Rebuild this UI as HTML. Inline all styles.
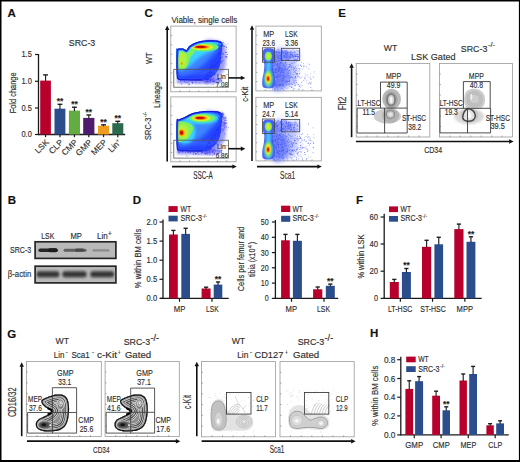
<!DOCTYPE html>
<html><head><meta charset="utf-8"><style>
html,body{margin:0;padding:0;background:#fff;width:520px;height:462px;overflow:hidden;}
svg{display:block;}
text{font-family:"Liberation Sans",sans-serif;fill:#2e2e2e;stroke:#2e2e2e;stroke-width:0.15px;}
</style></head><body>
<svg width="520" height="462" viewBox="0 0 520 462">
<defs>
<filter id="b1" x="-20%" y="-20%" width="140%" height="140%"><feGaussianBlur stdDeviation="1"/></filter>
<filter id="b15" x="-20%" y="-20%" width="140%" height="140%"><feGaussianBlur stdDeviation="1.5"/></filter>
<filter id="b2" x="-30%" y="-30%" width="160%" height="160%"><feGaussianBlur stdDeviation="2"/></filter>
<filter id="b3" x="-30%" y="-30%" width="160%" height="160%"><feGaussianBlur stdDeviation="3"/></filter>
<filter id="b07" x="-20%" y="-20%" width="140%" height="140%"><feGaussianBlur stdDeviation="0.7"/></filter>
</defs>
<rect x="0" y="0" width="520" height="462" fill="#fff"/>

<text x="7.5" y="16.6" font-size="11.5" font-weight="bold" style="fill:#111;stroke:#111" >A</text>
<text x="82" y="46.3" font-size="9.4" text-anchor="middle" textLength="26.5" lengthAdjust="spacingAndGlyphs" >SRC-3</text>
<line x1="38.5" y1="54" x2="38.5" y2="135.1" stroke="#1a1a1a" stroke-width="1.3"/>
<line x1="35" y1="54.5" x2="38.5" y2="54.5" stroke="#1a1a1a" stroke-width="1.2"/>
<text x="31.8" y="57.4" font-size="8.8" text-anchor="end" textLength="10.4" lengthAdjust="spacingAndGlyphs" >1.5</text>
<line x1="35" y1="81.3" x2="38.5" y2="81.3" stroke="#1a1a1a" stroke-width="1.2"/>
<text x="31.8" y="84.2" font-size="8.8" text-anchor="end" textLength="10.4" lengthAdjust="spacingAndGlyphs" >1.0</text>
<line x1="35" y1="108.0" x2="38.5" y2="108.0" stroke="#1a1a1a" stroke-width="1.2"/>
<text x="31.8" y="110.9" font-size="8.8" text-anchor="end" textLength="10.4" lengthAdjust="spacingAndGlyphs" >0.5</text>
<line x1="35" y1="134.5" x2="38.5" y2="134.5" stroke="#1a1a1a" stroke-width="1.2"/>
<text x="31.8" y="137.4" font-size="8.8" text-anchor="end" textLength="10.4" lengthAdjust="spacingAndGlyphs" >0.0</text>
<line x1="38" y1="134.5" x2="125.2" y2="134.5" stroke="#1a1a1a" stroke-width="1.3"/>
<text x="0" y="0" transform="translate(15.6,92.9) rotate(-90)" font-size="9.2" text-anchor="middle" textLength="40.8" lengthAdjust="spacingAndGlyphs" >Fold change</text>
<rect x="40.2" y="80.6" width="10.7" height="53.9" fill="#b8002c"/>
<line x1="45.55" y1="81.1" x2="45.55" y2="74.9" stroke="#1e1e1e" stroke-width="1.15"/>
<line x1="43.15" y1="74.9" x2="47.949999999999996" y2="74.9" stroke="#1e1e1e" stroke-width="1.4"/>
<line x1="45.55" y1="134.5" x2="45.55" y2="137.2" stroke="#1a1a1a" stroke-width="1.2"/>
<rect x="54.5" y="108.7" width="10.9" height="25.8" fill="#2c4d8c"/>
<line x1="59.95" y1="109.2" x2="59.95" y2="104.3" stroke="#1e1e1e" stroke-width="1.15"/>
<line x1="57.550000000000004" y1="104.3" x2="62.35" y2="104.3" stroke="#1e1e1e" stroke-width="1.4"/>
<line x1="59.95" y1="134.5" x2="59.95" y2="137.2" stroke="#1a1a1a" stroke-width="1.2"/>
<text x="59.95" y="104.19999999999999" font-size="8.4" font-weight="bold" text-anchor="middle" style="fill:#222;stroke:#222" >**</text>
<rect x="68.9" y="110.6" width="11.1" height="23.9" fill="#62ac42"/>
<line x1="74.45" y1="111.1" x2="74.45" y2="107.2" stroke="#1e1e1e" stroke-width="1.15"/>
<line x1="72.05000000000001" y1="107.2" x2="76.85" y2="107.2" stroke="#1e1e1e" stroke-width="1.4"/>
<line x1="74.45" y1="134.5" x2="74.45" y2="137.2" stroke="#1a1a1a" stroke-width="1.2"/>
<text x="74.45" y="107.1" font-size="8.4" font-weight="bold" text-anchor="middle" style="fill:#222;stroke:#222" >**</text>
<rect x="83.2" y="117.9" width="11.2" height="16.6" fill="#4e1c6c"/>
<line x1="88.80000000000001" y1="118.4" x2="88.80000000000001" y2="115.0" stroke="#1e1e1e" stroke-width="1.15"/>
<line x1="86.40000000000002" y1="115.0" x2="91.2" y2="115.0" stroke="#1e1e1e" stroke-width="1.4"/>
<line x1="88.80000000000001" y1="134.5" x2="88.80000000000001" y2="137.2" stroke="#1a1a1a" stroke-width="1.2"/>
<text x="88.80000000000001" y="114.89999999999999" font-size="8.4" font-weight="bold" text-anchor="middle" style="fill:#222;stroke:#222" >**</text>
<rect x="98.0" y="125.7" width="11.1" height="8.8" fill="#ee9d1e"/>
<line x1="103.55" y1="126.2" x2="103.55" y2="124.8" stroke="#1e1e1e" stroke-width="1.15"/>
<line x1="101.15" y1="124.8" x2="105.94999999999999" y2="124.8" stroke="#1e1e1e" stroke-width="1.4"/>
<line x1="103.55" y1="134.5" x2="103.55" y2="137.2" stroke="#1a1a1a" stroke-width="1.2"/>
<text x="103.55" y="124.69999999999999" font-size="8.4" font-weight="bold" text-anchor="middle" style="fill:#222;stroke:#222" >**</text>
<rect x="112.3" y="123.2" width="11.0" height="11.3" fill="#2c6a4e"/>
<line x1="117.8" y1="123.7" x2="117.8" y2="121.3" stroke="#1e1e1e" stroke-width="1.15"/>
<line x1="115.4" y1="121.3" x2="120.19999999999999" y2="121.3" stroke="#1e1e1e" stroke-width="1.4"/>
<line x1="117.8" y1="134.5" x2="117.8" y2="137.2" stroke="#1a1a1a" stroke-width="1.2"/>
<text x="117.8" y="121.19999999999999" font-size="8.4" font-weight="bold" text-anchor="middle" style="fill:#222;stroke:#222" >**</text>
<text x="0" y="0" transform="translate(49.349999999999994,142.9) rotate(-45)" font-size="8.39" text-anchor="end" >LSK</text>
<text x="0" y="0" transform="translate(63.75,142.9) rotate(-45)" font-size="8.39" text-anchor="end" >CLP</text>
<text x="0" y="0" transform="translate(78.25,142.9) rotate(-45)" font-size="8.39" text-anchor="end" >CMP</text>
<text x="0" y="0" transform="translate(92.60000000000001,142.9) rotate(-45)" font-size="8.39" text-anchor="end" >GMP</text>
<text x="0" y="0" transform="translate(107.35,142.9) rotate(-45)" font-size="8.39" text-anchor="end" >MEP</text>
<text x="0" y="0" transform="translate(121.6,142.9) rotate(-45)" font-size="8.39" text-anchor="end" >Lin<tspan font-size="5" dy="-3">+</tspan></text>
<text x="7.8" y="203.8" font-size="11.5" font-weight="bold" style="fill:#111;stroke:#111" >B</text>
<text x="47.8" y="239" font-size="8.6" text-anchor="middle" textLength="13.2" lengthAdjust="spacingAndGlyphs" >LSK</text>
<text x="76.1" y="239" font-size="8.6" text-anchor="middle" textLength="11.4" lengthAdjust="spacingAndGlyphs" >MP</text>
<text x="102.3" y="239" font-size="8.6" text-anchor="middle" textLength="10.8" lengthAdjust="spacingAndGlyphs" >Lin</text>
<text x="109.8" y="236" font-size="6.3" text-anchor="middle" >+</text>
<text x="31.2" y="253.2" font-size="9.5" text-anchor="end" textLength="21.2" lengthAdjust="spacingAndGlyphs" >SRC-3</text>
<text x="31.2" y="276.6" font-size="9.5" text-anchor="end" textLength="23.4" lengthAdjust="spacingAndGlyphs" >β-actin</text>
<rect x="35.1" y="241.8" width="80.8" height="16.6" fill="#b9b9b9" stroke="#262626" stroke-width="1.7"/>
<rect x="35.1" y="266.2" width="80.8" height="16.7" fill="#b9b9b9" stroke="#262626" stroke-width="1.7"/>
<g filter="url(#b07)">
<rect x="38.4" y="248.5" width="19.5" height="3.6" rx="1.8" fill="#262626"/>
<rect x="48" y="248.2" width="9.5" height="4.0" rx="2" fill="#1a1a1a"/>
<rect x="63.5" y="248.8" width="23" height="3.0" rx="1.5" fill="#5e5e5e"/>
<rect x="75" y="248.6" width="9" height="3.2" rx="1.5" fill="#4a4a4a"/>
<rect x="92.5" y="249.2" width="17" height="2.4" rx="1.2" fill="#8a8a8a"/>
</g>
<g filter="url(#b1)">
<rect x="36.3" y="270.6" width="23.4" height="7.4" rx="3.5" fill="#6a6a6a"/>
<rect x="62.0" y="270.6" width="25.0" height="7.4" rx="3.5" fill="#6a6a6a"/>
<rect x="89.8" y="270.6" width="24.8" height="7.4" rx="3.5" fill="#6a6a6a"/>
<rect x="37" y="272.3" width="22" height="4.0" rx="2" fill="#2e2e2e"/>
<rect x="63" y="272.3" width="23" height="4.0" rx="2" fill="#2e2e2e"/>
<rect x="91" y="272.3" width="22.5" height="4.0" rx="2" fill="#2e2e2e"/>
</g>
<text x="144.4" y="16.7" font-size="11.5" font-weight="bold" style="fill:#111;stroke:#111" >C</text>
<text x="171.4" y="22.6" font-size="9.1" textLength="66" lengthAdjust="spacingAndGlyphs" >Viable, single cells</text>
<line x1="167.2" y1="161.6" x2="167.2" y2="29.5" stroke="#111" stroke-width="1.6"/>
<path d="M165.0,30.0 L167.2,25.5 L169.39999999999998,30.0 Z" fill="#111"/>
<line x1="252.0" y1="161.0" x2="252.0" y2="29.2" stroke="#111" stroke-width="1.6"/>
<path d="M249.8,29.7 L252.0,25.2 L254.2,29.7 Z" fill="#111"/>
<line x1="172" y1="166.6" x2="232.8" y2="166.6" stroke="#111" stroke-width="1.7"/>
<path d="M232.3,164.4 L236.8,166.6 L232.3,168.79999999999998 Z" fill="#111"/>
<line x1="257" y1="166.6" x2="317.8" y2="166.6" stroke="#111" stroke-width="1.7"/>
<path d="M317.3,164.4 L321.8,166.6 L317.3,168.79999999999998 Z" fill="#111"/>
<text x="202.9" y="178.5" font-size="10.92" text-anchor="middle" textLength="19.5" lengthAdjust="spacingAndGlyphs" >SSC-A</text>
<text x="287.6" y="178.7" font-size="10.92" text-anchor="middle" textLength="15" lengthAdjust="spacingAndGlyphs" >Sca1</text>
<text x="0" y="0" transform="translate(151.6,58.2) rotate(-90)" font-size="9.89" text-anchor="middle" textLength="11.5" lengthAdjust="spacingAndGlyphs" >WT</text>
<g transform="translate(150.7,139.9) rotate(-90)">
<text x="0" y="0" font-size="8.85" textLength="22.3" lengthAdjust="spacingAndGlyphs" >SRC-3</text>
<text x="22.6" y="-4.2" font-size="5.75" textLength="5.6" lengthAdjust="spacingAndGlyphs" >-/-</text>
</g>
<text x="0" y="0" transform="translate(159.8,94.9) rotate(-90)" font-size="8.51" text-anchor="middle" textLength="25.9" lengthAdjust="spacingAndGlyphs" >Lineage</text>
<text x="0" y="0" transform="translate(248.3,94.2) rotate(-90)" font-size="9.89" text-anchor="middle" textLength="15" lengthAdjust="spacingAndGlyphs" >c-Kit</text>
<rect x="170.8" y="26.1" width="65.3" height="65.7" fill="none" stroke="#9a9a9a" stroke-width="0.8"/>
<line x1="170.8" y1="35.48571428571429" x2="172.3" y2="35.48571428571429" stroke="#777" stroke-width="0.6"/>
<line x1="170.8" y1="44.87142857142857" x2="172.3" y2="44.87142857142857" stroke="#777" stroke-width="0.6"/>
<line x1="170.8" y1="54.25714285714285" x2="172.3" y2="54.25714285714285" stroke="#777" stroke-width="0.6"/>
<line x1="170.8" y1="63.64285714285714" x2="172.3" y2="63.64285714285714" stroke="#777" stroke-width="0.6"/>
<line x1="170.8" y1="73.02857142857142" x2="172.3" y2="73.02857142857142" stroke="#777" stroke-width="0.6"/>
<line x1="170.8" y1="82.41428571428571" x2="172.3" y2="82.41428571428571" stroke="#777" stroke-width="0.6"/>
<line x1="180.12857142857143" y1="91.8" x2="180.12857142857143" y2="90.3" stroke="#777" stroke-width="0.6"/>
<line x1="189.45714285714286" y1="91.8" x2="189.45714285714286" y2="90.3" stroke="#777" stroke-width="0.6"/>
<line x1="198.78571428571428" y1="91.8" x2="198.78571428571428" y2="90.3" stroke="#777" stroke-width="0.6"/>
<line x1="208.1142857142857" y1="91.8" x2="208.1142857142857" y2="90.3" stroke="#777" stroke-width="0.6"/>
<line x1="217.44285714285712" y1="91.8" x2="217.44285714285712" y2="90.3" stroke="#777" stroke-width="0.6"/>
<line x1="226.77142857142857" y1="91.8" x2="226.77142857142857" y2="90.3" stroke="#777" stroke-width="0.6"/>
<rect x="170.8" y="96.9" width="65.3" height="64.9" fill="none" stroke="#9a9a9a" stroke-width="0.8"/>
<line x1="170.8" y1="106.17142857142858" x2="172.3" y2="106.17142857142858" stroke="#777" stroke-width="0.6"/>
<line x1="170.8" y1="115.44285714285715" x2="172.3" y2="115.44285714285715" stroke="#777" stroke-width="0.6"/>
<line x1="170.8" y1="124.71428571428572" x2="172.3" y2="124.71428571428572" stroke="#777" stroke-width="0.6"/>
<line x1="170.8" y1="133.9857142857143" x2="172.3" y2="133.9857142857143" stroke="#777" stroke-width="0.6"/>
<line x1="170.8" y1="143.25714285714287" x2="172.3" y2="143.25714285714287" stroke="#777" stroke-width="0.6"/>
<line x1="170.8" y1="152.52857142857144" x2="172.3" y2="152.52857142857144" stroke="#777" stroke-width="0.6"/>
<line x1="180.12857142857143" y1="161.8" x2="180.12857142857143" y2="160.3" stroke="#777" stroke-width="0.6"/>
<line x1="189.45714285714286" y1="161.8" x2="189.45714285714286" y2="160.3" stroke="#777" stroke-width="0.6"/>
<line x1="198.78571428571428" y1="161.8" x2="198.78571428571428" y2="160.3" stroke="#777" stroke-width="0.6"/>
<line x1="208.1142857142857" y1="161.8" x2="208.1142857142857" y2="160.3" stroke="#777" stroke-width="0.6"/>
<line x1="217.44285714285712" y1="161.8" x2="217.44285714285712" y2="160.3" stroke="#777" stroke-width="0.6"/>
<line x1="226.77142857142857" y1="161.8" x2="226.77142857142857" y2="160.3" stroke="#777" stroke-width="0.6"/>
<rect x="255.9" y="26.1" width="65.4" height="64.8" fill="none" stroke="#9a9a9a" stroke-width="0.8"/>
<line x1="255.9" y1="35.35714285714286" x2="257.4" y2="35.35714285714286" stroke="#777" stroke-width="0.6"/>
<line x1="255.9" y1="44.614285714285714" x2="257.4" y2="44.614285714285714" stroke="#777" stroke-width="0.6"/>
<line x1="255.9" y1="53.87142857142858" x2="257.4" y2="53.87142857142858" stroke="#777" stroke-width="0.6"/>
<line x1="255.9" y1="63.12857142857143" x2="257.4" y2="63.12857142857143" stroke="#777" stroke-width="0.6"/>
<line x1="255.9" y1="72.3857142857143" x2="257.4" y2="72.3857142857143" stroke="#777" stroke-width="0.6"/>
<line x1="255.9" y1="81.64285714285715" x2="257.4" y2="81.64285714285715" stroke="#777" stroke-width="0.6"/>
<line x1="265.24285714285713" y1="90.9" x2="265.24285714285713" y2="89.4" stroke="#777" stroke-width="0.6"/>
<line x1="274.5857142857143" y1="90.9" x2="274.5857142857143" y2="89.4" stroke="#777" stroke-width="0.6"/>
<line x1="283.92857142857144" y1="90.9" x2="283.92857142857144" y2="89.4" stroke="#777" stroke-width="0.6"/>
<line x1="293.2714285714286" y1="90.9" x2="293.2714285714286" y2="89.4" stroke="#777" stroke-width="0.6"/>
<line x1="302.6142857142857" y1="90.9" x2="302.6142857142857" y2="89.4" stroke="#777" stroke-width="0.6"/>
<line x1="311.95714285714286" y1="90.9" x2="311.95714285714286" y2="89.4" stroke="#777" stroke-width="0.6"/>
<rect x="255.9" y="97.3" width="65.4" height="63.6" fill="none" stroke="#9a9a9a" stroke-width="0.8"/>
<line x1="255.9" y1="106.38571428571429" x2="257.4" y2="106.38571428571429" stroke="#777" stroke-width="0.6"/>
<line x1="255.9" y1="115.47142857142858" x2="257.4" y2="115.47142857142858" stroke="#777" stroke-width="0.6"/>
<line x1="255.9" y1="124.55714285714285" x2="257.4" y2="124.55714285714285" stroke="#777" stroke-width="0.6"/>
<line x1="255.9" y1="133.64285714285714" x2="257.4" y2="133.64285714285714" stroke="#777" stroke-width="0.6"/>
<line x1="255.9" y1="142.72857142857143" x2="257.4" y2="142.72857142857143" stroke="#777" stroke-width="0.6"/>
<line x1="255.9" y1="151.81428571428572" x2="257.4" y2="151.81428571428572" stroke="#777" stroke-width="0.6"/>
<line x1="265.24285714285713" y1="160.9" x2="265.24285714285713" y2="159.4" stroke="#777" stroke-width="0.6"/>
<line x1="274.5857142857143" y1="160.9" x2="274.5857142857143" y2="159.4" stroke="#777" stroke-width="0.6"/>
<line x1="283.92857142857144" y1="160.9" x2="283.92857142857144" y2="159.4" stroke="#777" stroke-width="0.6"/>
<line x1="293.2714285714286" y1="160.9" x2="293.2714285714286" y2="159.4" stroke="#777" stroke-width="0.6"/>
<line x1="302.6142857142857" y1="160.9" x2="302.6142857142857" y2="159.4" stroke="#777" stroke-width="0.6"/>
<line x1="311.95714285714286" y1="160.9" x2="311.95714285714286" y2="159.4" stroke="#777" stroke-width="0.6"/>
<clipPath id="cclip1"><path d="M176.60,50.50 C176.75,46.15 177.03,49.23 177.60,48.90 C178.17,48.57 179.10,48.55 180.00,48.50 C180.90,48.45 182.13,48.43 183.00,48.60 C183.87,48.77 184.63,49.23 185.20,49.50 C185.77,49.77 185.97,50.42 186.40,50.20 C186.83,49.98 187.20,48.97 187.80,48.20 C188.40,47.43 188.87,46.47 190.00,45.60 C191.13,44.73 192.93,43.72 194.60,43.00 C196.27,42.28 198.27,41.72 200.00,41.30 C201.73,40.88 203.00,40.67 205.00,40.50 C207.00,40.33 209.83,40.25 212.00,40.30 C214.17,40.35 216.42,40.45 218.00,40.80 C219.58,41.15 220.75,41.53 221.50,42.40 C222.25,43.27 222.50,43.90 222.50,46.00 C222.50,48.10 221.83,52.00 221.50,55.00 C221.17,58.00 221.17,61.33 220.50,64.00 C219.83,66.67 218.92,68.83 217.50,71.00 C216.08,73.17 214.08,75.47 212.00,77.00 C209.92,78.53 209.50,79.67 205.00,80.20 C200.50,80.73 189.47,80.32 185.00,80.20 C180.53,80.08 179.58,80.37 178.20,79.50 C176.82,78.63 176.97,79.83 176.70,75.00 C176.43,70.17 176.45,54.85 176.60,50.50 Z"/></clipPath>
<path d="M205.00,41.00 C207.50,37.92 216.67,40.67 220.00,41.50 C223.33,42.33 224.00,42.92 225.00,46.00 C226.00,49.08 226.17,56.00 226.00,60.00 C225.83,64.00 225.67,66.83 224.00,70.00 C222.33,73.17 219.17,77.00 216.00,79.00 C212.83,81.00 206.83,85.17 205.00,82.00 C203.17,78.83 205.00,66.83 205.00,60.00 C205.00,53.17 202.50,44.08 205.00,41.00 Z" fill="#3a3af0" fill-opacity="0.5" filter="url(#b15)"/>
<path d="M180.00,78.00 C186.25,77.50 208.00,77.67 215.00,78.00 C222.00,78.33 222.00,79.08 222.00,80.00 C222.00,80.92 222.00,82.92 215.00,83.50 C208.00,84.08 186.25,83.92 180.00,83.50 C173.75,83.08 177.50,81.92 177.50,81.00 C177.50,80.08 173.75,78.50 180.00,78.00 Z" fill="#3a3af0" fill-opacity="0.5" filter="url(#b1)"/>
<g clip-path="url(#cclip1)">
<path d="M176.60,50.50 C176.75,46.15 177.03,49.23 177.60,48.90 C178.17,48.57 179.10,48.55 180.00,48.50 C180.90,48.45 182.13,48.43 183.00,48.60 C183.87,48.77 184.63,49.23 185.20,49.50 C185.77,49.77 185.97,50.42 186.40,50.20 C186.83,49.98 187.20,48.97 187.80,48.20 C188.40,47.43 188.87,46.47 190.00,45.60 C191.13,44.73 192.93,43.72 194.60,43.00 C196.27,42.28 198.27,41.72 200.00,41.30 C201.73,40.88 203.00,40.67 205.00,40.50 C207.00,40.33 209.83,40.25 212.00,40.30 C214.17,40.35 216.42,40.45 218.00,40.80 C219.58,41.15 220.75,41.53 221.50,42.40 C222.25,43.27 222.50,43.90 222.50,46.00 C222.50,48.10 221.83,52.00 221.50,55.00 C221.17,58.00 221.17,61.33 220.50,64.00 C219.83,66.67 218.92,68.83 217.50,71.00 C216.08,73.17 214.08,75.47 212.00,77.00 C209.92,78.53 209.50,79.67 205.00,80.20 C200.50,80.73 189.47,80.32 185.00,80.20 C180.53,80.08 179.58,80.37 178.20,79.50 C176.82,78.63 176.97,79.83 176.70,75.00 C176.43,70.17 176.45,54.85 176.60,50.50 Z" fill="#2444ff"/>
<path d="M178.00,51.00 C179.17,47.25 183.17,52.50 186.00,51.50 C188.83,50.50 189.67,46.42 195.00,45.00 C200.33,43.58 214.33,42.17 218.00,43.00 C221.67,43.83 218.33,47.50 217.00,50.00 C215.67,52.50 212.50,55.33 210.00,58.00 C207.50,60.67 205.00,63.67 202.00,66.00 C199.00,68.33 195.83,70.67 192.00,72.00 C188.17,73.33 181.33,77.50 179.00,74.00 C176.67,70.50 176.83,54.75 178.00,51.00 Z" fill="#3d86ff" filter="url(#b2)"/>
<path d="M178,70 L200,69.5 L220,70 L220,74 L200,74.5 L178,74.5 Z" fill="#3a6cff" fill-opacity="0.6" filter="url(#b15)"/>
<path d="M176.00,49.00 C177.67,45.67 183.67,50.17 186.00,49.50 C188.33,48.83 188.17,46.22 190.00,45.00 C191.83,43.78 192.50,42.83 197.00,42.20 C201.50,41.57 214.00,40.07 217.00,41.20 C220.00,42.33 217.00,46.87 215.00,49.00 C213.00,51.13 208.17,52.17 205.00,54.00 C201.83,55.83 198.83,57.83 196.00,60.00 C193.17,62.17 191.33,65.42 188.00,67.00 C184.67,68.58 178.00,72.50 176.00,69.50 C174.00,66.50 174.33,52.33 176.00,49.00 Z" fill="#3ad2ff" filter="url(#b15)"/>
<path d="M177.00,50.50 C177.45,47.33 178.92,49.62 180.00,49.50 C181.08,49.38 182.42,49.55 183.50,49.80 C184.58,50.05 185.50,51.30 186.50,51.00 C187.50,50.70 188.42,48.78 189.50,48.00 C190.58,47.22 191.92,46.13 193.00,46.30 C194.08,46.47 195.92,47.80 196.00,49.00 C196.08,50.20 194.50,52.00 193.50,53.50 C192.50,55.00 190.88,56.25 190.00,58.00 C189.12,59.75 188.95,62.28 188.20,64.00 C187.45,65.72 187.32,67.55 185.50,68.30 C183.68,69.05 178.72,71.47 177.30,68.50 C175.88,65.53 176.55,53.67 177.00,50.50 Z" fill="#7ef05a" filter="url(#b07)"/>
<ellipse cx="182.4" cy="59.8" rx="4.6" ry="8.4" fill="#b4f03c" filter="url(#b1)"/>
<ellipse cx="181.8" cy="63.6" rx="1.1" ry="1.4" fill="#f0a000" filter="url(#b07)"/>
<ellipse cx="203.0" cy="47.1" rx="15.5" ry="4.4" fill="#6cf070" filter="url(#b07)"/>
<ellipse cx="202.0" cy="47.1" rx="11.5" ry="3.0" fill="#d8f030" filter="url(#b07)"/>
<ellipse cx="201.5" cy="47.0" rx="8.5" ry="2.1" fill="#ffb000" filter="url(#b07)"/>
<ellipse cx="201.0" cy="46.9" rx="6.4" ry="1.35" fill="#e03000" filter="url(#b07)"/>
<ellipse cx="200.5" cy="46.9" rx="4.4" ry="0.85" fill="#c00000" filter="url(#b07)"/>
<path d="M176.70,78.00 C169.05,78.75 176.45,55.35 176.60,50.50 C176.75,45.65 177.03,49.23 177.60,48.90 C178.17,48.57 179.10,48.55 180.00,48.50 C180.90,48.45 182.13,48.43 183.00,48.60 C183.87,48.77 184.63,49.23 185.20,49.50 C185.77,49.77 185.97,50.42 186.40,50.20 C186.83,49.98 187.20,48.97 187.80,48.20 C188.40,47.43 188.87,46.47 190.00,45.60 C191.13,44.73 192.93,43.72 194.60,43.00 C196.27,42.28 198.27,41.72 200.00,41.30 C201.73,40.88 203.00,40.67 205.00,40.50 C207.00,40.33 209.83,40.25 212.00,40.30 C214.17,40.35 216.42,40.45 218.00,40.80 C219.58,41.15 220.75,41.53 221.50,42.40 C222.25,43.27 229.97,40.07 222.50,46.00" fill="none" stroke="#3ad2ff" stroke-width="5.5" filter="url(#b07)"/>
<path d="M210.00,79.50 C206.25,85.20 204.17,80.08 200.00,80.20 C195.83,80.32 188.63,80.32 185.00,80.20 C181.37,80.08 179.58,80.37 178.20,79.50 C176.82,78.63 176.97,79.83 176.70,75.00 C176.43,70.17 176.45,54.85 176.60,50.50 C176.75,46.15 177.03,49.23 177.60,48.90 C178.17,48.57 179.10,48.55 180.00,48.50 C180.90,48.45 182.13,48.43 183.00,48.60 C183.87,48.77 184.63,49.23 185.20,49.50 C185.77,49.77 185.97,50.42 186.40,50.20 C186.83,49.98 187.20,48.97 187.80,48.20 C188.40,47.43 188.87,46.47 190.00,45.60 C191.13,44.73 192.93,43.72 194.60,43.00 C196.27,42.28 198.27,41.72 200.00,41.30 C201.73,40.88 203.00,40.67 205.00,40.50 C207.00,40.33 209.83,40.25 212.00,40.30 C214.17,40.35 216.42,40.45 218.00,40.80 C219.58,41.15 220.75,41.53 221.50,42.40 C222.25,43.27 224.42,39.82 222.50,46.00" fill="none" stroke="#2a4cff" stroke-width="3.6" filter="url(#b07)"/>
<path d="M210.00,79.50 C206.25,85.20 204.17,80.08 200.00,80.20 C195.83,80.32 188.63,80.32 185.00,80.20 C181.37,80.08 179.58,80.37 178.20,79.50 C176.82,78.63 176.97,79.83 176.70,75.00 C176.43,70.17 176.45,54.85 176.60,50.50 C176.75,46.15 177.03,49.23 177.60,48.90 C178.17,48.57 179.10,48.55 180.00,48.50 C180.90,48.45 182.13,48.43 183.00,48.60 C183.87,48.77 184.63,49.23 185.20,49.50 C185.77,49.77 185.97,50.42 186.40,50.20 C186.83,49.98 187.20,48.97 187.80,48.20 C188.40,47.43 188.87,46.47 190.00,45.60 C191.13,44.73 192.93,43.72 194.60,43.00 C196.27,42.28 198.27,41.72 200.00,41.30 C201.73,40.88 203.00,40.67 205.00,40.50 C207.00,40.33 209.83,40.25 212.00,40.30 C214.17,40.35 216.42,40.45 218.00,40.80 C219.58,41.15 220.75,41.53 221.50,42.40 C222.25,43.27 224.42,39.82 222.50,46.00" fill="none" stroke="#1212c8" stroke-width="1.8" filter="url(#b07)"/>
</g>
<circle cx="221.9" cy="45.1" r="0.50" fill="#2a2af0" fill-opacity="0.34"/><circle cx="226.5" cy="47.3" r="0.62" fill="#2a2af0" fill-opacity="0.57"/><circle cx="227.3" cy="54.5" r="0.57" fill="#2a2af0" fill-opacity="0.73"/><circle cx="221.6" cy="58.0" r="0.64" fill="#2a2af0" fill-opacity="0.26"/><circle cx="210.4" cy="71.3" r="0.49" fill="#2a2af0" fill-opacity="0.34"/><circle cx="213.2" cy="67.2" r="0.53" fill="#2a2af0" fill-opacity="0.77"/><circle cx="211.3" cy="66.7" r="0.60" fill="#2a2af0" fill-opacity="0.27"/><circle cx="222.4" cy="43.0" r="0.45" fill="#2a2af0" fill-opacity="0.74"/><circle cx="206.5" cy="75.0" r="0.57" fill="#2a2af0" fill-opacity="0.49"/><circle cx="217.6" cy="67.3" r="0.52" fill="#2a2af0" fill-opacity="0.34"/><circle cx="205.7" cy="79.6" r="0.61" fill="#2a2af0" fill-opacity="0.49"/><circle cx="217.1" cy="62.8" r="0.62" fill="#2a2af0" fill-opacity="0.62"/><circle cx="211.9" cy="77.6" r="0.42" fill="#2a2af0" fill-opacity="0.45"/><circle cx="205.6" cy="82.9" r="0.45" fill="#2a2af0" fill-opacity="0.79"/><circle cx="209.3" cy="75.2" r="0.55" fill="#2a2af0" fill-opacity="0.28"/><circle cx="225.3" cy="56.2" r="0.44" fill="#2a2af0" fill-opacity="0.47"/><circle cx="210.3" cy="68.8" r="0.52" fill="#2a2af0" fill-opacity="0.60"/><circle cx="214.1" cy="65.6" r="0.50" fill="#2a2af0" fill-opacity="0.46"/><circle cx="211.3" cy="67.2" r="0.40" fill="#2a2af0" fill-opacity="0.60"/><circle cx="218.6" cy="42.8" r="0.48" fill="#2a2af0" fill-opacity="0.26"/><circle cx="209.0" cy="72.8" r="0.51" fill="#2a2af0" fill-opacity="0.84"/><circle cx="218.4" cy="56.6" r="0.41" fill="#2a2af0" fill-opacity="0.34"/><circle cx="213.3" cy="73.1" r="0.57" fill="#2a2af0" fill-opacity="0.41"/><circle cx="219.4" cy="60.9" r="0.47" fill="#2a2af0" fill-opacity="0.55"/><circle cx="213.6" cy="68.8" r="0.47" fill="#2a2af0" fill-opacity="0.59"/><circle cx="206.0" cy="75.5" r="0.53" fill="#2a2af0" fill-opacity="0.82"/><circle cx="223.2" cy="45.8" r="0.65" fill="#2a2af0" fill-opacity="0.27"/><circle cx="222.9" cy="60.3" r="0.54" fill="#2a2af0" fill-opacity="0.71"/><circle cx="207.2" cy="78.8" r="0.62" fill="#2a2af0" fill-opacity="0.71"/><circle cx="212.9" cy="74.7" r="0.56" fill="#2a2af0" fill-opacity="0.63"/><circle cx="206.8" cy="73.9" r="0.49" fill="#2a2af0" fill-opacity="0.42"/><circle cx="217.3" cy="63.6" r="0.60" fill="#2a2af0" fill-opacity="0.77"/><circle cx="211.1" cy="67.2" r="0.63" fill="#2a2af0" fill-opacity="0.66"/><circle cx="205.1" cy="76.3" r="0.48" fill="#2a2af0" fill-opacity="0.71"/><circle cx="206.7" cy="73.7" r="0.58" fill="#2a2af0" fill-opacity="0.56"/><circle cx="222.6" cy="54.5" r="0.56" fill="#2a2af0" fill-opacity="0.46"/><circle cx="217.1" cy="62.1" r="0.54" fill="#2a2af0" fill-opacity="0.49"/><circle cx="217.8" cy="61.4" r="0.42" fill="#2a2af0" fill-opacity="0.45"/><circle cx="213.2" cy="78.1" r="0.48" fill="#2a2af0" fill-opacity="0.84"/><circle cx="207.6" cy="77.9" r="0.52" fill="#2a2af0" fill-opacity="0.47"/><circle cx="222.1" cy="54.9" r="0.46" fill="#2a2af0" fill-opacity="0.39"/><circle cx="211.7" cy="66.5" r="0.49" fill="#2a2af0" fill-opacity="0.33"/><circle cx="218.6" cy="58.2" r="0.40" fill="#2a2af0" fill-opacity="0.77"/><circle cx="219.3" cy="43.7" r="0.51" fill="#2a2af0" fill-opacity="0.52"/><circle cx="211.5" cy="69.4" r="0.54" fill="#2a2af0" fill-opacity="0.43"/><circle cx="210.8" cy="67.8" r="0.44" fill="#2a2af0" fill-opacity="0.29"/><circle cx="206.6" cy="81.6" r="0.48" fill="#2a2af0" fill-opacity="0.44"/><circle cx="211.8" cy="72.8" r="0.58" fill="#2a2af0" fill-opacity="0.58"/><circle cx="214.4" cy="75.6" r="0.63" fill="#2a2af0" fill-opacity="0.45"/><circle cx="210.1" cy="74.4" r="0.63" fill="#2a2af0" fill-opacity="0.60"/><circle cx="214.7" cy="73.7" r="0.42" fill="#2a2af0" fill-opacity="0.36"/><circle cx="221.1" cy="51.4" r="0.55" fill="#2a2af0" fill-opacity="0.84"/><circle cx="211.6" cy="67.8" r="0.49" fill="#2a2af0" fill-opacity="0.71"/><circle cx="213.5" cy="71.2" r="0.51" fill="#2a2af0" fill-opacity="0.77"/><circle cx="219.3" cy="69.5" r="0.42" fill="#2a2af0" fill-opacity="0.54"/><circle cx="209.3" cy="71.9" r="0.62" fill="#2a2af0" fill-opacity="0.42"/><circle cx="210.1" cy="73.3" r="0.46" fill="#2a2af0" fill-opacity="0.26"/><circle cx="205.2" cy="80.8" r="0.44" fill="#2a2af0" fill-opacity="0.41"/><circle cx="221.2" cy="57.9" r="0.58" fill="#2a2af0" fill-opacity="0.38"/><circle cx="206.4" cy="81.8" r="0.50" fill="#2a2af0" fill-opacity="0.37"/><circle cx="209.2" cy="75.8" r="0.55" fill="#2a2af0" fill-opacity="0.77"/><circle cx="215.4" cy="64.3" r="0.56" fill="#2a2af0" fill-opacity="0.37"/><circle cx="215.9" cy="67.1" r="0.58" fill="#2a2af0" fill-opacity="0.83"/><circle cx="216.5" cy="63.9" r="0.55" fill="#2a2af0" fill-opacity="0.30"/><circle cx="221.5" cy="45.5" r="0.60" fill="#2a2af0" fill-opacity="0.78"/><circle cx="212.1" cy="77.1" r="0.49" fill="#2a2af0" fill-opacity="0.33"/><circle cx="209.4" cy="75.7" r="0.45" fill="#2a2af0" fill-opacity="0.57"/><circle cx="209.6" cy="74.0" r="0.62" fill="#2a2af0" fill-opacity="0.63"/><circle cx="222.0" cy="43.0" r="0.63" fill="#2a2af0" fill-opacity="0.38"/><circle cx="221.2" cy="62.4" r="0.48" fill="#2a2af0" fill-opacity="0.70"/><circle cx="206.5" cy="75.5" r="0.56" fill="#2a2af0" fill-opacity="0.49"/><circle cx="210.2" cy="68.1" r="0.57" fill="#2a2af0" fill-opacity="0.45"/><circle cx="223.5" cy="53.4" r="0.41" fill="#2a2af0" fill-opacity="0.50"/><circle cx="210.6" cy="79.8" r="0.41" fill="#2a2af0" fill-opacity="0.63"/><circle cx="219.8" cy="55.2" r="0.48" fill="#2a2af0" fill-opacity="0.55"/><circle cx="207.8" cy="81.9" r="0.55" fill="#2a2af0" fill-opacity="0.40"/><circle cx="207.5" cy="74.6" r="0.52" fill="#2a2af0" fill-opacity="0.26"/><circle cx="212.3" cy="72.8" r="0.63" fill="#2a2af0" fill-opacity="0.59"/><circle cx="215.7" cy="60.8" r="0.65" fill="#2a2af0" fill-opacity="0.28"/><circle cx="210.6" cy="79.1" r="0.55" fill="#2a2af0" fill-opacity="0.68"/><circle cx="226.3" cy="49.3" r="0.48" fill="#2a2af0" fill-opacity="0.31"/><circle cx="217.9" cy="56.9" r="0.44" fill="#2a2af0" fill-opacity="0.34"/><circle cx="210.6" cy="72.1" r="0.59" fill="#2a2af0" fill-opacity="0.30"/><circle cx="207.1" cy="75.9" r="0.60" fill="#2a2af0" fill-opacity="0.50"/><circle cx="213.5" cy="64.5" r="0.53" fill="#2a2af0" fill-opacity="0.60"/><circle cx="221.6" cy="46.6" r="0.54" fill="#2a2af0" fill-opacity="0.64"/><circle cx="221.7" cy="61.5" r="0.55" fill="#2a2af0" fill-opacity="0.45"/><circle cx="221.3" cy="46.2" r="0.59" fill="#2a2af0" fill-opacity="0.40"/><circle cx="219.1" cy="48.9" r="0.58" fill="#2a2af0" fill-opacity="0.71"/><circle cx="210.5" cy="71.4" r="0.59" fill="#2a2af0" fill-opacity="0.44"/><circle cx="210.7" cy="76.5" r="0.59" fill="#2a2af0" fill-opacity="0.84"/><circle cx="217.2" cy="66.2" r="0.51" fill="#2a2af0" fill-opacity="0.42"/><circle cx="212.7" cy="65.6" r="0.53" fill="#2a2af0" fill-opacity="0.81"/><circle cx="223.8" cy="54.1" r="0.43" fill="#2a2af0" fill-opacity="0.26"/><circle cx="221.5" cy="42.6" r="0.52" fill="#2a2af0" fill-opacity="0.64"/><circle cx="211.1" cy="75.4" r="0.59" fill="#2a2af0" fill-opacity="0.47"/><circle cx="205.2" cy="78.2" r="0.65" fill="#2a2af0" fill-opacity="0.39"/><circle cx="221.5" cy="43.2" r="0.59" fill="#2a2af0" fill-opacity="0.30"/><circle cx="214.5" cy="62.4" r="0.41" fill="#2a2af0" fill-opacity="0.33"/><circle cx="225.0" cy="51.1" r="0.42" fill="#2a2af0" fill-opacity="0.55"/><circle cx="225.6" cy="56.2" r="0.54" fill="#2a2af0" fill-opacity="0.36"/><circle cx="212.8" cy="67.2" r="0.63" fill="#2a2af0" fill-opacity="0.47"/><circle cx="210.5" cy="70.7" r="0.44" fill="#2a2af0" fill-opacity="0.36"/><circle cx="224.8" cy="46.4" r="0.58" fill="#2a2af0" fill-opacity="0.80"/><circle cx="206.0" cy="75.3" r="0.44" fill="#2a2af0" fill-opacity="0.27"/><circle cx="219.8" cy="43.7" r="0.59" fill="#2a2af0" fill-opacity="0.40"/><circle cx="207.3" cy="79.4" r="0.65" fill="#2a2af0" fill-opacity="0.55"/><circle cx="211.3" cy="73.5" r="0.56" fill="#2a2af0" fill-opacity="0.46"/><circle cx="206.3" cy="75.3" r="0.60" fill="#2a2af0" fill-opacity="0.53"/><circle cx="223.6" cy="42.5" r="0.48" fill="#2a2af0" fill-opacity="0.79"/><circle cx="213.1" cy="73.4" r="0.43" fill="#2a2af0" fill-opacity="0.69"/><circle cx="214.6" cy="66.7" r="0.42" fill="#2a2af0" fill-opacity="0.64"/><circle cx="219.7" cy="54.6" r="0.50" fill="#2a2af0" fill-opacity="0.77"/><circle cx="226.0" cy="54.2" r="0.41" fill="#2a2af0" fill-opacity="0.59"/><circle cx="211.1" cy="66.9" r="0.50" fill="#2a2af0" fill-opacity="0.80"/><circle cx="220.3" cy="50.1" r="0.64" fill="#2a2af0" fill-opacity="0.63"/><circle cx="209.7" cy="72.1" r="0.46" fill="#2a2af0" fill-opacity="0.40"/><circle cx="219.7" cy="59.3" r="0.47" fill="#2a2af0" fill-opacity="0.51"/><circle cx="220.5" cy="56.8" r="0.46" fill="#2a2af0" fill-opacity="0.37"/><circle cx="219.7" cy="53.2" r="0.59" fill="#2a2af0" fill-opacity="0.64"/><circle cx="215.2" cy="61.3" r="0.47" fill="#2a2af0" fill-opacity="0.85"/><circle cx="212.8" cy="67.4" r="0.45" fill="#2a2af0" fill-opacity="0.59"/><circle cx="219.4" cy="48.2" r="0.44" fill="#2a2af0" fill-opacity="0.77"/><circle cx="226.8" cy="56.4" r="0.62" fill="#2a2af0" fill-opacity="0.41"/><circle cx="226.0" cy="56.7" r="0.59" fill="#2a2af0" fill-opacity="0.74"/><circle cx="205.0" cy="77.8" r="0.47" fill="#2a2af0" fill-opacity="0.45"/><circle cx="220.8" cy="63.3" r="0.52" fill="#2a2af0" fill-opacity="0.78"/><circle cx="210.4" cy="68.3" r="0.44" fill="#2a2af0" fill-opacity="0.66"/><circle cx="206.7" cy="73.5" r="0.55" fill="#2a2af0" fill-opacity="0.52"/><circle cx="226.6" cy="57.8" r="0.54" fill="#2a2af0" fill-opacity="0.78"/><circle cx="214.7" cy="67.6" r="0.45" fill="#2a2af0" fill-opacity="0.78"/><circle cx="218.5" cy="61.2" r="0.49" fill="#2a2af0" fill-opacity="0.72"/><circle cx="208.1" cy="72.7" r="0.62" fill="#2a2af0" fill-opacity="0.36"/><circle cx="214.9" cy="74.3" r="0.62" fill="#2a2af0" fill-opacity="0.85"/><circle cx="205.5" cy="83.6" r="0.47" fill="#2a2af0" fill-opacity="0.26"/><circle cx="211.5" cy="77.1" r="0.43" fill="#2a2af0" fill-opacity="0.83"/><circle cx="207.5" cy="72.1" r="0.40" fill="#2a2af0" fill-opacity="0.80"/><circle cx="217.8" cy="63.5" r="0.44" fill="#2a2af0" fill-opacity="0.69"/><circle cx="216.0" cy="69.2" r="0.42" fill="#2a2af0" fill-opacity="0.35"/><circle cx="218.8" cy="45.0" r="0.57" fill="#2a2af0" fill-opacity="0.30"/><circle cx="221.7" cy="53.4" r="0.48" fill="#2a2af0" fill-opacity="0.80"/><circle cx="212.1" cy="65.3" r="0.58" fill="#2a2af0" fill-opacity="0.78"/><circle cx="221.2" cy="52.8" r="0.64" fill="#2a2af0" fill-opacity="0.27"/><circle cx="212.9" cy="69.8" r="0.46" fill="#2a2af0" fill-opacity="0.73"/><circle cx="218.9" cy="48.4" r="0.57" fill="#2a2af0" fill-opacity="0.27"/><circle cx="220.9" cy="62.2" r="0.53" fill="#2a2af0" fill-opacity="0.39"/><circle cx="218.3" cy="58.5" r="0.51" fill="#2a2af0" fill-opacity="0.31"/><circle cx="215.1" cy="60.9" r="0.40" fill="#2a2af0" fill-opacity="0.84"/><circle cx="208.3" cy="79.4" r="0.48" fill="#2a2af0" fill-opacity="0.78"/><circle cx="214.9" cy="61.4" r="0.43" fill="#2a2af0" fill-opacity="0.54"/><circle cx="223.8" cy="54.6" r="0.43" fill="#2a2af0" fill-opacity="0.51"/><circle cx="219.4" cy="58.5" r="0.44" fill="#2a2af0" fill-opacity="0.66"/><circle cx="220.0" cy="67.0" r="0.44" fill="#2a2af0" fill-opacity="0.69"/><circle cx="214.3" cy="67.6" r="0.53" fill="#2a2af0" fill-opacity="0.32"/><circle cx="215.4" cy="66.1" r="0.49" fill="#2a2af0" fill-opacity="0.55"/><circle cx="213.9" cy="64.8" r="0.63" fill="#2a2af0" fill-opacity="0.46"/><circle cx="209.7" cy="69.1" r="0.45" fill="#2a2af0" fill-opacity="0.83"/><circle cx="219.4" cy="53.4" r="0.62" fill="#2a2af0" fill-opacity="0.69"/><circle cx="209.1" cy="74.7" r="0.47" fill="#2a2af0" fill-opacity="0.36"/><circle cx="226.0" cy="44.7" r="0.47" fill="#2a2af0" fill-opacity="0.29"/><circle cx="216.7" cy="58.6" r="0.41" fill="#2a2af0" fill-opacity="0.56"/><circle cx="216.4" cy="68.7" r="0.50" fill="#2a2af0" fill-opacity="0.58"/><circle cx="215.1" cy="72.9" r="0.49" fill="#2a2af0" fill-opacity="0.26"/><circle cx="225.6" cy="52.5" r="0.57" fill="#2a2af0" fill-opacity="0.64"/><circle cx="222.3" cy="56.7" r="0.54" fill="#2a2af0" fill-opacity="0.58"/><circle cx="223.4" cy="46.0" r="0.57" fill="#2a2af0" fill-opacity="0.84"/><circle cx="214.2" cy="73.1" r="0.62" fill="#2a2af0" fill-opacity="0.68"/><circle cx="220.3" cy="57.8" r="0.50" fill="#2a2af0" fill-opacity="0.44"/><circle cx="219.1" cy="53.6" r="0.50" fill="#2a2af0" fill-opacity="0.83"/><circle cx="214.4" cy="63.5" r="0.50" fill="#2a2af0" fill-opacity="0.48"/><circle cx="223.6" cy="54.1" r="0.50" fill="#2a2af0" fill-opacity="0.34"/><circle cx="222.3" cy="57.1" r="0.65" fill="#2a2af0" fill-opacity="0.25"/><circle cx="205.0" cy="77.9" r="0.55" fill="#2a2af0" fill-opacity="0.81"/><circle cx="221.3" cy="61.5" r="0.46" fill="#2a2af0" fill-opacity="0.62"/><circle cx="208.6" cy="72.4" r="0.49" fill="#2a2af0" fill-opacity="0.39"/><circle cx="226.6" cy="46.9" r="0.45" fill="#2a2af0" fill-opacity="0.32"/><circle cx="210.1" cy="72.2" r="0.61" fill="#2a2af0" fill-opacity="0.72"/><circle cx="217.2" cy="57.6" r="0.63" fill="#2a2af0" fill-opacity="0.28"/><circle cx="219.1" cy="42.4" r="0.57" fill="#2a2af0" fill-opacity="0.44"/><circle cx="222.0" cy="52.8" r="0.56" fill="#2a2af0" fill-opacity="0.58"/><circle cx="209.8" cy="69.4" r="0.48" fill="#2a2af0" fill-opacity="0.83"/><circle cx="209.8" cy="77.5" r="0.40" fill="#2a2af0" fill-opacity="0.70"/><circle cx="214.6" cy="65.7" r="0.61" fill="#2a2af0" fill-opacity="0.56"/><circle cx="226.6" cy="52.3" r="0.55" fill="#2a2af0" fill-opacity="0.85"/><circle cx="217.9" cy="63.5" r="0.46" fill="#2a2af0" fill-opacity="0.63"/><circle cx="212.8" cy="67.0" r="0.59" fill="#2a2af0" fill-opacity="0.48"/><circle cx="222.9" cy="49.0" r="0.58" fill="#2a2af0" fill-opacity="0.49"/><circle cx="212.4" cy="70.4" r="0.53" fill="#2a2af0" fill-opacity="0.62"/><circle cx="216.5" cy="66.2" r="0.57" fill="#2a2af0" fill-opacity="0.44"/><circle cx="220.8" cy="54.8" r="0.56" fill="#2a2af0" fill-opacity="0.58"/><circle cx="228.0" cy="43.2" r="0.46" fill="#2a2af0" fill-opacity="0.62"/><circle cx="222.6" cy="61.2" r="0.47" fill="#2a2af0" fill-opacity="0.80"/><circle cx="215.8" cy="64.8" r="0.52" fill="#2a2af0" fill-opacity="0.68"/><circle cx="207.9" cy="79.1" r="0.53" fill="#2a2af0" fill-opacity="0.54"/><circle cx="219.4" cy="51.7" r="0.46" fill="#2a2af0" fill-opacity="0.34"/><circle cx="220.3" cy="45.4" r="0.63" fill="#2a2af0" fill-opacity="0.57"/><circle cx="208.6" cy="75.4" r="0.53" fill="#2a2af0" fill-opacity="0.57"/><circle cx="222.6" cy="52.9" r="0.60" fill="#2a2af0" fill-opacity="0.39"/><circle cx="207.9" cy="76.4" r="0.44" fill="#2a2af0" fill-opacity="0.74"/><circle cx="219.4" cy="54.5" r="0.52" fill="#2a2af0" fill-opacity="0.63"/>
<circle cx="214.0" cy="79.9" r="0.51" fill="#2a2af0" fill-opacity="0.29"/><circle cx="189.1" cy="79.7" r="0.56" fill="#2a2af0" fill-opacity="0.68"/><circle cx="213.1" cy="84.3" r="0.55" fill="#2a2af0" fill-opacity="0.49"/><circle cx="207.9" cy="81.6" r="0.53" fill="#2a2af0" fill-opacity="0.60"/><circle cx="188.5" cy="81.6" r="0.46" fill="#2a2af0" fill-opacity="0.77"/><circle cx="194.8" cy="79.1" r="0.65" fill="#2a2af0" fill-opacity="0.73"/><circle cx="203.1" cy="79.4" r="0.64" fill="#2a2af0" fill-opacity="0.45"/><circle cx="209.6" cy="80.9" r="0.65" fill="#2a2af0" fill-opacity="0.29"/><circle cx="188.6" cy="84.8" r="0.52" fill="#2a2af0" fill-opacity="0.33"/><circle cx="194.4" cy="79.3" r="0.51" fill="#2a2af0" fill-opacity="0.66"/><circle cx="192.5" cy="79.5" r="0.58" fill="#2a2af0" fill-opacity="0.52"/><circle cx="217.7" cy="84.3" r="0.49" fill="#2a2af0" fill-opacity="0.36"/><circle cx="214.9" cy="81.9" r="0.50" fill="#2a2af0" fill-opacity="0.42"/><circle cx="210.6" cy="81.8" r="0.45" fill="#2a2af0" fill-opacity="0.69"/><circle cx="211.9" cy="79.8" r="0.53" fill="#2a2af0" fill-opacity="0.51"/><circle cx="181.4" cy="84.7" r="0.45" fill="#2a2af0" fill-opacity="0.67"/><circle cx="199.2" cy="79.4" r="0.45" fill="#2a2af0" fill-opacity="0.41"/><circle cx="192.7" cy="82.6" r="0.54" fill="#2a2af0" fill-opacity="0.67"/><circle cx="221.5" cy="80.9" r="0.64" fill="#2a2af0" fill-opacity="0.70"/><circle cx="186.9" cy="79.4" r="0.64" fill="#2a2af0" fill-opacity="0.80"/><circle cx="180.3" cy="81.2" r="0.58" fill="#2a2af0" fill-opacity="0.68"/><circle cx="196.0" cy="83.0" r="0.42" fill="#2a2af0" fill-opacity="0.37"/><circle cx="216.6" cy="79.4" r="0.40" fill="#2a2af0" fill-opacity="0.77"/><circle cx="206.1" cy="79.3" r="0.58" fill="#2a2af0" fill-opacity="0.63"/><circle cx="181.2" cy="83.2" r="0.47" fill="#2a2af0" fill-opacity="0.46"/><circle cx="182.4" cy="79.7" r="0.44" fill="#2a2af0" fill-opacity="0.63"/><circle cx="184.8" cy="79.4" r="0.65" fill="#2a2af0" fill-opacity="0.43"/><circle cx="188.2" cy="83.1" r="0.41" fill="#2a2af0" fill-opacity="0.36"/><circle cx="187.8" cy="82.8" r="0.49" fill="#2a2af0" fill-opacity="0.79"/><circle cx="207.9" cy="79.8" r="0.60" fill="#2a2af0" fill-opacity="0.52"/><circle cx="219.3" cy="82.7" r="0.43" fill="#2a2af0" fill-opacity="0.31"/><circle cx="218.9" cy="79.7" r="0.44" fill="#2a2af0" fill-opacity="0.72"/><circle cx="181.9" cy="80.0" r="0.52" fill="#2a2af0" fill-opacity="0.84"/><circle cx="218.7" cy="79.2" r="0.63" fill="#2a2af0" fill-opacity="0.73"/><circle cx="206.9" cy="79.4" r="0.52" fill="#2a2af0" fill-opacity="0.74"/><circle cx="181.1" cy="82.9" r="0.43" fill="#2a2af0" fill-opacity="0.32"/><circle cx="198.3" cy="79.2" r="0.54" fill="#2a2af0" fill-opacity="0.55"/><circle cx="182.3" cy="83.5" r="0.45" fill="#2a2af0" fill-opacity="0.40"/><circle cx="203.4" cy="81.5" r="0.41" fill="#2a2af0" fill-opacity="0.80"/><circle cx="207.2" cy="80.1" r="0.58" fill="#2a2af0" fill-opacity="0.82"/><circle cx="216.4" cy="82.4" r="0.65" fill="#2a2af0" fill-opacity="0.51"/><circle cx="199.8" cy="82.8" r="0.58" fill="#2a2af0" fill-opacity="0.48"/><circle cx="198.6" cy="80.1" r="0.60" fill="#2a2af0" fill-opacity="0.75"/><circle cx="200.3" cy="81.6" r="0.43" fill="#2a2af0" fill-opacity="0.26"/><circle cx="195.8" cy="80.4" r="0.45" fill="#2a2af0" fill-opacity="0.60"/><circle cx="217.2" cy="79.1" r="0.49" fill="#2a2af0" fill-opacity="0.26"/><circle cx="184.8" cy="80.8" r="0.61" fill="#2a2af0" fill-opacity="0.72"/><circle cx="195.3" cy="82.6" r="0.52" fill="#2a2af0" fill-opacity="0.28"/><circle cx="217.2" cy="79.6" r="0.62" fill="#2a2af0" fill-opacity="0.57"/><circle cx="209.3" cy="79.4" r="0.42" fill="#2a2af0" fill-opacity="0.44"/><circle cx="218.5" cy="79.1" r="0.56" fill="#2a2af0" fill-opacity="0.78"/><circle cx="196.1" cy="81.8" r="0.52" fill="#2a2af0" fill-opacity="0.63"/><circle cx="184.7" cy="81.4" r="0.45" fill="#2a2af0" fill-opacity="0.40"/><circle cx="186.7" cy="80.5" r="0.63" fill="#2a2af0" fill-opacity="0.48"/><circle cx="212.6" cy="79.6" r="0.43" fill="#2a2af0" fill-opacity="0.60"/><circle cx="207.6" cy="84.2" r="0.43" fill="#2a2af0" fill-opacity="0.37"/><circle cx="186.7" cy="82.2" r="0.51" fill="#2a2af0" fill-opacity="0.60"/><circle cx="214.3" cy="81.8" r="0.56" fill="#2a2af0" fill-opacity="0.67"/><circle cx="178.2" cy="82.4" r="0.51" fill="#2a2af0" fill-opacity="0.29"/><circle cx="204.6" cy="82.2" r="0.58" fill="#2a2af0" fill-opacity="0.28"/><circle cx="205.2" cy="81.0" r="0.52" fill="#2a2af0" fill-opacity="0.49"/><circle cx="208.0" cy="79.3" r="0.57" fill="#2a2af0" fill-opacity="0.68"/><circle cx="185.1" cy="82.7" r="0.46" fill="#2a2af0" fill-opacity="0.64"/><circle cx="213.6" cy="80.8" r="0.57" fill="#2a2af0" fill-opacity="0.53"/><circle cx="217.3" cy="83.7" r="0.44" fill="#2a2af0" fill-opacity="0.80"/><circle cx="217.9" cy="82.5" r="0.55" fill="#2a2af0" fill-opacity="0.29"/><circle cx="221.0" cy="79.4" r="0.46" fill="#2a2af0" fill-opacity="0.84"/><circle cx="211.0" cy="79.2" r="0.46" fill="#2a2af0" fill-opacity="0.49"/><circle cx="212.9" cy="81.4" r="0.60" fill="#2a2af0" fill-opacity="0.74"/><circle cx="210.5" cy="80.2" r="0.56" fill="#2a2af0" fill-opacity="0.69"/><circle cx="180.4" cy="81.1" r="0.41" fill="#2a2af0" fill-opacity="0.31"/><circle cx="192.1" cy="82.1" r="0.64" fill="#2a2af0" fill-opacity="0.73"/><circle cx="189.4" cy="81.8" r="0.41" fill="#2a2af0" fill-opacity="0.28"/><circle cx="220.4" cy="80.9" r="0.46" fill="#2a2af0" fill-opacity="0.81"/><circle cx="201.3" cy="81.0" r="0.45" fill="#2a2af0" fill-opacity="0.65"/><circle cx="189.4" cy="84.4" r="0.63" fill="#2a2af0" fill-opacity="0.63"/><circle cx="219.4" cy="80.9" r="0.63" fill="#2a2af0" fill-opacity="0.41"/><circle cx="210.7" cy="81.4" r="0.44" fill="#2a2af0" fill-opacity="0.26"/><circle cx="213.5" cy="81.4" r="0.59" fill="#2a2af0" fill-opacity="0.31"/><circle cx="192.9" cy="79.5" r="0.64" fill="#2a2af0" fill-opacity="0.68"/><circle cx="214.9" cy="80.1" r="0.45" fill="#2a2af0" fill-opacity="0.73"/><circle cx="190.1" cy="79.5" r="0.44" fill="#2a2af0" fill-opacity="0.56"/><circle cx="214.3" cy="80.9" r="0.43" fill="#2a2af0" fill-opacity="0.72"/><circle cx="187.9" cy="79.7" r="0.62" fill="#2a2af0" fill-opacity="0.80"/><circle cx="208.8" cy="79.5" r="0.40" fill="#2a2af0" fill-opacity="0.76"/><circle cx="192.3" cy="79.0" r="0.54" fill="#2a2af0" fill-opacity="0.74"/><circle cx="184.1" cy="80.9" r="0.53" fill="#2a2af0" fill-opacity="0.62"/><circle cx="192.6" cy="83.0" r="0.55" fill="#2a2af0" fill-opacity="0.73"/><circle cx="213.6" cy="82.8" r="0.42" fill="#2a2af0" fill-opacity="0.28"/><circle cx="212.2" cy="79.2" r="0.54" fill="#2a2af0" fill-opacity="0.42"/>
<clipPath id="cclip2"><path d="M176.60,121.00 C176.90,116.60 177.77,120.00 178.50,119.60 C179.23,119.20 180.08,118.98 181.00,118.60 C181.92,118.22 182.92,117.80 184.00,117.30 C185.08,116.80 186.33,116.18 187.50,115.60 C188.67,115.02 189.75,114.30 191.00,113.80 C192.25,113.30 193.50,112.97 195.00,112.60 C196.50,112.23 198.33,111.87 200.00,111.60 C201.67,111.33 203.00,111.10 205.00,111.00 C207.00,110.90 209.83,110.90 212.00,111.00 C214.17,111.10 216.42,111.20 218.00,111.60 C219.58,112.00 220.75,112.50 221.50,113.40 C222.25,114.30 222.50,114.90 222.50,117.00 C222.50,119.10 221.83,123.00 221.50,126.00 C221.17,129.00 221.17,132.33 220.50,135.00 C219.83,137.67 218.92,139.83 217.50,142.00 C216.08,144.17 214.08,146.47 212.00,148.00 C209.92,149.53 209.50,150.67 205.00,151.20 C200.50,151.73 189.47,151.32 185.00,151.20 C180.53,151.08 179.58,151.37 178.20,150.50 C176.82,149.63 176.97,150.92 176.70,146.00 C176.43,141.08 176.30,125.40 176.60,121.00 Z"/></clipPath>
<path d="M205.00,112.00 C207.50,108.92 216.67,111.67 220.00,112.50 C223.33,113.33 224.00,113.92 225.00,117.00 C226.00,120.08 226.17,127.00 226.00,131.00 C225.83,135.00 225.67,137.83 224.00,141.00 C222.33,144.17 219.17,148.00 216.00,150.00 C212.83,152.00 206.83,156.17 205.00,153.00 C203.17,149.83 205.00,137.83 205.00,131.00 C205.00,124.17 202.50,115.08 205.00,112.00 Z" fill="#3a3af0" fill-opacity="0.5" filter="url(#b15)"/>
<path d="M180.00,149.00 C186.25,148.50 208.00,148.67 215.00,149.00 C222.00,149.33 222.00,150.08 222.00,151.00 C222.00,151.92 222.00,153.92 215.00,154.50 C208.00,155.08 186.25,154.92 180.00,154.50 C173.75,154.08 177.50,152.92 177.50,152.00 C177.50,151.08 173.75,149.50 180.00,149.00 Z" fill="#3a3af0" fill-opacity="0.5" filter="url(#b1)"/>
<g clip-path="url(#cclip2)">
<path d="M176.60,121.00 C176.90,116.60 177.77,120.00 178.50,119.60 C179.23,119.20 180.08,118.98 181.00,118.60 C181.92,118.22 182.92,117.80 184.00,117.30 C185.08,116.80 186.33,116.18 187.50,115.60 C188.67,115.02 189.75,114.30 191.00,113.80 C192.25,113.30 193.50,112.97 195.00,112.60 C196.50,112.23 198.33,111.87 200.00,111.60 C201.67,111.33 203.00,111.10 205.00,111.00 C207.00,110.90 209.83,110.90 212.00,111.00 C214.17,111.10 216.42,111.20 218.00,111.60 C219.58,112.00 220.75,112.50 221.50,113.40 C222.25,114.30 222.50,114.90 222.50,117.00 C222.50,119.10 221.83,123.00 221.50,126.00 C221.17,129.00 221.17,132.33 220.50,135.00 C219.83,137.67 218.92,139.83 217.50,142.00 C216.08,144.17 214.08,146.47 212.00,148.00 C209.92,149.53 209.50,150.67 205.00,151.20 C200.50,151.73 189.47,151.32 185.00,151.20 C180.53,151.08 179.58,151.37 178.20,150.50 C176.82,149.63 176.97,150.92 176.70,146.00 C176.43,141.08 176.30,125.40 176.60,121.00 Z" fill="#2444ff"/>
<path d="M178.00,122.00 C179.17,118.25 183.17,123.50 186.00,122.50 C188.83,121.50 189.67,117.42 195.00,116.00 C200.33,114.58 214.33,113.17 218.00,114.00 C221.67,114.83 218.33,118.50 217.00,121.00 C215.67,123.50 212.50,126.33 210.00,129.00 C207.50,131.67 205.00,134.67 202.00,137.00 C199.00,139.33 195.83,141.67 192.00,143.00 C188.17,144.33 181.33,148.50 179.00,145.00 C176.67,141.50 176.83,125.75 178.00,122.00 Z" fill="#3d86ff" filter="url(#b2)"/>
<path d="M178,141.0 L200,140.5 L220,141.0 L220,145.0 L200,145.5 L178,145.5 Z" fill="#3a6cff" fill-opacity="0.6" filter="url(#b15)"/>
<ellipse cx="201.5" cy="118.3" rx="17" ry="6" fill="#3ad2ff" filter="url(#b1)"/>
<ellipse cx="185" cy="131.5" rx="10.5" ry="12" fill="#3ad2ff" filter="url(#b1)"/>
<path d="M177.00,122.00 C177.62,118.83 179.50,121.45 181.00,121.50 C182.50,121.55 184.58,121.97 186.00,122.30 C187.42,122.63 188.42,122.88 189.50,123.50 C190.58,124.12 191.92,125.00 192.50,126.00 C193.08,127.00 193.25,128.17 193.00,129.50 C192.75,130.83 191.83,132.50 191.00,134.00 C190.17,135.50 189.33,137.33 188.00,138.50 C186.67,139.67 184.78,140.67 183.00,141.00 C181.22,141.33 178.30,143.67 177.30,140.50 C176.30,137.33 176.38,125.17 177.00,122.00 Z" fill="#7ef05a" filter="url(#b07)"/>
<ellipse cx="183.2" cy="131.5" rx="5.4" ry="7.6" fill="#b4f03c" filter="url(#b1)"/>
<ellipse cx="181.9" cy="132.8" rx="3.2" ry="3.8" fill="#ffc000" filter="url(#b07)"/>
<ellipse cx="181.6" cy="132.8" rx="2.2" ry="2.7" fill="#f05000" filter="url(#b07)"/>
<ellipse cx="181.5" cy="132.8" rx="1.4" ry="1.8" fill="#c00800" filter="url(#b07)"/>
<ellipse cx="202.3" cy="118.1" rx="13" ry="4.4" fill="#6cf070" filter="url(#b07)"/>
<ellipse cx="201.3" cy="118.1" rx="9.5" ry="3.0" fill="#d8f030" filter="url(#b07)"/>
<ellipse cx="200.8" cy="118.0" rx="7" ry="2.1" fill="#ffb000" filter="url(#b07)"/>
<ellipse cx="200.3" cy="117.9" rx="5" ry="1.35" fill="#e03000" filter="url(#b07)"/>
<ellipse cx="199.8" cy="117.9" rx="3.4" ry="0.85" fill="#c00000" filter="url(#b07)"/>
<path d="M210.00,150.50 C206.25,156.20 204.17,151.08 200.00,151.20 C195.83,151.32 188.63,151.32 185.00,151.20 C181.37,151.08 179.58,151.37 178.20,150.50 C176.82,149.63 176.97,150.92 176.70,146.00 C176.43,141.08 176.30,125.40 176.60,121.00 C176.90,116.60 177.77,120.00 178.50,119.60 C179.23,119.20 180.08,118.98 181.00,118.60 C181.92,118.22 182.92,117.80 184.00,117.30 C185.08,116.80 186.33,116.18 187.50,115.60 C188.67,115.02 189.75,114.30 191.00,113.80 C192.25,113.30 193.50,112.97 195.00,112.60 C196.50,112.23 198.33,111.87 200.00,111.60 C201.67,111.33 203.00,111.10 205.00,111.00 C207.00,110.90 209.83,110.90 212.00,111.00 C214.17,111.10 216.42,111.20 218.00,111.60 C219.58,112.00 220.75,112.50 221.50,113.40 C222.25,114.30 224.42,110.82 222.50,117.00" fill="none" stroke="#2a4cff" stroke-width="3.6" filter="url(#b07)"/>
<path d="M210.00,150.50 C206.25,156.20 204.17,151.08 200.00,151.20 C195.83,151.32 188.63,151.32 185.00,151.20 C181.37,151.08 179.58,151.37 178.20,150.50 C176.82,149.63 176.97,150.92 176.70,146.00 C176.43,141.08 176.30,125.40 176.60,121.00 C176.90,116.60 177.77,120.00 178.50,119.60 C179.23,119.20 180.08,118.98 181.00,118.60 C181.92,118.22 182.92,117.80 184.00,117.30 C185.08,116.80 186.33,116.18 187.50,115.60 C188.67,115.02 189.75,114.30 191.00,113.80 C192.25,113.30 193.50,112.97 195.00,112.60 C196.50,112.23 198.33,111.87 200.00,111.60 C201.67,111.33 203.00,111.10 205.00,111.00 C207.00,110.90 209.83,110.90 212.00,111.00 C214.17,111.10 216.42,111.20 218.00,111.60 C219.58,112.00 220.75,112.50 221.50,113.40 C222.25,114.30 224.42,110.82 222.50,117.00" fill="none" stroke="#1212c8" stroke-width="1.8" filter="url(#b07)"/>
</g>
<circle cx="221.9" cy="121.9" r="0.42" fill="#2a2af0" fill-opacity="0.62"/><circle cx="212.9" cy="145.8" r="0.62" fill="#2a2af0" fill-opacity="0.33"/><circle cx="208.0" cy="142.8" r="0.45" fill="#2a2af0" fill-opacity="0.71"/><circle cx="218.5" cy="132.6" r="0.52" fill="#2a2af0" fill-opacity="0.81"/><circle cx="212.5" cy="152.0" r="0.48" fill="#2a2af0" fill-opacity="0.49"/><circle cx="224.6" cy="123.7" r="0.64" fill="#2a2af0" fill-opacity="0.46"/><circle cx="225.0" cy="120.6" r="0.64" fill="#2a2af0" fill-opacity="0.78"/><circle cx="207.5" cy="153.1" r="0.45" fill="#2a2af0" fill-opacity="0.58"/><circle cx="222.4" cy="124.9" r="0.64" fill="#2a2af0" fill-opacity="0.32"/><circle cx="209.9" cy="151.9" r="0.61" fill="#2a2af0" fill-opacity="0.71"/><circle cx="214.5" cy="144.1" r="0.59" fill="#2a2af0" fill-opacity="0.61"/><circle cx="225.5" cy="123.8" r="0.42" fill="#2a2af0" fill-opacity="0.83"/><circle cx="218.6" cy="117.8" r="0.43" fill="#2a2af0" fill-opacity="0.72"/><circle cx="225.7" cy="125.3" r="0.58" fill="#2a2af0" fill-opacity="0.44"/><circle cx="224.9" cy="122.6" r="0.57" fill="#2a2af0" fill-opacity="0.50"/><circle cx="214.5" cy="140.6" r="0.59" fill="#2a2af0" fill-opacity="0.28"/><circle cx="226.7" cy="123.1" r="0.63" fill="#2a2af0" fill-opacity="0.48"/><circle cx="217.0" cy="143.6" r="0.60" fill="#2a2af0" fill-opacity="0.53"/><circle cx="209.4" cy="150.2" r="0.60" fill="#2a2af0" fill-opacity="0.43"/><circle cx="222.2" cy="128.5" r="0.54" fill="#2a2af0" fill-opacity="0.27"/><circle cx="210.0" cy="145.2" r="0.52" fill="#2a2af0" fill-opacity="0.30"/><circle cx="205.3" cy="153.8" r="0.61" fill="#2a2af0" fill-opacity="0.66"/><circle cx="210.6" cy="148.9" r="0.51" fill="#2a2af0" fill-opacity="0.83"/><circle cx="213.9" cy="141.8" r="0.64" fill="#2a2af0" fill-opacity="0.82"/><circle cx="216.8" cy="130.6" r="0.42" fill="#2a2af0" fill-opacity="0.67"/><circle cx="206.3" cy="152.3" r="0.58" fill="#2a2af0" fill-opacity="0.61"/><circle cx="207.0" cy="151.6" r="0.40" fill="#2a2af0" fill-opacity="0.80"/><circle cx="209.7" cy="142.8" r="0.51" fill="#2a2af0" fill-opacity="0.61"/><circle cx="218.6" cy="142.1" r="0.60" fill="#2a2af0" fill-opacity="0.42"/><circle cx="224.9" cy="118.5" r="0.41" fill="#2a2af0" fill-opacity="0.80"/><circle cx="215.6" cy="131.1" r="0.47" fill="#2a2af0" fill-opacity="0.27"/><circle cx="223.9" cy="124.7" r="0.43" fill="#2a2af0" fill-opacity="0.85"/><circle cx="223.1" cy="113.2" r="0.58" fill="#2a2af0" fill-opacity="0.38"/><circle cx="213.7" cy="135.5" r="0.44" fill="#2a2af0" fill-opacity="0.79"/><circle cx="215.9" cy="133.6" r="0.57" fill="#2a2af0" fill-opacity="0.60"/><circle cx="209.0" cy="142.8" r="0.43" fill="#2a2af0" fill-opacity="0.50"/><circle cx="225.6" cy="122.9" r="0.64" fill="#2a2af0" fill-opacity="0.25"/><circle cx="222.2" cy="124.2" r="0.50" fill="#2a2af0" fill-opacity="0.28"/><circle cx="218.2" cy="135.4" r="0.65" fill="#2a2af0" fill-opacity="0.31"/><circle cx="215.1" cy="133.8" r="0.64" fill="#2a2af0" fill-opacity="0.75"/><circle cx="222.4" cy="122.5" r="0.58" fill="#2a2af0" fill-opacity="0.28"/><circle cx="214.7" cy="132.2" r="0.57" fill="#2a2af0" fill-opacity="0.55"/><circle cx="216.8" cy="140.4" r="0.52" fill="#2a2af0" fill-opacity="0.34"/><circle cx="221.1" cy="125.9" r="0.53" fill="#2a2af0" fill-opacity="0.73"/><circle cx="207.4" cy="154.4" r="0.43" fill="#2a2af0" fill-opacity="0.78"/><circle cx="212.5" cy="146.0" r="0.50" fill="#2a2af0" fill-opacity="0.41"/><circle cx="226.7" cy="120.3" r="0.46" fill="#2a2af0" fill-opacity="0.53"/><circle cx="210.0" cy="154.2" r="0.56" fill="#2a2af0" fill-opacity="0.59"/><circle cx="226.1" cy="127.6" r="0.62" fill="#2a2af0" fill-opacity="0.56"/><circle cx="224.4" cy="127.7" r="0.53" fill="#2a2af0" fill-opacity="0.84"/><circle cx="219.9" cy="113.4" r="0.45" fill="#2a2af0" fill-opacity="0.26"/><circle cx="219.0" cy="127.5" r="0.48" fill="#2a2af0" fill-opacity="0.44"/><circle cx="206.2" cy="150.4" r="0.43" fill="#2a2af0" fill-opacity="0.50"/><circle cx="225.7" cy="122.8" r="0.41" fill="#2a2af0" fill-opacity="0.80"/><circle cx="206.8" cy="144.9" r="0.52" fill="#2a2af0" fill-opacity="0.78"/><circle cx="217.0" cy="130.3" r="0.57" fill="#2a2af0" fill-opacity="0.69"/><circle cx="219.9" cy="117.6" r="0.59" fill="#2a2af0" fill-opacity="0.43"/><circle cx="208.2" cy="152.3" r="0.58" fill="#2a2af0" fill-opacity="0.37"/><circle cx="213.6" cy="144.5" r="0.54" fill="#2a2af0" fill-opacity="0.61"/><circle cx="219.6" cy="119.2" r="0.59" fill="#2a2af0" fill-opacity="0.35"/><circle cx="215.9" cy="135.1" r="0.49" fill="#2a2af0" fill-opacity="0.74"/><circle cx="206.8" cy="147.3" r="0.60" fill="#2a2af0" fill-opacity="0.84"/><circle cx="224.9" cy="123.5" r="0.43" fill="#2a2af0" fill-opacity="0.38"/><circle cx="221.1" cy="126.0" r="0.43" fill="#2a2af0" fill-opacity="0.68"/><circle cx="223.0" cy="129.9" r="0.59" fill="#2a2af0" fill-opacity="0.64"/><circle cx="219.3" cy="130.3" r="0.59" fill="#2a2af0" fill-opacity="0.56"/><circle cx="217.5" cy="134.3" r="0.54" fill="#2a2af0" fill-opacity="0.80"/><circle cx="206.5" cy="147.6" r="0.56" fill="#2a2af0" fill-opacity="0.64"/><circle cx="221.4" cy="117.8" r="0.55" fill="#2a2af0" fill-opacity="0.55"/><circle cx="222.7" cy="114.4" r="0.59" fill="#2a2af0" fill-opacity="0.59"/><circle cx="221.0" cy="126.6" r="0.43" fill="#2a2af0" fill-opacity="0.51"/><circle cx="211.8" cy="139.3" r="0.51" fill="#2a2af0" fill-opacity="0.51"/><circle cx="225.2" cy="117.4" r="0.54" fill="#2a2af0" fill-opacity="0.47"/><circle cx="208.0" cy="150.5" r="0.50" fill="#2a2af0" fill-opacity="0.51"/><circle cx="221.9" cy="117.2" r="0.49" fill="#2a2af0" fill-opacity="0.83"/><circle cx="208.1" cy="145.2" r="0.42" fill="#2a2af0" fill-opacity="0.26"/><circle cx="221.6" cy="129.2" r="0.58" fill="#2a2af0" fill-opacity="0.49"/><circle cx="208.6" cy="148.0" r="0.51" fill="#2a2af0" fill-opacity="0.61"/><circle cx="224.4" cy="123.0" r="0.49" fill="#2a2af0" fill-opacity="0.39"/><circle cx="209.2" cy="142.4" r="0.40" fill="#2a2af0" fill-opacity="0.77"/><circle cx="212.4" cy="140.1" r="0.63" fill="#2a2af0" fill-opacity="0.42"/><circle cx="209.7" cy="148.8" r="0.52" fill="#2a2af0" fill-opacity="0.44"/><circle cx="215.5" cy="143.0" r="0.41" fill="#2a2af0" fill-opacity="0.79"/><circle cx="224.4" cy="124.6" r="0.61" fill="#2a2af0" fill-opacity="0.39"/><circle cx="215.7" cy="136.4" r="0.46" fill="#2a2af0" fill-opacity="0.67"/><circle cx="211.2" cy="145.5" r="0.60" fill="#2a2af0" fill-opacity="0.53"/><circle cx="226.4" cy="123.4" r="0.50" fill="#2a2af0" fill-opacity="0.39"/><circle cx="217.4" cy="129.7" r="0.60" fill="#2a2af0" fill-opacity="0.77"/><circle cx="221.9" cy="131.2" r="0.61" fill="#2a2af0" fill-opacity="0.32"/><circle cx="221.3" cy="115.5" r="0.55" fill="#2a2af0" fill-opacity="0.84"/><circle cx="209.4" cy="141.8" r="0.58" fill="#2a2af0" fill-opacity="0.53"/><circle cx="222.4" cy="122.6" r="0.44" fill="#2a2af0" fill-opacity="0.29"/><circle cx="222.9" cy="131.5" r="0.58" fill="#2a2af0" fill-opacity="0.29"/><circle cx="218.1" cy="134.0" r="0.60" fill="#2a2af0" fill-opacity="0.65"/><circle cx="225.8" cy="117.9" r="0.52" fill="#2a2af0" fill-opacity="0.78"/><circle cx="214.5" cy="143.6" r="0.63" fill="#2a2af0" fill-opacity="0.62"/><circle cx="207.4" cy="144.2" r="0.42" fill="#2a2af0" fill-opacity="0.60"/><circle cx="223.6" cy="118.0" r="0.51" fill="#2a2af0" fill-opacity="0.40"/><circle cx="222.5" cy="113.2" r="0.63" fill="#2a2af0" fill-opacity="0.69"/><circle cx="217.6" cy="127.5" r="0.43" fill="#2a2af0" fill-opacity="0.39"/><circle cx="218.3" cy="138.3" r="0.49" fill="#2a2af0" fill-opacity="0.59"/><circle cx="218.1" cy="131.0" r="0.48" fill="#2a2af0" fill-opacity="0.51"/><circle cx="224.0" cy="122.2" r="0.60" fill="#2a2af0" fill-opacity="0.36"/><circle cx="207.8" cy="147.2" r="0.58" fill="#2a2af0" fill-opacity="0.45"/><circle cx="217.7" cy="128.9" r="0.64" fill="#2a2af0" fill-opacity="0.82"/><circle cx="225.1" cy="129.1" r="0.48" fill="#2a2af0" fill-opacity="0.61"/><circle cx="220.5" cy="124.0" r="0.43" fill="#2a2af0" fill-opacity="0.50"/><circle cx="221.2" cy="121.1" r="0.56" fill="#2a2af0" fill-opacity="0.63"/><circle cx="211.1" cy="138.2" r="0.49" fill="#2a2af0" fill-opacity="0.27"/><circle cx="213.5" cy="140.7" r="0.43" fill="#2a2af0" fill-opacity="0.59"/><circle cx="211.2" cy="149.8" r="0.44" fill="#2a2af0" fill-opacity="0.43"/><circle cx="220.3" cy="129.2" r="0.55" fill="#2a2af0" fill-opacity="0.79"/><circle cx="210.9" cy="139.9" r="0.53" fill="#2a2af0" fill-opacity="0.40"/><circle cx="225.8" cy="117.5" r="0.55" fill="#2a2af0" fill-opacity="0.42"/><circle cx="217.8" cy="129.0" r="0.60" fill="#2a2af0" fill-opacity="0.34"/><circle cx="213.7" cy="139.4" r="0.47" fill="#2a2af0" fill-opacity="0.51"/><circle cx="214.7" cy="144.5" r="0.63" fill="#2a2af0" fill-opacity="0.35"/><circle cx="221.8" cy="118.9" r="0.45" fill="#2a2af0" fill-opacity="0.33"/><circle cx="213.2" cy="136.7" r="0.45" fill="#2a2af0" fill-opacity="0.45"/><circle cx="217.6" cy="139.5" r="0.50" fill="#2a2af0" fill-opacity="0.71"/><circle cx="213.0" cy="142.2" r="0.50" fill="#2a2af0" fill-opacity="0.54"/><circle cx="214.5" cy="132.3" r="0.50" fill="#2a2af0" fill-opacity="0.71"/><circle cx="218.5" cy="113.7" r="0.63" fill="#2a2af0" fill-opacity="0.51"/><circle cx="228.4" cy="127.6" r="0.63" fill="#2a2af0" fill-opacity="0.40"/><circle cx="224.0" cy="122.8" r="0.64" fill="#2a2af0" fill-opacity="0.57"/><circle cx="223.1" cy="130.0" r="0.57" fill="#2a2af0" fill-opacity="0.48"/><circle cx="218.3" cy="134.6" r="0.47" fill="#2a2af0" fill-opacity="0.33"/><circle cx="215.6" cy="135.6" r="0.62" fill="#2a2af0" fill-opacity="0.47"/><circle cx="214.2" cy="147.9" r="0.57" fill="#2a2af0" fill-opacity="0.53"/><circle cx="212.2" cy="140.3" r="0.53" fill="#2a2af0" fill-opacity="0.37"/><circle cx="214.8" cy="137.9" r="0.44" fill="#2a2af0" fill-opacity="0.45"/><circle cx="208.3" cy="146.4" r="0.57" fill="#2a2af0" fill-opacity="0.58"/><circle cx="215.7" cy="134.9" r="0.40" fill="#2a2af0" fill-opacity="0.68"/><circle cx="220.0" cy="121.2" r="0.51" fill="#2a2af0" fill-opacity="0.29"/><circle cx="219.0" cy="131.9" r="0.46" fill="#2a2af0" fill-opacity="0.38"/><circle cx="210.7" cy="146.6" r="0.61" fill="#2a2af0" fill-opacity="0.58"/><circle cx="221.9" cy="129.0" r="0.48" fill="#2a2af0" fill-opacity="0.40"/><circle cx="223.0" cy="119.6" r="0.47" fill="#2a2af0" fill-opacity="0.42"/><circle cx="217.0" cy="129.0" r="0.49" fill="#2a2af0" fill-opacity="0.72"/><circle cx="223.8" cy="117.9" r="0.60" fill="#2a2af0" fill-opacity="0.67"/><circle cx="207.8" cy="143.0" r="0.62" fill="#2a2af0" fill-opacity="0.64"/><circle cx="216.5" cy="131.8" r="0.43" fill="#2a2af0" fill-opacity="0.28"/><circle cx="219.9" cy="123.5" r="0.44" fill="#2a2af0" fill-opacity="0.40"/><circle cx="210.3" cy="140.6" r="0.53" fill="#2a2af0" fill-opacity="0.74"/><circle cx="222.1" cy="113.9" r="0.55" fill="#2a2af0" fill-opacity="0.51"/><circle cx="213.4" cy="138.7" r="0.46" fill="#2a2af0" fill-opacity="0.84"/><circle cx="208.3" cy="141.8" r="0.59" fill="#2a2af0" fill-opacity="0.45"/><circle cx="206.8" cy="153.3" r="0.41" fill="#2a2af0" fill-opacity="0.84"/><circle cx="223.8" cy="128.9" r="0.46" fill="#2a2af0" fill-opacity="0.76"/><circle cx="215.3" cy="134.6" r="0.43" fill="#2a2af0" fill-opacity="0.64"/><circle cx="224.8" cy="124.9" r="0.49" fill="#2a2af0" fill-opacity="0.78"/><circle cx="223.6" cy="113.8" r="0.47" fill="#2a2af0" fill-opacity="0.31"/><circle cx="211.3" cy="149.1" r="0.45" fill="#2a2af0" fill-opacity="0.73"/><circle cx="212.3" cy="138.2" r="0.64" fill="#2a2af0" fill-opacity="0.64"/><circle cx="212.1" cy="140.6" r="0.57" fill="#2a2af0" fill-opacity="0.42"/><circle cx="207.1" cy="150.1" r="0.47" fill="#2a2af0" fill-opacity="0.30"/><circle cx="211.7" cy="139.5" r="0.65" fill="#2a2af0" fill-opacity="0.28"/><circle cx="217.0" cy="143.7" r="0.55" fill="#2a2af0" fill-opacity="0.46"/><circle cx="222.2" cy="117.5" r="0.45" fill="#2a2af0" fill-opacity="0.51"/><circle cx="215.5" cy="137.5" r="0.63" fill="#2a2af0" fill-opacity="0.40"/><circle cx="227.4" cy="129.1" r="0.44" fill="#2a2af0" fill-opacity="0.63"/><circle cx="210.0" cy="143.5" r="0.56" fill="#2a2af0" fill-opacity="0.56"/><circle cx="216.6" cy="132.9" r="0.44" fill="#2a2af0" fill-opacity="0.77"/><circle cx="209.5" cy="154.8" r="0.43" fill="#2a2af0" fill-opacity="0.35"/><circle cx="217.8" cy="130.0" r="0.46" fill="#2a2af0" fill-opacity="0.56"/><circle cx="218.1" cy="126.9" r="0.52" fill="#2a2af0" fill-opacity="0.58"/><circle cx="211.8" cy="139.7" r="0.58" fill="#2a2af0" fill-opacity="0.79"/><circle cx="219.1" cy="129.1" r="0.52" fill="#2a2af0" fill-opacity="0.28"/><circle cx="206.2" cy="150.8" r="0.61" fill="#2a2af0" fill-opacity="0.26"/><circle cx="225.8" cy="123.2" r="0.48" fill="#2a2af0" fill-opacity="0.34"/><circle cx="210.9" cy="143.3" r="0.55" fill="#2a2af0" fill-opacity="0.72"/><circle cx="220.7" cy="127.0" r="0.43" fill="#2a2af0" fill-opacity="0.43"/><circle cx="208.2" cy="147.5" r="0.61" fill="#2a2af0" fill-opacity="0.66"/><circle cx="219.7" cy="124.9" r="0.43" fill="#2a2af0" fill-opacity="0.66"/><circle cx="219.1" cy="118.8" r="0.60" fill="#2a2af0" fill-opacity="0.50"/><circle cx="224.9" cy="126.2" r="0.44" fill="#2a2af0" fill-opacity="0.65"/><circle cx="226.2" cy="119.9" r="0.48" fill="#2a2af0" fill-opacity="0.33"/><circle cx="206.9" cy="145.4" r="0.44" fill="#2a2af0" fill-opacity="0.49"/><circle cx="222.4" cy="116.6" r="0.43" fill="#2a2af0" fill-opacity="0.48"/><circle cx="212.3" cy="144.8" r="0.54" fill="#2a2af0" fill-opacity="0.58"/><circle cx="225.0" cy="119.7" r="0.50" fill="#2a2af0" fill-opacity="0.73"/><circle cx="213.0" cy="135.1" r="0.42" fill="#2a2af0" fill-opacity="0.45"/><circle cx="210.6" cy="145.4" r="0.63" fill="#2a2af0" fill-opacity="0.77"/><circle cx="213.2" cy="134.2" r="0.63" fill="#2a2af0" fill-opacity="0.71"/><circle cx="211.1" cy="146.6" r="0.53" fill="#2a2af0" fill-opacity="0.72"/><circle cx="219.0" cy="135.9" r="0.54" fill="#2a2af0" fill-opacity="0.32"/><circle cx="226.3" cy="126.0" r="0.46" fill="#2a2af0" fill-opacity="0.31"/><circle cx="221.3" cy="125.0" r="0.62" fill="#2a2af0" fill-opacity="0.44"/><circle cx="209.7" cy="148.1" r="0.50" fill="#2a2af0" fill-opacity="0.57"/><circle cx="211.0" cy="149.3" r="0.43" fill="#2a2af0" fill-opacity="0.67"/><circle cx="223.7" cy="126.0" r="0.60" fill="#2a2af0" fill-opacity="0.73"/><circle cx="210.4" cy="146.7" r="0.62" fill="#2a2af0" fill-opacity="0.44"/><circle cx="224.6" cy="134.0" r="0.44" fill="#2a2af0" fill-opacity="0.71"/><circle cx="226.7" cy="126.3" r="0.57" fill="#2a2af0" fill-opacity="0.47"/><circle cx="211.5" cy="137.9" r="0.49" fill="#2a2af0" fill-opacity="0.34"/><circle cx="212.9" cy="135.6" r="0.61" fill="#2a2af0" fill-opacity="0.53"/><circle cx="223.2" cy="123.2" r="0.60" fill="#2a2af0" fill-opacity="0.45"/><circle cx="222.3" cy="121.3" r="0.48" fill="#2a2af0" fill-opacity="0.56"/><circle cx="223.5" cy="114.8" r="0.59" fill="#2a2af0" fill-opacity="0.78"/><circle cx="218.7" cy="120.5" r="0.49" fill="#2a2af0" fill-opacity="0.67"/>
<circle cx="202.4" cy="152.5" r="0.60" fill="#2a2af0" fill-opacity="0.68"/><circle cx="182.5" cy="151.0" r="0.60" fill="#2a2af0" fill-opacity="0.32"/><circle cx="218.9" cy="150.4" r="0.62" fill="#2a2af0" fill-opacity="0.46"/><circle cx="195.5" cy="153.4" r="0.60" fill="#2a2af0" fill-opacity="0.53"/><circle cx="180.0" cy="150.9" r="0.62" fill="#2a2af0" fill-opacity="0.54"/><circle cx="203.1" cy="152.3" r="0.46" fill="#2a2af0" fill-opacity="0.34"/><circle cx="214.3" cy="150.5" r="0.52" fill="#2a2af0" fill-opacity="0.28"/><circle cx="193.2" cy="150.9" r="0.44" fill="#2a2af0" fill-opacity="0.77"/><circle cx="187.8" cy="151.6" r="0.54" fill="#2a2af0" fill-opacity="0.77"/><circle cx="190.0" cy="150.4" r="0.44" fill="#2a2af0" fill-opacity="0.54"/><circle cx="198.4" cy="152.0" r="0.52" fill="#2a2af0" fill-opacity="0.31"/><circle cx="198.5" cy="154.3" r="0.47" fill="#2a2af0" fill-opacity="0.80"/><circle cx="213.9" cy="153.4" r="0.58" fill="#2a2af0" fill-opacity="0.56"/><circle cx="182.9" cy="150.0" r="0.55" fill="#2a2af0" fill-opacity="0.77"/><circle cx="193.4" cy="154.2" r="0.64" fill="#2a2af0" fill-opacity="0.61"/><circle cx="192.5" cy="152.1" r="0.41" fill="#2a2af0" fill-opacity="0.77"/><circle cx="220.1" cy="151.8" r="0.44" fill="#2a2af0" fill-opacity="0.39"/><circle cx="219.6" cy="151.8" r="0.43" fill="#2a2af0" fill-opacity="0.56"/><circle cx="214.1" cy="150.1" r="0.55" fill="#2a2af0" fill-opacity="0.53"/><circle cx="219.5" cy="151.8" r="0.52" fill="#2a2af0" fill-opacity="0.33"/><circle cx="186.8" cy="156.0" r="0.58" fill="#2a2af0" fill-opacity="0.57"/><circle cx="201.6" cy="154.0" r="0.48" fill="#2a2af0" fill-opacity="0.75"/><circle cx="218.6" cy="153.1" r="0.63" fill="#2a2af0" fill-opacity="0.80"/><circle cx="178.1" cy="150.6" r="0.65" fill="#2a2af0" fill-opacity="0.29"/><circle cx="194.0" cy="150.1" r="0.50" fill="#2a2af0" fill-opacity="0.52"/><circle cx="187.2" cy="150.5" r="0.46" fill="#2a2af0" fill-opacity="0.70"/><circle cx="182.7" cy="151.6" r="0.63" fill="#2a2af0" fill-opacity="0.33"/><circle cx="221.4" cy="152.3" r="0.53" fill="#2a2af0" fill-opacity="0.83"/><circle cx="198.9" cy="151.1" r="0.62" fill="#2a2af0" fill-opacity="0.52"/><circle cx="186.1" cy="150.7" r="0.43" fill="#2a2af0" fill-opacity="0.52"/><circle cx="204.8" cy="153.0" r="0.53" fill="#2a2af0" fill-opacity="0.72"/><circle cx="221.8" cy="153.9" r="0.45" fill="#2a2af0" fill-opacity="0.42"/><circle cx="178.1" cy="150.5" r="0.65" fill="#2a2af0" fill-opacity="0.26"/><circle cx="197.0" cy="150.2" r="0.55" fill="#2a2af0" fill-opacity="0.31"/><circle cx="205.3" cy="153.8" r="0.59" fill="#2a2af0" fill-opacity="0.50"/><circle cx="212.3" cy="150.0" r="0.63" fill="#2a2af0" fill-opacity="0.38"/><circle cx="179.6" cy="152.1" r="0.62" fill="#2a2af0" fill-opacity="0.39"/><circle cx="213.6" cy="150.8" r="0.41" fill="#2a2af0" fill-opacity="0.30"/><circle cx="184.2" cy="150.2" r="0.42" fill="#2a2af0" fill-opacity="0.48"/><circle cx="178.9" cy="152.4" r="0.64" fill="#2a2af0" fill-opacity="0.46"/><circle cx="213.8" cy="150.0" r="0.58" fill="#2a2af0" fill-opacity="0.27"/><circle cx="212.7" cy="155.5" r="0.53" fill="#2a2af0" fill-opacity="0.57"/><circle cx="178.6" cy="150.6" r="0.42" fill="#2a2af0" fill-opacity="0.60"/><circle cx="214.5" cy="153.6" r="0.51" fill="#2a2af0" fill-opacity="0.45"/><circle cx="215.7" cy="150.8" r="0.61" fill="#2a2af0" fill-opacity="0.66"/><circle cx="220.4" cy="150.6" r="0.43" fill="#2a2af0" fill-opacity="0.31"/><circle cx="188.0" cy="152.3" r="0.41" fill="#2a2af0" fill-opacity="0.41"/><circle cx="221.5" cy="150.4" r="0.56" fill="#2a2af0" fill-opacity="0.83"/><circle cx="196.0" cy="154.0" r="0.64" fill="#2a2af0" fill-opacity="0.77"/><circle cx="182.3" cy="152.2" r="0.43" fill="#2a2af0" fill-opacity="0.73"/><circle cx="205.1" cy="151.4" r="0.59" fill="#2a2af0" fill-opacity="0.53"/><circle cx="214.3" cy="154.3" r="0.65" fill="#2a2af0" fill-opacity="0.61"/><circle cx="202.8" cy="152.8" r="0.43" fill="#2a2af0" fill-opacity="0.38"/><circle cx="219.0" cy="151.2" r="0.43" fill="#2a2af0" fill-opacity="0.62"/><circle cx="200.4" cy="150.4" r="0.56" fill="#2a2af0" fill-opacity="0.76"/><circle cx="212.6" cy="152.6" r="0.40" fill="#2a2af0" fill-opacity="0.26"/><circle cx="221.1" cy="155.5" r="0.64" fill="#2a2af0" fill-opacity="0.41"/><circle cx="182.9" cy="151.6" r="0.47" fill="#2a2af0" fill-opacity="0.77"/><circle cx="183.8" cy="150.1" r="0.43" fill="#2a2af0" fill-opacity="0.73"/><circle cx="178.3" cy="151.8" r="0.62" fill="#2a2af0" fill-opacity="0.59"/><circle cx="187.0" cy="150.0" r="0.55" fill="#2a2af0" fill-opacity="0.25"/><circle cx="188.7" cy="152.3" r="0.55" fill="#2a2af0" fill-opacity="0.62"/><circle cx="193.8" cy="152.3" r="0.59" fill="#2a2af0" fill-opacity="0.56"/><circle cx="217.2" cy="150.9" r="0.43" fill="#2a2af0" fill-opacity="0.38"/><circle cx="202.7" cy="150.8" r="0.56" fill="#2a2af0" fill-opacity="0.30"/><circle cx="205.3" cy="152.6" r="0.43" fill="#2a2af0" fill-opacity="0.40"/><circle cx="217.8" cy="150.5" r="0.60" fill="#2a2af0" fill-opacity="0.58"/><circle cx="185.6" cy="152.4" r="0.49" fill="#2a2af0" fill-opacity="0.83"/><circle cx="194.8" cy="150.7" r="0.55" fill="#2a2af0" fill-opacity="0.39"/><circle cx="186.1" cy="151.0" r="0.54" fill="#2a2af0" fill-opacity="0.76"/><circle cx="201.5" cy="151.2" r="0.49" fill="#2a2af0" fill-opacity="0.51"/><circle cx="184.5" cy="150.5" r="0.54" fill="#2a2af0" fill-opacity="0.84"/><circle cx="217.0" cy="154.6" r="0.56" fill="#2a2af0" fill-opacity="0.36"/><circle cx="179.2" cy="150.7" r="0.55" fill="#2a2af0" fill-opacity="0.44"/><circle cx="204.5" cy="150.6" r="0.52" fill="#2a2af0" fill-opacity="0.68"/><circle cx="203.0" cy="153.1" r="0.41" fill="#2a2af0" fill-opacity="0.55"/><circle cx="212.4" cy="151.5" r="0.48" fill="#2a2af0" fill-opacity="0.61"/><circle cx="213.2" cy="151.8" r="0.61" fill="#2a2af0" fill-opacity="0.53"/><circle cx="193.7" cy="150.2" r="0.56" fill="#2a2af0" fill-opacity="0.42"/><circle cx="201.4" cy="152.2" r="0.46" fill="#2a2af0" fill-opacity="0.56"/><circle cx="199.3" cy="150.5" r="0.53" fill="#2a2af0" fill-opacity="0.38"/><circle cx="197.5" cy="152.4" r="0.59" fill="#2a2af0" fill-opacity="0.55"/><circle cx="201.3" cy="152.7" r="0.49" fill="#2a2af0" fill-opacity="0.40"/><circle cx="190.4" cy="152.5" r="0.61" fill="#2a2af0" fill-opacity="0.79"/><circle cx="178.2" cy="150.9" r="0.63" fill="#2a2af0" fill-opacity="0.40"/><circle cx="194.2" cy="152.8" r="0.42" fill="#2a2af0" fill-opacity="0.63"/><circle cx="214.4" cy="152.3" r="0.41" fill="#2a2af0" fill-opacity="0.76"/><circle cx="187.8" cy="151.9" r="0.57" fill="#2a2af0" fill-opacity="0.45"/><circle cx="221.2" cy="150.8" r="0.51" fill="#2a2af0" fill-opacity="0.66"/><circle cx="213.0" cy="150.5" r="0.44" fill="#2a2af0" fill-opacity="0.47"/>
<path d="M274.00,50.50 C276.67,44.17 285.83,49.75 290.00,50.00 C294.17,50.25 297.50,50.50 299.00,52.00 C300.50,53.50 299.50,57.00 299.00,59.00 C298.50,61.00 296.17,61.50 296.00,64.00 C295.83,66.50 298.33,70.67 298.00,74.00 C297.67,77.33 296.17,81.58 294.00,84.00 C291.83,86.42 288.33,87.83 285.00,88.50 C281.67,89.17 275.83,94.33 274.00,88.00 C272.17,81.67 271.33,56.83 274.00,50.50 Z" fill="#7d8cff" fill-opacity="0.5" filter="url(#b2)"/>
<path d="M273.00,62.00 C274.50,57.67 279.50,60.67 282.00,62.00 C284.50,63.33 287.00,67.00 288.00,70.00 C289.00,73.00 288.67,77.17 288.00,80.00 C287.33,82.83 286.50,85.67 284.00,87.00 C281.50,88.33 274.83,92.17 273.00,88.00 C271.17,83.83 271.50,66.33 273.00,62.00 Z" fill="#4a5ef5" fill-opacity="0.6" filter="url(#b2)"/>
<path d="M273.00,51.50 C275.00,50.08 281.83,51.25 285.00,51.50 C288.17,51.75 290.83,52.00 292.00,53.00 C293.17,54.00 293.17,56.50 292.00,57.50 C290.83,58.50 288.17,58.58 285.00,59.00 C281.83,59.42 275.00,61.25 273.00,60.00 C271.00,58.75 271.00,52.92 273.00,51.50 Z" fill="#5066f5" fill-opacity="0.5" filter="url(#b1)"/>
<rect x="276.3" y="57.3" width="0.9" height="0.9" fill="#5a6cf8" fill-opacity="0.56"/><rect x="273.3" y="74.4" width="0.9" height="0.9" fill="#4a5cf5" fill-opacity="0.75"/><rect x="272.1" y="62.8" width="0.9" height="0.9" fill="#7f8cfb" fill-opacity="0.66"/><rect x="273.3" y="76.9" width="0.9" height="0.9" fill="#2f3ef0" fill-opacity="0.83"/><rect x="299.4" y="68.8" width="0.9" height="0.9" fill="#2f3ef0" fill-opacity="0.41"/><rect x="308.4" y="77.0" width="0.9" height="0.9" fill="#5a6cf8" fill-opacity="0.39"/><rect x="297.9" y="84.0" width="0.9" height="0.9" fill="#4a5cf5" fill-opacity="0.79"/><rect x="296.2" y="55.9" width="0.9" height="0.9" fill="#5a6cf8" fill-opacity="0.75"/><rect x="278.3" y="67.3" width="0.9" height="0.9" fill="#7f8cfb" fill-opacity="0.66"/><rect x="275.4" y="77.0" width="0.9" height="0.9" fill="#5a6cf8" fill-opacity="0.61"/><rect x="289.7" y="77.4" width="0.9" height="0.9" fill="#3b52f5" fill-opacity="0.71"/><rect x="283.2" y="79.8" width="0.9" height="0.9" fill="#2f3ef0" fill-opacity="0.37"/><rect x="272.9" y="62.7" width="0.9" height="0.9" fill="#4a5cf5" fill-opacity="0.67"/><rect x="278.6" y="83.1" width="0.9" height="0.9" fill="#4a5cf5" fill-opacity="0.60"/><rect x="282.7" y="65.1" width="0.9" height="0.9" fill="#4a5cf5" fill-opacity="0.57"/><rect x="275.2" y="84.0" width="0.9" height="0.9" fill="#2f3ef0" fill-opacity="0.48"/><rect x="274.9" y="63.0" width="0.9" height="0.9" fill="#5a6cf8" fill-opacity="0.69"/><rect x="281.4" y="75.6" width="0.9" height="0.9" fill="#5a6cf8" fill-opacity="0.37"/><rect x="283.6" y="69.3" width="0.9" height="0.9" fill="#5a6cf8" fill-opacity="0.73"/><rect x="287.1" y="51.5" width="0.9" height="0.9" fill="#4a5cf5" fill-opacity="0.54"/><rect x="283.6" y="86.2" width="0.9" height="0.9" fill="#5a6cf8" fill-opacity="0.36"/><rect x="307.5" y="83.2" width="0.9" height="0.9" fill="#3b52f5" fill-opacity="0.63"/><rect x="272.4" y="80.0" width="0.9" height="0.9" fill="#3b52f5" fill-opacity="0.57"/><rect x="274.6" y="71.2" width="0.9" height="0.9" fill="#2f3ef0" fill-opacity="0.38"/><rect x="279.5" y="62.2" width="0.9" height="0.9" fill="#3b52f5" fill-opacity="0.49"/><rect x="294.1" y="67.9" width="0.9" height="0.9" fill="#2f3ef0" fill-opacity="0.47"/><rect x="277.8" y="84.3" width="0.9" height="0.9" fill="#7f8cfb" fill-opacity="0.69"/><rect x="283.8" y="87.1" width="0.9" height="0.9" fill="#7f8cfb" fill-opacity="0.63"/><rect x="277.6" y="70.7" width="0.9" height="0.9" fill="#3b52f5" fill-opacity="0.62"/><rect x="283.8" y="75.6" width="0.9" height="0.9" fill="#2f3ef0" fill-opacity="0.69"/><rect x="290.0" y="52.0" width="0.9" height="0.9" fill="#3b52f5" fill-opacity="0.81"/><rect x="278.2" y="55.9" width="0.9" height="0.9" fill="#3b52f5" fill-opacity="0.84"/><rect x="281.8" y="58.5" width="0.9" height="0.9" fill="#2f3ef0" fill-opacity="0.43"/><rect x="278.1" y="76.1" width="0.9" height="0.9" fill="#2f3ef0" fill-opacity="0.50"/><rect x="290.5" y="52.2" width="0.9" height="0.9" fill="#7f8cfb" fill-opacity="0.80"/><rect x="282.6" y="57.0" width="0.9" height="0.9" fill="#5a6cf8" fill-opacity="0.51"/><rect x="278.1" y="70.7" width="0.9" height="0.9" fill="#5a6cf8" fill-opacity="0.75"/><rect x="277.1" y="83.7" width="0.9" height="0.9" fill="#3b52f5" fill-opacity="0.50"/><rect x="283.6" y="82.1" width="0.9" height="0.9" fill="#7f8cfb" fill-opacity="0.81"/><rect x="275.4" y="68.2" width="0.9" height="0.9" fill="#4a5cf5" fill-opacity="0.49"/><rect x="284.8" y="81.0" width="0.9" height="0.9" fill="#3b52f5" fill-opacity="0.53"/><rect x="301.7" y="68.6" width="0.9" height="0.9" fill="#7f8cfb" fill-opacity="0.68"/><rect x="273.8" y="84.3" width="0.9" height="0.9" fill="#2f3ef0" fill-opacity="0.50"/><rect x="273.4" y="78.3" width="0.9" height="0.9" fill="#2f3ef0" fill-opacity="0.77"/><rect x="278.9" y="75.0" width="0.9" height="0.9" fill="#4a5cf5" fill-opacity="0.66"/><rect x="292.0" y="57.3" width="0.9" height="0.9" fill="#5a6cf8" fill-opacity="0.84"/><rect x="275.2" y="72.0" width="0.9" height="0.9" fill="#3b52f5" fill-opacity="0.46"/><rect x="284.4" y="76.2" width="0.9" height="0.9" fill="#3b52f5" fill-opacity="0.52"/><rect x="275.7" y="84.2" width="0.9" height="0.9" fill="#4a5cf5" fill-opacity="0.61"/><rect x="277.6" y="79.0" width="0.9" height="0.9" fill="#3b52f5" fill-opacity="0.68"/><rect x="276.1" y="52.2" width="0.9" height="0.9" fill="#5a6cf8" fill-opacity="0.66"/><rect x="284.7" y="83.6" width="0.9" height="0.9" fill="#4a5cf5" fill-opacity="0.49"/><rect x="289.6" y="57.6" width="0.9" height="0.9" fill="#4a5cf5" fill-opacity="0.40"/><rect x="280.7" y="51.1" width="0.9" height="0.9" fill="#7f8cfb" fill-opacity="0.47"/><rect x="278.4" y="83.0" width="0.9" height="0.9" fill="#3b52f5" fill-opacity="0.62"/><rect x="273.8" y="59.5" width="0.9" height="0.9" fill="#2f3ef0" fill-opacity="0.63"/><rect x="290.7" y="57.9" width="0.9" height="0.9" fill="#2f3ef0" fill-opacity="0.40"/><rect x="276.7" y="69.6" width="0.9" height="0.9" fill="#3b52f5" fill-opacity="0.75"/><rect x="275.7" y="70.7" width="0.9" height="0.9" fill="#7f8cfb" fill-opacity="0.59"/><rect x="297.5" y="55.9" width="0.9" height="0.9" fill="#3b52f5" fill-opacity="0.66"/><rect x="301.6" y="81.3" width="0.9" height="0.9" fill="#4a5cf5" fill-opacity="0.42"/><rect x="289.5" y="60.0" width="0.9" height="0.9" fill="#7f8cfb" fill-opacity="0.77"/><rect x="273.6" y="87.2" width="0.9" height="0.9" fill="#5a6cf8" fill-opacity="0.57"/><rect x="273.5" y="79.4" width="0.9" height="0.9" fill="#3b52f5" fill-opacity="0.69"/><rect x="287.0" y="51.9" width="0.9" height="0.9" fill="#3b52f5" fill-opacity="0.65"/><rect x="294.1" y="55.4" width="0.9" height="0.9" fill="#5a6cf8" fill-opacity="0.68"/><rect x="281.2" y="56.4" width="0.9" height="0.9" fill="#3b52f5" fill-opacity="0.38"/><rect x="293.3" y="74.1" width="0.9" height="0.9" fill="#7f8cfb" fill-opacity="0.50"/><rect x="296.5" y="54.2" width="0.9" height="0.9" fill="#5a6cf8" fill-opacity="0.44"/><rect x="275.1" y="69.2" width="0.9" height="0.9" fill="#3b52f5" fill-opacity="0.77"/><rect x="296.7" y="59.0" width="0.9" height="0.9" fill="#7f8cfb" fill-opacity="0.39"/><rect x="281.7" y="84.7" width="0.9" height="0.9" fill="#2f3ef0" fill-opacity="0.84"/><rect x="310.2" y="73.7" width="0.9" height="0.9" fill="#3b52f5" fill-opacity="0.41"/><rect x="275.0" y="82.4" width="0.9" height="0.9" fill="#5a6cf8" fill-opacity="0.53"/><rect x="293.3" y="57.2" width="0.9" height="0.9" fill="#3b52f5" fill-opacity="0.63"/><rect x="275.3" y="58.8" width="0.9" height="0.9" fill="#2f3ef0" fill-opacity="0.36"/><rect x="273.4" y="80.9" width="0.9" height="0.9" fill="#4a5cf5" fill-opacity="0.54"/><rect x="294.9" y="76.1" width="0.9" height="0.9" fill="#2f3ef0" fill-opacity="0.43"/><rect x="272.2" y="59.2" width="0.9" height="0.9" fill="#7f8cfb" fill-opacity="0.57"/><rect x="285.4" y="69.8" width="0.9" height="0.9" fill="#5a6cf8" fill-opacity="0.57"/><rect x="301.0" y="62.3" width="0.9" height="0.9" fill="#5a6cf8" fill-opacity="0.50"/><rect x="277.7" y="58.3" width="0.9" height="0.9" fill="#3b52f5" fill-opacity="0.48"/><rect x="272.6" y="50.3" width="0.9" height="0.9" fill="#3b52f5" fill-opacity="0.67"/><rect x="277.6" y="84.5" width="0.9" height="0.9" fill="#7f8cfb" fill-opacity="0.70"/><rect x="304.6" y="75.8" width="0.9" height="0.9" fill="#7f8cfb" fill-opacity="0.75"/><rect x="283.5" y="56.0" width="0.9" height="0.9" fill="#2f3ef0" fill-opacity="0.49"/><rect x="274.8" y="58.6" width="0.9" height="0.9" fill="#5a6cf8" fill-opacity="0.78"/><rect x="272.6" y="58.8" width="0.9" height="0.9" fill="#2f3ef0" fill-opacity="0.38"/><rect x="285.9" y="52.2" width="0.9" height="0.9" fill="#7f8cfb" fill-opacity="0.41"/><rect x="273.8" y="81.1" width="0.9" height="0.9" fill="#3b52f5" fill-opacity="0.52"/><rect x="274.0" y="52.3" width="0.9" height="0.9" fill="#5a6cf8" fill-opacity="0.56"/><rect x="281.7" y="67.8" width="0.9" height="0.9" fill="#5a6cf8" fill-opacity="0.75"/><rect x="283.7" y="69.4" width="0.9" height="0.9" fill="#7f8cfb" fill-opacity="0.79"/><rect x="272.2" y="69.6" width="0.9" height="0.9" fill="#7f8cfb" fill-opacity="0.54"/><rect x="277.0" y="59.0" width="0.9" height="0.9" fill="#7f8cfb" fill-opacity="0.51"/><rect x="286.9" y="68.4" width="0.9" height="0.9" fill="#7f8cfb" fill-opacity="0.65"/><rect x="278.1" y="81.2" width="0.9" height="0.9" fill="#3b52f5" fill-opacity="0.62"/><rect x="279.4" y="63.5" width="0.9" height="0.9" fill="#5a6cf8" fill-opacity="0.35"/><rect x="280.4" y="62.3" width="0.9" height="0.9" fill="#2f3ef0" fill-opacity="0.72"/><rect x="283.1" y="76.7" width="0.9" height="0.9" fill="#3b52f5" fill-opacity="0.76"/><rect x="274.2" y="60.0" width="0.9" height="0.9" fill="#5a6cf8" fill-opacity="0.80"/><rect x="282.1" y="50.1" width="0.9" height="0.9" fill="#5a6cf8" fill-opacity="0.74"/><rect x="275.4" y="56.1" width="0.9" height="0.9" fill="#4a5cf5" fill-opacity="0.44"/><rect x="288.0" y="81.1" width="0.9" height="0.9" fill="#3b52f5" fill-opacity="0.64"/><rect x="286.1" y="50.2" width="0.9" height="0.9" fill="#3b52f5" fill-opacity="0.39"/><rect x="280.3" y="59.8" width="0.9" height="0.9" fill="#4a5cf5" fill-opacity="0.35"/><rect x="298.9" y="76.6" width="0.9" height="0.9" fill="#4a5cf5" fill-opacity="0.51"/><rect x="286.5" y="53.1" width="0.9" height="0.9" fill="#2f3ef0" fill-opacity="0.69"/><rect x="297.1" y="56.2" width="0.9" height="0.9" fill="#3b52f5" fill-opacity="0.79"/><rect x="298.9" y="85.3" width="0.9" height="0.9" fill="#5a6cf8" fill-opacity="0.63"/><rect x="294.4" y="51.5" width="0.9" height="0.9" fill="#4a5cf5" fill-opacity="0.72"/><rect x="300.1" y="83.6" width="0.9" height="0.9" fill="#7f8cfb" fill-opacity="0.43"/><rect x="293.4" y="80.7" width="0.9" height="0.9" fill="#5a6cf8" fill-opacity="0.37"/><rect x="280.8" y="54.4" width="0.9" height="0.9" fill="#5a6cf8" fill-opacity="0.63"/><rect x="273.0" y="53.9" width="0.9" height="0.9" fill="#7f8cfb" fill-opacity="0.76"/><rect x="300.4" y="64.9" width="0.9" height="0.9" fill="#5a6cf8" fill-opacity="0.46"/><rect x="274.0" y="55.8" width="0.9" height="0.9" fill="#5a6cf8" fill-opacity="0.61"/><rect x="276.7" y="70.4" width="0.9" height="0.9" fill="#4a5cf5" fill-opacity="0.46"/><rect x="287.9" y="71.3" width="0.9" height="0.9" fill="#4a5cf5" fill-opacity="0.63"/><rect x="280.4" y="73.5" width="0.9" height="0.9" fill="#4a5cf5" fill-opacity="0.69"/><rect x="280.1" y="55.6" width="0.9" height="0.9" fill="#5a6cf8" fill-opacity="0.53"/><rect x="290.8" y="83.2" width="0.9" height="0.9" fill="#3b52f5" fill-opacity="0.79"/><rect x="278.3" y="51.9" width="0.9" height="0.9" fill="#4a5cf5" fill-opacity="0.46"/><rect x="297.5" y="76.3" width="0.9" height="0.9" fill="#4a5cf5" fill-opacity="0.58"/><rect x="277.2" y="51.5" width="0.9" height="0.9" fill="#4a5cf5" fill-opacity="0.44"/><rect x="279.3" y="84.9" width="0.9" height="0.9" fill="#2f3ef0" fill-opacity="0.64"/><rect x="282.2" y="71.3" width="0.9" height="0.9" fill="#3b52f5" fill-opacity="0.72"/><rect x="277.5" y="67.1" width="0.9" height="0.9" fill="#3b52f5" fill-opacity="0.76"/><rect x="277.7" y="66.1" width="0.9" height="0.9" fill="#2f3ef0" fill-opacity="0.61"/><rect x="297.5" y="57.7" width="0.9" height="0.9" fill="#3b52f5" fill-opacity="0.54"/><rect x="298.8" y="86.0" width="0.9" height="0.9" fill="#2f3ef0" fill-opacity="0.59"/><rect x="272.5" y="68.4" width="0.9" height="0.9" fill="#3b52f5" fill-opacity="0.81"/><rect x="273.8" y="56.3" width="0.9" height="0.9" fill="#4a5cf5" fill-opacity="0.67"/><rect x="272.8" y="58.1" width="0.9" height="0.9" fill="#5a6cf8" fill-opacity="0.38"/><rect x="274.1" y="68.1" width="0.9" height="0.9" fill="#7f8cfb" fill-opacity="0.66"/><rect x="277.1" y="58.3" width="0.9" height="0.9" fill="#4a5cf5" fill-opacity="0.56"/><rect x="296.2" y="53.8" width="0.9" height="0.9" fill="#3b52f5" fill-opacity="0.50"/><rect x="280.7" y="58.8" width="0.9" height="0.9" fill="#7f8cfb" fill-opacity="0.81"/><rect x="300.1" y="86.9" width="0.9" height="0.9" fill="#5a6cf8" fill-opacity="0.40"/><rect x="276.3" y="85.8" width="0.9" height="0.9" fill="#7f8cfb" fill-opacity="0.41"/><rect x="297.0" y="57.5" width="0.9" height="0.9" fill="#4a5cf5" fill-opacity="0.64"/><rect x="303.2" y="66.8" width="0.9" height="0.9" fill="#4a5cf5" fill-opacity="0.50"/><rect x="295.5" y="59.2" width="0.9" height="0.9" fill="#7f8cfb" fill-opacity="0.48"/><rect x="290.2" y="59.6" width="0.9" height="0.9" fill="#7f8cfb" fill-opacity="0.53"/><rect x="274.5" y="74.1" width="0.9" height="0.9" fill="#7f8cfb" fill-opacity="0.58"/><rect x="272.7" y="53.7" width="0.9" height="0.9" fill="#3b52f5" fill-opacity="0.37"/><rect x="300.6" y="85.6" width="0.9" height="0.9" fill="#4a5cf5" fill-opacity="0.43"/><rect x="274.4" y="70.3" width="0.9" height="0.9" fill="#4a5cf5" fill-opacity="0.74"/><rect x="302.7" y="65.2" width="0.9" height="0.9" fill="#4a5cf5" fill-opacity="0.52"/><rect x="288.2" y="71.6" width="0.9" height="0.9" fill="#7f8cfb" fill-opacity="0.76"/><rect x="273.2" y="58.5" width="0.9" height="0.9" fill="#4a5cf5" fill-opacity="0.67"/><rect x="275.5" y="75.1" width="0.9" height="0.9" fill="#7f8cfb" fill-opacity="0.61"/><rect x="272.2" y="81.9" width="0.9" height="0.9" fill="#5a6cf8" fill-opacity="0.77"/><rect x="277.4" y="57.6" width="0.9" height="0.9" fill="#3b52f5" fill-opacity="0.54"/><rect x="276.7" y="61.1" width="0.9" height="0.9" fill="#2f3ef0" fill-opacity="0.75"/><rect x="273.0" y="78.3" width="0.9" height="0.9" fill="#5a6cf8" fill-opacity="0.45"/><rect x="272.3" y="69.8" width="0.9" height="0.9" fill="#7f8cfb" fill-opacity="0.49"/><rect x="272.0" y="88.7" width="0.9" height="0.9" fill="#3b52f5" fill-opacity="0.58"/><rect x="286.1" y="79.9" width="0.9" height="0.9" fill="#3b52f5" fill-opacity="0.55"/><rect x="274.7" y="84.6" width="0.9" height="0.9" fill="#7f8cfb" fill-opacity="0.45"/><rect x="303.6" y="65.6" width="0.9" height="0.9" fill="#3b52f5" fill-opacity="0.71"/><rect x="281.1" y="68.7" width="0.9" height="0.9" fill="#2f3ef0" fill-opacity="0.36"/><rect x="272.2" y="84.8" width="0.9" height="0.9" fill="#2f3ef0" fill-opacity="0.45"/><rect x="289.3" y="82.8" width="0.9" height="0.9" fill="#5a6cf8" fill-opacity="0.63"/><rect x="296.2" y="56.0" width="0.9" height="0.9" fill="#7f8cfb" fill-opacity="0.84"/><rect x="295.0" y="85.2" width="0.9" height="0.9" fill="#2f3ef0" fill-opacity="0.37"/><rect x="272.4" y="73.8" width="0.9" height="0.9" fill="#2f3ef0" fill-opacity="0.82"/><rect x="296.1" y="82.1" width="0.9" height="0.9" fill="#2f3ef0" fill-opacity="0.66"/><rect x="273.6" y="52.8" width="0.9" height="0.9" fill="#7f8cfb" fill-opacity="0.74"/><rect x="286.9" y="75.6" width="0.9" height="0.9" fill="#4a5cf5" fill-opacity="0.83"/><rect x="273.8" y="72.0" width="0.9" height="0.9" fill="#3b52f5" fill-opacity="0.66"/><rect x="277.6" y="50.4" width="0.9" height="0.9" fill="#7f8cfb" fill-opacity="0.67"/><rect x="274.8" y="86.0" width="0.9" height="0.9" fill="#5a6cf8" fill-opacity="0.36"/><rect x="278.7" y="65.1" width="0.9" height="0.9" fill="#7f8cfb" fill-opacity="0.40"/><rect x="288.9" y="57.0" width="0.9" height="0.9" fill="#7f8cfb" fill-opacity="0.77"/><rect x="276.9" y="68.2" width="0.9" height="0.9" fill="#3b52f5" fill-opacity="0.70"/><rect x="288.5" y="67.0" width="0.9" height="0.9" fill="#7f8cfb" fill-opacity="0.50"/><rect x="291.3" y="87.0" width="0.9" height="0.9" fill="#3b52f5" fill-opacity="0.80"/><rect x="284.7" y="68.2" width="0.9" height="0.9" fill="#2f3ef0" fill-opacity="0.49"/><rect x="282.5" y="72.7" width="0.9" height="0.9" fill="#7f8cfb" fill-opacity="0.67"/><rect x="287.2" y="51.6" width="0.9" height="0.9" fill="#4a5cf5" fill-opacity="0.55"/><rect x="294.8" y="72.1" width="0.9" height="0.9" fill="#4a5cf5" fill-opacity="0.63"/><rect x="274.3" y="62.0" width="0.9" height="0.9" fill="#7f8cfb" fill-opacity="0.60"/><rect x="298.7" y="57.4" width="0.9" height="0.9" fill="#7f8cfb" fill-opacity="0.68"/><rect x="277.7" y="55.6" width="0.9" height="0.9" fill="#3b52f5" fill-opacity="0.80"/><rect x="291.1" y="67.3" width="0.9" height="0.9" fill="#4a5cf5" fill-opacity="0.56"/><rect x="294.2" y="58.8" width="0.9" height="0.9" fill="#3b52f5" fill-opacity="0.50"/><rect x="274.4" y="54.6" width="0.9" height="0.9" fill="#3b52f5" fill-opacity="0.41"/><rect x="279.0" y="67.3" width="0.9" height="0.9" fill="#3b52f5" fill-opacity="0.62"/><rect x="275.0" y="87.6" width="0.9" height="0.9" fill="#4a5cf5" fill-opacity="0.67"/><rect x="288.0" y="58.8" width="0.9" height="0.9" fill="#3b52f5" fill-opacity="0.72"/><rect x="301.0" y="66.1" width="0.9" height="0.9" fill="#2f3ef0" fill-opacity="0.64"/><rect x="274.0" y="84.9" width="0.9" height="0.9" fill="#3b52f5" fill-opacity="0.44"/><rect x="274.8" y="70.5" width="0.9" height="0.9" fill="#2f3ef0" fill-opacity="0.73"/><rect x="273.8" y="57.4" width="0.9" height="0.9" fill="#4a5cf5" fill-opacity="0.74"/><rect x="276.9" y="74.5" width="0.9" height="0.9" fill="#3b52f5" fill-opacity="0.82"/><rect x="275.3" y="85.0" width="0.9" height="0.9" fill="#3b52f5" fill-opacity="0.61"/><rect x="276.9" y="75.2" width="0.9" height="0.9" fill="#7f8cfb" fill-opacity="0.62"/><rect x="275.5" y="63.6" width="0.9" height="0.9" fill="#3b52f5" fill-opacity="0.51"/><rect x="287.4" y="55.2" width="0.9" height="0.9" fill="#3b52f5" fill-opacity="0.74"/><rect x="277.9" y="67.7" width="0.9" height="0.9" fill="#7f8cfb" fill-opacity="0.36"/><rect x="276.5" y="74.1" width="0.9" height="0.9" fill="#7f8cfb" fill-opacity="0.80"/><rect x="280.4" y="73.9" width="0.9" height="0.9" fill="#3b52f5" fill-opacity="0.41"/><rect x="297.9" y="56.0" width="0.9" height="0.9" fill="#4a5cf5" fill-opacity="0.68"/><rect x="286.0" y="84.1" width="0.9" height="0.9" fill="#5a6cf8" fill-opacity="0.77"/><rect x="272.1" y="52.8" width="0.9" height="0.9" fill="#2f3ef0" fill-opacity="0.71"/><rect x="274.2" y="51.8" width="0.9" height="0.9" fill="#3b52f5" fill-opacity="0.36"/><rect x="275.2" y="61.4" width="0.9" height="0.9" fill="#5a6cf8" fill-opacity="0.48"/><rect x="313.9" y="71.5" width="0.9" height="0.9" fill="#4a5cf5" fill-opacity="0.53"/><rect x="277.6" y="75.7" width="0.9" height="0.9" fill="#2f3ef0" fill-opacity="0.68"/><rect x="297.0" y="53.3" width="0.9" height="0.9" fill="#7f8cfb" fill-opacity="0.82"/><rect x="297.9" y="88.8" width="0.9" height="0.9" fill="#5a6cf8" fill-opacity="0.79"/><rect x="281.1" y="69.6" width="0.9" height="0.9" fill="#2f3ef0" fill-opacity="0.41"/><rect x="279.2" y="60.3" width="0.9" height="0.9" fill="#2f3ef0" fill-opacity="0.60"/><rect x="275.6" y="61.9" width="0.9" height="0.9" fill="#4a5cf5" fill-opacity="0.83"/><rect x="278.7" y="82.9" width="0.9" height="0.9" fill="#7f8cfb" fill-opacity="0.36"/><rect x="294.0" y="82.7" width="0.9" height="0.9" fill="#3b52f5" fill-opacity="0.82"/><rect x="289.0" y="57.6" width="0.9" height="0.9" fill="#3b52f5" fill-opacity="0.57"/><rect x="290.0" y="72.8" width="0.9" height="0.9" fill="#4a5cf5" fill-opacity="0.68"/><rect x="272.5" y="60.1" width="0.9" height="0.9" fill="#3b52f5" fill-opacity="0.79"/><rect x="289.5" y="77.2" width="0.9" height="0.9" fill="#5a6cf8" fill-opacity="0.63"/><rect x="286.9" y="68.9" width="0.9" height="0.9" fill="#2f3ef0" fill-opacity="0.63"/><rect x="274.3" y="62.6" width="0.9" height="0.9" fill="#7f8cfb" fill-opacity="0.36"/><rect x="274.8" y="85.2" width="0.9" height="0.9" fill="#7f8cfb" fill-opacity="0.72"/><rect x="285.8" y="76.6" width="0.9" height="0.9" fill="#2f3ef0" fill-opacity="0.50"/><rect x="279.8" y="59.4" width="0.9" height="0.9" fill="#5a6cf8" fill-opacity="0.64"/><rect x="274.7" y="81.3" width="0.9" height="0.9" fill="#7f8cfb" fill-opacity="0.39"/><rect x="273.3" y="57.7" width="0.9" height="0.9" fill="#2f3ef0" fill-opacity="0.60"/><rect x="294.4" y="88.3" width="0.9" height="0.9" fill="#7f8cfb" fill-opacity="0.50"/><rect x="288.8" y="70.1" width="0.9" height="0.9" fill="#5a6cf8" fill-opacity="0.77"/><rect x="283.4" y="64.0" width="0.9" height="0.9" fill="#2f3ef0" fill-opacity="0.62"/><rect x="284.2" y="55.4" width="0.9" height="0.9" fill="#3b52f5" fill-opacity="0.46"/><rect x="276.5" y="57.5" width="0.9" height="0.9" fill="#7f8cfb" fill-opacity="0.53"/><rect x="276.2" y="71.8" width="0.9" height="0.9" fill="#2f3ef0" fill-opacity="0.83"/><rect x="282.8" y="62.9" width="0.9" height="0.9" fill="#3b52f5" fill-opacity="0.52"/><rect x="274.9" y="63.0" width="0.9" height="0.9" fill="#5a6cf8" fill-opacity="0.65"/><rect x="273.7" y="74.7" width="0.9" height="0.9" fill="#7f8cfb" fill-opacity="0.64"/><rect x="283.0" y="70.0" width="0.9" height="0.9" fill="#3b52f5" fill-opacity="0.80"/><rect x="286.1" y="67.4" width="0.9" height="0.9" fill="#7f8cfb" fill-opacity="0.69"/><rect x="279.4" y="70.5" width="0.9" height="0.9" fill="#3b52f5" fill-opacity="0.60"/><rect x="295.8" y="73.5" width="0.9" height="0.9" fill="#2f3ef0" fill-opacity="0.81"/><rect x="273.9" y="84.5" width="0.9" height="0.9" fill="#5a6cf8" fill-opacity="0.40"/><rect x="272.9" y="64.7" width="0.9" height="0.9" fill="#2f3ef0" fill-opacity="0.82"/><rect x="272.5" y="82.3" width="0.9" height="0.9" fill="#7f8cfb" fill-opacity="0.48"/><rect x="272.0" y="84.8" width="0.9" height="0.9" fill="#2f3ef0" fill-opacity="0.66"/><rect x="276.3" y="60.2" width="0.9" height="0.9" fill="#3b52f5" fill-opacity="0.76"/><rect x="273.3" y="81.2" width="0.9" height="0.9" fill="#7f8cfb" fill-opacity="0.41"/><rect x="273.0" y="72.3" width="0.9" height="0.9" fill="#3b52f5" fill-opacity="0.80"/><rect x="292.8" y="67.6" width="0.9" height="0.9" fill="#4a5cf5" fill-opacity="0.81"/><rect x="272.4" y="64.9" width="0.9" height="0.9" fill="#7f8cfb" fill-opacity="0.61"/><rect x="277.5" y="69.0" width="0.9" height="0.9" fill="#5a6cf8" fill-opacity="0.61"/><rect x="294.4" y="61.9" width="0.9" height="0.9" fill="#5a6cf8" fill-opacity="0.60"/><rect x="294.0" y="77.8" width="0.9" height="0.9" fill="#2f3ef0" fill-opacity="0.58"/><rect x="279.8" y="77.7" width="0.9" height="0.9" fill="#2f3ef0" fill-opacity="0.40"/><rect x="286.0" y="84.4" width="0.9" height="0.9" fill="#5a6cf8" fill-opacity="0.67"/><rect x="277.2" y="72.4" width="0.9" height="0.9" fill="#7f8cfb" fill-opacity="0.77"/><rect x="274.0" y="72.1" width="0.9" height="0.9" fill="#7f8cfb" fill-opacity="0.75"/><rect x="290.3" y="54.8" width="0.9" height="0.9" fill="#3b52f5" fill-opacity="0.38"/><rect x="282.5" y="87.8" width="0.9" height="0.9" fill="#7f8cfb" fill-opacity="0.48"/><rect x="283.9" y="82.1" width="0.9" height="0.9" fill="#7f8cfb" fill-opacity="0.70"/><rect x="273.1" y="66.3" width="0.9" height="0.9" fill="#3b52f5" fill-opacity="0.42"/><rect x="274.7" y="64.5" width="0.9" height="0.9" fill="#4a5cf5" fill-opacity="0.51"/><rect x="285.3" y="56.0" width="0.9" height="0.9" fill="#4a5cf5" fill-opacity="0.85"/><rect x="278.2" y="63.2" width="0.9" height="0.9" fill="#5a6cf8" fill-opacity="0.52"/><rect x="272.6" y="79.6" width="0.9" height="0.9" fill="#2f3ef0" fill-opacity="0.38"/><rect x="292.2" y="77.0" width="0.9" height="0.9" fill="#4a5cf5" fill-opacity="0.81"/><rect x="277.3" y="77.5" width="0.9" height="0.9" fill="#4a5cf5" fill-opacity="0.42"/><rect x="282.2" y="79.9" width="0.9" height="0.9" fill="#3b52f5" fill-opacity="0.43"/><rect x="294.0" y="58.4" width="0.9" height="0.9" fill="#3b52f5" fill-opacity="0.37"/><rect x="295.3" y="78.5" width="0.9" height="0.9" fill="#5a6cf8" fill-opacity="0.43"/><rect x="274.9" y="57.9" width="0.9" height="0.9" fill="#7f8cfb" fill-opacity="0.51"/><rect x="287.4" y="72.4" width="0.9" height="0.9" fill="#4a5cf5" fill-opacity="0.67"/><rect x="282.3" y="68.3" width="0.9" height="0.9" fill="#2f3ef0" fill-opacity="0.50"/><rect x="282.0" y="78.2" width="0.9" height="0.9" fill="#2f3ef0" fill-opacity="0.69"/><rect x="282.9" y="67.9" width="0.9" height="0.9" fill="#5a6cf8" fill-opacity="0.82"/><rect x="272.7" y="83.5" width="0.9" height="0.9" fill="#7f8cfb" fill-opacity="0.40"/><rect x="294.7" y="54.2" width="0.9" height="0.9" fill="#4a5cf5" fill-opacity="0.70"/><rect x="277.5" y="74.8" width="0.9" height="0.9" fill="#4a5cf5" fill-opacity="0.77"/><rect x="287.5" y="77.3" width="0.9" height="0.9" fill="#7f8cfb" fill-opacity="0.80"/><rect x="297.5" y="65.4" width="0.9" height="0.9" fill="#7f8cfb" fill-opacity="0.56"/><rect x="280.6" y="54.1" width="0.9" height="0.9" fill="#4a5cf5" fill-opacity="0.77"/><rect x="278.5" y="57.8" width="0.9" height="0.9" fill="#5a6cf8" fill-opacity="0.69"/><rect x="295.5" y="80.0" width="0.9" height="0.9" fill="#2f3ef0" fill-opacity="0.54"/><rect x="289.7" y="66.2" width="0.9" height="0.9" fill="#3b52f5" fill-opacity="0.64"/><rect x="283.0" y="83.8" width="0.9" height="0.9" fill="#3b52f5" fill-opacity="0.35"/><rect x="285.1" y="58.4" width="0.9" height="0.9" fill="#4a5cf5" fill-opacity="0.37"/><rect x="294.4" y="70.8" width="0.9" height="0.9" fill="#3b52f5" fill-opacity="0.65"/><rect x="282.9" y="74.1" width="0.9" height="0.9" fill="#7f8cfb" fill-opacity="0.69"/><rect x="277.5" y="71.6" width="0.9" height="0.9" fill="#4a5cf5" fill-opacity="0.59"/><rect x="276.4" y="77.2" width="0.9" height="0.9" fill="#5a6cf8" fill-opacity="0.67"/><rect x="283.4" y="58.5" width="0.9" height="0.9" fill="#5a6cf8" fill-opacity="0.35"/><rect x="273.8" y="53.3" width="0.9" height="0.9" fill="#5a6cf8" fill-opacity="0.47"/><rect x="278.2" y="70.6" width="0.9" height="0.9" fill="#2f3ef0" fill-opacity="0.70"/><rect x="295.1" y="66.1" width="0.9" height="0.9" fill="#7f8cfb" fill-opacity="0.73"/><rect x="273.1" y="77.8" width="0.9" height="0.9" fill="#2f3ef0" fill-opacity="0.46"/><rect x="293.9" y="79.8" width="0.9" height="0.9" fill="#5a6cf8" fill-opacity="0.66"/><rect x="288.6" y="84.2" width="0.9" height="0.9" fill="#2f3ef0" fill-opacity="0.78"/><rect x="287.3" y="53.3" width="0.9" height="0.9" fill="#4a5cf5" fill-opacity="0.63"/><rect x="272.1" y="50.3" width="0.9" height="0.9" fill="#4a5cf5" fill-opacity="0.53"/><rect x="296.0" y="60.7" width="0.9" height="0.9" fill="#7f8cfb" fill-opacity="0.83"/><rect x="276.5" y="55.9" width="0.9" height="0.9" fill="#7f8cfb" fill-opacity="0.72"/><rect x="280.1" y="71.6" width="0.9" height="0.9" fill="#4a5cf5" fill-opacity="0.43"/><rect x="281.1" y="84.0" width="0.9" height="0.9" fill="#7f8cfb" fill-opacity="0.53"/><rect x="272.1" y="48.9" width="0.9" height="0.9" fill="#4a5cf5" fill-opacity="0.81"/><rect x="273.2" y="71.1" width="0.9" height="0.9" fill="#5a6cf8" fill-opacity="0.73"/><rect x="281.8" y="52.5" width="0.9" height="0.9" fill="#2f3ef0" fill-opacity="0.48"/><rect x="279.1" y="59.9" width="0.9" height="0.9" fill="#2f3ef0" fill-opacity="0.62"/><rect x="293.5" y="62.7" width="0.9" height="0.9" fill="#7f8cfb" fill-opacity="0.45"/><rect x="280.9" y="52.1" width="0.9" height="0.9" fill="#7f8cfb" fill-opacity="0.51"/><rect x="273.7" y="65.3" width="0.9" height="0.9" fill="#4a5cf5" fill-opacity="0.69"/><rect x="276.8" y="79.1" width="0.9" height="0.9" fill="#5a6cf8" fill-opacity="0.62"/><rect x="283.1" y="78.7" width="0.9" height="0.9" fill="#4a5cf5" fill-opacity="0.56"/><rect x="274.1" y="65.1" width="0.9" height="0.9" fill="#5a6cf8" fill-opacity="0.41"/><rect x="285.4" y="51.9" width="0.9" height="0.9" fill="#5a6cf8" fill-opacity="0.75"/><rect x="272.2" y="59.4" width="0.9" height="0.9" fill="#4a5cf5" fill-opacity="0.67"/><rect x="275.0" y="50.8" width="0.9" height="0.9" fill="#5a6cf8" fill-opacity="0.60"/><rect x="297.9" y="50.8" width="0.9" height="0.9" fill="#7f8cfb" fill-opacity="0.73"/><rect x="276.3" y="75.2" width="0.9" height="0.9" fill="#2f3ef0" fill-opacity="0.35"/><rect x="280.2" y="58.6" width="0.9" height="0.9" fill="#4a5cf5" fill-opacity="0.42"/><rect x="296.7" y="73.0" width="0.9" height="0.9" fill="#3b52f5" fill-opacity="0.75"/><rect x="288.5" y="52.0" width="0.9" height="0.9" fill="#5a6cf8" fill-opacity="0.81"/><rect x="309.3" y="64.3" width="0.9" height="0.9" fill="#3b52f5" fill-opacity="0.46"/><rect x="275.6" y="60.1" width="0.9" height="0.9" fill="#4a5cf5" fill-opacity="0.60"/><rect x="294.3" y="59.2" width="0.9" height="0.9" fill="#5a6cf8" fill-opacity="0.62"/><rect x="274.4" y="61.1" width="0.9" height="0.9" fill="#3b52f5" fill-opacity="0.48"/><rect x="289.5" y="57.3" width="0.9" height="0.9" fill="#2f3ef0" fill-opacity="0.69"/><rect x="291.7" y="83.8" width="0.9" height="0.9" fill="#4a5cf5" fill-opacity="0.78"/><rect x="293.9" y="53.7" width="0.9" height="0.9" fill="#3b52f5" fill-opacity="0.60"/><rect x="275.6" y="78.6" width="0.9" height="0.9" fill="#7f8cfb" fill-opacity="0.83"/><rect x="304.7" y="78.4" width="0.9" height="0.9" fill="#3b52f5" fill-opacity="0.73"/><rect x="286.2" y="63.7" width="0.9" height="0.9" fill="#2f3ef0" fill-opacity="0.66"/><rect x="290.0" y="64.5" width="0.9" height="0.9" fill="#4a5cf5" fill-opacity="0.58"/><rect x="286.3" y="74.8" width="0.9" height="0.9" fill="#7f8cfb" fill-opacity="0.70"/><rect x="279.9" y="84.3" width="0.9" height="0.9" fill="#3b52f5" fill-opacity="0.56"/><rect x="288.5" y="64.1" width="0.9" height="0.9" fill="#4a5cf5" fill-opacity="0.45"/><rect x="280.8" y="76.5" width="0.9" height="0.9" fill="#7f8cfb" fill-opacity="0.70"/><rect x="276.4" y="64.1" width="0.9" height="0.9" fill="#2f3ef0" fill-opacity="0.83"/><rect x="288.7" y="57.6" width="0.9" height="0.9" fill="#4a5cf5" fill-opacity="0.59"/><rect x="291.8" y="74.4" width="0.9" height="0.9" fill="#5a6cf8" fill-opacity="0.36"/><rect x="292.0" y="55.5" width="0.9" height="0.9" fill="#3b52f5" fill-opacity="0.76"/><rect x="289.0" y="64.0" width="0.9" height="0.9" fill="#3b52f5" fill-opacity="0.78"/><rect x="276.9" y="67.6" width="0.9" height="0.9" fill="#3b52f5" fill-opacity="0.44"/><rect x="272.3" y="71.5" width="0.9" height="0.9" fill="#4a5cf5" fill-opacity="0.66"/><rect x="277.5" y="78.2" width="0.9" height="0.9" fill="#7f8cfb" fill-opacity="0.74"/><rect x="276.5" y="76.3" width="0.9" height="0.9" fill="#4a5cf5" fill-opacity="0.41"/><rect x="285.1" y="57.7" width="0.9" height="0.9" fill="#5a6cf8" fill-opacity="0.52"/><rect x="306.9" y="74.5" width="0.9" height="0.9" fill="#4a5cf5" fill-opacity="0.59"/><rect x="272.1" y="80.8" width="0.9" height="0.9" fill="#7f8cfb" fill-opacity="0.54"/><rect x="293.0" y="66.4" width="0.9" height="0.9" fill="#5a6cf8" fill-opacity="0.60"/><rect x="287.6" y="74.2" width="0.9" height="0.9" fill="#4a5cf5" fill-opacity="0.43"/><rect x="273.8" y="83.1" width="0.9" height="0.9" fill="#4a5cf5" fill-opacity="0.68"/><rect x="274.3" y="52.0" width="0.9" height="0.9" fill="#4a5cf5" fill-opacity="0.76"/><rect x="284.0" y="69.4" width="0.9" height="0.9" fill="#2f3ef0" fill-opacity="0.52"/><rect x="272.0" y="85.9" width="0.9" height="0.9" fill="#3b52f5" fill-opacity="0.52"/><rect x="295.3" y="56.1" width="0.9" height="0.9" fill="#5a6cf8" fill-opacity="0.63"/><rect x="293.3" y="87.9" width="0.9" height="0.9" fill="#3b52f5" fill-opacity="0.57"/><rect x="285.0" y="66.6" width="0.9" height="0.9" fill="#4a5cf5" fill-opacity="0.41"/><rect x="276.1" y="85.3" width="0.9" height="0.9" fill="#5a6cf8" fill-opacity="0.81"/><rect x="288.7" y="75.6" width="0.9" height="0.9" fill="#3b52f5" fill-opacity="0.71"/><rect x="275.7" y="69.0" width="0.9" height="0.9" fill="#7f8cfb" fill-opacity="0.58"/><rect x="277.4" y="65.1" width="0.9" height="0.9" fill="#7f8cfb" fill-opacity="0.67"/><rect x="273.7" y="79.5" width="0.9" height="0.9" fill="#5a6cf8" fill-opacity="0.72"/><rect x="295.7" y="59.3" width="0.9" height="0.9" fill="#2f3ef0" fill-opacity="0.66"/><rect x="274.7" y="63.8" width="0.9" height="0.9" fill="#7f8cfb" fill-opacity="0.50"/><rect x="281.5" y="81.2" width="0.9" height="0.9" fill="#4a5cf5" fill-opacity="0.36"/><rect x="310.4" y="83.4" width="0.9" height="0.9" fill="#4a5cf5" fill-opacity="0.80"/><rect x="282.4" y="76.4" width="0.9" height="0.9" fill="#7f8cfb" fill-opacity="0.50"/><rect x="287.6" y="58.9" width="0.9" height="0.9" fill="#5a6cf8" fill-opacity="0.39"/><rect x="272.4" y="74.5" width="0.9" height="0.9" fill="#5a6cf8" fill-opacity="0.54"/><rect x="280.7" y="54.0" width="0.9" height="0.9" fill="#3b52f5" fill-opacity="0.46"/><rect x="309.7" y="76.4" width="0.9" height="0.9" fill="#7f8cfb" fill-opacity="0.57"/><rect x="277.6" y="84.9" width="0.9" height="0.9" fill="#3b52f5" fill-opacity="0.38"/><rect x="293.6" y="55.9" width="0.9" height="0.9" fill="#2f3ef0" fill-opacity="0.79"/><rect x="294.4" y="85.1" width="0.9" height="0.9" fill="#2f3ef0" fill-opacity="0.45"/><rect x="299.2" y="68.3" width="0.9" height="0.9" fill="#5a6cf8" fill-opacity="0.44"/><rect x="272.0" y="62.4" width="0.9" height="0.9" fill="#3b52f5" fill-opacity="0.49"/><rect x="279.2" y="59.6" width="0.9" height="0.9" fill="#7f8cfb" fill-opacity="0.42"/><rect x="274.8" y="83.6" width="0.9" height="0.9" fill="#2f3ef0" fill-opacity="0.67"/><rect x="279.3" y="52.6" width="0.9" height="0.9" fill="#2f3ef0" fill-opacity="0.77"/><rect x="286.7" y="68.8" width="0.9" height="0.9" fill="#2f3ef0" fill-opacity="0.64"/><rect x="286.9" y="69.0" width="0.9" height="0.9" fill="#5a6cf8" fill-opacity="0.43"/><rect x="277.4" y="74.1" width="0.9" height="0.9" fill="#4a5cf5" fill-opacity="0.84"/><rect x="279.5" y="59.8" width="0.9" height="0.9" fill="#4a5cf5" fill-opacity="0.71"/><rect x="275.3" y="77.0" width="0.9" height="0.9" fill="#4a5cf5" fill-opacity="0.46"/><rect x="292.2" y="55.9" width="0.9" height="0.9" fill="#2f3ef0" fill-opacity="0.58"/><rect x="279.2" y="75.1" width="0.9" height="0.9" fill="#4a5cf5" fill-opacity="0.40"/><rect x="292.8" y="59.7" width="0.9" height="0.9" fill="#2f3ef0" fill-opacity="0.59"/><rect x="274.5" y="84.7" width="0.9" height="0.9" fill="#5a6cf8" fill-opacity="0.74"/><rect x="273.7" y="49.5" width="0.9" height="0.9" fill="#7f8cfb" fill-opacity="0.45"/><rect x="277.5" y="56.7" width="0.9" height="0.9" fill="#3b52f5" fill-opacity="0.67"/><rect x="289.3" y="56.3" width="0.9" height="0.9" fill="#4a5cf5" fill-opacity="0.80"/><rect x="277.9" y="84.1" width="0.9" height="0.9" fill="#5a6cf8" fill-opacity="0.59"/><rect x="289.5" y="63.8" width="0.9" height="0.9" fill="#7f8cfb" fill-opacity="0.76"/><rect x="295.2" y="56.3" width="0.9" height="0.9" fill="#5a6cf8" fill-opacity="0.52"/><rect x="279.6" y="79.5" width="0.9" height="0.9" fill="#5a6cf8" fill-opacity="0.84"/><rect x="286.3" y="87.9" width="0.9" height="0.9" fill="#3b52f5" fill-opacity="0.48"/><rect x="274.8" y="75.9" width="0.9" height="0.9" fill="#4a5cf5" fill-opacity="0.69"/><rect x="310.4" y="78.6" width="0.9" height="0.9" fill="#2f3ef0" fill-opacity="0.84"/><rect x="275.0" y="74.8" width="0.9" height="0.9" fill="#7f8cfb" fill-opacity="0.78"/><rect x="282.0" y="50.5" width="0.9" height="0.9" fill="#5a6cf8" fill-opacity="0.50"/><rect x="299.0" y="73.0" width="0.9" height="0.9" fill="#2f3ef0" fill-opacity="0.79"/><rect x="279.9" y="52.0" width="0.9" height="0.9" fill="#7f8cfb" fill-opacity="0.51"/><rect x="279.7" y="84.6" width="0.9" height="0.9" fill="#3b52f5" fill-opacity="0.85"/><rect x="274.9" y="72.1" width="0.9" height="0.9" fill="#3b52f5" fill-opacity="0.36"/><rect x="287.3" y="80.7" width="0.9" height="0.9" fill="#5a6cf8" fill-opacity="0.57"/><rect x="282.8" y="77.8" width="0.9" height="0.9" fill="#4a5cf5" fill-opacity="0.75"/><rect x="277.9" y="55.5" width="0.9" height="0.9" fill="#2f3ef0" fill-opacity="0.55"/><rect x="272.2" y="62.8" width="0.9" height="0.9" fill="#4a5cf5" fill-opacity="0.59"/><rect x="282.9" y="80.7" width="0.9" height="0.9" fill="#5a6cf8" fill-opacity="0.62"/><rect x="290.6" y="76.2" width="0.9" height="0.9" fill="#4a5cf5" fill-opacity="0.74"/><rect x="299.9" y="64.7" width="0.9" height="0.9" fill="#3b52f5" fill-opacity="0.81"/><rect x="294.3" y="55.0" width="0.9" height="0.9" fill="#7f8cfb" fill-opacity="0.47"/><rect x="275.6" y="53.0" width="0.9" height="0.9" fill="#5a6cf8" fill-opacity="0.35"/><rect x="280.1" y="72.4" width="0.9" height="0.9" fill="#5a6cf8" fill-opacity="0.49"/><rect x="274.7" y="57.4" width="0.9" height="0.9" fill="#7f8cfb" fill-opacity="0.71"/><rect x="272.3" y="49.5" width="0.9" height="0.9" fill="#3b52f5" fill-opacity="0.83"/><rect x="308.3" y="83.5" width="0.9" height="0.9" fill="#7f8cfb" fill-opacity="0.60"/><rect x="273.0" y="83.2" width="0.9" height="0.9" fill="#2f3ef0" fill-opacity="0.73"/><rect x="285.8" y="54.6" width="0.9" height="0.9" fill="#4a5cf5" fill-opacity="0.37"/><rect x="301.9" y="85.2" width="0.9" height="0.9" fill="#5a6cf8" fill-opacity="0.47"/><rect x="281.4" y="69.8" width="0.9" height="0.9" fill="#2f3ef0" fill-opacity="0.63"/><rect x="279.4" y="58.4" width="0.9" height="0.9" fill="#7f8cfb" fill-opacity="0.66"/><rect x="291.1" y="69.6" width="0.9" height="0.9" fill="#5a6cf8" fill-opacity="0.84"/><rect x="289.8" y="56.7" width="0.9" height="0.9" fill="#3b52f5" fill-opacity="0.44"/><rect x="286.7" y="73.8" width="0.9" height="0.9" fill="#4a5cf5" fill-opacity="0.48"/><rect x="296.8" y="74.1" width="0.9" height="0.9" fill="#7f8cfb" fill-opacity="0.84"/><rect x="274.3" y="82.8" width="0.9" height="0.9" fill="#4a5cf5" fill-opacity="0.83"/><rect x="283.4" y="58.6" width="0.9" height="0.9" fill="#5a6cf8" fill-opacity="0.65"/><rect x="296.1" y="68.4" width="0.9" height="0.9" fill="#4a5cf5" fill-opacity="0.75"/><rect x="280.6" y="59.5" width="0.9" height="0.9" fill="#4a5cf5" fill-opacity="0.57"/><rect x="287.5" y="55.2" width="0.9" height="0.9" fill="#4a5cf5" fill-opacity="0.63"/><rect x="289.1" y="81.1" width="0.9" height="0.9" fill="#2f3ef0" fill-opacity="0.81"/><rect x="297.2" y="59.5" width="0.9" height="0.9" fill="#3b52f5" fill-opacity="0.40"/><rect x="289.1" y="83.4" width="0.9" height="0.9" fill="#7f8cfb" fill-opacity="0.45"/><rect x="280.5" y="55.2" width="0.9" height="0.9" fill="#3b52f5" fill-opacity="0.77"/><rect x="284.7" y="65.4" width="0.9" height="0.9" fill="#5a6cf8" fill-opacity="0.43"/><rect x="293.3" y="50.7" width="0.9" height="0.9" fill="#3b52f5" fill-opacity="0.36"/><rect x="308.1" y="68.5" width="0.9" height="0.9" fill="#4a5cf5" fill-opacity="0.41"/><rect x="274.5" y="71.8" width="0.9" height="0.9" fill="#5a6cf8" fill-opacity="0.83"/><rect x="294.6" y="67.5" width="0.9" height="0.9" fill="#2f3ef0" fill-opacity="0.71"/><rect x="285.5" y="65.3" width="0.9" height="0.9" fill="#5a6cf8" fill-opacity="0.61"/><rect x="305.9" y="66.4" width="0.9" height="0.9" fill="#4a5cf5" fill-opacity="0.70"/><rect x="291.9" y="54.5" width="0.9" height="0.9" fill="#2f3ef0" fill-opacity="0.45"/><rect x="274.1" y="63.9" width="0.9" height="0.9" fill="#5a6cf8" fill-opacity="0.39"/><rect x="274.1" y="54.5" width="0.9" height="0.9" fill="#5a6cf8" fill-opacity="0.45"/><rect x="280.5" y="58.1" width="0.9" height="0.9" fill="#4a5cf5" fill-opacity="0.56"/><rect x="280.8" y="57.6" width="0.9" height="0.9" fill="#2f3ef0" fill-opacity="0.74"/><rect x="282.0" y="75.3" width="0.9" height="0.9" fill="#3b52f5" fill-opacity="0.82"/><rect x="283.2" y="65.5" width="0.9" height="0.9" fill="#5a6cf8" fill-opacity="0.65"/><rect x="274.1" y="52.2" width="0.9" height="0.9" fill="#5a6cf8" fill-opacity="0.74"/><rect x="288.9" y="65.8" width="0.9" height="0.9" fill="#2f3ef0" fill-opacity="0.85"/><rect x="274.3" y="54.8" width="0.9" height="0.9" fill="#2f3ef0" fill-opacity="0.48"/><rect x="280.7" y="61.9" width="0.9" height="0.9" fill="#4a5cf5" fill-opacity="0.77"/><rect x="297.9" y="56.6" width="0.9" height="0.9" fill="#2f3ef0" fill-opacity="0.57"/><rect x="273.8" y="76.6" width="0.9" height="0.9" fill="#3b52f5" fill-opacity="0.64"/><rect x="284.2" y="51.9" width="0.9" height="0.9" fill="#5a6cf8" fill-opacity="0.41"/><rect x="272.9" y="85.9" width="0.9" height="0.9" fill="#2f3ef0" fill-opacity="0.52"/><rect x="286.4" y="51.7" width="0.9" height="0.9" fill="#5a6cf8" fill-opacity="0.37"/><rect x="281.6" y="59.8" width="0.9" height="0.9" fill="#3b52f5" fill-opacity="0.67"/><rect x="282.9" y="52.5" width="0.9" height="0.9" fill="#7f8cfb" fill-opacity="0.40"/><rect x="296.8" y="54.4" width="0.9" height="0.9" fill="#2f3ef0" fill-opacity="0.51"/><rect x="278.0" y="59.8" width="0.9" height="0.9" fill="#2f3ef0" fill-opacity="0.74"/><rect x="293.1" y="55.5" width="0.9" height="0.9" fill="#4a5cf5" fill-opacity="0.82"/><rect x="272.6" y="75.0" width="0.9" height="0.9" fill="#2f3ef0" fill-opacity="0.78"/><rect x="298.7" y="50.4" width="0.9" height="0.9" fill="#7f8cfb" fill-opacity="0.75"/><rect x="280.8" y="53.3" width="0.9" height="0.9" fill="#5a6cf8" fill-opacity="0.63"/><rect x="286.8" y="81.8" width="0.9" height="0.9" fill="#2f3ef0" fill-opacity="0.69"/><rect x="272.4" y="51.1" width="0.9" height="0.9" fill="#2f3ef0" fill-opacity="0.67"/><rect x="282.1" y="83.3" width="0.9" height="0.9" fill="#4a5cf5" fill-opacity="0.75"/><rect x="286.3" y="50.4" width="0.9" height="0.9" fill="#2f3ef0" fill-opacity="0.36"/><rect x="278.5" y="51.1" width="0.9" height="0.9" fill="#3b52f5" fill-opacity="0.62"/><rect x="275.5" y="78.5" width="0.9" height="0.9" fill="#7f8cfb" fill-opacity="0.43"/><rect x="279.9" y="75.2" width="0.9" height="0.9" fill="#3b52f5" fill-opacity="0.78"/><rect x="290.3" y="54.6" width="0.9" height="0.9" fill="#7f8cfb" fill-opacity="0.38"/><rect x="272.2" y="62.9" width="0.9" height="0.9" fill="#2f3ef0" fill-opacity="0.75"/><rect x="295.2" y="55.2" width="0.9" height="0.9" fill="#2f3ef0" fill-opacity="0.71"/><rect x="286.4" y="56.6" width="0.9" height="0.9" fill="#3b52f5" fill-opacity="0.58"/><rect x="293.0" y="56.8" width="0.9" height="0.9" fill="#4a5cf5" fill-opacity="0.46"/><rect x="280.5" y="55.2" width="0.9" height="0.9" fill="#7f8cfb" fill-opacity="0.70"/><rect x="297.4" y="84.3" width="0.9" height="0.9" fill="#4a5cf5" fill-opacity="0.41"/><rect x="277.1" y="63.2" width="0.9" height="0.9" fill="#2f3ef0" fill-opacity="0.64"/><rect x="290.5" y="65.1" width="0.9" height="0.9" fill="#3b52f5" fill-opacity="0.42"/><rect x="284.3" y="65.4" width="0.9" height="0.9" fill="#3b52f5" fill-opacity="0.53"/><rect x="277.7" y="68.0" width="0.9" height="0.9" fill="#7f8cfb" fill-opacity="0.67"/><rect x="291.4" y="67.1" width="0.9" height="0.9" fill="#3b52f5" fill-opacity="0.49"/><rect x="278.4" y="68.7" width="0.9" height="0.9" fill="#3b52f5" fill-opacity="0.46"/><rect x="284.7" y="50.7" width="0.9" height="0.9" fill="#5a6cf8" fill-opacity="0.37"/><rect x="286.6" y="52.7" width="0.9" height="0.9" fill="#7f8cfb" fill-opacity="0.54"/><rect x="272.6" y="68.7" width="0.9" height="0.9" fill="#4a5cf5" fill-opacity="0.41"/><rect x="274.0" y="85.3" width="0.9" height="0.9" fill="#4a5cf5" fill-opacity="0.84"/><rect x="294.8" y="80.8" width="0.9" height="0.9" fill="#4a5cf5" fill-opacity="0.48"/><rect x="278.6" y="74.3" width="0.9" height="0.9" fill="#3b52f5" fill-opacity="0.35"/><rect x="276.9" y="89.0" width="0.9" height="0.9" fill="#3b52f5" fill-opacity="0.58"/><rect x="298.7" y="70.5" width="0.9" height="0.9" fill="#3b52f5" fill-opacity="0.70"/><rect x="283.1" y="54.7" width="0.9" height="0.9" fill="#2f3ef0" fill-opacity="0.44"/><rect x="273.5" y="56.7" width="0.9" height="0.9" fill="#3b52f5" fill-opacity="0.39"/><rect x="288.4" y="79.3" width="0.9" height="0.9" fill="#4a5cf5" fill-opacity="0.52"/><rect x="285.2" y="56.9" width="0.9" height="0.9" fill="#4a5cf5" fill-opacity="0.59"/><rect x="284.3" y="51.1" width="0.9" height="0.9" fill="#4a5cf5" fill-opacity="0.48"/><rect x="296.2" y="59.3" width="0.9" height="0.9" fill="#4a5cf5" fill-opacity="0.43"/><rect x="279.2" y="67.4" width="0.9" height="0.9" fill="#4a5cf5" fill-opacity="0.83"/><rect x="287.8" y="56.0" width="0.9" height="0.9" fill="#3b52f5" fill-opacity="0.42"/><rect x="294.8" y="56.4" width="0.9" height="0.9" fill="#4a5cf5" fill-opacity="0.81"/><rect x="286.5" y="53.2" width="0.9" height="0.9" fill="#5a6cf8" fill-opacity="0.74"/><rect x="298.5" y="51.0" width="0.9" height="0.9" fill="#5a6cf8" fill-opacity="0.82"/><rect x="288.7" y="69.9" width="0.9" height="0.9" fill="#4a5cf5" fill-opacity="0.53"/><rect x="298.4" y="67.9" width="0.9" height="0.9" fill="#2f3ef0" fill-opacity="0.60"/><rect x="283.2" y="77.0" width="0.9" height="0.9" fill="#4a5cf5" fill-opacity="0.38"/><rect x="285.6" y="53.2" width="0.9" height="0.9" fill="#7f8cfb" fill-opacity="0.44"/><rect x="280.6" y="74.3" width="0.9" height="0.9" fill="#7f8cfb" fill-opacity="0.62"/><rect x="281.3" y="84.8" width="0.9" height="0.9" fill="#2f3ef0" fill-opacity="0.58"/><rect x="280.1" y="71.9" width="0.9" height="0.9" fill="#3b52f5" fill-opacity="0.43"/><rect x="285.0" y="53.0" width="0.9" height="0.9" fill="#3b52f5" fill-opacity="0.42"/><rect x="282.9" y="82.1" width="0.9" height="0.9" fill="#7f8cfb" fill-opacity="0.70"/><rect x="275.8" y="85.0" width="0.9" height="0.9" fill="#5a6cf8" fill-opacity="0.82"/><rect x="283.8" y="55.0" width="0.9" height="0.9" fill="#2f3ef0" fill-opacity="0.53"/><rect x="294.7" y="69.8" width="0.9" height="0.9" fill="#7f8cfb" fill-opacity="0.44"/><rect x="294.3" y="51.7" width="0.9" height="0.9" fill="#4a5cf5" fill-opacity="0.49"/><rect x="277.6" y="84.2" width="0.9" height="0.9" fill="#5a6cf8" fill-opacity="0.65"/><rect x="283.9" y="76.1" width="0.9" height="0.9" fill="#4a5cf5" fill-opacity="0.73"/><rect x="312.8" y="76.5" width="0.9" height="0.9" fill="#2f3ef0" fill-opacity="0.66"/><rect x="277.8" y="52.8" width="0.9" height="0.9" fill="#5a6cf8" fill-opacity="0.64"/><rect x="298.1" y="53.7" width="0.9" height="0.9" fill="#3b52f5" fill-opacity="0.50"/><rect x="291.3" y="63.0" width="0.9" height="0.9" fill="#3b52f5" fill-opacity="0.58"/><rect x="281.2" y="56.0" width="0.9" height="0.9" fill="#7f8cfb" fill-opacity="0.60"/><rect x="281.4" y="59.0" width="0.9" height="0.9" fill="#2f3ef0" fill-opacity="0.58"/><rect x="273.2" y="61.6" width="0.9" height="0.9" fill="#7f8cfb" fill-opacity="0.80"/><rect x="272.5" y="66.3" width="0.9" height="0.9" fill="#3b52f5" fill-opacity="0.49"/><rect x="276.8" y="72.3" width="0.9" height="0.9" fill="#5a6cf8" fill-opacity="0.49"/><rect x="274.3" y="60.5" width="0.9" height="0.9" fill="#4a5cf5" fill-opacity="0.80"/><rect x="289.9" y="71.6" width="0.9" height="0.9" fill="#5a6cf8" fill-opacity="0.56"/><rect x="274.7" y="72.6" width="0.9" height="0.9" fill="#3b52f5" fill-opacity="0.57"/><rect x="284.3" y="63.3" width="0.9" height="0.9" fill="#2f3ef0" fill-opacity="0.36"/><rect x="302.9" y="63.1" width="0.9" height="0.9" fill="#5a6cf8" fill-opacity="0.59"/><rect x="290.5" y="66.1" width="0.9" height="0.9" fill="#5a6cf8" fill-opacity="0.59"/><rect x="281.4" y="84.3" width="0.9" height="0.9" fill="#4a5cf5" fill-opacity="0.42"/><rect x="281.9" y="52.7" width="0.9" height="0.9" fill="#3b52f5" fill-opacity="0.39"/><rect x="285.3" y="81.8" width="0.9" height="0.9" fill="#2f3ef0" fill-opacity="0.72"/><rect x="293.1" y="69.1" width="0.9" height="0.9" fill="#5a6cf8" fill-opacity="0.81"/><rect x="279.1" y="84.1" width="0.9" height="0.9" fill="#4a5cf5" fill-opacity="0.83"/><rect x="276.0" y="54.6" width="0.9" height="0.9" fill="#4a5cf5" fill-opacity="0.63"/><rect x="285.7" y="55.6" width="0.9" height="0.9" fill="#7f8cfb" fill-opacity="0.66"/><rect x="285.2" y="62.2" width="0.9" height="0.9" fill="#5a6cf8" fill-opacity="0.84"/><rect x="272.6" y="81.6" width="0.9" height="0.9" fill="#4a5cf5" fill-opacity="0.73"/><rect x="275.2" y="72.7" width="0.9" height="0.9" fill="#4a5cf5" fill-opacity="0.76"/><rect x="273.6" y="77.0" width="0.9" height="0.9" fill="#4a5cf5" fill-opacity="0.50"/><rect x="287.9" y="55.2" width="0.9" height="0.9" fill="#7f8cfb" fill-opacity="0.81"/><rect x="284.5" y="50.7" width="0.9" height="0.9" fill="#7f8cfb" fill-opacity="0.35"/><rect x="278.3" y="79.7" width="0.9" height="0.9" fill="#7f8cfb" fill-opacity="0.45"/><rect x="285.5" y="53.6" width="0.9" height="0.9" fill="#4a5cf5" fill-opacity="0.56"/><rect x="292.4" y="62.1" width="0.9" height="0.9" fill="#7f8cfb" fill-opacity="0.76"/><rect x="274.6" y="65.8" width="0.9" height="0.9" fill="#5a6cf8" fill-opacity="0.83"/><rect x="274.0" y="87.9" width="0.9" height="0.9" fill="#7f8cfb" fill-opacity="0.59"/><rect x="291.4" y="65.6" width="0.9" height="0.9" fill="#3b52f5" fill-opacity="0.37"/><rect x="277.2" y="76.9" width="0.9" height="0.9" fill="#4a5cf5" fill-opacity="0.78"/><rect x="291.4" y="86.5" width="0.9" height="0.9" fill="#2f3ef0" fill-opacity="0.38"/><rect x="276.5" y="76.4" width="0.9" height="0.9" fill="#5a6cf8" fill-opacity="0.84"/><rect x="274.3" y="55.3" width="0.9" height="0.9" fill="#4a5cf5" fill-opacity="0.79"/><rect x="278.6" y="85.7" width="0.9" height="0.9" fill="#4a5cf5" fill-opacity="0.50"/><rect x="276.1" y="51.3" width="0.9" height="0.9" fill="#3b52f5" fill-opacity="0.69"/><rect x="278.4" y="57.7" width="0.9" height="0.9" fill="#2f3ef0" fill-opacity="0.68"/><rect x="298.8" y="88.8" width="0.9" height="0.9" fill="#7f8cfb" fill-opacity="0.74"/><rect x="272.7" y="73.4" width="0.9" height="0.9" fill="#3b52f5" fill-opacity="0.78"/><rect x="281.0" y="77.3" width="0.9" height="0.9" fill="#5a6cf8" fill-opacity="0.55"/><rect x="280.5" y="70.3" width="0.9" height="0.9" fill="#3b52f5" fill-opacity="0.51"/><rect x="275.4" y="70.1" width="0.9" height="0.9" fill="#2f3ef0" fill-opacity="0.37"/><rect x="308.6" y="68.3" width="0.9" height="0.9" fill="#7f8cfb" fill-opacity="0.43"/><rect x="287.9" y="59.6" width="0.9" height="0.9" fill="#2f3ef0" fill-opacity="0.77"/><rect x="296.8" y="58.4" width="0.9" height="0.9" fill="#5a6cf8" fill-opacity="0.65"/><rect x="279.0" y="80.9" width="0.9" height="0.9" fill="#5a6cf8" fill-opacity="0.83"/><rect x="304.3" y="77.5" width="0.9" height="0.9" fill="#4a5cf5" fill-opacity="0.70"/><rect x="274.8" y="83.1" width="0.9" height="0.9" fill="#7f8cfb" fill-opacity="0.70"/><rect x="276.1" y="68.9" width="0.9" height="0.9" fill="#2f3ef0" fill-opacity="0.70"/><rect x="282.4" y="51.5" width="0.9" height="0.9" fill="#2f3ef0" fill-opacity="0.79"/><rect x="276.7" y="54.2" width="0.9" height="0.9" fill="#3b52f5" fill-opacity="0.41"/><rect x="278.0" y="50.9" width="0.9" height="0.9" fill="#7f8cfb" fill-opacity="0.61"/><rect x="272.8" y="78.1" width="0.9" height="0.9" fill="#3b52f5" fill-opacity="0.40"/><rect x="272.5" y="54.6" width="0.9" height="0.9" fill="#3b52f5" fill-opacity="0.39"/><rect x="278.0" y="75.0" width="0.9" height="0.9" fill="#7f8cfb" fill-opacity="0.74"/><rect x="280.3" y="88.6" width="0.9" height="0.9" fill="#4a5cf5" fill-opacity="0.66"/><rect x="291.1" y="54.2" width="0.9" height="0.9" fill="#4a5cf5" fill-opacity="0.68"/><rect x="272.6" y="85.4" width="0.9" height="0.9" fill="#4a5cf5" fill-opacity="0.36"/><rect x="278.3" y="52.8" width="0.9" height="0.9" fill="#5a6cf8" fill-opacity="0.58"/><rect x="295.3" y="56.1" width="0.9" height="0.9" fill="#2f3ef0" fill-opacity="0.83"/><rect x="274.5" y="68.4" width="0.9" height="0.9" fill="#4a5cf5" fill-opacity="0.75"/><rect x="280.3" y="56.1" width="0.9" height="0.9" fill="#5a6cf8" fill-opacity="0.78"/><rect x="278.7" y="86.3" width="0.9" height="0.9" fill="#7f8cfb" fill-opacity="0.73"/><rect x="284.8" y="51.4" width="0.9" height="0.9" fill="#3b52f5" fill-opacity="0.85"/><rect x="281.4" y="80.8" width="0.9" height="0.9" fill="#4a5cf5" fill-opacity="0.85"/><rect x="296.8" y="50.1" width="0.9" height="0.9" fill="#3b52f5" fill-opacity="0.56"/><rect x="281.5" y="75.6" width="0.9" height="0.9" fill="#5a6cf8" fill-opacity="0.39"/><rect x="286.8" y="81.0" width="0.9" height="0.9" fill="#2f3ef0" fill-opacity="0.50"/><rect x="277.4" y="64.9" width="0.9" height="0.9" fill="#3b52f5" fill-opacity="0.78"/><rect x="289.9" y="74.6" width="0.9" height="0.9" fill="#5a6cf8" fill-opacity="0.62"/><rect x="276.8" y="75.4" width="0.9" height="0.9" fill="#5a6cf8" fill-opacity="0.62"/><rect x="273.6" y="55.0" width="0.9" height="0.9" fill="#4a5cf5" fill-opacity="0.53"/><rect x="306.7" y="74.9" width="0.9" height="0.9" fill="#7f8cfb" fill-opacity="0.37"/><rect x="293.5" y="81.6" width="0.9" height="0.9" fill="#7f8cfb" fill-opacity="0.74"/><rect x="288.9" y="73.4" width="0.9" height="0.9" fill="#5a6cf8" fill-opacity="0.40"/><rect x="274.2" y="68.2" width="0.9" height="0.9" fill="#4a5cf5" fill-opacity="0.65"/><rect x="280.3" y="55.2" width="0.9" height="0.9" fill="#5a6cf8" fill-opacity="0.54"/><rect x="278.6" y="70.3" width="0.9" height="0.9" fill="#2f3ef0" fill-opacity="0.42"/><rect x="275.0" y="82.4" width="0.9" height="0.9" fill="#2f3ef0" fill-opacity="0.56"/><rect x="282.2" y="85.0" width="0.9" height="0.9" fill="#4a5cf5" fill-opacity="0.51"/><rect x="274.8" y="50.4" width="0.9" height="0.9" fill="#5a6cf8" fill-opacity="0.51"/><rect x="274.0" y="74.2" width="0.9" height="0.9" fill="#4a5cf5" fill-opacity="0.75"/><rect x="287.9" y="77.7" width="0.9" height="0.9" fill="#4a5cf5" fill-opacity="0.48"/><rect x="296.6" y="73.5" width="0.9" height="0.9" fill="#3b52f5" fill-opacity="0.82"/><rect x="281.4" y="58.9" width="0.9" height="0.9" fill="#4a5cf5" fill-opacity="0.76"/><rect x="298.7" y="54.4" width="0.9" height="0.9" fill="#3b52f5" fill-opacity="0.36"/><rect x="279.1" y="65.3" width="0.9" height="0.9" fill="#5a6cf8" fill-opacity="0.55"/><rect x="276.6" y="86.2" width="0.9" height="0.9" fill="#3b52f5" fill-opacity="0.36"/><rect x="285.8" y="56.4" width="0.9" height="0.9" fill="#5a6cf8" fill-opacity="0.82"/><rect x="295.9" y="50.4" width="0.9" height="0.9" fill="#7f8cfb" fill-opacity="0.63"/><rect x="290.1" y="52.1" width="0.9" height="0.9" fill="#5a6cf8" fill-opacity="0.68"/><rect x="281.8" y="57.4" width="0.9" height="0.9" fill="#7f8cfb" fill-opacity="0.84"/><rect x="281.8" y="55.0" width="0.9" height="0.9" fill="#7f8cfb" fill-opacity="0.53"/><rect x="273.7" y="79.5" width="0.9" height="0.9" fill="#2f3ef0" fill-opacity="0.85"/><rect x="277.7" y="58.8" width="0.9" height="0.9" fill="#7f8cfb" fill-opacity="0.78"/><rect x="274.4" y="58.0" width="0.9" height="0.9" fill="#5a6cf8" fill-opacity="0.63"/><rect x="276.9" y="54.0" width="0.9" height="0.9" fill="#3b52f5" fill-opacity="0.53"/><rect x="272.7" y="77.9" width="0.9" height="0.9" fill="#7f8cfb" fill-opacity="0.64"/><rect x="273.3" y="84.6" width="0.9" height="0.9" fill="#5a6cf8" fill-opacity="0.75"/><rect x="298.7" y="57.1" width="0.9" height="0.9" fill="#7f8cfb" fill-opacity="0.69"/><rect x="273.4" y="71.8" width="0.9" height="0.9" fill="#2f3ef0" fill-opacity="0.77"/><rect x="276.8" y="76.5" width="0.9" height="0.9" fill="#4a5cf5" fill-opacity="0.68"/><rect x="282.6" y="72.2" width="0.9" height="0.9" fill="#2f3ef0" fill-opacity="0.50"/><rect x="295.0" y="76.6" width="0.9" height="0.9" fill="#2f3ef0" fill-opacity="0.78"/><rect x="284.5" y="59.6" width="0.9" height="0.9" fill="#3b52f5" fill-opacity="0.74"/><rect x="288.9" y="69.7" width="0.9" height="0.9" fill="#5a6cf8" fill-opacity="0.78"/><rect x="278.7" y="56.5" width="0.9" height="0.9" fill="#5a6cf8" fill-opacity="0.39"/><rect x="291.9" y="84.2" width="0.9" height="0.9" fill="#5a6cf8" fill-opacity="0.45"/><rect x="272.2" y="51.8" width="0.9" height="0.9" fill="#7f8cfb" fill-opacity="0.46"/><rect x="285.0" y="62.3" width="0.9" height="0.9" fill="#2f3ef0" fill-opacity="0.79"/><rect x="280.7" y="68.5" width="0.9" height="0.9" fill="#4a5cf5" fill-opacity="0.57"/><rect x="285.7" y="52.8" width="0.9" height="0.9" fill="#3b52f5" fill-opacity="0.84"/><rect x="284.3" y="50.8" width="0.9" height="0.9" fill="#4a5cf5" fill-opacity="0.75"/><rect x="290.5" y="76.4" width="0.9" height="0.9" fill="#2f3ef0" fill-opacity="0.37"/><rect x="287.7" y="67.9" width="0.9" height="0.9" fill="#5a6cf8" fill-opacity="0.51"/><rect x="282.2" y="58.2" width="0.9" height="0.9" fill="#7f8cfb" fill-opacity="0.77"/><rect x="280.2" y="85.3" width="0.9" height="0.9" fill="#7f8cfb" fill-opacity="0.67"/><rect x="272.8" y="56.1" width="0.9" height="0.9" fill="#7f8cfb" fill-opacity="0.48"/><rect x="273.4" y="75.2" width="0.9" height="0.9" fill="#2f3ef0" fill-opacity="0.49"/><rect x="280.1" y="59.7" width="0.9" height="0.9" fill="#3b52f5" fill-opacity="0.47"/><rect x="275.6" y="83.2" width="0.9" height="0.9" fill="#4a5cf5" fill-opacity="0.38"/><rect x="287.2" y="57.4" width="0.9" height="0.9" fill="#4a5cf5" fill-opacity="0.50"/><rect x="275.7" y="54.8" width="0.9" height="0.9" fill="#5a6cf8" fill-opacity="0.81"/><rect x="297.2" y="53.8" width="0.9" height="0.9" fill="#4a5cf5" fill-opacity="0.43"/><rect x="281.4" y="63.4" width="0.9" height="0.9" fill="#7f8cfb" fill-opacity="0.67"/><rect x="272.6" y="69.5" width="0.9" height="0.9" fill="#4a5cf5" fill-opacity="0.54"/><rect x="277.9" y="66.2" width="0.9" height="0.9" fill="#5a6cf8" fill-opacity="0.40"/><rect x="278.3" y="56.7" width="0.9" height="0.9" fill="#7f8cfb" fill-opacity="0.50"/><rect x="279.3" y="54.7" width="0.9" height="0.9" fill="#3b52f5" fill-opacity="0.82"/><rect x="296.1" y="65.2" width="0.9" height="0.9" fill="#7f8cfb" fill-opacity="0.40"/><rect x="282.6" y="74.8" width="0.9" height="0.9" fill="#4a5cf5" fill-opacity="0.82"/><rect x="273.8" y="63.6" width="0.9" height="0.9" fill="#4a5cf5" fill-opacity="0.81"/><rect x="290.2" y="51.0" width="0.9" height="0.9" fill="#5a6cf8" fill-opacity="0.40"/><rect x="281.5" y="62.7" width="0.9" height="0.9" fill="#5a6cf8" fill-opacity="0.46"/><rect x="300.2" y="77.6" width="0.9" height="0.9" fill="#5a6cf8" fill-opacity="0.68"/><rect x="275.2" y="75.8" width="0.9" height="0.9" fill="#7f8cfb" fill-opacity="0.79"/><rect x="275.6" y="52.2" width="0.9" height="0.9" fill="#4a5cf5" fill-opacity="0.77"/><rect x="278.5" y="51.9" width="0.9" height="0.9" fill="#3b52f5" fill-opacity="0.81"/><rect x="286.9" y="78.0" width="0.9" height="0.9" fill="#5a6cf8" fill-opacity="0.40"/><rect x="288.9" y="78.5" width="0.9" height="0.9" fill="#5a6cf8" fill-opacity="0.53"/><rect x="291.8" y="54.4" width="0.9" height="0.9" fill="#3b52f5" fill-opacity="0.76"/><rect x="288.1" y="75.4" width="0.9" height="0.9" fill="#3b52f5" fill-opacity="0.84"/><rect x="279.3" y="68.5" width="0.9" height="0.9" fill="#2f3ef0" fill-opacity="0.77"/><rect x="273.9" y="81.4" width="0.9" height="0.9" fill="#7f8cfb" fill-opacity="0.42"/><rect x="295.4" y="83.6" width="0.9" height="0.9" fill="#5a6cf8" fill-opacity="0.69"/><rect x="275.0" y="84.5" width="0.9" height="0.9" fill="#3b52f5" fill-opacity="0.50"/><rect x="285.8" y="58.3" width="0.9" height="0.9" fill="#3b52f5" fill-opacity="0.80"/><rect x="283.7" y="70.5" width="0.9" height="0.9" fill="#7f8cfb" fill-opacity="0.73"/><rect x="277.1" y="76.7" width="0.9" height="0.9" fill="#5a6cf8" fill-opacity="0.74"/><rect x="284.6" y="50.0" width="0.9" height="0.9" fill="#5a6cf8" fill-opacity="0.42"/><rect x="273.1" y="84.2" width="0.9" height="0.9" fill="#5a6cf8" fill-opacity="0.79"/><rect x="284.4" y="80.5" width="0.9" height="0.9" fill="#5a6cf8" fill-opacity="0.50"/><rect x="276.9" y="71.8" width="0.9" height="0.9" fill="#5a6cf8" fill-opacity="0.51"/><rect x="284.7" y="53.7" width="0.9" height="0.9" fill="#4a5cf5" fill-opacity="0.43"/><rect x="272.7" y="67.2" width="0.9" height="0.9" fill="#5a6cf8" fill-opacity="0.71"/><rect x="278.8" y="64.0" width="0.9" height="0.9" fill="#7f8cfb" fill-opacity="0.65"/><rect x="274.2" y="77.3" width="0.9" height="0.9" fill="#7f8cfb" fill-opacity="0.70"/><rect x="295.0" y="76.9" width="0.9" height="0.9" fill="#3b52f5" fill-opacity="0.43"/><rect x="273.0" y="70.6" width="0.9" height="0.9" fill="#7f8cfb" fill-opacity="0.44"/><rect x="283.0" y="85.1" width="0.9" height="0.9" fill="#2f3ef0" fill-opacity="0.52"/><rect x="287.6" y="83.4" width="0.9" height="0.9" fill="#5a6cf8" fill-opacity="0.68"/><rect x="277.3" y="66.9" width="0.9" height="0.9" fill="#7f8cfb" fill-opacity="0.59"/><rect x="278.4" y="69.7" width="0.9" height="0.9" fill="#4a5cf5" fill-opacity="0.75"/><rect x="281.0" y="55.8" width="0.9" height="0.9" fill="#7f8cfb" fill-opacity="0.46"/><rect x="277.9" y="49.0" width="0.9" height="0.9" fill="#2f3ef0" fill-opacity="0.65"/><rect x="289.3" y="77.4" width="0.9" height="0.9" fill="#2f3ef0" fill-opacity="0.84"/><rect x="273.7" y="57.6" width="0.9" height="0.9" fill="#5a6cf8" fill-opacity="0.60"/><rect x="278.1" y="73.3" width="0.9" height="0.9" fill="#5a6cf8" fill-opacity="0.64"/><rect x="275.9" y="51.7" width="0.9" height="0.9" fill="#2f3ef0" fill-opacity="0.74"/><rect x="273.7" y="56.8" width="0.9" height="0.9" fill="#2f3ef0" fill-opacity="0.45"/><rect x="297.0" y="73.7" width="0.9" height="0.9" fill="#7f8cfb" fill-opacity="0.79"/><rect x="275.1" y="77.9" width="0.9" height="0.9" fill="#3b52f5" fill-opacity="0.41"/><rect x="276.6" y="64.8" width="0.9" height="0.9" fill="#5a6cf8" fill-opacity="0.60"/><rect x="276.1" y="81.2" width="0.9" height="0.9" fill="#2f3ef0" fill-opacity="0.61"/><rect x="272.1" y="63.6" width="0.9" height="0.9" fill="#4a5cf5" fill-opacity="0.84"/><rect x="288.0" y="73.1" width="0.9" height="0.9" fill="#5a6cf8" fill-opacity="0.55"/><rect x="310.3" y="87.1" width="0.9" height="0.9" fill="#4a5cf5" fill-opacity="0.64"/><rect x="272.3" y="61.2" width="0.9" height="0.9" fill="#3b52f5" fill-opacity="0.47"/><rect x="288.1" y="66.8" width="0.9" height="0.9" fill="#5a6cf8" fill-opacity="0.83"/><rect x="281.5" y="60.0" width="0.9" height="0.9" fill="#7f8cfb" fill-opacity="0.71"/><rect x="275.4" y="56.4" width="0.9" height="0.9" fill="#4a5cf5" fill-opacity="0.69"/><rect x="292.5" y="81.7" width="0.9" height="0.9" fill="#5a6cf8" fill-opacity="0.43"/><rect x="284.8" y="55.8" width="0.9" height="0.9" fill="#5a6cf8" fill-opacity="0.81"/><rect x="274.4" y="88.9" width="0.9" height="0.9" fill="#2f3ef0" fill-opacity="0.64"/><rect x="303.3" y="79.9" width="0.9" height="0.9" fill="#4a5cf5" fill-opacity="0.60"/><rect x="306.0" y="80.6" width="0.9" height="0.9" fill="#5a6cf8" fill-opacity="0.64"/><rect x="294.6" y="84.5" width="0.9" height="0.9" fill="#7f8cfb" fill-opacity="0.51"/><rect x="281.4" y="71.6" width="0.9" height="0.9" fill="#2f3ef0" fill-opacity="0.57"/><rect x="279.9" y="62.4" width="0.9" height="0.9" fill="#3b52f5" fill-opacity="0.38"/><rect x="275.7" y="61.1" width="0.9" height="0.9" fill="#5a6cf8" fill-opacity="0.67"/><rect x="275.7" y="84.4" width="0.9" height="0.9" fill="#7f8cfb" fill-opacity="0.72"/><rect x="279.2" y="52.2" width="0.9" height="0.9" fill="#5a6cf8" fill-opacity="0.40"/><rect x="275.4" y="57.2" width="0.9" height="0.9" fill="#3b52f5" fill-opacity="0.47"/><rect x="281.8" y="51.0" width="0.9" height="0.9" fill="#4a5cf5" fill-opacity="0.69"/><rect x="273.5" y="48.6" width="0.9" height="0.9" fill="#5a6cf8" fill-opacity="0.47"/><rect x="292.4" y="52.0" width="0.9" height="0.9" fill="#2f3ef0" fill-opacity="0.71"/><rect x="281.9" y="62.5" width="0.9" height="0.9" fill="#4a5cf5" fill-opacity="0.37"/><rect x="290.2" y="59.9" width="0.9" height="0.9" fill="#5a6cf8" fill-opacity="0.59"/><rect x="280.7" y="53.1" width="0.9" height="0.9" fill="#7f8cfb" fill-opacity="0.64"/><rect x="277.4" y="85.7" width="0.9" height="0.9" fill="#4a5cf5" fill-opacity="0.68"/><rect x="280.0" y="67.2" width="0.9" height="0.9" fill="#3b52f5" fill-opacity="0.67"/><rect x="274.0" y="68.6" width="0.9" height="0.9" fill="#3b52f5" fill-opacity="0.37"/><rect x="276.5" y="53.7" width="0.9" height="0.9" fill="#5a6cf8" fill-opacity="0.38"/><rect x="275.0" y="79.3" width="0.9" height="0.9" fill="#7f8cfb" fill-opacity="0.68"/><rect x="275.2" y="80.0" width="0.9" height="0.9" fill="#3b52f5" fill-opacity="0.62"/><rect x="284.8" y="61.5" width="0.9" height="0.9" fill="#5a6cf8" fill-opacity="0.66"/><rect x="309.4" y="82.1" width="0.9" height="0.9" fill="#2f3ef0" fill-opacity="0.67"/><rect x="278.2" y="60.2" width="0.9" height="0.9" fill="#5a6cf8" fill-opacity="0.83"/><rect x="285.4" y="59.3" width="0.9" height="0.9" fill="#7f8cfb" fill-opacity="0.48"/><rect x="291.6" y="53.5" width="0.9" height="0.9" fill="#4a5cf5" fill-opacity="0.49"/><rect x="279.5" y="74.5" width="0.9" height="0.9" fill="#4a5cf5" fill-opacity="0.54"/><rect x="290.8" y="50.8" width="0.9" height="0.9" fill="#5a6cf8" fill-opacity="0.76"/><rect x="276.1" y="81.9" width="0.9" height="0.9" fill="#4a5cf5" fill-opacity="0.44"/><rect x="285.8" y="54.4" width="0.9" height="0.9" fill="#2f3ef0" fill-opacity="0.60"/><rect x="282.2" y="81.4" width="0.9" height="0.9" fill="#7f8cfb" fill-opacity="0.58"/><rect x="283.2" y="72.4" width="0.9" height="0.9" fill="#2f3ef0" fill-opacity="0.59"/><rect x="283.1" y="51.8" width="0.9" height="0.9" fill="#5a6cf8" fill-opacity="0.53"/><rect x="281.2" y="54.9" width="0.9" height="0.9" fill="#3b52f5" fill-opacity="0.37"/><rect x="272.5" y="85.3" width="0.9" height="0.9" fill="#3b52f5" fill-opacity="0.61"/><rect x="291.7" y="63.2" width="0.9" height="0.9" fill="#4a5cf5" fill-opacity="0.43"/><rect x="274.3" y="74.8" width="0.9" height="0.9" fill="#2f3ef0" fill-opacity="0.79"/><rect x="282.6" y="52.8" width="0.9" height="0.9" fill="#4a5cf5" fill-opacity="0.77"/><rect x="289.5" y="59.8" width="0.9" height="0.9" fill="#7f8cfb" fill-opacity="0.60"/><rect x="273.0" y="62.7" width="0.9" height="0.9" fill="#3b52f5" fill-opacity="0.56"/><rect x="279.8" y="63.2" width="0.9" height="0.9" fill="#4a5cf5" fill-opacity="0.50"/><rect x="278.7" y="83.0" width="0.9" height="0.9" fill="#7f8cfb" fill-opacity="0.45"/><rect x="277.1" y="84.9" width="0.9" height="0.9" fill="#7f8cfb" fill-opacity="0.82"/><rect x="292.8" y="79.6" width="0.9" height="0.9" fill="#2f3ef0" fill-opacity="0.46"/><rect x="301.5" y="76.6" width="0.9" height="0.9" fill="#3b52f5" fill-opacity="0.44"/><rect x="284.7" y="68.7" width="0.9" height="0.9" fill="#3b52f5" fill-opacity="0.43"/><rect x="290.0" y="54.2" width="0.9" height="0.9" fill="#4a5cf5" fill-opacity="0.71"/><rect x="288.9" y="80.1" width="0.9" height="0.9" fill="#2f3ef0" fill-opacity="0.72"/><rect x="280.2" y="83.5" width="0.9" height="0.9" fill="#4a5cf5" fill-opacity="0.58"/><rect x="291.7" y="77.2" width="0.9" height="0.9" fill="#3b52f5" fill-opacity="0.59"/><rect x="293.2" y="82.4" width="0.9" height="0.9" fill="#3b52f5" fill-opacity="0.52"/><rect x="291.4" y="53.7" width="0.9" height="0.9" fill="#4a5cf5" fill-opacity="0.39"/><rect x="279.1" y="66.5" width="0.9" height="0.9" fill="#2f3ef0" fill-opacity="0.49"/><rect x="297.4" y="75.8" width="0.9" height="0.9" fill="#4a5cf5" fill-opacity="0.71"/><rect x="307.6" y="63.6" width="0.9" height="0.9" fill="#5a6cf8" fill-opacity="0.51"/><rect x="311.2" y="81.6" width="0.9" height="0.9" fill="#5a6cf8" fill-opacity="0.48"/><rect x="279.8" y="72.3" width="0.9" height="0.9" fill="#3b52f5" fill-opacity="0.62"/><rect x="273.4" y="74.4" width="0.9" height="0.9" fill="#7f8cfb" fill-opacity="0.68"/><rect x="281.7" y="62.2" width="0.9" height="0.9" fill="#5a6cf8" fill-opacity="0.35"/><rect x="283.0" y="59.8" width="0.9" height="0.9" fill="#7f8cfb" fill-opacity="0.53"/><rect x="294.4" y="54.1" width="0.9" height="0.9" fill="#5a6cf8" fill-opacity="0.57"/><rect x="275.8" y="67.3" width="0.9" height="0.9" fill="#7f8cfb" fill-opacity="0.62"/><rect x="279.6" y="57.6" width="0.9" height="0.9" fill="#2f3ef0" fill-opacity="0.37"/><rect x="274.1" y="88.5" width="0.9" height="0.9" fill="#7f8cfb" fill-opacity="0.77"/><rect x="277.5" y="60.7" width="0.9" height="0.9" fill="#3b52f5" fill-opacity="0.62"/><rect x="294.7" y="52.2" width="0.9" height="0.9" fill="#4a5cf5" fill-opacity="0.60"/><rect x="281.4" y="79.7" width="0.9" height="0.9" fill="#4a5cf5" fill-opacity="0.83"/><rect x="292.7" y="49.1" width="0.9" height="0.9" fill="#7f8cfb" fill-opacity="0.76"/><rect x="277.6" y="79.9" width="0.9" height="0.9" fill="#2f3ef0" fill-opacity="0.84"/><rect x="273.6" y="59.8" width="0.9" height="0.9" fill="#3b52f5" fill-opacity="0.72"/><rect x="274.2" y="76.3" width="0.9" height="0.9" fill="#5a6cf8" fill-opacity="0.79"/><rect x="279.5" y="65.2" width="0.9" height="0.9" fill="#4a5cf5" fill-opacity="0.67"/><rect x="286.4" y="59.3" width="0.9" height="0.9" fill="#2f3ef0" fill-opacity="0.70"/><rect x="296.9" y="54.8" width="0.9" height="0.9" fill="#7f8cfb" fill-opacity="0.46"/><rect x="282.7" y="56.6" width="0.9" height="0.9" fill="#5a6cf8" fill-opacity="0.60"/><rect x="272.9" y="52.6" width="0.9" height="0.9" fill="#3b52f5" fill-opacity="0.77"/><rect x="284.5" y="66.4" width="0.9" height="0.9" fill="#3b52f5" fill-opacity="0.35"/><rect x="272.5" y="72.8" width="0.9" height="0.9" fill="#2f3ef0" fill-opacity="0.79"/><rect x="290.7" y="56.1" width="0.9" height="0.9" fill="#4a5cf5" fill-opacity="0.57"/><rect x="294.7" y="59.4" width="0.9" height="0.9" fill="#3b52f5" fill-opacity="0.81"/><rect x="290.2" y="55.6" width="0.9" height="0.9" fill="#2f3ef0" fill-opacity="0.52"/><rect x="279.4" y="63.5" width="0.9" height="0.9" fill="#3b52f5" fill-opacity="0.67"/><rect x="274.7" y="60.9" width="0.9" height="0.9" fill="#7f8cfb" fill-opacity="0.80"/><rect x="297.3" y="59.3" width="0.9" height="0.9" fill="#7f8cfb" fill-opacity="0.40"/><rect x="296.0" y="54.8" width="0.9" height="0.9" fill="#7f8cfb" fill-opacity="0.46"/><rect x="279.8" y="57.5" width="0.9" height="0.9" fill="#2f3ef0" fill-opacity="0.56"/><rect x="288.9" y="53.3" width="0.9" height="0.9" fill="#7f8cfb" fill-opacity="0.82"/><rect x="272.8" y="82.6" width="0.9" height="0.9" fill="#2f3ef0" fill-opacity="0.52"/><rect x="293.3" y="71.9" width="0.9" height="0.9" fill="#5a6cf8" fill-opacity="0.39"/><rect x="274.5" y="61.1" width="0.9" height="0.9" fill="#2f3ef0" fill-opacity="0.76"/><rect x="274.7" y="63.0" width="0.9" height="0.9" fill="#5a6cf8" fill-opacity="0.54"/><rect x="280.1" y="76.4" width="0.9" height="0.9" fill="#4a5cf5" fill-opacity="0.48"/><rect x="297.9" y="64.3" width="0.9" height="0.9" fill="#7f8cfb" fill-opacity="0.59"/><rect x="278.2" y="80.5" width="0.9" height="0.9" fill="#7f8cfb" fill-opacity="0.69"/><rect x="304.7" y="73.5" width="0.9" height="0.9" fill="#4a5cf5" fill-opacity="0.51"/><rect x="286.4" y="72.8" width="0.9" height="0.9" fill="#7f8cfb" fill-opacity="0.47"/><rect x="277.6" y="89.0" width="0.9" height="0.9" fill="#7f8cfb" fill-opacity="0.64"/><rect x="301.1" y="82.3" width="0.9" height="0.9" fill="#7f8cfb" fill-opacity="0.69"/><rect x="279.4" y="67.7" width="0.9" height="0.9" fill="#4a5cf5" fill-opacity="0.76"/><rect x="277.4" y="54.2" width="0.9" height="0.9" fill="#5a6cf8" fill-opacity="0.38"/><rect x="290.0" y="53.9" width="0.9" height="0.9" fill="#5a6cf8" fill-opacity="0.53"/><rect x="276.0" y="77.0" width="0.9" height="0.9" fill="#3b52f5" fill-opacity="0.63"/><rect x="286.5" y="81.1" width="0.9" height="0.9" fill="#4a5cf5" fill-opacity="0.78"/><rect x="289.6" y="86.3" width="0.9" height="0.9" fill="#2f3ef0" fill-opacity="0.44"/><rect x="278.3" y="67.9" width="0.9" height="0.9" fill="#3b52f5" fill-opacity="0.52"/><rect x="274.9" y="82.5" width="0.9" height="0.9" fill="#4a5cf5" fill-opacity="0.78"/><rect x="279.7" y="84.4" width="0.9" height="0.9" fill="#3b52f5" fill-opacity="0.52"/><rect x="279.2" y="55.9" width="0.9" height="0.9" fill="#7f8cfb" fill-opacity="0.39"/><rect x="272.7" y="66.1" width="0.9" height="0.9" fill="#4a5cf5" fill-opacity="0.70"/><rect x="272.7" y="69.3" width="0.9" height="0.9" fill="#2f3ef0" fill-opacity="0.64"/><rect x="296.5" y="69.9" width="0.9" height="0.9" fill="#5a6cf8" fill-opacity="0.37"/><rect x="287.2" y="59.1" width="0.9" height="0.9" fill="#2f3ef0" fill-opacity="0.36"/><rect x="279.7" y="51.9" width="0.9" height="0.9" fill="#7f8cfb" fill-opacity="0.51"/><rect x="272.2" y="61.6" width="0.9" height="0.9" fill="#4a5cf5" fill-opacity="0.69"/><rect x="286.6" y="53.6" width="0.9" height="0.9" fill="#4a5cf5" fill-opacity="0.69"/><rect x="297.9" y="57.9" width="0.9" height="0.9" fill="#7f8cfb" fill-opacity="0.55"/><rect x="285.9" y="51.2" width="0.9" height="0.9" fill="#7f8cfb" fill-opacity="0.64"/><rect x="283.9" y="56.6" width="0.9" height="0.9" fill="#2f3ef0" fill-opacity="0.82"/><rect x="279.7" y="80.7" width="0.9" height="0.9" fill="#7f8cfb" fill-opacity="0.36"/><rect x="279.3" y="76.9" width="0.9" height="0.9" fill="#2f3ef0" fill-opacity="0.41"/><rect x="289.4" y="67.2" width="0.9" height="0.9" fill="#7f8cfb" fill-opacity="0.51"/><rect x="280.7" y="61.2" width="0.9" height="0.9" fill="#2f3ef0" fill-opacity="0.43"/><rect x="281.9" y="88.3" width="0.9" height="0.9" fill="#3b52f5" fill-opacity="0.79"/><rect x="295.4" y="70.0" width="0.9" height="0.9" fill="#4a5cf5" fill-opacity="0.63"/><rect x="273.1" y="74.8" width="0.9" height="0.9" fill="#7f8cfb" fill-opacity="0.45"/><rect x="285.6" y="50.5" width="0.9" height="0.9" fill="#7f8cfb" fill-opacity="0.58"/><rect x="273.9" y="75.5" width="0.9" height="0.9" fill="#2f3ef0" fill-opacity="0.39"/><rect x="297.5" y="55.6" width="0.9" height="0.9" fill="#4a5cf5" fill-opacity="0.64"/><rect x="286.6" y="57.2" width="0.9" height="0.9" fill="#2f3ef0" fill-opacity="0.80"/><rect x="309.7" y="83.2" width="0.9" height="0.9" fill="#2f3ef0" fill-opacity="0.42"/><rect x="279.3" y="58.1" width="0.9" height="0.9" fill="#3b52f5" fill-opacity="0.46"/><rect x="277.9" y="64.4" width="0.9" height="0.9" fill="#3b52f5" fill-opacity="0.45"/><rect x="284.9" y="53.4" width="0.9" height="0.9" fill="#3b52f5" fill-opacity="0.55"/><rect x="277.3" y="81.9" width="0.9" height="0.9" fill="#4a5cf5" fill-opacity="0.51"/><rect x="282.9" y="52.1" width="0.9" height="0.9" fill="#3b52f5" fill-opacity="0.60"/><rect x="276.0" y="75.8" width="0.9" height="0.9" fill="#3b52f5" fill-opacity="0.45"/><rect x="272.4" y="87.2" width="0.9" height="0.9" fill="#3b52f5" fill-opacity="0.83"/><rect x="275.7" y="85.6" width="0.9" height="0.9" fill="#3b52f5" fill-opacity="0.63"/><rect x="280.9" y="49.9" width="0.9" height="0.9" fill="#7f8cfb" fill-opacity="0.44"/><rect x="278.4" y="69.4" width="0.9" height="0.9" fill="#3b52f5" fill-opacity="0.49"/><rect x="276.4" y="85.6" width="0.9" height="0.9" fill="#2f3ef0" fill-opacity="0.43"/><rect x="293.8" y="59.6" width="0.9" height="0.9" fill="#4a5cf5" fill-opacity="0.62"/>
<path d="M263.30,50.00 C264.28,48.38 266.72,48.30 268.50,48.30 C270.28,48.30 272.98,48.38 274.00,50.00 C275.02,51.62 274.80,55.67 274.60,58.00 C274.40,60.33 272.98,61.67 272.80,64.00 C272.62,66.33 273.13,69.33 273.50,72.00 C273.87,74.67 275.00,77.50 275.00,80.00 C275.00,82.50 274.58,85.62 273.50,87.00 C272.42,88.38 270.25,88.30 268.50,88.30 C266.75,88.30 264.03,88.38 263.00,87.00 C261.97,85.62 262.17,82.50 262.30,80.00 C262.43,77.50 263.47,74.67 263.80,72.00 C264.13,69.33 264.50,66.33 264.30,64.00 C264.10,61.67 262.77,60.33 262.60,58.00 C262.43,55.67 262.32,51.62 263.30,50.00 Z" fill="#3c56f2" fill-opacity="0.92" filter="url(#b07)"/>
<ellipse cx="268.5" cy="66" rx="2.6" ry="6" fill="#46c0ff" filter="url(#b1)"/>
<ellipse cx="268.4" cy="79" rx="4.4" ry="8.5" fill="#4ab0ff" filter="url(#b1)"/>
<ellipse cx="268.4" cy="56.2" rx="3.6" ry="4.8" fill="#55c8ff" filter="url(#b07)"/>
<ellipse cx="268.4" cy="56.2" rx="3.0" ry="4.0" fill="#90f048" filter="url(#b07)"/>
<ellipse cx="268.4" cy="56.2" rx="1.8" ry="2.4" fill="#c0f030" filter="url(#b07)"/>
<ellipse cx="268.3" cy="78.3" rx="3.5" ry="8" fill="#7cf060" filter="url(#b1)"/>
<ellipse cx="268.2" cy="78.3" rx="2.6" ry="5.4" fill="#e8e828" filter="url(#b07)"/>
<ellipse cx="268.1" cy="78.6" rx="1.9" ry="3.1" fill="#ff8a00" filter="url(#b07)"/>
<ellipse cx="268.1" cy="78.8" rx="1.1" ry="1.9" fill="#d82000" filter="url(#b07)"/>
<path d="M274.00,121.70 C276.67,115.37 285.83,120.95 290.00,121.20 C294.17,121.45 297.50,121.70 299.00,123.20 C300.50,124.70 299.50,128.20 299.00,130.20 C298.50,132.20 296.17,132.70 296.00,135.20 C295.83,137.70 298.33,141.87 298.00,145.20 C297.67,148.53 296.17,152.78 294.00,155.20 C291.83,157.62 288.33,159.03 285.00,159.70 C281.67,160.37 275.83,165.53 274.00,159.20 C272.17,152.87 271.33,128.03 274.00,121.70 Z" fill="#7d8cff" fill-opacity="0.5" filter="url(#b2)"/>
<path d="M273.00,133.20 C274.50,128.87 279.50,131.87 282.00,133.20 C284.50,134.53 287.00,138.20 288.00,141.20 C289.00,144.20 288.67,148.37 288.00,151.20 C287.33,154.03 286.50,156.87 284.00,158.20 C281.50,159.53 274.83,163.37 273.00,159.20 C271.17,155.03 271.50,137.53 273.00,133.20 Z" fill="#4a5ef5" fill-opacity="0.6" filter="url(#b2)"/>
<path d="M273.00,122.70 C275.00,121.28 281.83,122.45 285.00,122.70 C288.17,122.95 290.83,123.20 292.00,124.20 C293.17,125.20 293.17,127.70 292.00,128.70 C290.83,129.70 288.17,129.78 285.00,130.20 C281.83,130.62 275.00,132.45 273.00,131.20 C271.00,129.95 271.00,124.12 273.00,122.70 Z" fill="#5066f5" fill-opacity="0.5" filter="url(#b1)"/>
<rect x="280.9" y="136.2" width="0.9" height="0.9" fill="#3b52f5" fill-opacity="0.40"/><rect x="287.7" y="133.9" width="0.9" height="0.9" fill="#2f3ef0" fill-opacity="0.49"/><rect x="285.2" y="142.3" width="0.9" height="0.9" fill="#5a6cf8" fill-opacity="0.76"/><rect x="295.4" y="142.8" width="0.9" height="0.9" fill="#7f8cfb" fill-opacity="0.71"/><rect x="306.9" y="136.6" width="0.9" height="0.9" fill="#4a5cf5" fill-opacity="0.57"/><rect x="281.2" y="144.4" width="0.9" height="0.9" fill="#2f3ef0" fill-opacity="0.44"/><rect x="291.4" y="124.7" width="0.9" height="0.9" fill="#3b52f5" fill-opacity="0.83"/><rect x="287.0" y="150.3" width="0.9" height="0.9" fill="#4a5cf5" fill-opacity="0.66"/><rect x="277.2" y="140.4" width="0.9" height="0.9" fill="#4a5cf5" fill-opacity="0.44"/><rect x="280.0" y="154.3" width="0.9" height="0.9" fill="#5a6cf8" fill-opacity="0.36"/><rect x="282.4" y="128.2" width="0.9" height="0.9" fill="#3b52f5" fill-opacity="0.44"/><rect x="280.1" y="144.3" width="0.9" height="0.9" fill="#3b52f5" fill-opacity="0.83"/><rect x="291.6" y="123.6" width="0.9" height="0.9" fill="#2f3ef0" fill-opacity="0.51"/><rect x="272.9" y="145.4" width="0.9" height="0.9" fill="#7f8cfb" fill-opacity="0.65"/><rect x="289.8" y="141.8" width="0.9" height="0.9" fill="#4a5cf5" fill-opacity="0.55"/><rect x="297.4" y="146.9" width="0.9" height="0.9" fill="#4a5cf5" fill-opacity="0.51"/><rect x="282.4" y="154.2" width="0.9" height="0.9" fill="#4a5cf5" fill-opacity="0.67"/><rect x="272.9" y="150.6" width="0.9" height="0.9" fill="#2f3ef0" fill-opacity="0.50"/><rect x="291.3" y="142.4" width="0.9" height="0.9" fill="#2f3ef0" fill-opacity="0.77"/><rect x="281.1" y="127.6" width="0.9" height="0.9" fill="#7f8cfb" fill-opacity="0.54"/><rect x="276.5" y="135.0" width="0.9" height="0.9" fill="#5a6cf8" fill-opacity="0.35"/><rect x="281.5" y="147.8" width="0.9" height="0.9" fill="#2f3ef0" fill-opacity="0.39"/><rect x="276.6" y="122.8" width="0.9" height="0.9" fill="#5a6cf8" fill-opacity="0.45"/><rect x="272.7" y="137.7" width="0.9" height="0.9" fill="#2f3ef0" fill-opacity="0.59"/><rect x="273.9" y="139.0" width="0.9" height="0.9" fill="#5a6cf8" fill-opacity="0.82"/><rect x="275.1" y="127.0" width="0.9" height="0.9" fill="#4a5cf5" fill-opacity="0.57"/><rect x="281.4" y="151.6" width="0.9" height="0.9" fill="#7f8cfb" fill-opacity="0.48"/><rect x="290.6" y="121.8" width="0.9" height="0.9" fill="#2f3ef0" fill-opacity="0.48"/><rect x="274.0" y="144.2" width="0.9" height="0.9" fill="#3b52f5" fill-opacity="0.69"/><rect x="277.4" y="144.7" width="0.9" height="0.9" fill="#4a5cf5" fill-opacity="0.56"/><rect x="278.1" y="156.2" width="0.9" height="0.9" fill="#7f8cfb" fill-opacity="0.67"/><rect x="277.0" y="153.7" width="0.9" height="0.9" fill="#5a6cf8" fill-opacity="0.65"/><rect x="280.2" y="138.9" width="0.9" height="0.9" fill="#5a6cf8" fill-opacity="0.77"/><rect x="287.9" y="137.4" width="0.9" height="0.9" fill="#5a6cf8" fill-opacity="0.61"/><rect x="277.8" y="156.6" width="0.9" height="0.9" fill="#5a6cf8" fill-opacity="0.41"/><rect x="279.1" y="142.0" width="0.9" height="0.9" fill="#4a5cf5" fill-opacity="0.76"/><rect x="281.8" y="159.1" width="0.9" height="0.9" fill="#7f8cfb" fill-opacity="0.72"/><rect x="272.9" y="135.6" width="0.9" height="0.9" fill="#2f3ef0" fill-opacity="0.78"/><rect x="280.8" y="127.0" width="0.9" height="0.9" fill="#3b52f5" fill-opacity="0.42"/><rect x="285.1" y="145.3" width="0.9" height="0.9" fill="#5a6cf8" fill-opacity="0.81"/><rect x="274.4" y="144.9" width="0.9" height="0.9" fill="#3b52f5" fill-opacity="0.41"/><rect x="297.1" y="128.4" width="0.9" height="0.9" fill="#7f8cfb" fill-opacity="0.59"/><rect x="280.9" y="136.9" width="0.9" height="0.9" fill="#4a5cf5" fill-opacity="0.60"/><rect x="288.3" y="144.6" width="0.9" height="0.9" fill="#3b52f5" fill-opacity="0.53"/><rect x="277.7" y="152.1" width="0.9" height="0.9" fill="#3b52f5" fill-opacity="0.50"/><rect x="273.6" y="141.0" width="0.9" height="0.9" fill="#3b52f5" fill-opacity="0.51"/><rect x="282.6" y="147.3" width="0.9" height="0.9" fill="#7f8cfb" fill-opacity="0.69"/><rect x="282.3" y="139.2" width="0.9" height="0.9" fill="#3b52f5" fill-opacity="0.73"/><rect x="282.0" y="158.0" width="0.9" height="0.9" fill="#2f3ef0" fill-opacity="0.38"/><rect x="282.4" y="138.2" width="0.9" height="0.9" fill="#5a6cf8" fill-opacity="0.82"/><rect x="300.5" y="140.9" width="0.9" height="0.9" fill="#7f8cfb" fill-opacity="0.45"/><rect x="282.6" y="128.2" width="0.9" height="0.9" fill="#3b52f5" fill-opacity="0.44"/><rect x="313.1" y="146.8" width="0.9" height="0.9" fill="#4a5cf5" fill-opacity="0.75"/><rect x="272.5" y="125.9" width="0.9" height="0.9" fill="#2f3ef0" fill-opacity="0.68"/><rect x="281.8" y="134.6" width="0.9" height="0.9" fill="#4a5cf5" fill-opacity="0.67"/><rect x="294.6" y="131.1" width="0.9" height="0.9" fill="#5a6cf8" fill-opacity="0.50"/><rect x="272.9" y="146.0" width="0.9" height="0.9" fill="#4a5cf5" fill-opacity="0.51"/><rect x="288.5" y="124.6" width="0.9" height="0.9" fill="#3b52f5" fill-opacity="0.67"/><rect x="283.6" y="129.2" width="0.9" height="0.9" fill="#3b52f5" fill-opacity="0.55"/><rect x="272.4" y="128.9" width="0.9" height="0.9" fill="#7f8cfb" fill-opacity="0.76"/><rect x="282.9" y="126.8" width="0.9" height="0.9" fill="#3b52f5" fill-opacity="0.60"/><rect x="295.4" y="121.6" width="0.9" height="0.9" fill="#3b52f5" fill-opacity="0.84"/><rect x="281.6" y="140.9" width="0.9" height="0.9" fill="#2f3ef0" fill-opacity="0.39"/><rect x="282.1" y="146.3" width="0.9" height="0.9" fill="#2f3ef0" fill-opacity="0.73"/><rect x="290.9" y="157.0" width="0.9" height="0.9" fill="#4a5cf5" fill-opacity="0.35"/><rect x="272.2" y="147.7" width="0.9" height="0.9" fill="#5a6cf8" fill-opacity="0.76"/><rect x="279.5" y="138.6" width="0.9" height="0.9" fill="#5a6cf8" fill-opacity="0.62"/><rect x="272.4" y="121.4" width="0.9" height="0.9" fill="#3b52f5" fill-opacity="0.84"/><rect x="288.8" y="152.9" width="0.9" height="0.9" fill="#5a6cf8" fill-opacity="0.42"/><rect x="274.3" y="154.4" width="0.9" height="0.9" fill="#5a6cf8" fill-opacity="0.40"/><rect x="283.8" y="141.4" width="0.9" height="0.9" fill="#4a5cf5" fill-opacity="0.47"/><rect x="299.3" y="149.0" width="0.9" height="0.9" fill="#2f3ef0" fill-opacity="0.61"/><rect x="272.2" y="133.0" width="0.9" height="0.9" fill="#7f8cfb" fill-opacity="0.66"/><rect x="277.0" y="150.5" width="0.9" height="0.9" fill="#4a5cf5" fill-opacity="0.56"/><rect x="294.6" y="128.8" width="0.9" height="0.9" fill="#3b52f5" fill-opacity="0.61"/><rect x="275.5" y="140.4" width="0.9" height="0.9" fill="#3b52f5" fill-opacity="0.74"/><rect x="294.7" y="135.0" width="0.9" height="0.9" fill="#2f3ef0" fill-opacity="0.42"/><rect x="276.6" y="134.5" width="0.9" height="0.9" fill="#2f3ef0" fill-opacity="0.84"/><rect x="280.7" y="133.2" width="0.9" height="0.9" fill="#2f3ef0" fill-opacity="0.65"/><rect x="297.4" y="153.6" width="0.9" height="0.9" fill="#7f8cfb" fill-opacity="0.78"/><rect x="282.0" y="135.1" width="0.9" height="0.9" fill="#7f8cfb" fill-opacity="0.72"/><rect x="304.7" y="146.9" width="0.9" height="0.9" fill="#7f8cfb" fill-opacity="0.37"/><rect x="297.8" y="155.6" width="0.9" height="0.9" fill="#5a6cf8" fill-opacity="0.71"/><rect x="280.4" y="129.5" width="0.9" height="0.9" fill="#3b52f5" fill-opacity="0.83"/><rect x="303.9" y="137.1" width="0.9" height="0.9" fill="#5a6cf8" fill-opacity="0.36"/><rect x="278.2" y="136.4" width="0.9" height="0.9" fill="#3b52f5" fill-opacity="0.84"/><rect x="289.2" y="128.1" width="0.9" height="0.9" fill="#3b52f5" fill-opacity="0.58"/><rect x="275.0" y="137.2" width="0.9" height="0.9" fill="#7f8cfb" fill-opacity="0.38"/><rect x="275.1" y="133.6" width="0.9" height="0.9" fill="#4a5cf5" fill-opacity="0.75"/><rect x="278.2" y="145.5" width="0.9" height="0.9" fill="#5a6cf8" fill-opacity="0.64"/><rect x="273.0" y="154.1" width="0.9" height="0.9" fill="#5a6cf8" fill-opacity="0.62"/><rect x="275.6" y="130.2" width="0.9" height="0.9" fill="#4a5cf5" fill-opacity="0.50"/><rect x="282.5" y="135.6" width="0.9" height="0.9" fill="#4a5cf5" fill-opacity="0.71"/><rect x="298.8" y="133.6" width="0.9" height="0.9" fill="#2f3ef0" fill-opacity="0.55"/><rect x="288.2" y="121.9" width="0.9" height="0.9" fill="#5a6cf8" fill-opacity="0.79"/><rect x="289.6" y="126.1" width="0.9" height="0.9" fill="#5a6cf8" fill-opacity="0.60"/><rect x="286.2" y="124.6" width="0.9" height="0.9" fill="#7f8cfb" fill-opacity="0.39"/><rect x="273.9" y="126.4" width="0.9" height="0.9" fill="#7f8cfb" fill-opacity="0.44"/><rect x="277.2" y="150.9" width="0.9" height="0.9" fill="#3b52f5" fill-opacity="0.68"/><rect x="273.3" y="144.5" width="0.9" height="0.9" fill="#2f3ef0" fill-opacity="0.57"/><rect x="277.5" y="134.7" width="0.9" height="0.9" fill="#7f8cfb" fill-opacity="0.53"/><rect x="291.3" y="153.7" width="0.9" height="0.9" fill="#4a5cf5" fill-opacity="0.35"/><rect x="276.8" y="151.6" width="0.9" height="0.9" fill="#4a5cf5" fill-opacity="0.85"/><rect x="273.4" y="137.2" width="0.9" height="0.9" fill="#4a5cf5" fill-opacity="0.36"/><rect x="281.1" y="144.1" width="0.9" height="0.9" fill="#5a6cf8" fill-opacity="0.59"/><rect x="278.8" y="155.4" width="0.9" height="0.9" fill="#3b52f5" fill-opacity="0.46"/><rect x="279.0" y="141.9" width="0.9" height="0.9" fill="#7f8cfb" fill-opacity="0.43"/><rect x="280.9" y="150.2" width="0.9" height="0.9" fill="#2f3ef0" fill-opacity="0.42"/><rect x="272.6" y="156.6" width="0.9" height="0.9" fill="#4a5cf5" fill-opacity="0.73"/><rect x="287.9" y="141.9" width="0.9" height="0.9" fill="#2f3ef0" fill-opacity="0.54"/><rect x="273.1" y="144.8" width="0.9" height="0.9" fill="#7f8cfb" fill-opacity="0.51"/><rect x="284.6" y="153.4" width="0.9" height="0.9" fill="#3b52f5" fill-opacity="0.42"/><rect x="281.3" y="122.6" width="0.9" height="0.9" fill="#2f3ef0" fill-opacity="0.57"/><rect x="278.9" y="131.1" width="0.9" height="0.9" fill="#4a5cf5" fill-opacity="0.45"/><rect x="286.5" y="129.8" width="0.9" height="0.9" fill="#2f3ef0" fill-opacity="0.38"/><rect x="287.6" y="135.3" width="0.9" height="0.9" fill="#7f8cfb" fill-opacity="0.84"/><rect x="282.6" y="157.0" width="0.9" height="0.9" fill="#2f3ef0" fill-opacity="0.81"/><rect x="285.2" y="139.1" width="0.9" height="0.9" fill="#7f8cfb" fill-opacity="0.59"/><rect x="277.9" y="135.9" width="0.9" height="0.9" fill="#7f8cfb" fill-opacity="0.46"/><rect x="312.6" y="127.4" width="0.9" height="0.9" fill="#4a5cf5" fill-opacity="0.56"/><rect x="275.8" y="126.7" width="0.9" height="0.9" fill="#5a6cf8" fill-opacity="0.47"/><rect x="287.4" y="130.6" width="0.9" height="0.9" fill="#3b52f5" fill-opacity="0.35"/><rect x="289.9" y="157.1" width="0.9" height="0.9" fill="#7f8cfb" fill-opacity="0.42"/><rect x="280.9" y="151.1" width="0.9" height="0.9" fill="#3b52f5" fill-opacity="0.72"/><rect x="313.4" y="137.2" width="0.9" height="0.9" fill="#5a6cf8" fill-opacity="0.75"/><rect x="278.2" y="159.1" width="0.9" height="0.9" fill="#7f8cfb" fill-opacity="0.50"/><rect x="277.7" y="151.0" width="0.9" height="0.9" fill="#7f8cfb" fill-opacity="0.38"/><rect x="285.1" y="128.9" width="0.9" height="0.9" fill="#7f8cfb" fill-opacity="0.53"/><rect x="273.9" y="127.1" width="0.9" height="0.9" fill="#3b52f5" fill-opacity="0.74"/><rect x="273.2" y="139.1" width="0.9" height="0.9" fill="#4a5cf5" fill-opacity="0.78"/><rect x="274.0" y="145.0" width="0.9" height="0.9" fill="#3b52f5" fill-opacity="0.60"/><rect x="301.5" y="140.6" width="0.9" height="0.9" fill="#4a5cf5" fill-opacity="0.74"/><rect x="293.5" y="127.3" width="0.9" height="0.9" fill="#4a5cf5" fill-opacity="0.64"/><rect x="280.6" y="155.6" width="0.9" height="0.9" fill="#3b52f5" fill-opacity="0.47"/><rect x="281.9" y="150.5" width="0.9" height="0.9" fill="#2f3ef0" fill-opacity="0.72"/><rect x="283.3" y="155.3" width="0.9" height="0.9" fill="#5a6cf8" fill-opacity="0.48"/><rect x="282.3" y="131.5" width="0.9" height="0.9" fill="#2f3ef0" fill-opacity="0.52"/><rect x="274.6" y="147.7" width="0.9" height="0.9" fill="#3b52f5" fill-opacity="0.72"/><rect x="292.3" y="151.3" width="0.9" height="0.9" fill="#7f8cfb" fill-opacity="0.81"/><rect x="313.4" y="134.2" width="0.9" height="0.9" fill="#7f8cfb" fill-opacity="0.59"/><rect x="299.9" y="137.2" width="0.9" height="0.9" fill="#3b52f5" fill-opacity="0.61"/><rect x="278.1" y="159.2" width="0.9" height="0.9" fill="#5a6cf8" fill-opacity="0.47"/><rect x="281.7" y="146.5" width="0.9" height="0.9" fill="#3b52f5" fill-opacity="0.79"/><rect x="289.7" y="129.6" width="0.9" height="0.9" fill="#2f3ef0" fill-opacity="0.75"/><rect x="272.8" y="149.0" width="0.9" height="0.9" fill="#4a5cf5" fill-opacity="0.46"/><rect x="280.0" y="128.7" width="0.9" height="0.9" fill="#4a5cf5" fill-opacity="0.62"/><rect x="299.8" y="142.0" width="0.9" height="0.9" fill="#5a6cf8" fill-opacity="0.78"/><rect x="272.1" y="148.3" width="0.9" height="0.9" fill="#3b52f5" fill-opacity="0.70"/><rect x="279.1" y="155.3" width="0.9" height="0.9" fill="#7f8cfb" fill-opacity="0.84"/><rect x="294.5" y="141.5" width="0.9" height="0.9" fill="#2f3ef0" fill-opacity="0.39"/><rect x="286.2" y="121.4" width="0.9" height="0.9" fill="#4a5cf5" fill-opacity="0.84"/><rect x="277.0" y="151.3" width="0.9" height="0.9" fill="#2f3ef0" fill-opacity="0.56"/><rect x="281.5" y="152.4" width="0.9" height="0.9" fill="#7f8cfb" fill-opacity="0.85"/><rect x="276.8" y="150.1" width="0.9" height="0.9" fill="#4a5cf5" fill-opacity="0.51"/><rect x="274.3" y="155.0" width="0.9" height="0.9" fill="#7f8cfb" fill-opacity="0.75"/><rect x="275.1" y="120.1" width="0.9" height="0.9" fill="#5a6cf8" fill-opacity="0.42"/><rect x="273.8" y="152.3" width="0.9" height="0.9" fill="#5a6cf8" fill-opacity="0.37"/><rect x="276.6" y="154.5" width="0.9" height="0.9" fill="#5a6cf8" fill-opacity="0.70"/><rect x="291.8" y="157.2" width="0.9" height="0.9" fill="#7f8cfb" fill-opacity="0.57"/><rect x="272.6" y="145.8" width="0.9" height="0.9" fill="#7f8cfb" fill-opacity="0.68"/><rect x="293.7" y="149.7" width="0.9" height="0.9" fill="#5a6cf8" fill-opacity="0.65"/><rect x="281.9" y="154.5" width="0.9" height="0.9" fill="#5a6cf8" fill-opacity="0.66"/><rect x="284.0" y="145.1" width="0.9" height="0.9" fill="#2f3ef0" fill-opacity="0.39"/><rect x="305.4" y="145.9" width="0.9" height="0.9" fill="#7f8cfb" fill-opacity="0.66"/><rect x="281.0" y="140.9" width="0.9" height="0.9" fill="#5a6cf8" fill-opacity="0.63"/><rect x="287.7" y="151.4" width="0.9" height="0.9" fill="#7f8cfb" fill-opacity="0.45"/><rect x="272.7" y="122.5" width="0.9" height="0.9" fill="#3b52f5" fill-opacity="0.67"/><rect x="294.0" y="122.2" width="0.9" height="0.9" fill="#5a6cf8" fill-opacity="0.47"/><rect x="274.7" y="151.8" width="0.9" height="0.9" fill="#7f8cfb" fill-opacity="0.38"/><rect x="275.4" y="152.9" width="0.9" height="0.9" fill="#7f8cfb" fill-opacity="0.52"/><rect x="308.0" y="136.6" width="0.9" height="0.9" fill="#5a6cf8" fill-opacity="0.55"/><rect x="272.7" y="140.0" width="0.9" height="0.9" fill="#4a5cf5" fill-opacity="0.62"/><rect x="289.3" y="141.2" width="0.9" height="0.9" fill="#5a6cf8" fill-opacity="0.82"/><rect x="285.8" y="151.6" width="0.9" height="0.9" fill="#3b52f5" fill-opacity="0.82"/><rect x="298.4" y="139.3" width="0.9" height="0.9" fill="#4a5cf5" fill-opacity="0.54"/><rect x="275.5" y="151.8" width="0.9" height="0.9" fill="#4a5cf5" fill-opacity="0.48"/><rect x="297.4" y="120.3" width="0.9" height="0.9" fill="#3b52f5" fill-opacity="0.48"/><rect x="310.5" y="156.5" width="0.9" height="0.9" fill="#3b52f5" fill-opacity="0.41"/><rect x="284.4" y="126.1" width="0.9" height="0.9" fill="#3b52f5" fill-opacity="0.42"/><rect x="276.9" y="120.5" width="0.9" height="0.9" fill="#4a5cf5" fill-opacity="0.77"/><rect x="275.6" y="151.5" width="0.9" height="0.9" fill="#3b52f5" fill-opacity="0.37"/><rect x="279.4" y="134.1" width="0.9" height="0.9" fill="#5a6cf8" fill-opacity="0.40"/><rect x="272.1" y="145.3" width="0.9" height="0.9" fill="#5a6cf8" fill-opacity="0.61"/><rect x="275.9" y="133.6" width="0.9" height="0.9" fill="#5a6cf8" fill-opacity="0.73"/><rect x="297.3" y="135.6" width="0.9" height="0.9" fill="#5a6cf8" fill-opacity="0.47"/><rect x="274.2" y="143.9" width="0.9" height="0.9" fill="#4a5cf5" fill-opacity="0.42"/><rect x="292.3" y="154.5" width="0.9" height="0.9" fill="#2f3ef0" fill-opacity="0.55"/><rect x="277.4" y="125.0" width="0.9" height="0.9" fill="#3b52f5" fill-opacity="0.63"/><rect x="305.6" y="140.8" width="0.9" height="0.9" fill="#2f3ef0" fill-opacity="0.80"/><rect x="282.0" y="124.8" width="0.9" height="0.9" fill="#5a6cf8" fill-opacity="0.39"/><rect x="300.4" y="154.3" width="0.9" height="0.9" fill="#4a5cf5" fill-opacity="0.43"/><rect x="273.0" y="124.6" width="0.9" height="0.9" fill="#3b52f5" fill-opacity="0.40"/><rect x="275.9" y="143.8" width="0.9" height="0.9" fill="#3b52f5" fill-opacity="0.61"/><rect x="280.5" y="151.5" width="0.9" height="0.9" fill="#4a5cf5" fill-opacity="0.83"/><rect x="272.7" y="153.8" width="0.9" height="0.9" fill="#4a5cf5" fill-opacity="0.67"/><rect x="283.9" y="132.4" width="0.9" height="0.9" fill="#5a6cf8" fill-opacity="0.68"/><rect x="279.5" y="150.9" width="0.9" height="0.9" fill="#2f3ef0" fill-opacity="0.36"/><rect x="287.4" y="157.5" width="0.9" height="0.9" fill="#4a5cf5" fill-opacity="0.58"/><rect x="279.8" y="135.7" width="0.9" height="0.9" fill="#2f3ef0" fill-opacity="0.61"/><rect x="277.5" y="130.4" width="0.9" height="0.9" fill="#5a6cf8" fill-opacity="0.75"/><rect x="285.0" y="128.7" width="0.9" height="0.9" fill="#7f8cfb" fill-opacity="0.39"/><rect x="288.6" y="122.2" width="0.9" height="0.9" fill="#3b52f5" fill-opacity="0.58"/><rect x="275.9" y="141.6" width="0.9" height="0.9" fill="#5a6cf8" fill-opacity="0.61"/><rect x="313.2" y="142.9" width="0.9" height="0.9" fill="#4a5cf5" fill-opacity="0.82"/><rect x="295.5" y="150.5" width="0.9" height="0.9" fill="#4a5cf5" fill-opacity="0.57"/><rect x="299.4" y="137.9" width="0.9" height="0.9" fill="#4a5cf5" fill-opacity="0.46"/><rect x="306.2" y="158.0" width="0.9" height="0.9" fill="#5a6cf8" fill-opacity="0.65"/><rect x="275.3" y="142.6" width="0.9" height="0.9" fill="#3b52f5" fill-opacity="0.79"/><rect x="293.9" y="130.7" width="0.9" height="0.9" fill="#7f8cfb" fill-opacity="0.77"/><rect x="278.0" y="143.5" width="0.9" height="0.9" fill="#2f3ef0" fill-opacity="0.40"/><rect x="273.2" y="150.8" width="0.9" height="0.9" fill="#4a5cf5" fill-opacity="0.49"/><rect x="296.0" y="138.3" width="0.9" height="0.9" fill="#3b52f5" fill-opacity="0.43"/><rect x="276.4" y="148.8" width="0.9" height="0.9" fill="#7f8cfb" fill-opacity="0.45"/><rect x="289.5" y="153.6" width="0.9" height="0.9" fill="#2f3ef0" fill-opacity="0.79"/><rect x="289.8" y="137.5" width="0.9" height="0.9" fill="#4a5cf5" fill-opacity="0.58"/><rect x="287.8" y="128.0" width="0.9" height="0.9" fill="#5a6cf8" fill-opacity="0.85"/><rect x="293.6" y="150.0" width="0.9" height="0.9" fill="#4a5cf5" fill-opacity="0.61"/><rect x="276.4" y="139.5" width="0.9" height="0.9" fill="#2f3ef0" fill-opacity="0.70"/><rect x="282.4" y="120.1" width="0.9" height="0.9" fill="#2f3ef0" fill-opacity="0.50"/><rect x="277.7" y="139.1" width="0.9" height="0.9" fill="#2f3ef0" fill-opacity="0.38"/><rect x="288.0" y="133.7" width="0.9" height="0.9" fill="#3b52f5" fill-opacity="0.69"/><rect x="295.5" y="122.4" width="0.9" height="0.9" fill="#5a6cf8" fill-opacity="0.81"/><rect x="282.4" y="130.8" width="0.9" height="0.9" fill="#2f3ef0" fill-opacity="0.72"/><rect x="278.7" y="153.9" width="0.9" height="0.9" fill="#2f3ef0" fill-opacity="0.72"/><rect x="296.5" y="148.0" width="0.9" height="0.9" fill="#4a5cf5" fill-opacity="0.68"/><rect x="286.6" y="140.8" width="0.9" height="0.9" fill="#3b52f5" fill-opacity="0.66"/><rect x="272.7" y="134.8" width="0.9" height="0.9" fill="#2f3ef0" fill-opacity="0.42"/><rect x="283.3" y="150.8" width="0.9" height="0.9" fill="#4a5cf5" fill-opacity="0.52"/><rect x="277.3" y="135.5" width="0.9" height="0.9" fill="#5a6cf8" fill-opacity="0.82"/><rect x="274.7" y="129.5" width="0.9" height="0.9" fill="#5a6cf8" fill-opacity="0.38"/><rect x="281.6" y="140.2" width="0.9" height="0.9" fill="#2f3ef0" fill-opacity="0.63"/><rect x="275.5" y="147.6" width="0.9" height="0.9" fill="#3b52f5" fill-opacity="0.38"/><rect x="273.4" y="143.5" width="0.9" height="0.9" fill="#4a5cf5" fill-opacity="0.70"/><rect x="278.9" y="138.7" width="0.9" height="0.9" fill="#5a6cf8" fill-opacity="0.52"/><rect x="292.5" y="142.8" width="0.9" height="0.9" fill="#4a5cf5" fill-opacity="0.64"/><rect x="312.7" y="141.6" width="0.9" height="0.9" fill="#4a5cf5" fill-opacity="0.82"/><rect x="282.6" y="149.4" width="0.9" height="0.9" fill="#4a5cf5" fill-opacity="0.44"/><rect x="301.9" y="139.3" width="0.9" height="0.9" fill="#3b52f5" fill-opacity="0.47"/><rect x="296.9" y="153.7" width="0.9" height="0.9" fill="#2f3ef0" fill-opacity="0.66"/><rect x="297.1" y="141.4" width="0.9" height="0.9" fill="#4a5cf5" fill-opacity="0.42"/><rect x="274.6" y="149.8" width="0.9" height="0.9" fill="#5a6cf8" fill-opacity="0.53"/><rect x="281.0" y="136.5" width="0.9" height="0.9" fill="#7f8cfb" fill-opacity="0.48"/><rect x="275.1" y="148.4" width="0.9" height="0.9" fill="#7f8cfb" fill-opacity="0.53"/><rect x="284.7" y="121.4" width="0.9" height="0.9" fill="#5a6cf8" fill-opacity="0.62"/><rect x="278.8" y="153.2" width="0.9" height="0.9" fill="#5a6cf8" fill-opacity="0.72"/><rect x="273.0" y="139.9" width="0.9" height="0.9" fill="#7f8cfb" fill-opacity="0.58"/><rect x="284.0" y="157.0" width="0.9" height="0.9" fill="#5a6cf8" fill-opacity="0.40"/><rect x="278.3" y="147.0" width="0.9" height="0.9" fill="#5a6cf8" fill-opacity="0.58"/><rect x="276.9" y="131.2" width="0.9" height="0.9" fill="#5a6cf8" fill-opacity="0.74"/><rect x="280.0" y="138.3" width="0.9" height="0.9" fill="#7f8cfb" fill-opacity="0.78"/><rect x="279.3" y="134.0" width="0.9" height="0.9" fill="#4a5cf5" fill-opacity="0.66"/><rect x="308.1" y="123.4" width="0.9" height="0.9" fill="#3b52f5" fill-opacity="0.77"/><rect x="291.7" y="137.8" width="0.9" height="0.9" fill="#7f8cfb" fill-opacity="0.46"/><rect x="272.4" y="127.9" width="0.9" height="0.9" fill="#4a5cf5" fill-opacity="0.45"/><rect x="276.4" y="136.0" width="0.9" height="0.9" fill="#7f8cfb" fill-opacity="0.78"/><rect x="277.8" y="148.7" width="0.9" height="0.9" fill="#5a6cf8" fill-opacity="0.37"/><rect x="284.7" y="130.5" width="0.9" height="0.9" fill="#2f3ef0" fill-opacity="0.71"/><rect x="280.7" y="127.5" width="0.9" height="0.9" fill="#7f8cfb" fill-opacity="0.40"/><rect x="275.9" y="147.3" width="0.9" height="0.9" fill="#2f3ef0" fill-opacity="0.80"/><rect x="291.4" y="144.4" width="0.9" height="0.9" fill="#3b52f5" fill-opacity="0.43"/><rect x="290.8" y="127.5" width="0.9" height="0.9" fill="#3b52f5" fill-opacity="0.83"/><rect x="290.6" y="154.3" width="0.9" height="0.9" fill="#2f3ef0" fill-opacity="0.85"/><rect x="282.1" y="149.8" width="0.9" height="0.9" fill="#2f3ef0" fill-opacity="0.57"/><rect x="298.3" y="131.0" width="0.9" height="0.9" fill="#2f3ef0" fill-opacity="0.39"/><rect x="310.1" y="143.0" width="0.9" height="0.9" fill="#4a5cf5" fill-opacity="0.72"/><rect x="289.8" y="125.6" width="0.9" height="0.9" fill="#5a6cf8" fill-opacity="0.73"/><rect x="295.7" y="133.6" width="0.9" height="0.9" fill="#7f8cfb" fill-opacity="0.58"/><rect x="280.9" y="142.2" width="0.9" height="0.9" fill="#5a6cf8" fill-opacity="0.80"/><rect x="272.2" y="122.1" width="0.9" height="0.9" fill="#3b52f5" fill-opacity="0.68"/><rect x="278.3" y="138.1" width="0.9" height="0.9" fill="#7f8cfb" fill-opacity="0.39"/><rect x="282.0" y="131.4" width="0.9" height="0.9" fill="#4a5cf5" fill-opacity="0.60"/><rect x="273.2" y="133.3" width="0.9" height="0.9" fill="#5a6cf8" fill-opacity="0.59"/><rect x="274.5" y="143.6" width="0.9" height="0.9" fill="#7f8cfb" fill-opacity="0.78"/><rect x="273.6" y="139.1" width="0.9" height="0.9" fill="#3b52f5" fill-opacity="0.51"/><rect x="309.6" y="138.3" width="0.9" height="0.9" fill="#5a6cf8" fill-opacity="0.55"/><rect x="282.2" y="123.7" width="0.9" height="0.9" fill="#2f3ef0" fill-opacity="0.52"/><rect x="274.8" y="135.9" width="0.9" height="0.9" fill="#4a5cf5" fill-opacity="0.61"/><rect x="287.5" y="150.7" width="0.9" height="0.9" fill="#5a6cf8" fill-opacity="0.53"/><rect x="277.8" y="142.4" width="0.9" height="0.9" fill="#2f3ef0" fill-opacity="0.54"/><rect x="276.8" y="152.4" width="0.9" height="0.9" fill="#5a6cf8" fill-opacity="0.48"/><rect x="287.7" y="124.1" width="0.9" height="0.9" fill="#7f8cfb" fill-opacity="0.68"/><rect x="277.1" y="142.1" width="0.9" height="0.9" fill="#2f3ef0" fill-opacity="0.74"/><rect x="278.0" y="147.5" width="0.9" height="0.9" fill="#4a5cf5" fill-opacity="0.60"/><rect x="272.6" y="134.9" width="0.9" height="0.9" fill="#4a5cf5" fill-opacity="0.74"/><rect x="282.0" y="153.8" width="0.9" height="0.9" fill="#2f3ef0" fill-opacity="0.45"/><rect x="278.1" y="151.8" width="0.9" height="0.9" fill="#2f3ef0" fill-opacity="0.48"/><rect x="273.8" y="138.4" width="0.9" height="0.9" fill="#7f8cfb" fill-opacity="0.45"/><rect x="297.4" y="127.9" width="0.9" height="0.9" fill="#7f8cfb" fill-opacity="0.81"/><rect x="284.6" y="128.1" width="0.9" height="0.9" fill="#3b52f5" fill-opacity="0.47"/><rect x="288.8" y="147.3" width="0.9" height="0.9" fill="#3b52f5" fill-opacity="0.59"/><rect x="274.7" y="138.4" width="0.9" height="0.9" fill="#4a5cf5" fill-opacity="0.36"/><rect x="286.2" y="123.1" width="0.9" height="0.9" fill="#2f3ef0" fill-opacity="0.54"/><rect x="312.6" y="152.0" width="0.9" height="0.9" fill="#3b52f5" fill-opacity="0.62"/><rect x="279.9" y="120.9" width="0.9" height="0.9" fill="#3b52f5" fill-opacity="0.83"/><rect x="292.1" y="144.4" width="0.9" height="0.9" fill="#2f3ef0" fill-opacity="0.79"/><rect x="281.0" y="123.7" width="0.9" height="0.9" fill="#7f8cfb" fill-opacity="0.48"/><rect x="299.6" y="151.1" width="0.9" height="0.9" fill="#2f3ef0" fill-opacity="0.76"/><rect x="293.7" y="126.8" width="0.9" height="0.9" fill="#5a6cf8" fill-opacity="0.85"/><rect x="276.7" y="132.7" width="0.9" height="0.9" fill="#4a5cf5" fill-opacity="0.38"/><rect x="288.5" y="128.6" width="0.9" height="0.9" fill="#4a5cf5" fill-opacity="0.82"/><rect x="272.7" y="147.6" width="0.9" height="0.9" fill="#3b52f5" fill-opacity="0.82"/><rect x="277.1" y="126.0" width="0.9" height="0.9" fill="#7f8cfb" fill-opacity="0.59"/><rect x="275.3" y="156.2" width="0.9" height="0.9" fill="#4a5cf5" fill-opacity="0.68"/><rect x="308.9" y="136.5" width="0.9" height="0.9" fill="#4a5cf5" fill-opacity="0.51"/><rect x="282.2" y="121.4" width="0.9" height="0.9" fill="#2f3ef0" fill-opacity="0.41"/><rect x="285.3" y="125.8" width="0.9" height="0.9" fill="#3b52f5" fill-opacity="0.65"/><rect x="300.5" y="152.2" width="0.9" height="0.9" fill="#3b52f5" fill-opacity="0.54"/><rect x="290.1" y="123.9" width="0.9" height="0.9" fill="#2f3ef0" fill-opacity="0.73"/><rect x="292.6" y="149.0" width="0.9" height="0.9" fill="#3b52f5" fill-opacity="0.35"/><rect x="280.6" y="147.8" width="0.9" height="0.9" fill="#4a5cf5" fill-opacity="0.54"/><rect x="279.4" y="156.8" width="0.9" height="0.9" fill="#7f8cfb" fill-opacity="0.39"/><rect x="292.5" y="138.1" width="0.9" height="0.9" fill="#3b52f5" fill-opacity="0.39"/><rect x="286.8" y="136.4" width="0.9" height="0.9" fill="#2f3ef0" fill-opacity="0.36"/><rect x="273.5" y="136.7" width="0.9" height="0.9" fill="#4a5cf5" fill-opacity="0.35"/><rect x="295.7" y="159.5" width="0.9" height="0.9" fill="#5a6cf8" fill-opacity="0.48"/><rect x="273.1" y="132.8" width="0.9" height="0.9" fill="#2f3ef0" fill-opacity="0.71"/><rect x="290.2" y="122.1" width="0.9" height="0.9" fill="#5a6cf8" fill-opacity="0.55"/><rect x="284.4" y="142.9" width="0.9" height="0.9" fill="#3b52f5" fill-opacity="0.73"/><rect x="293.8" y="124.4" width="0.9" height="0.9" fill="#3b52f5" fill-opacity="0.38"/><rect x="284.8" y="119.9" width="0.9" height="0.9" fill="#2f3ef0" fill-opacity="0.70"/><rect x="286.9" y="149.9" width="0.9" height="0.9" fill="#4a5cf5" fill-opacity="0.48"/><rect x="280.7" y="147.3" width="0.9" height="0.9" fill="#5a6cf8" fill-opacity="0.40"/><rect x="303.7" y="140.1" width="0.9" height="0.9" fill="#5a6cf8" fill-opacity="0.65"/><rect x="272.1" y="153.3" width="0.9" height="0.9" fill="#4a5cf5" fill-opacity="0.70"/><rect x="306.5" y="149.4" width="0.9" height="0.9" fill="#5a6cf8" fill-opacity="0.62"/><rect x="294.7" y="137.8" width="0.9" height="0.9" fill="#2f3ef0" fill-opacity="0.62"/><rect x="284.5" y="143.4" width="0.9" height="0.9" fill="#4a5cf5" fill-opacity="0.82"/><rect x="275.9" y="146.5" width="0.9" height="0.9" fill="#3b52f5" fill-opacity="0.70"/><rect x="275.7" y="122.0" width="0.9" height="0.9" fill="#5a6cf8" fill-opacity="0.36"/><rect x="280.9" y="151.6" width="0.9" height="0.9" fill="#7f8cfb" fill-opacity="0.37"/><rect x="272.9" y="147.7" width="0.9" height="0.9" fill="#2f3ef0" fill-opacity="0.54"/><rect x="289.5" y="134.9" width="0.9" height="0.9" fill="#7f8cfb" fill-opacity="0.76"/><rect x="283.5" y="128.3" width="0.9" height="0.9" fill="#4a5cf5" fill-opacity="0.75"/><rect x="285.0" y="130.2" width="0.9" height="0.9" fill="#7f8cfb" fill-opacity="0.63"/><rect x="281.4" y="150.1" width="0.9" height="0.9" fill="#3b52f5" fill-opacity="0.46"/><rect x="284.4" y="152.6" width="0.9" height="0.9" fill="#3b52f5" fill-opacity="0.54"/><rect x="288.1" y="139.1" width="0.9" height="0.9" fill="#4a5cf5" fill-opacity="0.80"/><rect x="275.3" y="124.5" width="0.9" height="0.9" fill="#2f3ef0" fill-opacity="0.55"/><rect x="273.2" y="154.9" width="0.9" height="0.9" fill="#5a6cf8" fill-opacity="0.76"/><rect x="273.1" y="130.7" width="0.9" height="0.9" fill="#5a6cf8" fill-opacity="0.69"/><rect x="275.7" y="154.8" width="0.9" height="0.9" fill="#5a6cf8" fill-opacity="0.80"/><rect x="273.1" y="157.1" width="0.9" height="0.9" fill="#3b52f5" fill-opacity="0.49"/><rect x="280.5" y="128.7" width="0.9" height="0.9" fill="#7f8cfb" fill-opacity="0.61"/><rect x="282.8" y="139.7" width="0.9" height="0.9" fill="#2f3ef0" fill-opacity="0.77"/><rect x="283.7" y="135.3" width="0.9" height="0.9" fill="#4a5cf5" fill-opacity="0.56"/><rect x="292.6" y="129.7" width="0.9" height="0.9" fill="#5a6cf8" fill-opacity="0.83"/><rect x="295.9" y="157.0" width="0.9" height="0.9" fill="#2f3ef0" fill-opacity="0.59"/><rect x="298.8" y="126.3" width="0.9" height="0.9" fill="#5a6cf8" fill-opacity="0.58"/><rect x="296.3" y="129.1" width="0.9" height="0.9" fill="#4a5cf5" fill-opacity="0.59"/><rect x="272.3" y="128.7" width="0.9" height="0.9" fill="#4a5cf5" fill-opacity="0.64"/><rect x="295.8" y="143.1" width="0.9" height="0.9" fill="#5a6cf8" fill-opacity="0.65"/><rect x="277.8" y="149.2" width="0.9" height="0.9" fill="#7f8cfb" fill-opacity="0.69"/><rect x="285.3" y="144.8" width="0.9" height="0.9" fill="#5a6cf8" fill-opacity="0.77"/><rect x="282.1" y="136.7" width="0.9" height="0.9" fill="#3b52f5" fill-opacity="0.81"/><rect x="279.7" y="138.0" width="0.9" height="0.9" fill="#4a5cf5" fill-opacity="0.46"/><rect x="299.9" y="137.7" width="0.9" height="0.9" fill="#2f3ef0" fill-opacity="0.85"/><rect x="275.5" y="122.3" width="0.9" height="0.9" fill="#3b52f5" fill-opacity="0.42"/><rect x="272.7" y="132.9" width="0.9" height="0.9" fill="#3b52f5" fill-opacity="0.60"/><rect x="292.7" y="154.2" width="0.9" height="0.9" fill="#7f8cfb" fill-opacity="0.70"/><rect x="275.3" y="131.9" width="0.9" height="0.9" fill="#2f3ef0" fill-opacity="0.51"/><rect x="304.0" y="152.1" width="0.9" height="0.9" fill="#2f3ef0" fill-opacity="0.71"/><rect x="275.0" y="139.8" width="0.9" height="0.9" fill="#3b52f5" fill-opacity="0.76"/><rect x="273.2" y="137.7" width="0.9" height="0.9" fill="#4a5cf5" fill-opacity="0.52"/><rect x="272.2" y="140.1" width="0.9" height="0.9" fill="#2f3ef0" fill-opacity="0.70"/><rect x="289.9" y="125.0" width="0.9" height="0.9" fill="#3b52f5" fill-opacity="0.81"/><rect x="279.7" y="121.5" width="0.9" height="0.9" fill="#3b52f5" fill-opacity="0.40"/><rect x="288.9" y="126.9" width="0.9" height="0.9" fill="#3b52f5" fill-opacity="0.82"/><rect x="282.3" y="136.7" width="0.9" height="0.9" fill="#5a6cf8" fill-opacity="0.67"/><rect x="294.4" y="155.9" width="0.9" height="0.9" fill="#7f8cfb" fill-opacity="0.69"/><rect x="280.7" y="124.2" width="0.9" height="0.9" fill="#7f8cfb" fill-opacity="0.36"/><rect x="277.1" y="144.0" width="0.9" height="0.9" fill="#3b52f5" fill-opacity="0.61"/><rect x="273.0" y="155.0" width="0.9" height="0.9" fill="#2f3ef0" fill-opacity="0.43"/><rect x="282.0" y="142.3" width="0.9" height="0.9" fill="#2f3ef0" fill-opacity="0.71"/><rect x="272.9" y="130.9" width="0.9" height="0.9" fill="#7f8cfb" fill-opacity="0.41"/><rect x="285.1" y="130.0" width="0.9" height="0.9" fill="#5a6cf8" fill-opacity="0.61"/><rect x="272.2" y="126.1" width="0.9" height="0.9" fill="#3b52f5" fill-opacity="0.49"/><rect x="280.9" y="146.3" width="0.9" height="0.9" fill="#2f3ef0" fill-opacity="0.61"/><rect x="292.8" y="123.7" width="0.9" height="0.9" fill="#5a6cf8" fill-opacity="0.44"/><rect x="295.8" y="123.5" width="0.9" height="0.9" fill="#7f8cfb" fill-opacity="0.64"/><rect x="284.7" y="135.5" width="0.9" height="0.9" fill="#2f3ef0" fill-opacity="0.37"/><rect x="280.3" y="142.5" width="0.9" height="0.9" fill="#2f3ef0" fill-opacity="0.42"/><rect x="279.0" y="134.5" width="0.9" height="0.9" fill="#3b52f5" fill-opacity="0.65"/><rect x="272.5" y="137.0" width="0.9" height="0.9" fill="#4a5cf5" fill-opacity="0.78"/><rect x="272.2" y="147.8" width="0.9" height="0.9" fill="#2f3ef0" fill-opacity="0.47"/><rect x="274.6" y="141.0" width="0.9" height="0.9" fill="#4a5cf5" fill-opacity="0.73"/><rect x="288.1" y="124.4" width="0.9" height="0.9" fill="#2f3ef0" fill-opacity="0.66"/><rect x="276.8" y="136.3" width="0.9" height="0.9" fill="#5a6cf8" fill-opacity="0.39"/><rect x="296.9" y="139.7" width="0.9" height="0.9" fill="#4a5cf5" fill-opacity="0.41"/><rect x="277.6" y="119.8" width="0.9" height="0.9" fill="#5a6cf8" fill-opacity="0.51"/><rect x="281.0" y="146.0" width="0.9" height="0.9" fill="#7f8cfb" fill-opacity="0.42"/><rect x="273.3" y="153.2" width="0.9" height="0.9" fill="#4a5cf5" fill-opacity="0.47"/><rect x="299.2" y="135.8" width="0.9" height="0.9" fill="#3b52f5" fill-opacity="0.61"/><rect x="277.4" y="149.8" width="0.9" height="0.9" fill="#4a5cf5" fill-opacity="0.62"/><rect x="272.7" y="129.3" width="0.9" height="0.9" fill="#2f3ef0" fill-opacity="0.45"/><rect x="276.6" y="131.3" width="0.9" height="0.9" fill="#5a6cf8" fill-opacity="0.51"/><rect x="272.7" y="128.8" width="0.9" height="0.9" fill="#2f3ef0" fill-opacity="0.68"/><rect x="273.0" y="124.4" width="0.9" height="0.9" fill="#7f8cfb" fill-opacity="0.75"/><rect x="282.9" y="147.0" width="0.9" height="0.9" fill="#2f3ef0" fill-opacity="0.76"/><rect x="287.3" y="149.3" width="0.9" height="0.9" fill="#4a5cf5" fill-opacity="0.43"/><rect x="294.1" y="139.8" width="0.9" height="0.9" fill="#2f3ef0" fill-opacity="0.84"/><rect x="298.9" y="126.1" width="0.9" height="0.9" fill="#7f8cfb" fill-opacity="0.45"/><rect x="305.9" y="159.3" width="0.9" height="0.9" fill="#4a5cf5" fill-opacity="0.69"/><rect x="284.1" y="131.9" width="0.9" height="0.9" fill="#4a5cf5" fill-opacity="0.73"/><rect x="276.5" y="153.4" width="0.9" height="0.9" fill="#5a6cf8" fill-opacity="0.73"/><rect x="282.3" y="156.6" width="0.9" height="0.9" fill="#7f8cfb" fill-opacity="0.70"/><rect x="283.4" y="140.3" width="0.9" height="0.9" fill="#3b52f5" fill-opacity="0.48"/><rect x="284.3" y="149.5" width="0.9" height="0.9" fill="#4a5cf5" fill-opacity="0.58"/><rect x="273.5" y="141.4" width="0.9" height="0.9" fill="#4a5cf5" fill-opacity="0.39"/><rect x="294.0" y="123.6" width="0.9" height="0.9" fill="#5a6cf8" fill-opacity="0.61"/><rect x="291.8" y="146.1" width="0.9" height="0.9" fill="#5a6cf8" fill-opacity="0.70"/><rect x="279.4" y="139.8" width="0.9" height="0.9" fill="#5a6cf8" fill-opacity="0.43"/><rect x="272.8" y="142.6" width="0.9" height="0.9" fill="#4a5cf5" fill-opacity="0.78"/><rect x="275.8" y="132.9" width="0.9" height="0.9" fill="#2f3ef0" fill-opacity="0.44"/><rect x="291.5" y="143.8" width="0.9" height="0.9" fill="#5a6cf8" fill-opacity="0.66"/><rect x="273.8" y="134.0" width="0.9" height="0.9" fill="#5a6cf8" fill-opacity="0.38"/><rect x="278.1" y="138.2" width="0.9" height="0.9" fill="#5a6cf8" fill-opacity="0.84"/><rect x="290.9" y="158.4" width="0.9" height="0.9" fill="#4a5cf5" fill-opacity="0.60"/><rect x="275.8" y="123.7" width="0.9" height="0.9" fill="#2f3ef0" fill-opacity="0.62"/><rect x="273.9" y="153.9" width="0.9" height="0.9" fill="#7f8cfb" fill-opacity="0.37"/><rect x="281.0" y="127.9" width="0.9" height="0.9" fill="#7f8cfb" fill-opacity="0.71"/><rect x="289.2" y="135.2" width="0.9" height="0.9" fill="#7f8cfb" fill-opacity="0.64"/><rect x="299.8" y="147.0" width="0.9" height="0.9" fill="#2f3ef0" fill-opacity="0.65"/><rect x="276.2" y="136.6" width="0.9" height="0.9" fill="#2f3ef0" fill-opacity="0.84"/><rect x="274.0" y="127.6" width="0.9" height="0.9" fill="#5a6cf8" fill-opacity="0.46"/><rect x="279.8" y="144.6" width="0.9" height="0.9" fill="#2f3ef0" fill-opacity="0.62"/><rect x="285.0" y="136.6" width="0.9" height="0.9" fill="#3b52f5" fill-opacity="0.45"/><rect x="274.7" y="138.0" width="0.9" height="0.9" fill="#3b52f5" fill-opacity="0.59"/><rect x="272.7" y="153.8" width="0.9" height="0.9" fill="#4a5cf5" fill-opacity="0.51"/><rect x="273.8" y="136.4" width="0.9" height="0.9" fill="#4a5cf5" fill-opacity="0.37"/><rect x="302.5" y="147.0" width="0.9" height="0.9" fill="#4a5cf5" fill-opacity="0.56"/><rect x="296.8" y="138.9" width="0.9" height="0.9" fill="#3b52f5" fill-opacity="0.56"/><rect x="283.0" y="143.5" width="0.9" height="0.9" fill="#4a5cf5" fill-opacity="0.45"/><rect x="273.8" y="145.6" width="0.9" height="0.9" fill="#5a6cf8" fill-opacity="0.74"/><rect x="302.0" y="158.2" width="0.9" height="0.9" fill="#5a6cf8" fill-opacity="0.56"/><rect x="283.1" y="126.8" width="0.9" height="0.9" fill="#4a5cf5" fill-opacity="0.81"/><rect x="278.5" y="146.1" width="0.9" height="0.9" fill="#2f3ef0" fill-opacity="0.35"/><rect x="275.7" y="142.8" width="0.9" height="0.9" fill="#3b52f5" fill-opacity="0.67"/><rect x="303.6" y="147.4" width="0.9" height="0.9" fill="#3b52f5" fill-opacity="0.71"/><rect x="274.2" y="134.8" width="0.9" height="0.9" fill="#7f8cfb" fill-opacity="0.70"/><rect x="274.7" y="153.4" width="0.9" height="0.9" fill="#7f8cfb" fill-opacity="0.45"/><rect x="276.7" y="152.4" width="0.9" height="0.9" fill="#5a6cf8" fill-opacity="0.70"/><rect x="278.1" y="120.7" width="0.9" height="0.9" fill="#5a6cf8" fill-opacity="0.80"/><rect x="290.6" y="128.9" width="0.9" height="0.9" fill="#4a5cf5" fill-opacity="0.47"/><rect x="281.9" y="155.3" width="0.9" height="0.9" fill="#5a6cf8" fill-opacity="0.70"/><rect x="277.8" y="137.9" width="0.9" height="0.9" fill="#3b52f5" fill-opacity="0.83"/><rect x="275.4" y="125.8" width="0.9" height="0.9" fill="#4a5cf5" fill-opacity="0.71"/><rect x="301.3" y="151.2" width="0.9" height="0.9" fill="#7f8cfb" fill-opacity="0.53"/><rect x="272.9" y="129.6" width="0.9" height="0.9" fill="#3b52f5" fill-opacity="0.59"/><rect x="279.5" y="130.5" width="0.9" height="0.9" fill="#2f3ef0" fill-opacity="0.46"/><rect x="285.6" y="141.4" width="0.9" height="0.9" fill="#3b52f5" fill-opacity="0.69"/><rect x="282.5" y="128.4" width="0.9" height="0.9" fill="#7f8cfb" fill-opacity="0.42"/><rect x="272.0" y="131.9" width="0.9" height="0.9" fill="#5a6cf8" fill-opacity="0.49"/><rect x="273.9" y="132.5" width="0.9" height="0.9" fill="#7f8cfb" fill-opacity="0.58"/><rect x="277.8" y="128.0" width="0.9" height="0.9" fill="#5a6cf8" fill-opacity="0.55"/><rect x="280.9" y="149.6" width="0.9" height="0.9" fill="#7f8cfb" fill-opacity="0.69"/><rect x="277.0" y="142.4" width="0.9" height="0.9" fill="#3b52f5" fill-opacity="0.77"/><rect x="282.6" y="156.9" width="0.9" height="0.9" fill="#5a6cf8" fill-opacity="0.44"/><rect x="294.7" y="140.2" width="0.9" height="0.9" fill="#2f3ef0" fill-opacity="0.79"/><rect x="276.5" y="125.9" width="0.9" height="0.9" fill="#4a5cf5" fill-opacity="0.53"/><rect x="281.0" y="123.4" width="0.9" height="0.9" fill="#3b52f5" fill-opacity="0.48"/><rect x="275.9" y="142.2" width="0.9" height="0.9" fill="#5a6cf8" fill-opacity="0.64"/><rect x="289.4" y="149.0" width="0.9" height="0.9" fill="#2f3ef0" fill-opacity="0.51"/><rect x="283.5" y="158.3" width="0.9" height="0.9" fill="#7f8cfb" fill-opacity="0.47"/><rect x="278.6" y="129.6" width="0.9" height="0.9" fill="#5a6cf8" fill-opacity="0.58"/><rect x="290.4" y="153.5" width="0.9" height="0.9" fill="#5a6cf8" fill-opacity="0.74"/><rect x="294.3" y="130.9" width="0.9" height="0.9" fill="#2f3ef0" fill-opacity="0.77"/><rect x="292.7" y="127.6" width="0.9" height="0.9" fill="#2f3ef0" fill-opacity="0.62"/><rect x="285.4" y="129.3" width="0.9" height="0.9" fill="#4a5cf5" fill-opacity="0.48"/><rect x="293.2" y="151.0" width="0.9" height="0.9" fill="#7f8cfb" fill-opacity="0.54"/><rect x="283.3" y="126.2" width="0.9" height="0.9" fill="#7f8cfb" fill-opacity="0.61"/><rect x="296.7" y="125.6" width="0.9" height="0.9" fill="#4a5cf5" fill-opacity="0.73"/><rect x="287.2" y="123.3" width="0.9" height="0.9" fill="#7f8cfb" fill-opacity="0.63"/><rect x="293.3" y="143.0" width="0.9" height="0.9" fill="#2f3ef0" fill-opacity="0.46"/><rect x="276.5" y="152.7" width="0.9" height="0.9" fill="#2f3ef0" fill-opacity="0.74"/><rect x="273.6" y="140.2" width="0.9" height="0.9" fill="#5a6cf8" fill-opacity="0.52"/><rect x="273.9" y="146.8" width="0.9" height="0.9" fill="#5a6cf8" fill-opacity="0.66"/><rect x="272.1" y="132.9" width="0.9" height="0.9" fill="#2f3ef0" fill-opacity="0.56"/><rect x="274.6" y="155.3" width="0.9" height="0.9" fill="#5a6cf8" fill-opacity="0.70"/><rect x="277.1" y="126.2" width="0.9" height="0.9" fill="#4a5cf5" fill-opacity="0.52"/><rect x="298.1" y="129.3" width="0.9" height="0.9" fill="#5a6cf8" fill-opacity="0.38"/><rect x="276.2" y="148.8" width="0.9" height="0.9" fill="#2f3ef0" fill-opacity="0.68"/><rect x="283.2" y="135.4" width="0.9" height="0.9" fill="#7f8cfb" fill-opacity="0.45"/><rect x="276.5" y="128.7" width="0.9" height="0.9" fill="#4a5cf5" fill-opacity="0.60"/><rect x="287.1" y="126.3" width="0.9" height="0.9" fill="#5a6cf8" fill-opacity="0.37"/><rect x="300.7" y="138.3" width="0.9" height="0.9" fill="#5a6cf8" fill-opacity="0.64"/><rect x="287.9" y="150.6" width="0.9" height="0.9" fill="#7f8cfb" fill-opacity="0.54"/><rect x="274.1" y="136.2" width="0.9" height="0.9" fill="#3b52f5" fill-opacity="0.50"/><rect x="275.2" y="140.7" width="0.9" height="0.9" fill="#4a5cf5" fill-opacity="0.40"/><rect x="274.8" y="144.0" width="0.9" height="0.9" fill="#5a6cf8" fill-opacity="0.55"/><rect x="302.0" y="148.3" width="0.9" height="0.9" fill="#7f8cfb" fill-opacity="0.83"/><rect x="302.4" y="143.6" width="0.9" height="0.9" fill="#3b52f5" fill-opacity="0.46"/><rect x="274.4" y="129.5" width="0.9" height="0.9" fill="#5a6cf8" fill-opacity="0.77"/><rect x="294.4" y="127.3" width="0.9" height="0.9" fill="#3b52f5" fill-opacity="0.74"/><rect x="280.1" y="122.6" width="0.9" height="0.9" fill="#2f3ef0" fill-opacity="0.55"/><rect x="280.6" y="138.8" width="0.9" height="0.9" fill="#2f3ef0" fill-opacity="0.41"/><rect x="295.1" y="124.4" width="0.9" height="0.9" fill="#5a6cf8" fill-opacity="0.58"/><rect x="273.6" y="134.7" width="0.9" height="0.9" fill="#7f8cfb" fill-opacity="0.62"/><rect x="272.6" y="140.5" width="0.9" height="0.9" fill="#5a6cf8" fill-opacity="0.83"/><rect x="273.0" y="140.5" width="0.9" height="0.9" fill="#4a5cf5" fill-opacity="0.61"/><rect x="283.8" y="120.6" width="0.9" height="0.9" fill="#2f3ef0" fill-opacity="0.70"/><rect x="309.0" y="144.5" width="0.9" height="0.9" fill="#3b52f5" fill-opacity="0.62"/><rect x="274.2" y="145.4" width="0.9" height="0.9" fill="#2f3ef0" fill-opacity="0.69"/><rect x="282.8" y="152.0" width="0.9" height="0.9" fill="#4a5cf5" fill-opacity="0.58"/><rect x="291.0" y="147.0" width="0.9" height="0.9" fill="#5a6cf8" fill-opacity="0.61"/><rect x="283.5" y="129.5" width="0.9" height="0.9" fill="#3b52f5" fill-opacity="0.76"/><rect x="281.4" y="157.4" width="0.9" height="0.9" fill="#5a6cf8" fill-opacity="0.48"/><rect x="278.7" y="138.8" width="0.9" height="0.9" fill="#3b52f5" fill-opacity="0.52"/><rect x="275.6" y="149.3" width="0.9" height="0.9" fill="#4a5cf5" fill-opacity="0.42"/><rect x="282.5" y="141.2" width="0.9" height="0.9" fill="#7f8cfb" fill-opacity="0.39"/><rect x="282.7" y="128.4" width="0.9" height="0.9" fill="#2f3ef0" fill-opacity="0.68"/><rect x="281.6" y="130.4" width="0.9" height="0.9" fill="#5a6cf8" fill-opacity="0.67"/><rect x="287.4" y="148.3" width="0.9" height="0.9" fill="#5a6cf8" fill-opacity="0.58"/><rect x="281.9" y="138.4" width="0.9" height="0.9" fill="#7f8cfb" fill-opacity="0.63"/><rect x="282.8" y="133.9" width="0.9" height="0.9" fill="#3b52f5" fill-opacity="0.69"/><rect x="281.0" y="148.7" width="0.9" height="0.9" fill="#2f3ef0" fill-opacity="0.67"/><rect x="278.7" y="155.9" width="0.9" height="0.9" fill="#3b52f5" fill-opacity="0.54"/><rect x="275.9" y="130.4" width="0.9" height="0.9" fill="#7f8cfb" fill-opacity="0.74"/><rect x="282.0" y="148.7" width="0.9" height="0.9" fill="#7f8cfb" fill-opacity="0.36"/><rect x="274.5" y="123.7" width="0.9" height="0.9" fill="#4a5cf5" fill-opacity="0.53"/><rect x="285.6" y="122.6" width="0.9" height="0.9" fill="#2f3ef0" fill-opacity="0.46"/><rect x="274.2" y="141.9" width="0.9" height="0.9" fill="#5a6cf8" fill-opacity="0.45"/><rect x="289.3" y="153.0" width="0.9" height="0.9" fill="#5a6cf8" fill-opacity="0.53"/><rect x="282.0" y="131.0" width="0.9" height="0.9" fill="#5a6cf8" fill-opacity="0.65"/><rect x="286.7" y="158.5" width="0.9" height="0.9" fill="#5a6cf8" fill-opacity="0.71"/><rect x="290.2" y="135.5" width="0.9" height="0.9" fill="#3b52f5" fill-opacity="0.40"/><rect x="272.4" y="140.4" width="0.9" height="0.9" fill="#4a5cf5" fill-opacity="0.70"/><rect x="278.0" y="144.0" width="0.9" height="0.9" fill="#3b52f5" fill-opacity="0.70"/><rect x="276.5" y="136.4" width="0.9" height="0.9" fill="#5a6cf8" fill-opacity="0.51"/><rect x="277.7" y="121.1" width="0.9" height="0.9" fill="#7f8cfb" fill-opacity="0.81"/><rect x="308.0" y="139.4" width="0.9" height="0.9" fill="#7f8cfb" fill-opacity="0.47"/><rect x="276.9" y="133.4" width="0.9" height="0.9" fill="#7f8cfb" fill-opacity="0.36"/><rect x="274.8" y="138.0" width="0.9" height="0.9" fill="#5a6cf8" fill-opacity="0.84"/><rect x="274.1" y="135.4" width="0.9" height="0.9" fill="#3b52f5" fill-opacity="0.62"/><rect x="283.2" y="150.2" width="0.9" height="0.9" fill="#3b52f5" fill-opacity="0.61"/><rect x="285.2" y="153.2" width="0.9" height="0.9" fill="#4a5cf5" fill-opacity="0.66"/><rect x="279.2" y="135.0" width="0.9" height="0.9" fill="#2f3ef0" fill-opacity="0.59"/><rect x="272.5" y="147.1" width="0.9" height="0.9" fill="#5a6cf8" fill-opacity="0.46"/><rect x="272.7" y="152.2" width="0.9" height="0.9" fill="#5a6cf8" fill-opacity="0.81"/><rect x="274.5" y="130.8" width="0.9" height="0.9" fill="#7f8cfb" fill-opacity="0.42"/><rect x="300.0" y="145.3" width="0.9" height="0.9" fill="#2f3ef0" fill-opacity="0.84"/><rect x="289.5" y="152.5" width="0.9" height="0.9" fill="#4a5cf5" fill-opacity="0.49"/><rect x="279.4" y="130.2" width="0.9" height="0.9" fill="#3b52f5" fill-opacity="0.52"/><rect x="293.3" y="129.4" width="0.9" height="0.9" fill="#2f3ef0" fill-opacity="0.70"/><rect x="282.7" y="151.1" width="0.9" height="0.9" fill="#4a5cf5" fill-opacity="0.66"/><rect x="289.8" y="125.9" width="0.9" height="0.9" fill="#4a5cf5" fill-opacity="0.65"/><rect x="282.4" y="144.4" width="0.9" height="0.9" fill="#7f8cfb" fill-opacity="0.52"/><rect x="275.8" y="126.4" width="0.9" height="0.9" fill="#7f8cfb" fill-opacity="0.70"/><rect x="275.9" y="156.6" width="0.9" height="0.9" fill="#3b52f5" fill-opacity="0.76"/><rect x="283.6" y="128.5" width="0.9" height="0.9" fill="#7f8cfb" fill-opacity="0.49"/><rect x="275.9" y="128.9" width="0.9" height="0.9" fill="#7f8cfb" fill-opacity="0.72"/><rect x="307.7" y="142.9" width="0.9" height="0.9" fill="#2f3ef0" fill-opacity="0.65"/><rect x="285.9" y="135.9" width="0.9" height="0.9" fill="#2f3ef0" fill-opacity="0.77"/><rect x="275.5" y="147.7" width="0.9" height="0.9" fill="#3b52f5" fill-opacity="0.85"/><rect x="281.3" y="156.8" width="0.9" height="0.9" fill="#5a6cf8" fill-opacity="0.52"/><rect x="296.2" y="149.0" width="0.9" height="0.9" fill="#7f8cfb" fill-opacity="0.83"/><rect x="283.5" y="148.4" width="0.9" height="0.9" fill="#5a6cf8" fill-opacity="0.68"/><rect x="273.7" y="120.5" width="0.9" height="0.9" fill="#7f8cfb" fill-opacity="0.81"/><rect x="279.7" y="148.2" width="0.9" height="0.9" fill="#5a6cf8" fill-opacity="0.45"/><rect x="296.9" y="152.8" width="0.9" height="0.9" fill="#4a5cf5" fill-opacity="0.69"/><rect x="278.6" y="145.6" width="0.9" height="0.9" fill="#7f8cfb" fill-opacity="0.80"/><rect x="272.5" y="135.8" width="0.9" height="0.9" fill="#3b52f5" fill-opacity="0.38"/><rect x="298.5" y="158.3" width="0.9" height="0.9" fill="#5a6cf8" fill-opacity="0.38"/><rect x="272.7" y="126.2" width="0.9" height="0.9" fill="#3b52f5" fill-opacity="0.36"/><rect x="273.1" y="156.1" width="0.9" height="0.9" fill="#7f8cfb" fill-opacity="0.53"/><rect x="282.8" y="120.7" width="0.9" height="0.9" fill="#7f8cfb" fill-opacity="0.59"/><rect x="290.4" y="149.5" width="0.9" height="0.9" fill="#7f8cfb" fill-opacity="0.84"/><rect x="272.2" y="141.0" width="0.9" height="0.9" fill="#7f8cfb" fill-opacity="0.50"/><rect x="286.4" y="147.8" width="0.9" height="0.9" fill="#3b52f5" fill-opacity="0.45"/><rect x="284.9" y="134.7" width="0.9" height="0.9" fill="#4a5cf5" fill-opacity="0.80"/><rect x="282.3" y="146.9" width="0.9" height="0.9" fill="#7f8cfb" fill-opacity="0.45"/><rect x="276.5" y="138.7" width="0.9" height="0.9" fill="#7f8cfb" fill-opacity="0.53"/><rect x="273.5" y="147.3" width="0.9" height="0.9" fill="#2f3ef0" fill-opacity="0.52"/><rect x="274.7" y="136.6" width="0.9" height="0.9" fill="#7f8cfb" fill-opacity="0.53"/><rect x="283.9" y="138.1" width="0.9" height="0.9" fill="#4a5cf5" fill-opacity="0.79"/><rect x="292.5" y="150.1" width="0.9" height="0.9" fill="#4a5cf5" fill-opacity="0.80"/><rect x="274.7" y="159.7" width="0.9" height="0.9" fill="#2f3ef0" fill-opacity="0.67"/><rect x="291.6" y="121.6" width="0.9" height="0.9" fill="#7f8cfb" fill-opacity="0.36"/><rect x="281.1" y="155.9" width="0.9" height="0.9" fill="#5a6cf8" fill-opacity="0.47"/><rect x="272.4" y="133.0" width="0.9" height="0.9" fill="#5a6cf8" fill-opacity="0.38"/><rect x="276.0" y="121.6" width="0.9" height="0.9" fill="#3b52f5" fill-opacity="0.36"/><rect x="272.1" y="129.8" width="0.9" height="0.9" fill="#5a6cf8" fill-opacity="0.44"/><rect x="309.5" y="139.8" width="0.9" height="0.9" fill="#4a5cf5" fill-opacity="0.75"/><rect x="290.6" y="141.0" width="0.9" height="0.9" fill="#2f3ef0" fill-opacity="0.54"/><rect x="273.4" y="151.5" width="0.9" height="0.9" fill="#4a5cf5" fill-opacity="0.39"/><rect x="285.6" y="151.0" width="0.9" height="0.9" fill="#3b52f5" fill-opacity="0.52"/><rect x="279.6" y="123.0" width="0.9" height="0.9" fill="#3b52f5" fill-opacity="0.43"/><rect x="275.8" y="134.2" width="0.9" height="0.9" fill="#4a5cf5" fill-opacity="0.36"/><rect x="297.1" y="125.2" width="0.9" height="0.9" fill="#4a5cf5" fill-opacity="0.72"/><rect x="304.0" y="139.2" width="0.9" height="0.9" fill="#2f3ef0" fill-opacity="0.44"/><rect x="279.6" y="122.0" width="0.9" height="0.9" fill="#4a5cf5" fill-opacity="0.36"/><rect x="307.7" y="142.6" width="0.9" height="0.9" fill="#3b52f5" fill-opacity="0.82"/><rect x="302.0" y="133.4" width="0.9" height="0.9" fill="#5a6cf8" fill-opacity="0.81"/><rect x="274.0" y="155.0" width="0.9" height="0.9" fill="#5a6cf8" fill-opacity="0.36"/><rect x="273.6" y="146.1" width="0.9" height="0.9" fill="#7f8cfb" fill-opacity="0.57"/><rect x="276.7" y="139.1" width="0.9" height="0.9" fill="#4a5cf5" fill-opacity="0.38"/><rect x="272.9" y="146.8" width="0.9" height="0.9" fill="#2f3ef0" fill-opacity="0.61"/><rect x="279.8" y="130.8" width="0.9" height="0.9" fill="#3b52f5" fill-opacity="0.66"/><rect x="275.2" y="139.3" width="0.9" height="0.9" fill="#4a5cf5" fill-opacity="0.43"/><rect x="298.0" y="158.6" width="0.9" height="0.9" fill="#4a5cf5" fill-opacity="0.39"/><rect x="300.6" y="156.3" width="0.9" height="0.9" fill="#3b52f5" fill-opacity="0.64"/><rect x="277.5" y="128.3" width="0.9" height="0.9" fill="#5a6cf8" fill-opacity="0.62"/><rect x="273.5" y="151.4" width="0.9" height="0.9" fill="#7f8cfb" fill-opacity="0.57"/><rect x="295.6" y="143.1" width="0.9" height="0.9" fill="#5a6cf8" fill-opacity="0.74"/><rect x="272.6" y="128.7" width="0.9" height="0.9" fill="#7f8cfb" fill-opacity="0.57"/><rect x="274.5" y="128.7" width="0.9" height="0.9" fill="#5a6cf8" fill-opacity="0.53"/><rect x="280.0" y="154.1" width="0.9" height="0.9" fill="#5a6cf8" fill-opacity="0.83"/><rect x="292.8" y="142.7" width="0.9" height="0.9" fill="#7f8cfb" fill-opacity="0.58"/><rect x="276.8" y="125.8" width="0.9" height="0.9" fill="#2f3ef0" fill-opacity="0.67"/><rect x="277.7" y="143.3" width="0.9" height="0.9" fill="#5a6cf8" fill-opacity="0.80"/><rect x="298.8" y="154.9" width="0.9" height="0.9" fill="#7f8cfb" fill-opacity="0.45"/><rect x="272.2" y="131.2" width="0.9" height="0.9" fill="#5a6cf8" fill-opacity="0.45"/><rect x="298.0" y="140.0" width="0.9" height="0.9" fill="#7f8cfb" fill-opacity="0.53"/><rect x="280.5" y="147.0" width="0.9" height="0.9" fill="#7f8cfb" fill-opacity="0.49"/><rect x="281.7" y="123.9" width="0.9" height="0.9" fill="#2f3ef0" fill-opacity="0.39"/><rect x="278.0" y="156.1" width="0.9" height="0.9" fill="#5a6cf8" fill-opacity="0.58"/><rect x="281.9" y="140.9" width="0.9" height="0.9" fill="#7f8cfb" fill-opacity="0.36"/><rect x="274.9" y="146.0" width="0.9" height="0.9" fill="#3b52f5" fill-opacity="0.61"/><rect x="290.4" y="145.9" width="0.9" height="0.9" fill="#5a6cf8" fill-opacity="0.50"/><rect x="276.4" y="146.3" width="0.9" height="0.9" fill="#2f3ef0" fill-opacity="0.57"/><rect x="275.6" y="139.8" width="0.9" height="0.9" fill="#7f8cfb" fill-opacity="0.56"/><rect x="275.1" y="134.3" width="0.9" height="0.9" fill="#5a6cf8" fill-opacity="0.35"/><rect x="298.9" y="122.5" width="0.9" height="0.9" fill="#2f3ef0" fill-opacity="0.42"/><rect x="289.1" y="150.0" width="0.9" height="0.9" fill="#2f3ef0" fill-opacity="0.59"/><rect x="291.1" y="149.8" width="0.9" height="0.9" fill="#7f8cfb" fill-opacity="0.84"/><rect x="296.8" y="126.0" width="0.9" height="0.9" fill="#5a6cf8" fill-opacity="0.58"/><rect x="278.1" y="144.7" width="0.9" height="0.9" fill="#2f3ef0" fill-opacity="0.80"/><rect x="289.5" y="123.2" width="0.9" height="0.9" fill="#3b52f5" fill-opacity="0.81"/><rect x="279.2" y="150.3" width="0.9" height="0.9" fill="#5a6cf8" fill-opacity="0.38"/><rect x="277.9" y="146.6" width="0.9" height="0.9" fill="#3b52f5" fill-opacity="0.77"/><rect x="277.9" y="158.7" width="0.9" height="0.9" fill="#7f8cfb" fill-opacity="0.44"/><rect x="276.7" y="125.1" width="0.9" height="0.9" fill="#4a5cf5" fill-opacity="0.59"/><rect x="278.6" y="156.8" width="0.9" height="0.9" fill="#5a6cf8" fill-opacity="0.36"/><rect x="275.4" y="140.1" width="0.9" height="0.9" fill="#4a5cf5" fill-opacity="0.85"/><rect x="296.5" y="152.5" width="0.9" height="0.9" fill="#3b52f5" fill-opacity="0.39"/><rect x="281.4" y="142.6" width="0.9" height="0.9" fill="#7f8cfb" fill-opacity="0.60"/><rect x="284.2" y="121.6" width="0.9" height="0.9" fill="#4a5cf5" fill-opacity="0.49"/><rect x="276.4" y="156.8" width="0.9" height="0.9" fill="#7f8cfb" fill-opacity="0.57"/><rect x="274.6" y="135.1" width="0.9" height="0.9" fill="#5a6cf8" fill-opacity="0.60"/><rect x="272.9" y="144.8" width="0.9" height="0.9" fill="#5a6cf8" fill-opacity="0.37"/><rect x="307.0" y="134.1" width="0.9" height="0.9" fill="#2f3ef0" fill-opacity="0.47"/><rect x="276.8" y="126.1" width="0.9" height="0.9" fill="#3b52f5" fill-opacity="0.61"/><rect x="292.9" y="122.2" width="0.9" height="0.9" fill="#4a5cf5" fill-opacity="0.47"/><rect x="290.1" y="146.0" width="0.9" height="0.9" fill="#4a5cf5" fill-opacity="0.73"/><rect x="274.8" y="146.6" width="0.9" height="0.9" fill="#4a5cf5" fill-opacity="0.44"/><rect x="287.6" y="128.8" width="0.9" height="0.9" fill="#5a6cf8" fill-opacity="0.73"/><rect x="275.1" y="130.9" width="0.9" height="0.9" fill="#3b52f5" fill-opacity="0.38"/><rect x="279.4" y="133.8" width="0.9" height="0.9" fill="#5a6cf8" fill-opacity="0.44"/><rect x="307.0" y="150.9" width="0.9" height="0.9" fill="#3b52f5" fill-opacity="0.76"/><rect x="285.6" y="145.5" width="0.9" height="0.9" fill="#4a5cf5" fill-opacity="0.76"/><rect x="285.8" y="122.2" width="0.9" height="0.9" fill="#4a5cf5" fill-opacity="0.85"/><rect x="282.8" y="158.1" width="0.9" height="0.9" fill="#7f8cfb" fill-opacity="0.75"/><rect x="277.9" y="146.6" width="0.9" height="0.9" fill="#4a5cf5" fill-opacity="0.38"/><rect x="285.1" y="126.8" width="0.9" height="0.9" fill="#2f3ef0" fill-opacity="0.71"/><rect x="276.2" y="135.6" width="0.9" height="0.9" fill="#4a5cf5" fill-opacity="0.85"/><rect x="283.3" y="143.5" width="0.9" height="0.9" fill="#5a6cf8" fill-opacity="0.46"/><rect x="272.9" y="141.8" width="0.9" height="0.9" fill="#2f3ef0" fill-opacity="0.62"/><rect x="282.8" y="142.1" width="0.9" height="0.9" fill="#7f8cfb" fill-opacity="0.63"/><rect x="290.7" y="130.1" width="0.9" height="0.9" fill="#2f3ef0" fill-opacity="0.44"/><rect x="274.9" y="157.4" width="0.9" height="0.9" fill="#7f8cfb" fill-opacity="0.74"/><rect x="283.5" y="158.0" width="0.9" height="0.9" fill="#7f8cfb" fill-opacity="0.72"/><rect x="281.8" y="146.4" width="0.9" height="0.9" fill="#5a6cf8" fill-opacity="0.43"/><rect x="276.4" y="152.4" width="0.9" height="0.9" fill="#4a5cf5" fill-opacity="0.64"/><rect x="275.7" y="126.3" width="0.9" height="0.9" fill="#5a6cf8" fill-opacity="0.84"/><rect x="297.9" y="147.4" width="0.9" height="0.9" fill="#7f8cfb" fill-opacity="0.48"/><rect x="300.9" y="147.7" width="0.9" height="0.9" fill="#3b52f5" fill-opacity="0.38"/><rect x="291.1" y="153.5" width="0.9" height="0.9" fill="#5a6cf8" fill-opacity="0.53"/><rect x="279.4" y="124.0" width="0.9" height="0.9" fill="#5a6cf8" fill-opacity="0.62"/><rect x="287.4" y="123.2" width="0.9" height="0.9" fill="#4a5cf5" fill-opacity="0.69"/><rect x="296.6" y="137.9" width="0.9" height="0.9" fill="#3b52f5" fill-opacity="0.74"/><rect x="283.3" y="139.8" width="0.9" height="0.9" fill="#3b52f5" fill-opacity="0.67"/><rect x="286.2" y="125.1" width="0.9" height="0.9" fill="#4a5cf5" fill-opacity="0.39"/><rect x="281.9" y="128.8" width="0.9" height="0.9" fill="#2f3ef0" fill-opacity="0.82"/><rect x="288.1" y="145.6" width="0.9" height="0.9" fill="#4a5cf5" fill-opacity="0.38"/><rect x="280.3" y="139.6" width="0.9" height="0.9" fill="#5a6cf8" fill-opacity="0.82"/><rect x="293.3" y="124.3" width="0.9" height="0.9" fill="#7f8cfb" fill-opacity="0.46"/><rect x="294.2" y="124.9" width="0.9" height="0.9" fill="#3b52f5" fill-opacity="0.42"/><rect x="272.5" y="159.6" width="0.9" height="0.9" fill="#4a5cf5" fill-opacity="0.42"/><rect x="287.0" y="142.8" width="0.9" height="0.9" fill="#7f8cfb" fill-opacity="0.82"/><rect x="274.1" y="139.8" width="0.9" height="0.9" fill="#4a5cf5" fill-opacity="0.71"/><rect x="296.6" y="123.7" width="0.9" height="0.9" fill="#7f8cfb" fill-opacity="0.50"/><rect x="278.9" y="153.2" width="0.9" height="0.9" fill="#3b52f5" fill-opacity="0.37"/><rect x="287.2" y="139.8" width="0.9" height="0.9" fill="#5a6cf8" fill-opacity="0.68"/><rect x="275.2" y="133.9" width="0.9" height="0.9" fill="#4a5cf5" fill-opacity="0.48"/><rect x="275.7" y="136.5" width="0.9" height="0.9" fill="#5a6cf8" fill-opacity="0.79"/><rect x="273.6" y="149.2" width="0.9" height="0.9" fill="#3b52f5" fill-opacity="0.75"/><rect x="292.1" y="149.7" width="0.9" height="0.9" fill="#5a6cf8" fill-opacity="0.61"/><rect x="292.2" y="131.0" width="0.9" height="0.9" fill="#4a5cf5" fill-opacity="0.81"/><rect x="292.1" y="149.9" width="0.9" height="0.9" fill="#2f3ef0" fill-opacity="0.47"/><rect x="284.4" y="147.8" width="0.9" height="0.9" fill="#7f8cfb" fill-opacity="0.82"/><rect x="291.6" y="150.4" width="0.9" height="0.9" fill="#2f3ef0" fill-opacity="0.38"/><rect x="278.0" y="153.1" width="0.9" height="0.9" fill="#4a5cf5" fill-opacity="0.55"/><rect x="287.7" y="140.1" width="0.9" height="0.9" fill="#7f8cfb" fill-opacity="0.72"/><rect x="278.8" y="155.7" width="0.9" height="0.9" fill="#4a5cf5" fill-opacity="0.81"/><rect x="275.6" y="121.8" width="0.9" height="0.9" fill="#4a5cf5" fill-opacity="0.42"/><rect x="279.4" y="133.8" width="0.9" height="0.9" fill="#4a5cf5" fill-opacity="0.71"/><rect x="290.4" y="151.5" width="0.9" height="0.9" fill="#2f3ef0" fill-opacity="0.36"/><rect x="279.1" y="131.7" width="0.9" height="0.9" fill="#7f8cfb" fill-opacity="0.36"/><rect x="307.1" y="148.7" width="0.9" height="0.9" fill="#5a6cf8" fill-opacity="0.54"/><rect x="283.0" y="149.1" width="0.9" height="0.9" fill="#2f3ef0" fill-opacity="0.46"/><rect x="305.6" y="148.3" width="0.9" height="0.9" fill="#3b52f5" fill-opacity="0.65"/><rect x="283.2" y="154.2" width="0.9" height="0.9" fill="#7f8cfb" fill-opacity="0.52"/><rect x="295.0" y="124.0" width="0.9" height="0.9" fill="#7f8cfb" fill-opacity="0.58"/><rect x="281.1" y="140.8" width="0.9" height="0.9" fill="#3b52f5" fill-opacity="0.45"/><rect x="293.9" y="125.6" width="0.9" height="0.9" fill="#4a5cf5" fill-opacity="0.57"/><rect x="280.3" y="130.3" width="0.9" height="0.9" fill="#3b52f5" fill-opacity="0.71"/><rect x="276.5" y="128.7" width="0.9" height="0.9" fill="#3b52f5" fill-opacity="0.40"/><rect x="300.7" y="144.7" width="0.9" height="0.9" fill="#2f3ef0" fill-opacity="0.42"/><rect x="296.5" y="129.8" width="0.9" height="0.9" fill="#4a5cf5" fill-opacity="0.59"/><rect x="286.9" y="151.3" width="0.9" height="0.9" fill="#4a5cf5" fill-opacity="0.51"/><rect x="274.3" y="133.0" width="0.9" height="0.9" fill="#7f8cfb" fill-opacity="0.62"/><rect x="272.9" y="122.5" width="0.9" height="0.9" fill="#4a5cf5" fill-opacity="0.48"/><rect x="277.2" y="138.4" width="0.9" height="0.9" fill="#4a5cf5" fill-opacity="0.84"/><rect x="296.2" y="158.7" width="0.9" height="0.9" fill="#4a5cf5" fill-opacity="0.79"/><rect x="280.2" y="129.6" width="0.9" height="0.9" fill="#3b52f5" fill-opacity="0.64"/><rect x="299.2" y="135.8" width="0.9" height="0.9" fill="#2f3ef0" fill-opacity="0.45"/><rect x="294.6" y="119.7" width="0.9" height="0.9" fill="#2f3ef0" fill-opacity="0.45"/><rect x="300.5" y="148.5" width="0.9" height="0.9" fill="#3b52f5" fill-opacity="0.53"/><rect x="272.1" y="152.4" width="0.9" height="0.9" fill="#4a5cf5" fill-opacity="0.54"/><rect x="296.2" y="149.5" width="0.9" height="0.9" fill="#2f3ef0" fill-opacity="0.49"/><rect x="287.0" y="149.0" width="0.9" height="0.9" fill="#4a5cf5" fill-opacity="0.67"/><rect x="272.3" y="142.9" width="0.9" height="0.9" fill="#3b52f5" fill-opacity="0.77"/><rect x="281.4" y="152.7" width="0.9" height="0.9" fill="#4a5cf5" fill-opacity="0.38"/><rect x="287.2" y="126.0" width="0.9" height="0.9" fill="#2f3ef0" fill-opacity="0.66"/><rect x="277.3" y="151.7" width="0.9" height="0.9" fill="#5a6cf8" fill-opacity="0.59"/><rect x="297.1" y="136.2" width="0.9" height="0.9" fill="#7f8cfb" fill-opacity="0.81"/><rect x="272.3" y="142.4" width="0.9" height="0.9" fill="#2f3ef0" fill-opacity="0.74"/><rect x="277.8" y="155.5" width="0.9" height="0.9" fill="#7f8cfb" fill-opacity="0.43"/><rect x="283.8" y="140.5" width="0.9" height="0.9" fill="#3b52f5" fill-opacity="0.51"/><rect x="282.6" y="129.5" width="0.9" height="0.9" fill="#5a6cf8" fill-opacity="0.79"/><rect x="283.2" y="154.4" width="0.9" height="0.9" fill="#7f8cfb" fill-opacity="0.49"/><rect x="272.5" y="152.2" width="0.9" height="0.9" fill="#3b52f5" fill-opacity="0.72"/><rect x="287.2" y="159.8" width="0.9" height="0.9" fill="#5a6cf8" fill-opacity="0.45"/><rect x="289.5" y="144.3" width="0.9" height="0.9" fill="#7f8cfb" fill-opacity="0.77"/><rect x="308.1" y="149.7" width="0.9" height="0.9" fill="#7f8cfb" fill-opacity="0.49"/><rect x="310.8" y="140.8" width="0.9" height="0.9" fill="#5a6cf8" fill-opacity="0.41"/><rect x="281.1" y="144.9" width="0.9" height="0.9" fill="#7f8cfb" fill-opacity="0.59"/><rect x="273.8" y="157.3" width="0.9" height="0.9" fill="#2f3ef0" fill-opacity="0.65"/><rect x="281.8" y="143.9" width="0.9" height="0.9" fill="#3b52f5" fill-opacity="0.73"/><rect x="272.2" y="143.1" width="0.9" height="0.9" fill="#4a5cf5" fill-opacity="0.63"/><rect x="282.0" y="154.7" width="0.9" height="0.9" fill="#5a6cf8" fill-opacity="0.46"/><rect x="281.3" y="150.0" width="0.9" height="0.9" fill="#4a5cf5" fill-opacity="0.73"/><rect x="282.2" y="143.4" width="0.9" height="0.9" fill="#3b52f5" fill-opacity="0.69"/><rect x="275.1" y="139.6" width="0.9" height="0.9" fill="#2f3ef0" fill-opacity="0.49"/><rect x="276.9" y="149.5" width="0.9" height="0.9" fill="#7f8cfb" fill-opacity="0.59"/><rect x="273.3" y="141.1" width="0.9" height="0.9" fill="#3b52f5" fill-opacity="0.76"/><rect x="279.4" y="158.0" width="0.9" height="0.9" fill="#5a6cf8" fill-opacity="0.47"/><rect x="287.0" y="154.5" width="0.9" height="0.9" fill="#5a6cf8" fill-opacity="0.58"/><rect x="296.5" y="123.8" width="0.9" height="0.9" fill="#4a5cf5" fill-opacity="0.61"/><rect x="274.3" y="126.5" width="0.9" height="0.9" fill="#7f8cfb" fill-opacity="0.37"/><rect x="282.2" y="122.9" width="0.9" height="0.9" fill="#7f8cfb" fill-opacity="0.53"/><rect x="276.8" y="158.7" width="0.9" height="0.9" fill="#5a6cf8" fill-opacity="0.62"/><rect x="295.1" y="151.0" width="0.9" height="0.9" fill="#5a6cf8" fill-opacity="0.38"/><rect x="286.0" y="120.7" width="0.9" height="0.9" fill="#3b52f5" fill-opacity="0.83"/><rect x="288.0" y="125.7" width="0.9" height="0.9" fill="#2f3ef0" fill-opacity="0.61"/><rect x="280.3" y="135.5" width="0.9" height="0.9" fill="#3b52f5" fill-opacity="0.54"/><rect x="310.1" y="139.9" width="0.9" height="0.9" fill="#5a6cf8" fill-opacity="0.55"/><rect x="278.2" y="137.9" width="0.9" height="0.9" fill="#4a5cf5" fill-opacity="0.40"/><rect x="291.5" y="150.5" width="0.9" height="0.9" fill="#5a6cf8" fill-opacity="0.64"/><rect x="272.9" y="148.8" width="0.9" height="0.9" fill="#7f8cfb" fill-opacity="0.40"/><rect x="273.3" y="131.1" width="0.9" height="0.9" fill="#5a6cf8" fill-opacity="0.74"/><rect x="276.6" y="122.3" width="0.9" height="0.9" fill="#5a6cf8" fill-opacity="0.66"/><rect x="285.1" y="132.7" width="0.9" height="0.9" fill="#2f3ef0" fill-opacity="0.52"/><rect x="277.4" y="124.9" width="0.9" height="0.9" fill="#3b52f5" fill-opacity="0.64"/><rect x="277.9" y="134.0" width="0.9" height="0.9" fill="#2f3ef0" fill-opacity="0.36"/><rect x="278.8" y="150.8" width="0.9" height="0.9" fill="#2f3ef0" fill-opacity="0.53"/><rect x="301.4" y="146.2" width="0.9" height="0.9" fill="#7f8cfb" fill-opacity="0.64"/><rect x="272.6" y="132.0" width="0.9" height="0.9" fill="#3b52f5" fill-opacity="0.50"/><rect x="273.7" y="153.4" width="0.9" height="0.9" fill="#2f3ef0" fill-opacity="0.66"/><rect x="298.5" y="138.1" width="0.9" height="0.9" fill="#3b52f5" fill-opacity="0.78"/><rect x="276.6" y="144.5" width="0.9" height="0.9" fill="#3b52f5" fill-opacity="0.66"/><rect x="287.5" y="145.2" width="0.9" height="0.9" fill="#2f3ef0" fill-opacity="0.42"/><rect x="273.2" y="122.3" width="0.9" height="0.9" fill="#2f3ef0" fill-opacity="0.48"/><rect x="294.1" y="122.7" width="0.9" height="0.9" fill="#5a6cf8" fill-opacity="0.44"/><rect x="296.6" y="149.0" width="0.9" height="0.9" fill="#7f8cfb" fill-opacity="0.52"/><rect x="283.5" y="124.5" width="0.9" height="0.9" fill="#4a5cf5" fill-opacity="0.62"/><rect x="285.4" y="138.0" width="0.9" height="0.9" fill="#4a5cf5" fill-opacity="0.74"/><rect x="290.7" y="151.4" width="0.9" height="0.9" fill="#7f8cfb" fill-opacity="0.54"/><rect x="279.3" y="147.5" width="0.9" height="0.9" fill="#5a6cf8" fill-opacity="0.78"/><rect x="279.0" y="150.5" width="0.9" height="0.9" fill="#3b52f5" fill-opacity="0.82"/><rect x="291.4" y="129.3" width="0.9" height="0.9" fill="#2f3ef0" fill-opacity="0.57"/><rect x="289.5" y="121.6" width="0.9" height="0.9" fill="#7f8cfb" fill-opacity="0.57"/><rect x="276.8" y="140.3" width="0.9" height="0.9" fill="#3b52f5" fill-opacity="0.49"/><rect x="275.5" y="125.2" width="0.9" height="0.9" fill="#3b52f5" fill-opacity="0.54"/><rect x="304.7" y="154.1" width="0.9" height="0.9" fill="#3b52f5" fill-opacity="0.72"/><rect x="300.9" y="134.0" width="0.9" height="0.9" fill="#5a6cf8" fill-opacity="0.68"/><rect x="284.9" y="149.7" width="0.9" height="0.9" fill="#5a6cf8" fill-opacity="0.66"/><rect x="290.2" y="129.7" width="0.9" height="0.9" fill="#2f3ef0" fill-opacity="0.81"/><rect x="278.1" y="144.1" width="0.9" height="0.9" fill="#4a5cf5" fill-opacity="0.61"/><rect x="293.3" y="127.6" width="0.9" height="0.9" fill="#2f3ef0" fill-opacity="0.63"/><rect x="288.5" y="121.6" width="0.9" height="0.9" fill="#2f3ef0" fill-opacity="0.40"/><rect x="298.2" y="123.6" width="0.9" height="0.9" fill="#7f8cfb" fill-opacity="0.35"/><rect x="272.2" y="119.7" width="0.9" height="0.9" fill="#7f8cfb" fill-opacity="0.70"/><rect x="278.0" y="151.6" width="0.9" height="0.9" fill="#5a6cf8" fill-opacity="0.62"/><rect x="290.6" y="143.6" width="0.9" height="0.9" fill="#7f8cfb" fill-opacity="0.62"/><rect x="273.7" y="158.9" width="0.9" height="0.9" fill="#3b52f5" fill-opacity="0.79"/><rect x="275.0" y="150.1" width="0.9" height="0.9" fill="#7f8cfb" fill-opacity="0.75"/><rect x="274.7" y="144.8" width="0.9" height="0.9" fill="#4a5cf5" fill-opacity="0.47"/><rect x="312.6" y="147.2" width="0.9" height="0.9" fill="#5a6cf8" fill-opacity="0.71"/><rect x="297.8" y="151.9" width="0.9" height="0.9" fill="#3b52f5" fill-opacity="0.69"/><rect x="293.0" y="142.4" width="0.9" height="0.9" fill="#5a6cf8" fill-opacity="0.67"/><rect x="307.8" y="156.8" width="0.9" height="0.9" fill="#4a5cf5" fill-opacity="0.49"/><rect x="273.8" y="125.9" width="0.9" height="0.9" fill="#2f3ef0" fill-opacity="0.45"/><rect x="291.3" y="136.0" width="0.9" height="0.9" fill="#3b52f5" fill-opacity="0.74"/><rect x="272.7" y="137.4" width="0.9" height="0.9" fill="#7f8cfb" fill-opacity="0.83"/><rect x="302.4" y="146.9" width="0.9" height="0.9" fill="#2f3ef0" fill-opacity="0.70"/><rect x="275.5" y="130.0" width="0.9" height="0.9" fill="#4a5cf5" fill-opacity="0.53"/><rect x="286.1" y="156.4" width="0.9" height="0.9" fill="#2f3ef0" fill-opacity="0.59"/><rect x="290.6" y="129.1" width="0.9" height="0.9" fill="#3b52f5" fill-opacity="0.65"/><rect x="281.1" y="126.5" width="0.9" height="0.9" fill="#2f3ef0" fill-opacity="0.64"/><rect x="283.2" y="127.1" width="0.9" height="0.9" fill="#7f8cfb" fill-opacity="0.73"/><rect x="283.4" y="140.2" width="0.9" height="0.9" fill="#5a6cf8" fill-opacity="0.83"/><rect x="289.9" y="153.4" width="0.9" height="0.9" fill="#2f3ef0" fill-opacity="0.37"/><rect x="273.3" y="128.4" width="0.9" height="0.9" fill="#4a5cf5" fill-opacity="0.45"/><rect x="279.4" y="157.1" width="0.9" height="0.9" fill="#3b52f5" fill-opacity="0.76"/><rect x="275.7" y="155.8" width="0.9" height="0.9" fill="#3b52f5" fill-opacity="0.37"/><rect x="275.1" y="123.6" width="0.9" height="0.9" fill="#3b52f5" fill-opacity="0.81"/><rect x="286.6" y="128.5" width="0.9" height="0.9" fill="#3b52f5" fill-opacity="0.84"/><rect x="285.8" y="122.4" width="0.9" height="0.9" fill="#2f3ef0" fill-opacity="0.77"/><rect x="280.4" y="126.7" width="0.9" height="0.9" fill="#4a5cf5" fill-opacity="0.69"/><rect x="285.1" y="150.0" width="0.9" height="0.9" fill="#7f8cfb" fill-opacity="0.72"/><rect x="277.2" y="136.0" width="0.9" height="0.9" fill="#7f8cfb" fill-opacity="0.70"/><rect x="279.9" y="149.2" width="0.9" height="0.9" fill="#7f8cfb" fill-opacity="0.78"/><rect x="272.4" y="136.1" width="0.9" height="0.9" fill="#2f3ef0" fill-opacity="0.65"/><rect x="287.2" y="130.0" width="0.9" height="0.9" fill="#7f8cfb" fill-opacity="0.52"/><rect x="273.2" y="124.8" width="0.9" height="0.9" fill="#3b52f5" fill-opacity="0.55"/><rect x="280.2" y="157.2" width="0.9" height="0.9" fill="#7f8cfb" fill-opacity="0.82"/><rect x="296.8" y="149.4" width="0.9" height="0.9" fill="#5a6cf8" fill-opacity="0.74"/><rect x="282.9" y="122.8" width="0.9" height="0.9" fill="#2f3ef0" fill-opacity="0.66"/><rect x="273.1" y="143.7" width="0.9" height="0.9" fill="#3b52f5" fill-opacity="0.66"/><rect x="288.1" y="122.5" width="0.9" height="0.9" fill="#2f3ef0" fill-opacity="0.72"/><rect x="273.2" y="128.8" width="0.9" height="0.9" fill="#4a5cf5" fill-opacity="0.57"/><rect x="277.8" y="149.6" width="0.9" height="0.9" fill="#3b52f5" fill-opacity="0.78"/><rect x="274.6" y="146.3" width="0.9" height="0.9" fill="#4a5cf5" fill-opacity="0.43"/><rect x="280.6" y="121.6" width="0.9" height="0.9" fill="#4a5cf5" fill-opacity="0.57"/><rect x="274.7" y="147.6" width="0.9" height="0.9" fill="#3b52f5" fill-opacity="0.43"/><rect x="290.7" y="150.4" width="0.9" height="0.9" fill="#7f8cfb" fill-opacity="0.39"/><rect x="293.9" y="129.7" width="0.9" height="0.9" fill="#3b52f5" fill-opacity="0.74"/><rect x="274.0" y="154.4" width="0.9" height="0.9" fill="#7f8cfb" fill-opacity="0.84"/><rect x="291.1" y="142.8" width="0.9" height="0.9" fill="#4a5cf5" fill-opacity="0.35"/><rect x="272.9" y="136.9" width="0.9" height="0.9" fill="#7f8cfb" fill-opacity="0.55"/><rect x="305.5" y="136.1" width="0.9" height="0.9" fill="#7f8cfb" fill-opacity="0.67"/><rect x="274.8" y="127.0" width="0.9" height="0.9" fill="#5a6cf8" fill-opacity="0.47"/><rect x="295.6" y="128.9" width="0.9" height="0.9" fill="#4a5cf5" fill-opacity="0.38"/><rect x="272.2" y="125.9" width="0.9" height="0.9" fill="#7f8cfb" fill-opacity="0.41"/><rect x="285.7" y="137.5" width="0.9" height="0.9" fill="#7f8cfb" fill-opacity="0.46"/><rect x="286.8" y="151.5" width="0.9" height="0.9" fill="#2f3ef0" fill-opacity="0.85"/><rect x="276.9" y="151.4" width="0.9" height="0.9" fill="#5a6cf8" fill-opacity="0.62"/><rect x="277.0" y="126.4" width="0.9" height="0.9" fill="#3b52f5" fill-opacity="0.41"/><rect x="292.0" y="145.6" width="0.9" height="0.9" fill="#3b52f5" fill-opacity="0.57"/><rect x="272.8" y="159.1" width="0.9" height="0.9" fill="#3b52f5" fill-opacity="0.52"/>
<path d="M263.30,121.20 C264.28,119.58 266.72,119.50 268.50,119.50 C270.28,119.50 272.98,119.58 274.00,121.20 C275.02,122.82 274.80,126.87 274.60,129.20 C274.40,131.53 272.98,132.87 272.80,135.20 C272.62,137.53 273.13,140.53 273.50,143.20 C273.87,145.87 275.00,148.70 275.00,151.20 C275.00,153.70 274.58,156.82 273.50,158.20 C272.42,159.58 270.25,159.50 268.50,159.50 C266.75,159.50 264.03,159.58 263.00,158.20 C261.97,156.82 262.17,153.70 262.30,151.20 C262.43,148.70 263.47,145.87 263.80,143.20 C264.13,140.53 264.50,137.53 264.30,135.20 C264.10,132.87 262.77,131.53 262.60,129.20 C262.43,126.87 262.32,122.82 263.30,121.20 Z" fill="#3c56f2" fill-opacity="0.92" filter="url(#b07)"/>
<ellipse cx="268.5" cy="137.2" rx="2.6" ry="6" fill="#46c0ff" filter="url(#b1)"/>
<ellipse cx="268.4" cy="150.2" rx="4.4" ry="8.5" fill="#4ab0ff" filter="url(#b1)"/>
<ellipse cx="268.4" cy="126.7" rx="3.6" ry="4.8" fill="#55c8ff" filter="url(#b07)"/>
<ellipse cx="268.4" cy="126.7" rx="3.0" ry="4.0" fill="#90f048" filter="url(#b07)"/>
<ellipse cx="268.4" cy="126.7" rx="1.8" ry="2.4" fill="#e8e020" filter="url(#b07)"/>
<ellipse cx="268.3" cy="149.2" rx="3.5" ry="8" fill="#7cf060" filter="url(#b1)"/>
<ellipse cx="268.2" cy="149.2" rx="2.6" ry="5.4" fill="#e8e828" filter="url(#b07)"/>
<ellipse cx="268.1" cy="149.5" rx="1.9" ry="3.1" fill="#ff8a00" filter="url(#b07)"/>
<ellipse cx="268.1" cy="149.7" rx="1.1" ry="1.9" fill="#d82000" filter="url(#b07)"/>
<rect x="173.8" y="69.3" width="54.7" height="17.9" fill="none" stroke="#555" stroke-width="0.8"/>
<rect x="173.8" y="140.2" width="54.7" height="17.9" fill="none" stroke="#555" stroke-width="0.8"/>
<text x="216.9" y="78.5" font-size="7.2" textLength="8.9" lengthAdjust="spacingAndGlyphs" >Lin</text>
<text x="226.0" y="75.9" font-size="5.2" textLength="1.6" lengthAdjust="spacingAndGlyphs" >-</text>
<text x="228.1" y="86.9" font-size="7.7" text-anchor="end" textLength="12.3" lengthAdjust="spacingAndGlyphs" >7.08</text>
<text x="216.9" y="149.4" font-size="7.2" textLength="8.9" lengthAdjust="spacingAndGlyphs" >Lin</text>
<text x="226.0" y="146.8" font-size="5.2" textLength="1.6" lengthAdjust="spacingAndGlyphs" >-</text>
<text x="228.1" y="157.8" font-size="7.7" text-anchor="end" textLength="12.3" lengthAdjust="spacingAndGlyphs" >6.86</text>
<line x1="228.5" y1="77.9" x2="241.3" y2="77.9" stroke="#111" stroke-width="1.6"/>
<path d="M240.8,75.7 L245.3,77.9 L240.8,80.10000000000001 Z" fill="#111"/>
<line x1="228.5" y1="148.7" x2="241.3" y2="148.7" stroke="#111" stroke-width="1.6"/>
<path d="M240.8,146.5 L245.3,148.7 L240.8,150.89999999999998 Z" fill="#111"/>
<rect x="262.5" y="47.8" width="12.1" height="14.4" fill="none" stroke="#444" stroke-width="0.8"/>
<rect x="281.5" y="48.3" width="18.2" height="12.3" fill="none" stroke="#444" stroke-width="0.8"/>
<rect x="262.5" y="119.0" width="12.1" height="14.4" fill="none" stroke="#444" stroke-width="0.8"/>
<rect x="281.5" y="119.5" width="18.2" height="12.3" fill="none" stroke="#444" stroke-width="0.8"/>
<text x="268.65" y="36.6" font-size="9.08" text-anchor="middle" textLength="10.9" lengthAdjust="spacingAndGlyphs" >MP</text>
<text x="268.7" y="45.6" font-size="9.08" text-anchor="middle" textLength="12.6" lengthAdjust="spacingAndGlyphs" >23.6</text>
<text x="291.3" y="36.6" font-size="9.08" text-anchor="middle" textLength="12.6" lengthAdjust="spacingAndGlyphs" >LSK</text>
<text x="291.5" y="45.6" font-size="9.08" text-anchor="middle" textLength="13.2" lengthAdjust="spacingAndGlyphs" >3.36</text>
<text x="268.65" y="107.7" font-size="9.08" text-anchor="middle" textLength="10.9" lengthAdjust="spacingAndGlyphs" >MP</text>
<text x="268.7" y="116.7" font-size="9.08" text-anchor="middle" textLength="12.8" lengthAdjust="spacingAndGlyphs" >24.7</text>
<text x="291.3" y="107.7" font-size="9.08" text-anchor="middle" textLength="12.6" lengthAdjust="spacingAndGlyphs" >LSK</text>
<text x="291.5" y="116.7" font-size="9.08" text-anchor="middle" textLength="13.2" lengthAdjust="spacingAndGlyphs" >5.14</text>
<text x="338.2" y="16.8" font-size="11.5" font-weight="bold" style="fill:#111;stroke:#111" >E</text>
<text x="390.6" y="51.2" font-size="9.7" text-anchor="middle" textLength="13.5" lengthAdjust="spacingAndGlyphs" >WT</text>
<text x="460.8" y="51.6" font-size="9.7" textLength="26.5" lengthAdjust="spacingAndGlyphs" >SRC-3</text>
<text x="488" y="47.4" font-size="6.32" textLength="7" lengthAdjust="spacingAndGlyphs" >-/-</text>
<text x="433.3" y="60.2" font-size="9.7" text-anchor="middle" textLength="44.5" lengthAdjust="spacingAndGlyphs" >LSK Gated</text>
<line x1="351.6" y1="137.2" x2="351.6" y2="67.2" stroke="#111" stroke-width="1.6"/>
<path d="M349.40000000000003,67.7 L351.6,63.2 L353.8,67.7 Z" fill="#111"/>
<line x1="355.9" y1="141.5" x2="509.6" y2="141.5" stroke="#111" stroke-width="1.7"/>
<path d="M509.1,139.3 L513.6,141.5 L509.1,143.7 Z" fill="#111"/>
<text x="0" y="0" transform="translate(346.0,103.4) rotate(-90)" font-size="10.35" text-anchor="middle" textLength="13.6" lengthAdjust="spacingAndGlyphs" >Flt2</text>
<text x="433.2" y="152.5" font-size="9.5" text-anchor="middle" textLength="18" lengthAdjust="spacingAndGlyphs" >CD34</text>
<rect x="356.2" y="63.5" width="73.6" height="73.5" fill="none" stroke="#9a9a9a" stroke-width="0.8"/>
<line x1="356.2" y1="74.0" x2="357.7" y2="74.0" stroke="#777" stroke-width="0.6"/>
<line x1="356.2" y1="84.5" x2="357.7" y2="84.5" stroke="#777" stroke-width="0.6"/>
<line x1="356.2" y1="95.0" x2="357.7" y2="95.0" stroke="#777" stroke-width="0.6"/>
<line x1="356.2" y1="105.5" x2="357.7" y2="105.5" stroke="#777" stroke-width="0.6"/>
<line x1="356.2" y1="116.0" x2="357.7" y2="116.0" stroke="#777" stroke-width="0.6"/>
<line x1="356.2" y1="126.5" x2="357.7" y2="126.5" stroke="#777" stroke-width="0.6"/>
<line x1="366.7142857142857" y1="137.0" x2="366.7142857142857" y2="135.5" stroke="#777" stroke-width="0.6"/>
<line x1="377.2285714285714" y1="137.0" x2="377.2285714285714" y2="135.5" stroke="#777" stroke-width="0.6"/>
<line x1="387.74285714285713" y1="137.0" x2="387.74285714285713" y2="135.5" stroke="#777" stroke-width="0.6"/>
<line x1="398.25714285714287" y1="137.0" x2="398.25714285714287" y2="135.5" stroke="#777" stroke-width="0.6"/>
<line x1="408.7714285714286" y1="137.0" x2="408.7714285714286" y2="135.5" stroke="#777" stroke-width="0.6"/>
<line x1="419.2857142857143" y1="137.0" x2="419.2857142857143" y2="135.5" stroke="#777" stroke-width="0.6"/>
<rect x="439.5" y="63.5" width="73.0" height="73.5" fill="none" stroke="#9a9a9a" stroke-width="0.8"/>
<line x1="439.5" y1="74.0" x2="441.0" y2="74.0" stroke="#777" stroke-width="0.6"/>
<line x1="439.5" y1="84.5" x2="441.0" y2="84.5" stroke="#777" stroke-width="0.6"/>
<line x1="439.5" y1="95.0" x2="441.0" y2="95.0" stroke="#777" stroke-width="0.6"/>
<line x1="439.5" y1="105.5" x2="441.0" y2="105.5" stroke="#777" stroke-width="0.6"/>
<line x1="439.5" y1="116.0" x2="441.0" y2="116.0" stroke="#777" stroke-width="0.6"/>
<line x1="439.5" y1="126.5" x2="441.0" y2="126.5" stroke="#777" stroke-width="0.6"/>
<line x1="449.92857142857144" y1="137.0" x2="449.92857142857144" y2="135.5" stroke="#777" stroke-width="0.6"/>
<line x1="460.35714285714283" y1="137.0" x2="460.35714285714283" y2="135.5" stroke="#777" stroke-width="0.6"/>
<line x1="470.7857142857143" y1="137.0" x2="470.7857142857143" y2="135.5" stroke="#777" stroke-width="0.6"/>
<line x1="481.2142857142857" y1="137.0" x2="481.2142857142857" y2="135.5" stroke="#777" stroke-width="0.6"/>
<line x1="491.64285714285717" y1="137.0" x2="491.64285714285717" y2="135.5" stroke="#777" stroke-width="0.6"/>
<line x1="502.07142857142856" y1="137.0" x2="502.07142857142856" y2="135.5" stroke="#777" stroke-width="0.6"/>
<g>
<ellipse cx="387.5" cy="116.2" rx="13.5" ry="7.6" fill="#cdcdcd" filter="url(#b07)"/>
<ellipse cx="391.6" cy="99" rx="9.4" ry="10.2" fill="#b9b9b9" filter="url(#b07)"/>
<ellipse cx="391.2" cy="99.6" rx="6.5" ry="8.2" fill="#a6a6a6" filter="url(#b07)"/>
<ellipse cx="391.1" cy="99.8" rx="4.0" ry="5.6" fill="#cfcfcf" stroke="#7c7c7c" stroke-width="1.8" filter="url(#b07)"/>
<ellipse cx="391.2" cy="99.8" rx="1.3" ry="3.4" fill="#f4f4f4" filter="url(#b07)"/>
<ellipse cx="390.6" cy="115.6" rx="8.6" ry="7.6" fill="#b3b3b3" filter="url(#b07)"/>
<ellipse cx="390.4" cy="114.4" rx="4.2" ry="4.0" fill="#cacaca" stroke="#909090" stroke-width="1.5" filter="url(#b07)"/>
<ellipse cx="390.4" cy="114.4" rx="1.8" ry="1.8" fill="#e4e4e4" filter="url(#b07)"/>
</g>
<g>
<ellipse cx="469" cy="116.3" rx="15" ry="8" fill="#d8d8d8" filter="url(#b1)"/>
<path d="M466.00,92.00 C467.20,90.50 469.50,89.45 471.50,89.00 C473.50,88.55 476.00,88.55 478.00,89.30 C480.00,90.05 482.33,91.72 483.50,93.50 C484.67,95.28 485.08,97.83 485.00,100.00 C484.92,102.17 484.33,105.03 483.00,106.50 C481.67,107.97 479.33,108.45 477.00,108.80 C474.67,109.15 471.00,109.23 469.00,108.60 C467.00,107.97 465.78,106.77 465.00,105.00 C464.22,103.23 464.13,100.17 464.30,98.00 C464.47,95.83 464.80,93.50 466.00,92.00 Z" fill="#cbcbcb" filter="url(#b07)"/>
<path d="M468.38,93.96 C469.24,92.88 470.90,92.12 472.34,91.80 C473.78,91.48 475.58,91.48 477.02,92.02 C478.46,92.56 480.14,93.76 480.98,95.04 C481.82,96.32 482.12,98.16 482.06,99.72 C482.00,101.28 481.58,103.34 480.62,104.40 C479.66,105.46 477.98,105.80 476.30,106.06 C474.62,106.31 471.98,106.37 470.54,105.91 C469.10,105.46 468.22,104.59 467.66,103.32 C467.10,102.05 467.04,99.84 467.16,98.28 C467.28,96.72 467.52,95.04 468.38,93.96 Z" fill="#c0c0c0" stroke="#b0b0b0" stroke-width="0.6" filter="url(#b07)"/>
<path d="M470.68,95.85 C471.22,95.17 472.25,94.70 473.15,94.50 C474.05,94.30 475.17,94.30 476.07,94.64 C476.98,94.97 478.02,95.72 478.55,96.53 C479.08,97.33 479.26,98.48 479.23,99.45 C479.19,100.42 478.93,101.72 478.32,102.38 C477.72,103.03 476.68,103.25 475.62,103.41 C474.57,103.57 472.92,103.60 472.02,103.32 C471.12,103.03 470.58,102.50 470.23,101.70 C469.87,100.91 469.84,99.53 469.91,98.55 C469.99,97.57 470.13,96.52 470.68,95.85 Z" fill="#cdcdcd" stroke="#b2b2b2" stroke-width="0.5"/>
<ellipse cx="471.3" cy="97" rx="1.0" ry="3.2" fill="#f2f2f2" filter="url(#b07)"/>
<ellipse cx="469.5" cy="115.5" rx="8.8" ry="7.4" fill="#c4c4c4" filter="url(#b07)"/>
<path d="M467,108.8 C471,108.6 475,111 475.3,115.5 C475.5,119.5 472,121.3 468.5,121.2 C465,121.1 462.3,119.5 462.8,116.5 C463.3,113.5 464.5,110.5 467,108.8 Z" fill="#e2e2e2" stroke="#404040" stroke-width="1.4"/>
<path d="M468.5,111.5 C470.5,112 472,114 471.5,116.5 C471,118.5 468.5,118.8 467.5,117 C466.8,115 467.2,112.5 468.5,111.5 Z" fill="#fafafa"/>
</g>
<path d="M380.5,108.1 L380.5,82.1 L407.2,82.1 L407.2,108.1" fill="none" stroke="#3a3a3a" stroke-width="0.9"/>
<path d="M357.1,133.0 L357.1,108.1 L407.2,108.1 L407.2,133.0 Z M384.6,108.1 L384.6,133.0" fill="none" stroke="#3a3a3a" stroke-width="0.9"/>
<path d="M463.4,108.3 L463.4,81.6 L490.2,81.6 L490.2,108.3" fill="none" stroke="#3a3a3a" stroke-width="0.9"/>
<path d="M440.0,132.9 L440.0,108.3 L490.6,108.3 L490.6,132.9 Z M467.5,108.3 L467.5,132.9" fill="none" stroke="#3a3a3a" stroke-width="0.9"/>
<text x="393.6" y="79.2" font-size="9.2" text-anchor="middle" textLength="15.2" lengthAdjust="spacingAndGlyphs" >MPP</text>
<text x="393.6" y="88.2" font-size="9.89" text-anchor="middle" textLength="13.5" lengthAdjust="spacingAndGlyphs" >49.9</text>
<text x="369.0" y="106.0" font-size="9.43" text-anchor="middle" textLength="22.8" lengthAdjust="spacingAndGlyphs" >LT-HSC</text>
<text x="368.7" y="115.4" font-size="9.89" text-anchor="middle" textLength="12.5" lengthAdjust="spacingAndGlyphs" >11.5</text>
<text x="414" y="120.6" font-size="9.89" text-anchor="middle" textLength="24" lengthAdjust="spacingAndGlyphs" >ST-HSC</text>
<text x="414.8" y="129.6" font-size="9.89" text-anchor="middle" textLength="13" lengthAdjust="spacingAndGlyphs" >38.2</text>
<text x="476.4" y="79.2" font-size="9.2" text-anchor="middle" textLength="15.2" lengthAdjust="spacingAndGlyphs" >MPP</text>
<text x="476.4" y="88.4" font-size="9.89" text-anchor="middle" textLength="13.5" lengthAdjust="spacingAndGlyphs" >40.8</text>
<text x="451.2" y="105.7" font-size="9.43" text-anchor="middle" textLength="23" lengthAdjust="spacingAndGlyphs" >LT-HSC</text>
<text x="451.2" y="115" font-size="9.89" text-anchor="middle" textLength="13" lengthAdjust="spacingAndGlyphs" >19.3</text>
<text x="497.9" y="121" font-size="9.89" text-anchor="middle" textLength="24.5" lengthAdjust="spacingAndGlyphs" >ST-HSC</text>
<text x="497.7" y="129.4" font-size="9.89" text-anchor="middle" textLength="14.5" lengthAdjust="spacingAndGlyphs" >39.5</text>
<text x="132.8" y="203.8" font-size="11.5" font-weight="bold" style="fill:#111;stroke:#111" >D</text>
<rect x="168.5" y="206.1" width="9.2" height="5.9" fill="#b8002c"/>
<rect x="168.5" y="215.7" width="9.2" height="5.7" fill="#2c4d8c"/>
<text x="180.6" y="211.5" font-size="8.6" textLength="10.5" lengthAdjust="spacingAndGlyphs" >WT</text>
<text x="180.6" y="221.0" font-size="8.8" textLength="21.4" lengthAdjust="spacingAndGlyphs" >SRC-3</text>
<text x="202.5" y="217.8" font-size="5.29" textLength="4.6" lengthAdjust="spacingAndGlyphs" >-/-</text>
<line x1="163" y1="219.5" x2="163" y2="299" stroke="#1a1a1a" stroke-width="1.3"/>
<line x1="159.5" y1="222" x2="163" y2="222" stroke="#1a1a1a" stroke-width="1.2"/>
<text x="157.2" y="225" font-size="8.8" text-anchor="end" textLength="10.6" lengthAdjust="spacingAndGlyphs" >2.0</text>
<line x1="159.5" y1="241.1" x2="163" y2="241.1" stroke="#1a1a1a" stroke-width="1.2"/>
<text x="157.2" y="244.1" font-size="8.8" text-anchor="end" textLength="10.6" lengthAdjust="spacingAndGlyphs" >1.5</text>
<line x1="159.5" y1="260.2" x2="163" y2="260.2" stroke="#1a1a1a" stroke-width="1.2"/>
<text x="157.2" y="263.2" font-size="8.8" text-anchor="end" textLength="10.6" lengthAdjust="spacingAndGlyphs" >1.0</text>
<line x1="159.5" y1="279.3" x2="163" y2="279.3" stroke="#1a1a1a" stroke-width="1.2"/>
<text x="157.2" y="282.3" font-size="8.8" text-anchor="end" textLength="10.6" lengthAdjust="spacingAndGlyphs" >0.5</text>
<line x1="159.5" y1="298.4" x2="163" y2="298.4" stroke="#1a1a1a" stroke-width="1.2"/>
<text x="157.2" y="301.4" font-size="8.8" text-anchor="end" textLength="10.6" lengthAdjust="spacingAndGlyphs" >0.0</text>
<line x1="160.2" y1="298.4" x2="228.7" y2="298.4" stroke="#1a1a1a" stroke-width="1.3"/>
<line x1="179.5" y1="298.4" x2="179.5" y2="301.8" stroke="#1a1a1a" stroke-width="1.2"/>
<line x1="212.0" y1="298.4" x2="212.0" y2="301.8" stroke="#1a1a1a" stroke-width="1.2"/>
<rect x="169.0" y="234.5" width="8.8" height="63.9" fill="#b8002c"/>
<line x1="173.4" y1="235.0" x2="173.4" y2="230.4" stroke="#1e1e1e" stroke-width="1.15"/>
<line x1="171.29999999999998" y1="230.4" x2="175.50000000000003" y2="230.4" stroke="#1e1e1e" stroke-width="1.4"/>
<rect x="181.3" y="233.9" width="8.7" height="64.5" fill="#2c4d8c"/>
<line x1="185.65" y1="234.4" x2="185.65" y2="228.3" stroke="#1e1e1e" stroke-width="1.15"/>
<line x1="183.54999999999998" y1="228.3" x2="187.75000000000003" y2="228.3" stroke="#1e1e1e" stroke-width="1.4"/>
<rect x="201.6" y="288.5" width="9.0" height="9.9" fill="#b8002c"/>
<line x1="206.1" y1="289.0" x2="206.1" y2="287.2" stroke="#1e1e1e" stroke-width="1.15"/>
<line x1="203.99999999999997" y1="287.2" x2="208.20000000000002" y2="287.2" stroke="#1e1e1e" stroke-width="1.4"/>
<rect x="213.7" y="284.6" width="8.6" height="13.8" fill="#2c4d8c"/>
<line x1="218.0" y1="285.1" x2="218.0" y2="282.0" stroke="#1e1e1e" stroke-width="1.15"/>
<line x1="215.89999999999998" y1="282.0" x2="220.10000000000002" y2="282.0" stroke="#1e1e1e" stroke-width="1.4"/>
<text x="218.0" y="281.90000000000003" font-size="8.4" font-weight="bold" text-anchor="middle" style="fill:#222;stroke:#222" >**</text>
<text x="179.5" y="312.1" font-size="9.1" text-anchor="middle" textLength="11.5" lengthAdjust="spacingAndGlyphs" >MP</text>
<text x="212.3" y="312.1" font-size="9.1" text-anchor="middle" textLength="12.5" lengthAdjust="spacingAndGlyphs" >LSK</text>
<text x="0" y="0" transform="translate(140.6,258.4) rotate(-90)" font-size="9.43" text-anchor="middle" textLength="59.5" lengthAdjust="spacingAndGlyphs" >% within BM cells</text>
<rect x="281.1" y="205.7" width="9.2" height="6.3" fill="#b8002c"/>
<rect x="281.1" y="215.8" width="9.2" height="6.0" fill="#2c4d8c"/>
<text x="292.4" y="211.5" font-size="8.6" textLength="10.5" lengthAdjust="spacingAndGlyphs" >WT</text>
<text x="292.4" y="221.4" font-size="8.8" textLength="21.4" lengthAdjust="spacingAndGlyphs" >SRC-3</text>
<text x="314.29999999999995" y="218.20000000000002" font-size="5.29" textLength="4.6" lengthAdjust="spacingAndGlyphs" >-/-</text>
<line x1="275.4" y1="220" x2="275.4" y2="299" stroke="#1a1a1a" stroke-width="1.3"/>
<line x1="271.9" y1="222" x2="275.4" y2="222" stroke="#1a1a1a" stroke-width="1.2"/>
<text x="268.7" y="225" font-size="8.8" text-anchor="end" textLength="7.9" lengthAdjust="spacingAndGlyphs" >50</text>
<line x1="271.9" y1="237.3" x2="275.4" y2="237.3" stroke="#1a1a1a" stroke-width="1.2"/>
<text x="268.7" y="240.3" font-size="8.8" text-anchor="end" textLength="7.9" lengthAdjust="spacingAndGlyphs" >40</text>
<line x1="271.9" y1="252.6" x2="275.4" y2="252.6" stroke="#1a1a1a" stroke-width="1.2"/>
<text x="268.7" y="255.6" font-size="8.8" text-anchor="end" textLength="7.9" lengthAdjust="spacingAndGlyphs" >30</text>
<line x1="271.9" y1="267.8" x2="275.4" y2="267.8" stroke="#1a1a1a" stroke-width="1.2"/>
<text x="268.7" y="270.8" font-size="8.8" text-anchor="end" textLength="7.9" lengthAdjust="spacingAndGlyphs" >20</text>
<line x1="271.9" y1="283.1" x2="275.4" y2="283.1" stroke="#1a1a1a" stroke-width="1.2"/>
<text x="268.7" y="286.1" font-size="8.8" text-anchor="end" textLength="7.9" lengthAdjust="spacingAndGlyphs" >10</text>
<line x1="271.9" y1="298.4" x2="275.4" y2="298.4" stroke="#1a1a1a" stroke-width="1.2"/>
<text x="268.7" y="301.4" font-size="8.8" text-anchor="end" textLength="3.9" lengthAdjust="spacingAndGlyphs" >0</text>
<line x1="274.6" y1="298.4" x2="338.2" y2="298.4" stroke="#1a1a1a" stroke-width="1.3"/>
<line x1="291.5" y1="298.4" x2="291.5" y2="301.8" stroke="#1a1a1a" stroke-width="1.2"/>
<line x1="324.0" y1="298.4" x2="324.0" y2="301.8" stroke="#1a1a1a" stroke-width="1.2"/>
<rect x="281.1" y="240.3" width="8.7" height="58.1" fill="#b8002c"/>
<line x1="285.45000000000005" y1="240.8" x2="285.45000000000005" y2="234.4" stroke="#1e1e1e" stroke-width="1.15"/>
<line x1="283.35" y1="234.4" x2="287.55000000000007" y2="234.4" stroke="#1e1e1e" stroke-width="1.4"/>
<rect x="292.9" y="240.8" width="9.0" height="57.6" fill="#2c4d8c"/>
<line x1="297.4" y1="241.3" x2="297.4" y2="234.4" stroke="#1e1e1e" stroke-width="1.15"/>
<line x1="295.29999999999995" y1="234.4" x2="299.5" y2="234.4" stroke="#1e1e1e" stroke-width="1.4"/>
<rect x="313.1" y="289.3" width="9.2" height="9.1" fill="#b8002c"/>
<line x1="317.70000000000005" y1="289.8" x2="317.70000000000005" y2="287.0" stroke="#1e1e1e" stroke-width="1.15"/>
<line x1="315.6" y1="287.0" x2="319.80000000000007" y2="287.0" stroke="#1e1e1e" stroke-width="1.4"/>
<rect x="325.8" y="285.8" width="9.0" height="12.6" fill="#2c4d8c"/>
<line x1="330.3" y1="286.3" x2="330.3" y2="284.1" stroke="#1e1e1e" stroke-width="1.15"/>
<line x1="328.2" y1="284.1" x2="332.40000000000003" y2="284.1" stroke="#1e1e1e" stroke-width="1.4"/>
<text x="330.3" y="284.0" font-size="8.4" font-weight="bold" text-anchor="middle" style="fill:#222;stroke:#222" >**</text>
<text x="291.3" y="312.1" font-size="9.1" text-anchor="middle" textLength="11.5" lengthAdjust="spacingAndGlyphs" >MP</text>
<text x="323.5" y="312.1" font-size="9.1" text-anchor="middle" textLength="13" lengthAdjust="spacingAndGlyphs" >LSK</text>
<text x="0" y="0" transform="translate(243.7,259.0) rotate(-90)" font-size="9.43" text-anchor="middle" textLength="64.5" lengthAdjust="spacingAndGlyphs" >Cells per femur and</text>
<g transform="translate(254.9,258.9) rotate(-90)">
<text x="-18" y="0" font-size="9.43" textLength="28.2" lengthAdjust="spacingAndGlyphs" >tibia (x10</text>
<text x="10.6" y="-3.4" font-size="5.75" >4</text>
<text x="14.6" y="0" font-size="9.43" textLength="2.6" lengthAdjust="spacingAndGlyphs" >)</text>
</g>
<text x="355.9" y="204.2" font-size="11.5" font-weight="bold" style="fill:#111;stroke:#111" >F</text>
<rect x="389.0" y="206.4" width="9.0" height="5.7" fill="#b8002c"/>
<rect x="389.0" y="216.0" width="9.0" height="5.7" fill="#2c4d8c"/>
<text x="400.6" y="211.6" font-size="8.6" textLength="10.5" lengthAdjust="spacingAndGlyphs" >WT</text>
<text x="400.6" y="221.29999999999998" font-size="8.8" textLength="21.4" lengthAdjust="spacingAndGlyphs" >SRC-3</text>
<text x="422.5" y="218.1" font-size="5.29" textLength="4.6" lengthAdjust="spacingAndGlyphs" >-/-</text>
<line x1="384.2" y1="213.8" x2="384.2" y2="299" stroke="#1a1a1a" stroke-width="1.3"/>
<line x1="380.6" y1="217" x2="384.2" y2="217" stroke="#1a1a1a" stroke-width="1.2"/>
<text x="378.0" y="220.0" font-size="8.8" text-anchor="end" textLength="8.6" lengthAdjust="spacingAndGlyphs" >60</text>
<line x1="380.6" y1="244" x2="384.2" y2="244" stroke="#1a1a1a" stroke-width="1.2"/>
<text x="378.0" y="247.0" font-size="8.8" text-anchor="end" textLength="8.6" lengthAdjust="spacingAndGlyphs" >40</text>
<line x1="380.6" y1="271.2" x2="384.2" y2="271.2" stroke="#1a1a1a" stroke-width="1.2"/>
<text x="378.0" y="274.2" font-size="8.8" text-anchor="end" textLength="8.6" lengthAdjust="spacingAndGlyphs" >20</text>
<line x1="380.6" y1="298.4" x2="384.2" y2="298.4" stroke="#1a1a1a" stroke-width="1.2"/>
<text x="378.0" y="301.4" font-size="8.8" text-anchor="end" textLength="4.1" lengthAdjust="spacingAndGlyphs" >0</text>
<line x1="383.4" y1="298.4" x2="481.7" y2="298.4" stroke="#1a1a1a" stroke-width="1.3"/>
<line x1="400.35" y1="298.4" x2="400.35" y2="301.8" stroke="#1a1a1a" stroke-width="1.2"/>
<line x1="432.55" y1="298.4" x2="432.55" y2="301.8" stroke="#1a1a1a" stroke-width="1.2"/>
<line x1="464.85" y1="298.4" x2="464.85" y2="301.8" stroke="#1a1a1a" stroke-width="1.2"/>
<rect x="389.8" y="282.0" width="9.0" height="16.4" fill="#b8002c"/>
<line x1="394.3" y1="282.5" x2="394.3" y2="279.4" stroke="#1e1e1e" stroke-width="1.15"/>
<line x1="392.2" y1="279.4" x2="396.40000000000003" y2="279.4" stroke="#1e1e1e" stroke-width="1.4"/>
<rect x="401.9" y="272.0" width="9.0" height="26.4" fill="#2c4d8c"/>
<line x1="406.4" y1="272.5" x2="406.4" y2="268.5" stroke="#1e1e1e" stroke-width="1.15"/>
<line x1="404.29999999999995" y1="268.5" x2="408.5" y2="268.5" stroke="#1e1e1e" stroke-width="1.4"/>
<rect x="422.0" y="246.8" width="9.2" height="51.6" fill="#b8002c"/>
<line x1="426.6" y1="247.3" x2="426.6" y2="240.3" stroke="#1e1e1e" stroke-width="1.15"/>
<line x1="424.5" y1="240.3" x2="428.70000000000005" y2="240.3" stroke="#1e1e1e" stroke-width="1.4"/>
<rect x="434.4" y="244.3" width="8.7" height="54.1" fill="#2c4d8c"/>
<line x1="438.75" y1="244.8" x2="438.75" y2="237.3" stroke="#1e1e1e" stroke-width="1.15"/>
<line x1="436.65" y1="237.3" x2="440.85" y2="237.3" stroke="#1e1e1e" stroke-width="1.4"/>
<rect x="454.3" y="229.1" width="9.2" height="69.3" fill="#b8002c"/>
<line x1="458.9" y1="229.6" x2="458.9" y2="224.1" stroke="#1e1e1e" stroke-width="1.15"/>
<line x1="456.79999999999995" y1="224.1" x2="461.0" y2="224.1" stroke="#1e1e1e" stroke-width="1.4"/>
<rect x="466.5" y="241.8" width="8.9" height="56.6" fill="#2c4d8c"/>
<line x1="470.95" y1="242.3" x2="470.95" y2="236.8" stroke="#1e1e1e" stroke-width="1.15"/>
<line x1="468.84999999999997" y1="236.8" x2="473.05" y2="236.8" stroke="#1e1e1e" stroke-width="1.4"/>
<text x="406.4" y="268.40000000000003" font-size="8.4" font-weight="bold" text-anchor="middle" style="fill:#222;stroke:#222" >**</text>
<text x="471.0" y="236.7" font-size="8.4" font-weight="bold" text-anchor="middle" style="fill:#222;stroke:#222" >**</text>
<text x="400.2" y="312.2" font-size="9.1" text-anchor="middle" textLength="24.5" lengthAdjust="spacingAndGlyphs" >LT-HSC</text>
<text x="433.0" y="312.2" font-size="9.1" text-anchor="middle" textLength="25.5" lengthAdjust="spacingAndGlyphs" >ST-HSC</text>
<text x="464.8" y="312.2" font-size="9.1" text-anchor="middle" textLength="16.5" lengthAdjust="spacingAndGlyphs" >MPP</text>
<text x="0" y="0" transform="translate(363.6,256.6) rotate(-90)" font-size="9.43" text-anchor="middle" textLength="44" lengthAdjust="spacingAndGlyphs" >% within LSK</text>
<text x="7.3" y="337.7" font-size="11.5" font-weight="bold" style="fill:#111;stroke:#111" >G</text>
<text x="62.3" y="344" font-size="9.7" text-anchor="middle" textLength="13.5" lengthAdjust="spacingAndGlyphs" >WT</text>
<text x="123.7" y="344.5" font-size="9.7" textLength="26.5" lengthAdjust="spacingAndGlyphs" >SRC-3</text>
<text x="150.5" y="341.0" font-size="8.28" textLength="8.6" lengthAdjust="spacingAndGlyphs" >-/-</text>
<text x="53.8" y="358.2" font-size="9.3" textLength="10.6" lengthAdjust="spacingAndGlyphs" >Lin</text>
<text x="71.5" y="358.2" font-size="9.3" textLength="18.2" lengthAdjust="spacingAndGlyphs" >Sca1</text>
<text x="97.0" y="358.2" font-size="9.3" textLength="20.0" lengthAdjust="spacingAndGlyphs" >c-Kit</text>
<text x="124.9" y="358.2" font-size="9.3" textLength="26.2" lengthAdjust="spacingAndGlyphs" >Gated</text>
<text x="65.6" y="353.9" font-size="6.67" textLength="2.4" lengthAdjust="spacingAndGlyphs" >-</text>
<text x="91.8" y="353.9" font-size="6.67" textLength="2.4" lengthAdjust="spacingAndGlyphs" >-</text>
<text x="117.9" y="354.8" font-size="6.67" textLength="2.4" lengthAdjust="spacingAndGlyphs" >+</text>
<line x1="21.7" y1="436.2" x2="21.7" y2="366.2" stroke="#111" stroke-width="1.6"/>
<path d="M19.5,366.7 L21.7,362.2 L23.9,366.7 Z" fill="#111"/>
<line x1="27" y1="441.2" x2="176.4" y2="441.2" stroke="#111" stroke-width="1.7"/>
<path d="M175.9,439.0 L180.4,441.2 L175.9,443.4 Z" fill="#111"/>
<text x="0" y="0" transform="translate(16.2,402.2) rotate(-90)" font-size="10.12" text-anchor="middle" textLength="29.8" lengthAdjust="spacingAndGlyphs" >CD16/32</text>
<text x="101.3" y="453.2" font-size="9.5" text-anchor="middle" textLength="16.5" lengthAdjust="spacingAndGlyphs" >CD34</text>
<rect x="26.4" y="361.4" width="74.9" height="75.2" fill="none" stroke="#9a9a9a" stroke-width="0.8"/>
<line x1="26.4" y1="372.1428571428571" x2="27.9" y2="372.1428571428571" stroke="#777" stroke-width="0.6"/>
<line x1="26.4" y1="382.8857142857143" x2="27.9" y2="382.8857142857143" stroke="#777" stroke-width="0.6"/>
<line x1="26.4" y1="393.62857142857143" x2="27.9" y2="393.62857142857143" stroke="#777" stroke-width="0.6"/>
<line x1="26.4" y1="404.37142857142857" x2="27.9" y2="404.37142857142857" stroke="#777" stroke-width="0.6"/>
<line x1="26.4" y1="415.1142857142857" x2="27.9" y2="415.1142857142857" stroke="#777" stroke-width="0.6"/>
<line x1="26.4" y1="425.8571428571429" x2="27.9" y2="425.8571428571429" stroke="#777" stroke-width="0.6"/>
<line x1="37.1" y1="436.6" x2="37.1" y2="435.1" stroke="#777" stroke-width="0.6"/>
<line x1="47.8" y1="436.6" x2="47.8" y2="435.1" stroke="#777" stroke-width="0.6"/>
<line x1="58.5" y1="436.6" x2="58.5" y2="435.1" stroke="#777" stroke-width="0.6"/>
<line x1="69.2" y1="436.6" x2="69.2" y2="435.1" stroke="#777" stroke-width="0.6"/>
<line x1="79.9" y1="436.6" x2="79.9" y2="435.1" stroke="#777" stroke-width="0.6"/>
<line x1="90.6" y1="436.6" x2="90.6" y2="435.1" stroke="#777" stroke-width="0.6"/>
<rect x="105.1" y="361.4" width="74.2" height="75.2" fill="none" stroke="#9a9a9a" stroke-width="0.8"/>
<line x1="105.1" y1="372.1428571428571" x2="106.6" y2="372.1428571428571" stroke="#777" stroke-width="0.6"/>
<line x1="105.1" y1="382.8857142857143" x2="106.6" y2="382.8857142857143" stroke="#777" stroke-width="0.6"/>
<line x1="105.1" y1="393.62857142857143" x2="106.6" y2="393.62857142857143" stroke="#777" stroke-width="0.6"/>
<line x1="105.1" y1="404.37142857142857" x2="106.6" y2="404.37142857142857" stroke="#777" stroke-width="0.6"/>
<line x1="105.1" y1="415.1142857142857" x2="106.6" y2="415.1142857142857" stroke="#777" stroke-width="0.6"/>
<line x1="105.1" y1="425.8571428571429" x2="106.6" y2="425.8571428571429" stroke="#777" stroke-width="0.6"/>
<line x1="115.7" y1="436.6" x2="115.7" y2="435.1" stroke="#777" stroke-width="0.6"/>
<line x1="126.3" y1="436.6" x2="126.3" y2="435.1" stroke="#777" stroke-width="0.6"/>
<line x1="136.9" y1="436.6" x2="136.9" y2="435.1" stroke="#777" stroke-width="0.6"/>
<line x1="147.5" y1="436.6" x2="147.5" y2="435.1" stroke="#777" stroke-width="0.6"/>
<line x1="158.10000000000002" y1="436.6" x2="158.10000000000002" y2="435.1" stroke="#777" stroke-width="0.6"/>
<line x1="168.70000000000002" y1="436.6" x2="168.70000000000002" y2="435.1" stroke="#777" stroke-width="0.6"/>
<clipPath id="gclip1"><path d="M41.40,401.80 C41.35,400.97 41.43,400.33 42.30,399.60 C43.17,398.87 44.97,398.08 46.60,397.40 C48.23,396.72 50.43,395.97 52.10,395.50 C53.77,395.03 55.08,394.75 56.60,394.60 C58.12,394.45 59.83,394.37 61.20,394.60 C62.57,394.83 63.75,395.22 64.80,396.00 C65.85,396.78 66.82,397.70 67.50,399.30 C68.18,400.90 68.67,403.33 68.90,405.60 C69.13,407.87 69.13,410.32 68.90,412.90 C68.67,415.48 68.18,418.83 67.50,421.10 C66.82,423.37 66.00,425.07 64.80,426.50 C63.60,427.93 61.97,428.93 60.30,429.70 C58.63,430.47 57.08,430.80 54.80,431.10 C52.52,431.40 49.02,431.65 46.60,431.50 C44.18,431.35 41.97,430.87 40.30,430.20 C38.63,429.53 37.32,428.70 36.60,427.50 C35.88,426.30 35.72,424.35 36.00,423.00 C36.28,421.65 37.27,420.33 38.30,419.40 C39.33,418.47 40.75,418.08 42.20,417.40 C43.65,416.72 45.53,416.05 47.00,415.30 C48.47,414.55 50.10,413.63 51.00,412.90 C51.90,412.17 52.60,411.48 52.40,410.90 C52.20,410.32 50.88,409.98 49.80,409.40 C48.72,408.82 47.10,408.20 45.90,407.40 C44.70,406.60 43.35,405.53 42.60,404.60 C41.85,403.67 41.45,402.63 41.40,401.80 Z"/></clipPath>
<g clip-path="url(#gclip1)">
<path d="M41.40,401.80 C41.35,400.97 41.43,400.33 42.30,399.60 C43.17,398.87 44.97,398.08 46.60,397.40 C48.23,396.72 50.43,395.97 52.10,395.50 C53.77,395.03 55.08,394.75 56.60,394.60 C58.12,394.45 59.83,394.37 61.20,394.60 C62.57,394.83 63.75,395.22 64.80,396.00 C65.85,396.78 66.82,397.70 67.50,399.30 C68.18,400.90 68.67,403.33 68.90,405.60 C69.13,407.87 69.13,410.32 68.90,412.90 C68.67,415.48 68.18,418.83 67.50,421.10 C66.82,423.37 66.00,425.07 64.80,426.50 C63.60,427.93 61.97,428.93 60.30,429.70 C58.63,430.47 57.08,430.80 54.80,431.10 C52.52,431.40 49.02,431.65 46.60,431.50 C44.18,431.35 41.97,430.87 40.30,430.20 C38.63,429.53 37.32,428.70 36.60,427.50 C35.88,426.30 35.72,424.35 36.00,423.00 C36.28,421.65 37.27,420.33 38.30,419.40 C39.33,418.47 40.75,418.08 42.20,417.40 C43.65,416.72 45.53,416.05 47.00,415.30 C48.47,414.55 50.10,413.63 51.00,412.90 C51.90,412.17 52.60,411.48 52.40,410.90 C52.20,410.32 50.88,409.98 49.80,409.40 C48.72,408.82 47.10,408.20 45.90,407.40 C44.70,406.60 43.35,405.53 42.60,404.60 C41.85,403.67 41.45,402.63 41.40,401.80 Z" fill="#8e8e8e"/>
<path d="M41.40,401.80 C41.35,400.97 41.43,400.33 42.30,399.60 C43.17,398.87 44.97,398.08 46.60,397.40 C48.23,396.72 50.43,395.97 52.10,395.50 C53.77,395.03 55.08,394.75 56.60,394.60 C58.12,394.45 59.83,394.37 61.20,394.60 C62.57,394.83 63.75,395.22 64.80,396.00 C65.85,396.78 66.82,397.70 67.50,399.30 C68.18,400.90 68.67,403.33 68.90,405.60 C69.13,407.87 69.13,410.32 68.90,412.90 C68.67,415.48 68.18,418.83 67.50,421.10 C66.82,423.37 66.00,425.07 64.80,426.50 C63.60,427.93 61.97,428.93 60.30,429.70 C58.63,430.47 57.08,430.80 54.80,431.10 C52.52,431.40 49.02,431.65 46.60,431.50 C44.18,431.35 41.97,430.87 40.30,430.20 C38.63,429.53 37.32,428.70 36.60,427.50 C35.88,426.30 35.72,424.35 36.00,423.00 C36.28,421.65 37.27,420.33 38.30,419.40 C39.33,418.47 40.75,418.08 42.20,417.40 C43.65,416.72 45.53,416.05 47.00,415.30 C48.47,414.55 50.10,413.63 51.00,412.90 C51.90,412.17 52.60,411.48 52.40,410.90 C52.20,410.32 50.88,409.98 49.80,409.40 C48.72,408.82 47.10,408.20 45.90,407.40 C44.70,406.60 43.35,405.53 42.60,404.60 C41.85,403.67 41.45,402.63 41.40,401.80 Z" fill="none" stroke="#f0f0f0" stroke-width="15.4"/>
<path d="M41.40,401.80 C41.35,400.97 41.43,400.33 42.30,399.60 C43.17,398.87 44.97,398.08 46.60,397.40 C48.23,396.72 50.43,395.97 52.10,395.50 C53.77,395.03 55.08,394.75 56.60,394.60 C58.12,394.45 59.83,394.37 61.20,394.60 C62.57,394.83 63.75,395.22 64.80,396.00 C65.85,396.78 66.82,397.70 67.50,399.30 C68.18,400.90 68.67,403.33 68.90,405.60 C69.13,407.87 69.13,410.32 68.90,412.90 C68.67,415.48 68.18,418.83 67.50,421.10 C66.82,423.37 66.00,425.07 64.80,426.50 C63.60,427.93 61.97,428.93 60.30,429.70 C58.63,430.47 57.08,430.80 54.80,431.10 C52.52,431.40 49.02,431.65 46.60,431.50 C44.18,431.35 41.97,430.87 40.30,430.20 C38.63,429.53 37.32,428.70 36.60,427.50 C35.88,426.30 35.72,424.35 36.00,423.00 C36.28,421.65 37.27,420.33 38.30,419.40 C39.33,418.47 40.75,418.08 42.20,417.40 C43.65,416.72 45.53,416.05 47.00,415.30 C48.47,414.55 50.10,413.63 51.00,412.90 C51.90,412.17 52.60,411.48 52.40,410.90 C52.20,410.32 50.88,409.98 49.80,409.40 C48.72,408.82 47.10,408.20 45.90,407.40 C44.70,406.60 43.35,405.53 42.60,404.60 C41.85,403.67 41.45,402.63 41.40,401.80 Z" fill="none" stroke="#6c6c6c" stroke-width="14.4"/>
<path d="M41.40,401.80 C41.35,400.97 41.43,400.33 42.30,399.60 C43.17,398.87 44.97,398.08 46.60,397.40 C48.23,396.72 50.43,395.97 52.10,395.50 C53.77,395.03 55.08,394.75 56.60,394.60 C58.12,394.45 59.83,394.37 61.20,394.60 C62.57,394.83 63.75,395.22 64.80,396.00 C65.85,396.78 66.82,397.70 67.50,399.30 C68.18,400.90 68.67,403.33 68.90,405.60 C69.13,407.87 69.13,410.32 68.90,412.90 C68.67,415.48 68.18,418.83 67.50,421.10 C66.82,423.37 66.00,425.07 64.80,426.50 C63.60,427.93 61.97,428.93 60.30,429.70 C58.63,430.47 57.08,430.80 54.80,431.10 C52.52,431.40 49.02,431.65 46.60,431.50 C44.18,431.35 41.97,430.87 40.30,430.20 C38.63,429.53 37.32,428.70 36.60,427.50 C35.88,426.30 35.72,424.35 36.00,423.00 C36.28,421.65 37.27,420.33 38.30,419.40 C39.33,418.47 40.75,418.08 42.20,417.40 C43.65,416.72 45.53,416.05 47.00,415.30 C48.47,414.55 50.10,413.63 51.00,412.90 C51.90,412.17 52.60,411.48 52.40,410.90 C52.20,410.32 50.88,409.98 49.80,409.40 C48.72,408.82 47.10,408.20 45.90,407.40 C44.70,406.60 43.35,405.53 42.60,404.60 C41.85,403.67 41.45,402.63 41.40,401.80 Z" fill="none" stroke="#f4f4f4" stroke-width="12.4"/>
<path d="M41.40,401.80 C41.35,400.97 41.43,400.33 42.30,399.60 C43.17,398.87 44.97,398.08 46.60,397.40 C48.23,396.72 50.43,395.97 52.10,395.50 C53.77,395.03 55.08,394.75 56.60,394.60 C58.12,394.45 59.83,394.37 61.20,394.60 C62.57,394.83 63.75,395.22 64.80,396.00 C65.85,396.78 66.82,397.70 67.50,399.30 C68.18,400.90 68.67,403.33 68.90,405.60 C69.13,407.87 69.13,410.32 68.90,412.90 C68.67,415.48 68.18,418.83 67.50,421.10 C66.82,423.37 66.00,425.07 64.80,426.50 C63.60,427.93 61.97,428.93 60.30,429.70 C58.63,430.47 57.08,430.80 54.80,431.10 C52.52,431.40 49.02,431.65 46.60,431.50 C44.18,431.35 41.97,430.87 40.30,430.20 C38.63,429.53 37.32,428.70 36.60,427.50 C35.88,426.30 35.72,424.35 36.00,423.00 C36.28,421.65 37.27,420.33 38.30,419.40 C39.33,418.47 40.75,418.08 42.20,417.40 C43.65,416.72 45.53,416.05 47.00,415.30 C48.47,414.55 50.10,413.63 51.00,412.90 C51.90,412.17 52.60,411.48 52.40,410.90 C52.20,410.32 50.88,409.98 49.80,409.40 C48.72,408.82 47.10,408.20 45.90,407.40 C44.70,406.60 43.35,405.53 42.60,404.60 C41.85,403.67 41.45,402.63 41.40,401.80 Z" fill="none" stroke="#4e4e4e" stroke-width="11.4"/>
<path d="M41.40,401.80 C41.35,400.97 41.43,400.33 42.30,399.60 C43.17,398.87 44.97,398.08 46.60,397.40 C48.23,396.72 50.43,395.97 52.10,395.50 C53.77,395.03 55.08,394.75 56.60,394.60 C58.12,394.45 59.83,394.37 61.20,394.60 C62.57,394.83 63.75,395.22 64.80,396.00 C65.85,396.78 66.82,397.70 67.50,399.30 C68.18,400.90 68.67,403.33 68.90,405.60 C69.13,407.87 69.13,410.32 68.90,412.90 C68.67,415.48 68.18,418.83 67.50,421.10 C66.82,423.37 66.00,425.07 64.80,426.50 C63.60,427.93 61.97,428.93 60.30,429.70 C58.63,430.47 57.08,430.80 54.80,431.10 C52.52,431.40 49.02,431.65 46.60,431.50 C44.18,431.35 41.97,430.87 40.30,430.20 C38.63,429.53 37.32,428.70 36.60,427.50 C35.88,426.30 35.72,424.35 36.00,423.00 C36.28,421.65 37.27,420.33 38.30,419.40 C39.33,418.47 40.75,418.08 42.20,417.40 C43.65,416.72 45.53,416.05 47.00,415.30 C48.47,414.55 50.10,413.63 51.00,412.90 C51.90,412.17 52.60,411.48 52.40,410.90 C52.20,410.32 50.88,409.98 49.80,409.40 C48.72,408.82 47.10,408.20 45.90,407.40 C44.70,406.60 43.35,405.53 42.60,404.60 C41.85,403.67 41.45,402.63 41.40,401.80 Z" fill="none" stroke="#f4f4f4" stroke-width="8.8"/>
<path d="M41.40,401.80 C41.35,400.97 41.43,400.33 42.30,399.60 C43.17,398.87 44.97,398.08 46.60,397.40 C48.23,396.72 50.43,395.97 52.10,395.50 C53.77,395.03 55.08,394.75 56.60,394.60 C58.12,394.45 59.83,394.37 61.20,394.60 C62.57,394.83 63.75,395.22 64.80,396.00 C65.85,396.78 66.82,397.70 67.50,399.30 C68.18,400.90 68.67,403.33 68.90,405.60 C69.13,407.87 69.13,410.32 68.90,412.90 C68.67,415.48 68.18,418.83 67.50,421.10 C66.82,423.37 66.00,425.07 64.80,426.50 C63.60,427.93 61.97,428.93 60.30,429.70 C58.63,430.47 57.08,430.80 54.80,431.10 C52.52,431.40 49.02,431.65 46.60,431.50 C44.18,431.35 41.97,430.87 40.30,430.20 C38.63,429.53 37.32,428.70 36.60,427.50 C35.88,426.30 35.72,424.35 36.00,423.00 C36.28,421.65 37.27,420.33 38.30,419.40 C39.33,418.47 40.75,418.08 42.20,417.40 C43.65,416.72 45.53,416.05 47.00,415.30 C48.47,414.55 50.10,413.63 51.00,412.90 C51.90,412.17 52.60,411.48 52.40,410.90 C52.20,410.32 50.88,409.98 49.80,409.40 C48.72,408.82 47.10,408.20 45.90,407.40 C44.70,406.60 43.35,405.53 42.60,404.60 C41.85,403.67 41.45,402.63 41.40,401.80 Z" fill="none" stroke="#5a5a5a" stroke-width="7.8"/>
<path d="M41.40,401.80 C41.35,400.97 41.43,400.33 42.30,399.60 C43.17,398.87 44.97,398.08 46.60,397.40 C48.23,396.72 50.43,395.97 52.10,395.50 C53.77,395.03 55.08,394.75 56.60,394.60 C58.12,394.45 59.83,394.37 61.20,394.60 C62.57,394.83 63.75,395.22 64.80,396.00 C65.85,396.78 66.82,397.70 67.50,399.30 C68.18,400.90 68.67,403.33 68.90,405.60 C69.13,407.87 69.13,410.32 68.90,412.90 C68.67,415.48 68.18,418.83 67.50,421.10 C66.82,423.37 66.00,425.07 64.80,426.50 C63.60,427.93 61.97,428.93 60.30,429.70 C58.63,430.47 57.08,430.80 54.80,431.10 C52.52,431.40 49.02,431.65 46.60,431.50 C44.18,431.35 41.97,430.87 40.30,430.20 C38.63,429.53 37.32,428.70 36.60,427.50 C35.88,426.30 35.72,424.35 36.00,423.00 C36.28,421.65 37.27,420.33 38.30,419.40 C39.33,418.47 40.75,418.08 42.20,417.40 C43.65,416.72 45.53,416.05 47.00,415.30 C48.47,414.55 50.10,413.63 51.00,412.90 C51.90,412.17 52.60,411.48 52.40,410.90 C52.20,410.32 50.88,409.98 49.80,409.40 C48.72,408.82 47.10,408.20 45.90,407.40 C44.70,406.60 43.35,405.53 42.60,404.60 C41.85,403.67 41.45,402.63 41.40,401.80 Z" fill="none" stroke="#f0f0f0" stroke-width="5.6"/>
<path d="M41.40,401.80 C41.35,400.97 41.43,400.33 42.30,399.60 C43.17,398.87 44.97,398.08 46.60,397.40 C48.23,396.72 50.43,395.97 52.10,395.50 C53.77,395.03 55.08,394.75 56.60,394.60 C58.12,394.45 59.83,394.37 61.20,394.60 C62.57,394.83 63.75,395.22 64.80,396.00 C65.85,396.78 66.82,397.70 67.50,399.30 C68.18,400.90 68.67,403.33 68.90,405.60 C69.13,407.87 69.13,410.32 68.90,412.90 C68.67,415.48 68.18,418.83 67.50,421.10 C66.82,423.37 66.00,425.07 64.80,426.50 C63.60,427.93 61.97,428.93 60.30,429.70 C58.63,430.47 57.08,430.80 54.80,431.10 C52.52,431.40 49.02,431.65 46.60,431.50 C44.18,431.35 41.97,430.87 40.30,430.20 C38.63,429.53 37.32,428.70 36.60,427.50 C35.88,426.30 35.72,424.35 36.00,423.00 C36.28,421.65 37.27,420.33 38.30,419.40 C39.33,418.47 40.75,418.08 42.20,417.40 C43.65,416.72 45.53,416.05 47.00,415.30 C48.47,414.55 50.10,413.63 51.00,412.90 C51.90,412.17 52.60,411.48 52.40,410.90 C52.20,410.32 50.88,409.98 49.80,409.40 C48.72,408.82 47.10,408.20 45.90,407.40 C44.70,406.60 43.35,405.53 42.60,404.60 C41.85,403.67 41.45,402.63 41.40,401.80 Z" fill="none" stroke="#8a8a8a" stroke-width="4.6"/>
<path d="M41.40,401.80 C41.35,400.97 41.43,400.33 42.30,399.60 C43.17,398.87 44.97,398.08 46.60,397.40 C48.23,396.72 50.43,395.97 52.10,395.50 C53.77,395.03 55.08,394.75 56.60,394.60 C58.12,394.45 59.83,394.37 61.20,394.60 C62.57,394.83 63.75,395.22 64.80,396.00 C65.85,396.78 66.82,397.70 67.50,399.30 C68.18,400.90 68.67,403.33 68.90,405.60 C69.13,407.87 69.13,410.32 68.90,412.90 C68.67,415.48 68.18,418.83 67.50,421.10 C66.82,423.37 66.00,425.07 64.80,426.50 C63.60,427.93 61.97,428.93 60.30,429.70 C58.63,430.47 57.08,430.80 54.80,431.10 C52.52,431.40 49.02,431.65 46.60,431.50 C44.18,431.35 41.97,430.87 40.30,430.20 C38.63,429.53 37.32,428.70 36.60,427.50 C35.88,426.30 35.72,424.35 36.00,423.00 C36.28,421.65 37.27,420.33 38.30,419.40 C39.33,418.47 40.75,418.08 42.20,417.40 C43.65,416.72 45.53,416.05 47.00,415.30 C48.47,414.55 50.10,413.63 51.00,412.90 C51.90,412.17 52.60,411.48 52.40,410.90 C52.20,410.32 50.88,409.98 49.80,409.40 C48.72,408.82 47.10,408.20 45.90,407.40 C44.70,406.60 43.35,405.53 42.60,404.60 C41.85,403.67 41.45,402.63 41.40,401.80 Z" fill="none" stroke="#bcbcbc" stroke-width="3.4"/>
<path d="M41.40,401.80 C41.35,400.97 41.43,400.33 42.30,399.60 C43.17,398.87 44.97,398.08 46.60,397.40 C48.23,396.72 50.43,395.97 52.10,395.50 C53.77,395.03 55.08,394.75 56.60,394.60 C58.12,394.45 59.83,394.37 61.20,394.60 C62.57,394.83 63.75,395.22 64.80,396.00 C65.85,396.78 66.82,397.70 67.50,399.30 C68.18,400.90 68.67,403.33 68.90,405.60 C69.13,407.87 69.13,410.32 68.90,412.90 C68.67,415.48 68.18,418.83 67.50,421.10 C66.82,423.37 66.00,425.07 64.80,426.50 C63.60,427.93 61.97,428.93 60.30,429.70 C58.63,430.47 57.08,430.80 54.80,431.10 C52.52,431.40 49.02,431.65 46.60,431.50 C44.18,431.35 41.97,430.87 40.30,430.20 C38.63,429.53 37.32,428.70 36.60,427.50 C35.88,426.30 35.72,424.35 36.00,423.00 C36.28,421.65 37.27,420.33 38.30,419.40 C39.33,418.47 40.75,418.08 42.20,417.40 C43.65,416.72 45.53,416.05 47.00,415.30 C48.47,414.55 50.10,413.63 51.00,412.90 C51.90,412.17 52.60,411.48 52.40,410.90 C52.20,410.32 50.88,409.98 49.80,409.40 C48.72,408.82 47.10,408.20 45.90,407.40 C44.70,406.60 43.35,405.53 42.60,404.60 C41.85,403.67 41.45,402.63 41.40,401.80 Z" fill="none" stroke="#111" stroke-width="2.4"/>
<ellipse cx="60.6" cy="404.2" rx="3.6" ry="5.2" fill="#7a7a7a" stroke="#f4f4f4" stroke-width="0.7"/>
<ellipse cx="60.6" cy="403.6" rx="1.9" ry="2.8" fill="#9a9a9a" stroke="#fafafa" stroke-width="0.6"/>
<ellipse cx="60.8" cy="403.2" rx="0.8" ry="1.1" fill="#eee"/>
<ellipse cx="45" cy="425" rx="7.2" ry="4.2" fill="#6a6a6a" stroke="#e6e6e6" stroke-width="0.6"/>
<ellipse cx="44.3" cy="424.9" rx="4.6" ry="2.7" fill="#4a4a4a"/>
<ellipse cx="43.9" cy="424.8" rx="2.4" ry="1.5" fill="#151515"/>
<circle cx="50.3" cy="425.2" r="0.9" fill="#fff"/>
</g>
<path d="M47.5,414.6 C50,413.6 51.8,412.4 52.2,410.9 C51.6,410 49.5,409.2 47.5,408.2" fill="none" stroke="#000" stroke-width="2.0"/>
<clipPath id="gclip2"><path d="M120.10,401.80 C120.05,400.97 120.13,400.33 121.00,399.60 C121.87,398.87 123.67,398.08 125.30,397.40 C126.93,396.72 129.13,395.97 130.80,395.50 C132.47,395.03 133.78,394.75 135.30,394.60 C136.82,394.45 138.53,394.37 139.90,394.60 C141.27,394.83 142.45,395.22 143.50,396.00 C144.55,396.78 145.52,397.70 146.20,399.30 C146.88,400.90 147.37,403.33 147.60,405.60 C147.83,407.87 147.83,410.32 147.60,412.90 C147.37,415.48 146.88,418.83 146.20,421.10 C145.52,423.37 144.70,425.07 143.50,426.50 C142.30,427.93 140.67,428.93 139.00,429.70 C137.33,430.47 135.78,430.80 133.50,431.10 C131.22,431.40 127.72,431.65 125.30,431.50 C122.88,431.35 120.67,430.87 119.00,430.20 C117.33,429.53 116.02,428.70 115.30,427.50 C114.58,426.30 114.42,424.35 114.70,423.00 C114.98,421.65 115.97,420.33 117.00,419.40 C118.03,418.47 119.45,418.08 120.90,417.40 C122.35,416.72 124.23,416.05 125.70,415.30 C127.17,414.55 128.80,413.63 129.70,412.90 C130.60,412.17 131.30,411.48 131.10,410.90 C130.90,410.32 129.58,409.98 128.50,409.40 C127.42,408.82 125.80,408.20 124.60,407.40 C123.40,406.60 122.05,405.53 121.30,404.60 C120.55,403.67 120.15,402.63 120.10,401.80 Z"/></clipPath>
<g clip-path="url(#gclip2)">
<path d="M120.10,401.80 C120.05,400.97 120.13,400.33 121.00,399.60 C121.87,398.87 123.67,398.08 125.30,397.40 C126.93,396.72 129.13,395.97 130.80,395.50 C132.47,395.03 133.78,394.75 135.30,394.60 C136.82,394.45 138.53,394.37 139.90,394.60 C141.27,394.83 142.45,395.22 143.50,396.00 C144.55,396.78 145.52,397.70 146.20,399.30 C146.88,400.90 147.37,403.33 147.60,405.60 C147.83,407.87 147.83,410.32 147.60,412.90 C147.37,415.48 146.88,418.83 146.20,421.10 C145.52,423.37 144.70,425.07 143.50,426.50 C142.30,427.93 140.67,428.93 139.00,429.70 C137.33,430.47 135.78,430.80 133.50,431.10 C131.22,431.40 127.72,431.65 125.30,431.50 C122.88,431.35 120.67,430.87 119.00,430.20 C117.33,429.53 116.02,428.70 115.30,427.50 C114.58,426.30 114.42,424.35 114.70,423.00 C114.98,421.65 115.97,420.33 117.00,419.40 C118.03,418.47 119.45,418.08 120.90,417.40 C122.35,416.72 124.23,416.05 125.70,415.30 C127.17,414.55 128.80,413.63 129.70,412.90 C130.60,412.17 131.30,411.48 131.10,410.90 C130.90,410.32 129.58,409.98 128.50,409.40 C127.42,408.82 125.80,408.20 124.60,407.40 C123.40,406.60 122.05,405.53 121.30,404.60 C120.55,403.67 120.15,402.63 120.10,401.80 Z" fill="#8e8e8e"/>
<path d="M120.10,401.80 C120.05,400.97 120.13,400.33 121.00,399.60 C121.87,398.87 123.67,398.08 125.30,397.40 C126.93,396.72 129.13,395.97 130.80,395.50 C132.47,395.03 133.78,394.75 135.30,394.60 C136.82,394.45 138.53,394.37 139.90,394.60 C141.27,394.83 142.45,395.22 143.50,396.00 C144.55,396.78 145.52,397.70 146.20,399.30 C146.88,400.90 147.37,403.33 147.60,405.60 C147.83,407.87 147.83,410.32 147.60,412.90 C147.37,415.48 146.88,418.83 146.20,421.10 C145.52,423.37 144.70,425.07 143.50,426.50 C142.30,427.93 140.67,428.93 139.00,429.70 C137.33,430.47 135.78,430.80 133.50,431.10 C131.22,431.40 127.72,431.65 125.30,431.50 C122.88,431.35 120.67,430.87 119.00,430.20 C117.33,429.53 116.02,428.70 115.30,427.50 C114.58,426.30 114.42,424.35 114.70,423.00 C114.98,421.65 115.97,420.33 117.00,419.40 C118.03,418.47 119.45,418.08 120.90,417.40 C122.35,416.72 124.23,416.05 125.70,415.30 C127.17,414.55 128.80,413.63 129.70,412.90 C130.60,412.17 131.30,411.48 131.10,410.90 C130.90,410.32 129.58,409.98 128.50,409.40 C127.42,408.82 125.80,408.20 124.60,407.40 C123.40,406.60 122.05,405.53 121.30,404.60 C120.55,403.67 120.15,402.63 120.10,401.80 Z" fill="none" stroke="#f0f0f0" stroke-width="15.4"/>
<path d="M120.10,401.80 C120.05,400.97 120.13,400.33 121.00,399.60 C121.87,398.87 123.67,398.08 125.30,397.40 C126.93,396.72 129.13,395.97 130.80,395.50 C132.47,395.03 133.78,394.75 135.30,394.60 C136.82,394.45 138.53,394.37 139.90,394.60 C141.27,394.83 142.45,395.22 143.50,396.00 C144.55,396.78 145.52,397.70 146.20,399.30 C146.88,400.90 147.37,403.33 147.60,405.60 C147.83,407.87 147.83,410.32 147.60,412.90 C147.37,415.48 146.88,418.83 146.20,421.10 C145.52,423.37 144.70,425.07 143.50,426.50 C142.30,427.93 140.67,428.93 139.00,429.70 C137.33,430.47 135.78,430.80 133.50,431.10 C131.22,431.40 127.72,431.65 125.30,431.50 C122.88,431.35 120.67,430.87 119.00,430.20 C117.33,429.53 116.02,428.70 115.30,427.50 C114.58,426.30 114.42,424.35 114.70,423.00 C114.98,421.65 115.97,420.33 117.00,419.40 C118.03,418.47 119.45,418.08 120.90,417.40 C122.35,416.72 124.23,416.05 125.70,415.30 C127.17,414.55 128.80,413.63 129.70,412.90 C130.60,412.17 131.30,411.48 131.10,410.90 C130.90,410.32 129.58,409.98 128.50,409.40 C127.42,408.82 125.80,408.20 124.60,407.40 C123.40,406.60 122.05,405.53 121.30,404.60 C120.55,403.67 120.15,402.63 120.10,401.80 Z" fill="none" stroke="#6c6c6c" stroke-width="14.4"/>
<path d="M120.10,401.80 C120.05,400.97 120.13,400.33 121.00,399.60 C121.87,398.87 123.67,398.08 125.30,397.40 C126.93,396.72 129.13,395.97 130.80,395.50 C132.47,395.03 133.78,394.75 135.30,394.60 C136.82,394.45 138.53,394.37 139.90,394.60 C141.27,394.83 142.45,395.22 143.50,396.00 C144.55,396.78 145.52,397.70 146.20,399.30 C146.88,400.90 147.37,403.33 147.60,405.60 C147.83,407.87 147.83,410.32 147.60,412.90 C147.37,415.48 146.88,418.83 146.20,421.10 C145.52,423.37 144.70,425.07 143.50,426.50 C142.30,427.93 140.67,428.93 139.00,429.70 C137.33,430.47 135.78,430.80 133.50,431.10 C131.22,431.40 127.72,431.65 125.30,431.50 C122.88,431.35 120.67,430.87 119.00,430.20 C117.33,429.53 116.02,428.70 115.30,427.50 C114.58,426.30 114.42,424.35 114.70,423.00 C114.98,421.65 115.97,420.33 117.00,419.40 C118.03,418.47 119.45,418.08 120.90,417.40 C122.35,416.72 124.23,416.05 125.70,415.30 C127.17,414.55 128.80,413.63 129.70,412.90 C130.60,412.17 131.30,411.48 131.10,410.90 C130.90,410.32 129.58,409.98 128.50,409.40 C127.42,408.82 125.80,408.20 124.60,407.40 C123.40,406.60 122.05,405.53 121.30,404.60 C120.55,403.67 120.15,402.63 120.10,401.80 Z" fill="none" stroke="#f4f4f4" stroke-width="12.4"/>
<path d="M120.10,401.80 C120.05,400.97 120.13,400.33 121.00,399.60 C121.87,398.87 123.67,398.08 125.30,397.40 C126.93,396.72 129.13,395.97 130.80,395.50 C132.47,395.03 133.78,394.75 135.30,394.60 C136.82,394.45 138.53,394.37 139.90,394.60 C141.27,394.83 142.45,395.22 143.50,396.00 C144.55,396.78 145.52,397.70 146.20,399.30 C146.88,400.90 147.37,403.33 147.60,405.60 C147.83,407.87 147.83,410.32 147.60,412.90 C147.37,415.48 146.88,418.83 146.20,421.10 C145.52,423.37 144.70,425.07 143.50,426.50 C142.30,427.93 140.67,428.93 139.00,429.70 C137.33,430.47 135.78,430.80 133.50,431.10 C131.22,431.40 127.72,431.65 125.30,431.50 C122.88,431.35 120.67,430.87 119.00,430.20 C117.33,429.53 116.02,428.70 115.30,427.50 C114.58,426.30 114.42,424.35 114.70,423.00 C114.98,421.65 115.97,420.33 117.00,419.40 C118.03,418.47 119.45,418.08 120.90,417.40 C122.35,416.72 124.23,416.05 125.70,415.30 C127.17,414.55 128.80,413.63 129.70,412.90 C130.60,412.17 131.30,411.48 131.10,410.90 C130.90,410.32 129.58,409.98 128.50,409.40 C127.42,408.82 125.80,408.20 124.60,407.40 C123.40,406.60 122.05,405.53 121.30,404.60 C120.55,403.67 120.15,402.63 120.10,401.80 Z" fill="none" stroke="#4e4e4e" stroke-width="11.4"/>
<path d="M120.10,401.80 C120.05,400.97 120.13,400.33 121.00,399.60 C121.87,398.87 123.67,398.08 125.30,397.40 C126.93,396.72 129.13,395.97 130.80,395.50 C132.47,395.03 133.78,394.75 135.30,394.60 C136.82,394.45 138.53,394.37 139.90,394.60 C141.27,394.83 142.45,395.22 143.50,396.00 C144.55,396.78 145.52,397.70 146.20,399.30 C146.88,400.90 147.37,403.33 147.60,405.60 C147.83,407.87 147.83,410.32 147.60,412.90 C147.37,415.48 146.88,418.83 146.20,421.10 C145.52,423.37 144.70,425.07 143.50,426.50 C142.30,427.93 140.67,428.93 139.00,429.70 C137.33,430.47 135.78,430.80 133.50,431.10 C131.22,431.40 127.72,431.65 125.30,431.50 C122.88,431.35 120.67,430.87 119.00,430.20 C117.33,429.53 116.02,428.70 115.30,427.50 C114.58,426.30 114.42,424.35 114.70,423.00 C114.98,421.65 115.97,420.33 117.00,419.40 C118.03,418.47 119.45,418.08 120.90,417.40 C122.35,416.72 124.23,416.05 125.70,415.30 C127.17,414.55 128.80,413.63 129.70,412.90 C130.60,412.17 131.30,411.48 131.10,410.90 C130.90,410.32 129.58,409.98 128.50,409.40 C127.42,408.82 125.80,408.20 124.60,407.40 C123.40,406.60 122.05,405.53 121.30,404.60 C120.55,403.67 120.15,402.63 120.10,401.80 Z" fill="none" stroke="#f4f4f4" stroke-width="8.8"/>
<path d="M120.10,401.80 C120.05,400.97 120.13,400.33 121.00,399.60 C121.87,398.87 123.67,398.08 125.30,397.40 C126.93,396.72 129.13,395.97 130.80,395.50 C132.47,395.03 133.78,394.75 135.30,394.60 C136.82,394.45 138.53,394.37 139.90,394.60 C141.27,394.83 142.45,395.22 143.50,396.00 C144.55,396.78 145.52,397.70 146.20,399.30 C146.88,400.90 147.37,403.33 147.60,405.60 C147.83,407.87 147.83,410.32 147.60,412.90 C147.37,415.48 146.88,418.83 146.20,421.10 C145.52,423.37 144.70,425.07 143.50,426.50 C142.30,427.93 140.67,428.93 139.00,429.70 C137.33,430.47 135.78,430.80 133.50,431.10 C131.22,431.40 127.72,431.65 125.30,431.50 C122.88,431.35 120.67,430.87 119.00,430.20 C117.33,429.53 116.02,428.70 115.30,427.50 C114.58,426.30 114.42,424.35 114.70,423.00 C114.98,421.65 115.97,420.33 117.00,419.40 C118.03,418.47 119.45,418.08 120.90,417.40 C122.35,416.72 124.23,416.05 125.70,415.30 C127.17,414.55 128.80,413.63 129.70,412.90 C130.60,412.17 131.30,411.48 131.10,410.90 C130.90,410.32 129.58,409.98 128.50,409.40 C127.42,408.82 125.80,408.20 124.60,407.40 C123.40,406.60 122.05,405.53 121.30,404.60 C120.55,403.67 120.15,402.63 120.10,401.80 Z" fill="none" stroke="#5a5a5a" stroke-width="7.8"/>
<path d="M120.10,401.80 C120.05,400.97 120.13,400.33 121.00,399.60 C121.87,398.87 123.67,398.08 125.30,397.40 C126.93,396.72 129.13,395.97 130.80,395.50 C132.47,395.03 133.78,394.75 135.30,394.60 C136.82,394.45 138.53,394.37 139.90,394.60 C141.27,394.83 142.45,395.22 143.50,396.00 C144.55,396.78 145.52,397.70 146.20,399.30 C146.88,400.90 147.37,403.33 147.60,405.60 C147.83,407.87 147.83,410.32 147.60,412.90 C147.37,415.48 146.88,418.83 146.20,421.10 C145.52,423.37 144.70,425.07 143.50,426.50 C142.30,427.93 140.67,428.93 139.00,429.70 C137.33,430.47 135.78,430.80 133.50,431.10 C131.22,431.40 127.72,431.65 125.30,431.50 C122.88,431.35 120.67,430.87 119.00,430.20 C117.33,429.53 116.02,428.70 115.30,427.50 C114.58,426.30 114.42,424.35 114.70,423.00 C114.98,421.65 115.97,420.33 117.00,419.40 C118.03,418.47 119.45,418.08 120.90,417.40 C122.35,416.72 124.23,416.05 125.70,415.30 C127.17,414.55 128.80,413.63 129.70,412.90 C130.60,412.17 131.30,411.48 131.10,410.90 C130.90,410.32 129.58,409.98 128.50,409.40 C127.42,408.82 125.80,408.20 124.60,407.40 C123.40,406.60 122.05,405.53 121.30,404.60 C120.55,403.67 120.15,402.63 120.10,401.80 Z" fill="none" stroke="#f0f0f0" stroke-width="5.6"/>
<path d="M120.10,401.80 C120.05,400.97 120.13,400.33 121.00,399.60 C121.87,398.87 123.67,398.08 125.30,397.40 C126.93,396.72 129.13,395.97 130.80,395.50 C132.47,395.03 133.78,394.75 135.30,394.60 C136.82,394.45 138.53,394.37 139.90,394.60 C141.27,394.83 142.45,395.22 143.50,396.00 C144.55,396.78 145.52,397.70 146.20,399.30 C146.88,400.90 147.37,403.33 147.60,405.60 C147.83,407.87 147.83,410.32 147.60,412.90 C147.37,415.48 146.88,418.83 146.20,421.10 C145.52,423.37 144.70,425.07 143.50,426.50 C142.30,427.93 140.67,428.93 139.00,429.70 C137.33,430.47 135.78,430.80 133.50,431.10 C131.22,431.40 127.72,431.65 125.30,431.50 C122.88,431.35 120.67,430.87 119.00,430.20 C117.33,429.53 116.02,428.70 115.30,427.50 C114.58,426.30 114.42,424.35 114.70,423.00 C114.98,421.65 115.97,420.33 117.00,419.40 C118.03,418.47 119.45,418.08 120.90,417.40 C122.35,416.72 124.23,416.05 125.70,415.30 C127.17,414.55 128.80,413.63 129.70,412.90 C130.60,412.17 131.30,411.48 131.10,410.90 C130.90,410.32 129.58,409.98 128.50,409.40 C127.42,408.82 125.80,408.20 124.60,407.40 C123.40,406.60 122.05,405.53 121.30,404.60 C120.55,403.67 120.15,402.63 120.10,401.80 Z" fill="none" stroke="#8a8a8a" stroke-width="4.6"/>
<path d="M120.10,401.80 C120.05,400.97 120.13,400.33 121.00,399.60 C121.87,398.87 123.67,398.08 125.30,397.40 C126.93,396.72 129.13,395.97 130.80,395.50 C132.47,395.03 133.78,394.75 135.30,394.60 C136.82,394.45 138.53,394.37 139.90,394.60 C141.27,394.83 142.45,395.22 143.50,396.00 C144.55,396.78 145.52,397.70 146.20,399.30 C146.88,400.90 147.37,403.33 147.60,405.60 C147.83,407.87 147.83,410.32 147.60,412.90 C147.37,415.48 146.88,418.83 146.20,421.10 C145.52,423.37 144.70,425.07 143.50,426.50 C142.30,427.93 140.67,428.93 139.00,429.70 C137.33,430.47 135.78,430.80 133.50,431.10 C131.22,431.40 127.72,431.65 125.30,431.50 C122.88,431.35 120.67,430.87 119.00,430.20 C117.33,429.53 116.02,428.70 115.30,427.50 C114.58,426.30 114.42,424.35 114.70,423.00 C114.98,421.65 115.97,420.33 117.00,419.40 C118.03,418.47 119.45,418.08 120.90,417.40 C122.35,416.72 124.23,416.05 125.70,415.30 C127.17,414.55 128.80,413.63 129.70,412.90 C130.60,412.17 131.30,411.48 131.10,410.90 C130.90,410.32 129.58,409.98 128.50,409.40 C127.42,408.82 125.80,408.20 124.60,407.40 C123.40,406.60 122.05,405.53 121.30,404.60 C120.55,403.67 120.15,402.63 120.10,401.80 Z" fill="none" stroke="#bcbcbc" stroke-width="3.4"/>
<path d="M120.10,401.80 C120.05,400.97 120.13,400.33 121.00,399.60 C121.87,398.87 123.67,398.08 125.30,397.40 C126.93,396.72 129.13,395.97 130.80,395.50 C132.47,395.03 133.78,394.75 135.30,394.60 C136.82,394.45 138.53,394.37 139.90,394.60 C141.27,394.83 142.45,395.22 143.50,396.00 C144.55,396.78 145.52,397.70 146.20,399.30 C146.88,400.90 147.37,403.33 147.60,405.60 C147.83,407.87 147.83,410.32 147.60,412.90 C147.37,415.48 146.88,418.83 146.20,421.10 C145.52,423.37 144.70,425.07 143.50,426.50 C142.30,427.93 140.67,428.93 139.00,429.70 C137.33,430.47 135.78,430.80 133.50,431.10 C131.22,431.40 127.72,431.65 125.30,431.50 C122.88,431.35 120.67,430.87 119.00,430.20 C117.33,429.53 116.02,428.70 115.30,427.50 C114.58,426.30 114.42,424.35 114.70,423.00 C114.98,421.65 115.97,420.33 117.00,419.40 C118.03,418.47 119.45,418.08 120.90,417.40 C122.35,416.72 124.23,416.05 125.70,415.30 C127.17,414.55 128.80,413.63 129.70,412.90 C130.60,412.17 131.30,411.48 131.10,410.90 C130.90,410.32 129.58,409.98 128.50,409.40 C127.42,408.82 125.80,408.20 124.60,407.40 C123.40,406.60 122.05,405.53 121.30,404.60 C120.55,403.67 120.15,402.63 120.10,401.80 Z" fill="none" stroke="#111" stroke-width="2.4"/>
<ellipse cx="139.3" cy="404.2" rx="3.6" ry="5.2" fill="#7a7a7a" stroke="#f4f4f4" stroke-width="0.7"/>
<ellipse cx="139.3" cy="403.6" rx="1.9" ry="2.8" fill="#9a9a9a" stroke="#fafafa" stroke-width="0.6"/>
<ellipse cx="139.5" cy="403.2" rx="0.8" ry="1.1" fill="#eee"/>
<ellipse cx="123.7" cy="425" rx="7.2" ry="4.2" fill="#6a6a6a" stroke="#e6e6e6" stroke-width="0.6"/>
<ellipse cx="123.0" cy="424.9" rx="4.6" ry="2.7" fill="#4a4a4a"/>
<ellipse cx="122.6" cy="424.8" rx="2.4" ry="1.5" fill="#151515"/>
<circle cx="129.0" cy="425.2" r="0.9" fill="#fff"/>
</g>
<path d="M126.2,414.6 C128.7,413.6 130.5,412.4 130.9,410.9 C130.3,410 128.2,409.2 126.2,408.2" fill="none" stroke="#000" stroke-width="2.0"/>
<path d="M52.4,412.5 L52.4,387.7 L76.6,387.7 L76.6,433.1 L27.6,433.1 L27.6,412.5 L76.6,412.5 M52.4,412.5 L52.4,433.1" fill="none" stroke="#3a3a3a" stroke-width="0.85"/>
<path d="M130.7,412.3 L130.7,388.1 L154.6,388.1 L154.6,433.1 L106.1,433.1 L106.1,412.3 L154.6,412.3 M130.7,412.3 L130.7,433.1" fill="none" stroke="#3a3a3a" stroke-width="0.85"/>
<text x="65.3" y="375.9" font-size="9.89" text-anchor="middle" textLength="16.5" lengthAdjust="spacingAndGlyphs" >GMP</text>
<text x="64.8" y="384.8" font-size="9.89" text-anchor="middle" textLength="13" lengthAdjust="spacingAndGlyphs" >33.1</text>
<text x="35" y="402.1" font-size="9.89" text-anchor="middle" textLength="14" lengthAdjust="spacingAndGlyphs" >MEP</text>
<text x="35.4" y="410.8" font-size="9.89" text-anchor="middle" textLength="13" lengthAdjust="spacingAndGlyphs" >37.6</text>
<text x="86.1" y="422.7" font-size="9.89" text-anchor="middle" textLength="15.5" lengthAdjust="spacingAndGlyphs" >CMP</text>
<text x="86.5" y="432.3" font-size="9.89" text-anchor="middle" textLength="13.5" lengthAdjust="spacingAndGlyphs" >25.6</text>
<text x="144.6" y="375.9" font-size="9.89" text-anchor="middle" textLength="16.5" lengthAdjust="spacingAndGlyphs" >GMP</text>
<text x="144" y="384.8" font-size="9.89" text-anchor="middle" textLength="13.5" lengthAdjust="spacingAndGlyphs" >37.1</text>
<text x="113.8" y="402.1" font-size="9.89" text-anchor="middle" textLength="14" lengthAdjust="spacingAndGlyphs" >MEP</text>
<text x="113.8" y="410.8" font-size="9.89" text-anchor="middle" textLength="13.5" lengthAdjust="spacingAndGlyphs" >41.6</text>
<text x="163.2" y="422.7" font-size="9.89" text-anchor="middle" textLength="15.5" lengthAdjust="spacingAndGlyphs" >CMP</text>
<text x="163.2" y="432.3" font-size="9.89" text-anchor="middle" textLength="13.8" lengthAdjust="spacingAndGlyphs" >17.6</text>
<text x="238.4" y="344" font-size="9.7" text-anchor="middle" textLength="13.5" lengthAdjust="spacingAndGlyphs" >WT</text>
<text x="297.7" y="344.5" font-size="9.7" textLength="26.5" lengthAdjust="spacingAndGlyphs" >SRC-3</text>
<text x="324.6" y="341.0" font-size="8.28" textLength="8.6" lengthAdjust="spacingAndGlyphs" >-/-</text>
<text x="237.2" y="358.2" font-size="9.3" textLength="11.2" lengthAdjust="spacingAndGlyphs" >Lin</text>
<text x="254.5" y="358.2" font-size="9.3" textLength="28.8" lengthAdjust="spacingAndGlyphs" >CD127</text>
<text x="292.9" y="358.2" font-size="9.3" textLength="26.3" lengthAdjust="spacingAndGlyphs" >Gated</text>
<text x="249.8" y="353.9" font-size="6.67" textLength="2.4" lengthAdjust="spacingAndGlyphs" >-</text>
<text x="285.3" y="354.8" font-size="6.67" textLength="2.4" lengthAdjust="spacingAndGlyphs" >+</text>
<line x1="196.8" y1="436.2" x2="196.8" y2="365.8" stroke="#111" stroke-width="1.6"/>
<path d="M194.60000000000002,366.3 L196.8,361.8 L199.0,366.3 Z" fill="#111"/>
<line x1="201.6" y1="441.2" x2="351.6" y2="441.2" stroke="#111" stroke-width="1.7"/>
<path d="M351.1,439.0 L355.6,441.2 L351.1,443.4 Z" fill="#111"/>
<text x="0" y="0" transform="translate(191.4,402.0) rotate(-90)" font-size="10.35" text-anchor="middle" textLength="13.8" lengthAdjust="spacingAndGlyphs" >c-Kit</text>
<text x="277.1" y="453.1" font-size="10.92" text-anchor="middle" textLength="14.5" lengthAdjust="spacingAndGlyphs" >Sca1</text>
<rect x="201.5" y="361.6" width="73.9" height="75.2" fill="none" stroke="#9a9a9a" stroke-width="0.8"/>
<line x1="201.5" y1="372.34285714285716" x2="203.0" y2="372.34285714285716" stroke="#777" stroke-width="0.6"/>
<line x1="201.5" y1="383.0857142857143" x2="203.0" y2="383.0857142857143" stroke="#777" stroke-width="0.6"/>
<line x1="201.5" y1="393.8285714285714" x2="203.0" y2="393.8285714285714" stroke="#777" stroke-width="0.6"/>
<line x1="201.5" y1="404.5714285714286" x2="203.0" y2="404.5714285714286" stroke="#777" stroke-width="0.6"/>
<line x1="201.5" y1="415.31428571428575" x2="203.0" y2="415.31428571428575" stroke="#777" stroke-width="0.6"/>
<line x1="201.5" y1="426.0571428571429" x2="203.0" y2="426.0571428571429" stroke="#777" stroke-width="0.6"/>
<line x1="212.05714285714285" y1="436.8" x2="212.05714285714285" y2="435.3" stroke="#777" stroke-width="0.6"/>
<line x1="222.6142857142857" y1="436.8" x2="222.6142857142857" y2="435.3" stroke="#777" stroke-width="0.6"/>
<line x1="233.17142857142855" y1="436.8" x2="233.17142857142855" y2="435.3" stroke="#777" stroke-width="0.6"/>
<line x1="243.7285714285714" y1="436.8" x2="243.7285714285714" y2="435.3" stroke="#777" stroke-width="0.6"/>
<line x1="254.28571428571428" y1="436.8" x2="254.28571428571428" y2="435.3" stroke="#777" stroke-width="0.6"/>
<line x1="264.8428571428571" y1="436.8" x2="264.8428571428571" y2="435.3" stroke="#777" stroke-width="0.6"/>
<rect x="280.0" y="361.6" width="74.2" height="75.2" fill="none" stroke="#9a9a9a" stroke-width="0.8"/>
<line x1="280.0" y1="372.34285714285716" x2="281.5" y2="372.34285714285716" stroke="#777" stroke-width="0.6"/>
<line x1="280.0" y1="383.0857142857143" x2="281.5" y2="383.0857142857143" stroke="#777" stroke-width="0.6"/>
<line x1="280.0" y1="393.8285714285714" x2="281.5" y2="393.8285714285714" stroke="#777" stroke-width="0.6"/>
<line x1="280.0" y1="404.5714285714286" x2="281.5" y2="404.5714285714286" stroke="#777" stroke-width="0.6"/>
<line x1="280.0" y1="415.31428571428575" x2="281.5" y2="415.31428571428575" stroke="#777" stroke-width="0.6"/>
<line x1="280.0" y1="426.0571428571429" x2="281.5" y2="426.0571428571429" stroke="#777" stroke-width="0.6"/>
<line x1="290.6" y1="436.8" x2="290.6" y2="435.3" stroke="#777" stroke-width="0.6"/>
<line x1="301.2" y1="436.8" x2="301.2" y2="435.3" stroke="#777" stroke-width="0.6"/>
<line x1="311.8" y1="436.8" x2="311.8" y2="435.3" stroke="#777" stroke-width="0.6"/>
<line x1="322.4" y1="436.8" x2="322.4" y2="435.3" stroke="#777" stroke-width="0.6"/>
<line x1="333.0" y1="436.8" x2="333.0" y2="435.3" stroke="#777" stroke-width="0.6"/>
<line x1="343.59999999999997" y1="436.8" x2="343.59999999999997" y2="435.3" stroke="#777" stroke-width="0.6"/>
<circle cx="226.1" cy="423.0" r="0.44" fill="#a0a0a0" fill-opacity="0.48"/><circle cx="222.5" cy="397.4" r="0.48" fill="#a0a0a0" fill-opacity="0.39"/><circle cx="211.5" cy="398.2" r="0.41" fill="#a0a0a0" fill-opacity="0.54"/><circle cx="223.9" cy="400.3" r="0.43" fill="#a0a0a0" fill-opacity="0.56"/><circle cx="244.4" cy="415.2" r="0.46" fill="#a0a0a0" fill-opacity="0.56"/><circle cx="253.9" cy="430.3" r="0.44" fill="#a0a0a0" fill-opacity="0.64"/><circle cx="237.9" cy="420.7" r="0.51" fill="#a0a0a0" fill-opacity="0.48"/><circle cx="223.5" cy="412.7" r="0.46" fill="#a0a0a0" fill-opacity="0.49"/><circle cx="216.8" cy="415.9" r="0.38" fill="#a0a0a0" fill-opacity="0.36"/><circle cx="239.7" cy="407.6" r="0.48" fill="#a0a0a0" fill-opacity="0.26"/><circle cx="249.9" cy="420.4" r="0.36" fill="#a0a0a0" fill-opacity="0.51"/><circle cx="215.7" cy="393.6" r="0.48" fill="#a0a0a0" fill-opacity="0.64"/><circle cx="247.2" cy="413.0" r="0.52" fill="#a0a0a0" fill-opacity="0.29"/><circle cx="252.6" cy="419.3" r="0.48" fill="#a0a0a0" fill-opacity="0.53"/><circle cx="221.2" cy="420.0" r="0.46" fill="#a0a0a0" fill-opacity="0.43"/><circle cx="211.8" cy="426.8" r="0.41" fill="#a0a0a0" fill-opacity="0.62"/><circle cx="217.0" cy="399.2" r="0.38" fill="#a0a0a0" fill-opacity="0.27"/><circle cx="212.3" cy="408.9" r="0.51" fill="#a0a0a0" fill-opacity="0.43"/><circle cx="239.9" cy="405.3" r="0.36" fill="#a0a0a0" fill-opacity="0.60"/><circle cx="250.1" cy="416.3" r="0.53" fill="#a0a0a0" fill-opacity="0.31"/><circle cx="237.8" cy="417.1" r="0.40" fill="#a0a0a0" fill-opacity="0.56"/><circle cx="241.1" cy="400.9" r="0.48" fill="#a0a0a0" fill-opacity="0.33"/><circle cx="229.9" cy="393.9" r="0.52" fill="#a0a0a0" fill-opacity="0.53"/><circle cx="221.7" cy="416.6" r="0.36" fill="#a0a0a0" fill-opacity="0.32"/><circle cx="213.6" cy="411.5" r="0.50" fill="#a0a0a0" fill-opacity="0.40"/><circle cx="222.9" cy="406.3" r="0.54" fill="#a0a0a0" fill-opacity="0.30"/><circle cx="215.2" cy="395.7" r="0.51" fill="#a0a0a0" fill-opacity="0.41"/><circle cx="231.6" cy="431.2" r="0.51" fill="#a0a0a0" fill-opacity="0.31"/><circle cx="221.2" cy="419.3" r="0.47" fill="#a0a0a0" fill-opacity="0.50"/><circle cx="250.2" cy="427.5" r="0.40" fill="#a0a0a0" fill-opacity="0.52"/><circle cx="217.7" cy="401.3" r="0.50" fill="#a0a0a0" fill-opacity="0.43"/><circle cx="236.2" cy="423.3" r="0.38" fill="#a0a0a0" fill-opacity="0.44"/><circle cx="222.9" cy="414.9" r="0.38" fill="#a0a0a0" fill-opacity="0.27"/><circle cx="217.8" cy="420.4" r="0.52" fill="#a0a0a0" fill-opacity="0.51"/><circle cx="249.2" cy="403.7" r="0.47" fill="#a0a0a0" fill-opacity="0.30"/><circle cx="237.4" cy="403.6" r="0.44" fill="#a0a0a0" fill-opacity="0.60"/><circle cx="228.4" cy="412.0" r="0.44" fill="#a0a0a0" fill-opacity="0.28"/><circle cx="224.7" cy="411.7" r="0.50" fill="#a0a0a0" fill-opacity="0.48"/><circle cx="244.0" cy="400.4" r="0.38" fill="#a0a0a0" fill-opacity="0.63"/><circle cx="223.4" cy="402.3" r="0.38" fill="#a0a0a0" fill-opacity="0.51"/><circle cx="233.7" cy="423.0" r="0.44" fill="#a0a0a0" fill-opacity="0.68"/><circle cx="222.0" cy="409.3" r="0.44" fill="#a0a0a0" fill-opacity="0.54"/><circle cx="245.7" cy="432.7" r="0.35" fill="#a0a0a0" fill-opacity="0.68"/><circle cx="222.7" cy="407.4" r="0.50" fill="#a0a0a0" fill-opacity="0.68"/><circle cx="212.1" cy="403.3" r="0.39" fill="#a0a0a0" fill-opacity="0.36"/><circle cx="252.6" cy="406.5" r="0.40" fill="#a0a0a0" fill-opacity="0.52"/><circle cx="221.7" cy="399.9" r="0.44" fill="#a0a0a0" fill-opacity="0.50"/><circle cx="246.1" cy="417.6" r="0.54" fill="#a0a0a0" fill-opacity="0.28"/><circle cx="213.6" cy="403.4" r="0.40" fill="#a0a0a0" fill-opacity="0.61"/><circle cx="217.2" cy="397.5" r="0.43" fill="#a0a0a0" fill-opacity="0.57"/><circle cx="234.4" cy="422.8" r="0.36" fill="#a0a0a0" fill-opacity="0.68"/><circle cx="224.8" cy="430.1" r="0.45" fill="#a0a0a0" fill-opacity="0.65"/><circle cx="210.1" cy="409.5" r="0.55" fill="#a0a0a0" fill-opacity="0.51"/><circle cx="237.2" cy="409.9" r="0.52" fill="#a0a0a0" fill-opacity="0.31"/><circle cx="229.6" cy="416.9" r="0.39" fill="#a0a0a0" fill-opacity="0.48"/><circle cx="217.4" cy="424.6" r="0.37" fill="#a0a0a0" fill-opacity="0.40"/><circle cx="210.0" cy="414.4" r="0.40" fill="#a0a0a0" fill-opacity="0.42"/><circle cx="228.3" cy="415.2" r="0.52" fill="#a0a0a0" fill-opacity="0.42"/><circle cx="225.2" cy="425.4" r="0.44" fill="#a0a0a0" fill-opacity="0.25"/><circle cx="219.8" cy="400.4" r="0.42" fill="#a0a0a0" fill-opacity="0.68"/><circle cx="238.6" cy="395.0" r="0.50" fill="#a0a0a0" fill-opacity="0.45"/><circle cx="225.2" cy="404.9" r="0.54" fill="#a0a0a0" fill-opacity="0.38"/><circle cx="235.3" cy="429.7" r="0.42" fill="#a0a0a0" fill-opacity="0.27"/><circle cx="219.4" cy="410.3" r="0.47" fill="#a0a0a0" fill-opacity="0.52"/><circle cx="213.5" cy="431.7" r="0.49" fill="#a0a0a0" fill-opacity="0.31"/><circle cx="217.1" cy="405.3" r="0.48" fill="#a0a0a0" fill-opacity="0.65"/><circle cx="253.2" cy="406.1" r="0.37" fill="#a0a0a0" fill-opacity="0.68"/><circle cx="217.4" cy="402.3" r="0.44" fill="#a0a0a0" fill-opacity="0.36"/><circle cx="241.5" cy="423.4" r="0.47" fill="#a0a0a0" fill-opacity="0.42"/><circle cx="231.5" cy="399.4" r="0.36" fill="#a0a0a0" fill-opacity="0.43"/><circle cx="220.3" cy="431.4" r="0.48" fill="#a0a0a0" fill-opacity="0.64"/><circle cx="247.0" cy="416.4" r="0.38" fill="#a0a0a0" fill-opacity="0.35"/><circle cx="248.4" cy="404.9" r="0.44" fill="#a0a0a0" fill-opacity="0.37"/><circle cx="211.2" cy="418.7" r="0.47" fill="#a0a0a0" fill-opacity="0.46"/><circle cx="244.5" cy="429.3" r="0.40" fill="#a0a0a0" fill-opacity="0.57"/><circle cx="215.9" cy="412.0" r="0.45" fill="#a0a0a0" fill-opacity="0.33"/><circle cx="224.7" cy="394.6" r="0.42" fill="#a0a0a0" fill-opacity="0.57"/><circle cx="253.6" cy="396.9" r="0.37" fill="#a0a0a0" fill-opacity="0.33"/><circle cx="249.5" cy="418.6" r="0.43" fill="#a0a0a0" fill-opacity="0.47"/><circle cx="225.1" cy="414.1" r="0.55" fill="#a0a0a0" fill-opacity="0.38"/><circle cx="209.2" cy="397.6" r="0.51" fill="#a0a0a0" fill-opacity="0.66"/><circle cx="220.3" cy="420.9" r="0.50" fill="#a0a0a0" fill-opacity="0.43"/><circle cx="251.2" cy="421.7" r="0.46" fill="#a0a0a0" fill-opacity="0.28"/><circle cx="248.5" cy="397.2" r="0.55" fill="#a0a0a0" fill-opacity="0.59"/><circle cx="220.8" cy="411.0" r="0.53" fill="#a0a0a0" fill-opacity="0.42"/><circle cx="217.4" cy="410.0" r="0.44" fill="#a0a0a0" fill-opacity="0.32"/><circle cx="220.4" cy="399.9" r="0.53" fill="#a0a0a0" fill-opacity="0.49"/><circle cx="245.6" cy="416.3" r="0.53" fill="#a0a0a0" fill-opacity="0.32"/><circle cx="225.7" cy="409.0" r="0.38" fill="#a0a0a0" fill-opacity="0.64"/><circle cx="233.3" cy="413.5" r="0.41" fill="#a0a0a0" fill-opacity="0.54"/><circle cx="225.1" cy="397.7" r="0.53" fill="#a0a0a0" fill-opacity="0.63"/><circle cx="226.3" cy="423.7" r="0.35" fill="#a0a0a0" fill-opacity="0.69"/><circle cx="226.2" cy="413.4" r="0.50" fill="#a0a0a0" fill-opacity="0.61"/><circle cx="240.6" cy="427.9" r="0.39" fill="#a0a0a0" fill-opacity="0.56"/><circle cx="223.1" cy="415.6" r="0.43" fill="#a0a0a0" fill-opacity="0.47"/><circle cx="211.4" cy="407.5" r="0.52" fill="#a0a0a0" fill-opacity="0.66"/><circle cx="219.6" cy="393.7" r="0.41" fill="#a0a0a0" fill-opacity="0.68"/><circle cx="252.7" cy="419.1" r="0.37" fill="#a0a0a0" fill-opacity="0.43"/><circle cx="241.8" cy="422.4" r="0.39" fill="#a0a0a0" fill-opacity="0.29"/><circle cx="210.6" cy="402.2" r="0.44" fill="#a0a0a0" fill-opacity="0.54"/><circle cx="253.4" cy="400.3" r="0.51" fill="#a0a0a0" fill-opacity="0.67"/><circle cx="238.5" cy="415.9" r="0.36" fill="#a0a0a0" fill-opacity="0.37"/><circle cx="234.3" cy="415.6" r="0.50" fill="#a0a0a0" fill-opacity="0.67"/><circle cx="246.5" cy="420.1" r="0.50" fill="#a0a0a0" fill-opacity="0.62"/><circle cx="230.0" cy="430.5" r="0.37" fill="#a0a0a0" fill-opacity="0.52"/><circle cx="225.6" cy="411.3" r="0.41" fill="#a0a0a0" fill-opacity="0.28"/><circle cx="236.1" cy="421.0" r="0.43" fill="#a0a0a0" fill-opacity="0.63"/><circle cx="236.6" cy="432.7" r="0.46" fill="#a0a0a0" fill-opacity="0.40"/><circle cx="253.2" cy="432.3" r="0.50" fill="#a0a0a0" fill-opacity="0.34"/><circle cx="231.4" cy="414.8" r="0.38" fill="#a0a0a0" fill-opacity="0.57"/>
<g>
<path d="M212.00,404.00 C213.08,401.25 215.17,400.00 217.00,399.50 C218.83,399.00 221.50,399.75 223.00,401.00 C224.50,402.25 224.83,405.00 226.00,407.00 C227.17,409.00 227.67,411.75 230.00,413.00 C232.33,414.25 236.83,414.17 240.00,414.50 C243.17,414.83 246.83,414.08 249.00,415.00 C251.17,415.92 252.50,418.00 253.00,420.00 C253.50,422.00 253.17,425.25 252.00,427.00 C250.83,428.75 248.67,429.92 246.00,430.50 C243.33,431.08 239.33,430.50 236.00,430.50 C232.67,430.50 229.33,430.42 226.00,430.50 C222.67,430.58 218.42,431.58 216.00,431.00 C213.58,430.42 212.42,429.50 211.50,427.00 C210.58,424.50 210.42,419.83 210.50,416.00 C210.58,412.17 210.92,406.75 212.00,404.00 Z" fill="#e2e2e2" filter="url(#b07)"/>
<path d="M213.00,404.00 C214.00,402.50 215.92,401.25 217.50,401.00 C219.08,400.75 221.25,401.17 222.50,402.50 C223.75,403.83 224.37,406.25 225.00,409.00 C225.63,411.75 226.38,415.92 226.30,419.00 C226.22,422.08 225.80,425.67 224.50,427.50 C223.20,429.33 220.42,430.00 218.50,430.00 C216.58,430.00 214.20,429.33 213.00,427.50 C211.80,425.67 211.55,421.92 211.30,419.00 C211.05,416.08 211.22,412.50 211.50,410.00 C211.78,407.50 212.00,405.50 213.00,404.00 Z" fill="#c2c2c2" stroke="#a2a2a2" stroke-width="0.9" filter="url(#b07)"/>
<ellipse cx="218.6" cy="419.5" rx="4" ry="7.5" fill="#d4d4d4" stroke="#b4b4b4" stroke-width="0.5"/>
<ellipse cx="218.2" cy="421.2" rx="1.6" ry="2.6" fill="#f6f6f6"/>
<ellipse cx="244" cy="421.8" rx="1.58" ry="1.27" fill="none" stroke="#a8a8a8" stroke-width="0.45"/>
<ellipse cx="244" cy="421.8" rx="3.15" ry="2.55" fill="none" stroke="#a8a8a8" stroke-width="0.45"/>
<ellipse cx="244" cy="421.8" rx="4.73" ry="3.82" fill="none" stroke="#a8a8a8" stroke-width="0.45"/>
<ellipse cx="244" cy="421.8" rx="6.30" ry="5.10" fill="none" stroke="#a8a8a8" stroke-width="0.45"/>
<ellipse cx="244" cy="421.8" rx="7.88" ry="6.38" fill="none" stroke="#a8a8a8" stroke-width="0.45"/>
<circle cx="244" cy="421.5" r="1" fill="#fafafa"/>
<path d="M236.5,414 A3,2.7 0 0 1 239.5,411.3" fill="none" stroke="#9c9c9c" stroke-width="0.45"/>
<path d="M234.5,414 A5,4.5 0 0 1 239.5,409.5" fill="none" stroke="#9c9c9c" stroke-width="0.45"/>
<path d="M232.5,414 A7,6.3 0 0 1 239.5,407.7" fill="none" stroke="#9c9c9c" stroke-width="0.45"/>
<path d="M230.5,414 A9,8.1 0 0 1 239.5,405.9" fill="none" stroke="#9c9c9c" stroke-width="0.45"/>
<path d="M228.5,414 A11,9.9 0 0 1 239.5,404.1" fill="none" stroke="#9c9c9c" stroke-width="0.45"/>
<path d="M239,404 L243,409 L246,405 M243,409 L245,413 M235,396 L238,403" fill="none" stroke="#aaa" stroke-width="0.45"/>
</g>
<circle cx="301.2" cy="422.1" r="0.37" fill="#a0a0a0" fill-opacity="0.32"/><circle cx="329.1" cy="424.6" r="0.38" fill="#a0a0a0" fill-opacity="0.42"/><circle cx="320.8" cy="410.9" r="0.37" fill="#a0a0a0" fill-opacity="0.37"/><circle cx="289.7" cy="393.3" r="0.48" fill="#a0a0a0" fill-opacity="0.43"/><circle cx="330.3" cy="412.3" r="0.47" fill="#a0a0a0" fill-opacity="0.47"/><circle cx="307.9" cy="409.5" r="0.37" fill="#a0a0a0" fill-opacity="0.66"/><circle cx="321.4" cy="395.4" r="0.44" fill="#a0a0a0" fill-opacity="0.53"/><circle cx="302.4" cy="413.0" r="0.51" fill="#a0a0a0" fill-opacity="0.59"/><circle cx="291.0" cy="396.7" r="0.51" fill="#a0a0a0" fill-opacity="0.55"/><circle cx="314.7" cy="431.4" r="0.44" fill="#a0a0a0" fill-opacity="0.32"/><circle cx="300.5" cy="424.5" r="0.40" fill="#a0a0a0" fill-opacity="0.27"/><circle cx="309.0" cy="421.2" r="0.39" fill="#a0a0a0" fill-opacity="0.47"/><circle cx="303.2" cy="422.8" r="0.39" fill="#a0a0a0" fill-opacity="0.66"/><circle cx="299.6" cy="423.9" r="0.43" fill="#a0a0a0" fill-opacity="0.29"/><circle cx="291.7" cy="401.4" r="0.48" fill="#a0a0a0" fill-opacity="0.52"/><circle cx="319.7" cy="405.4" r="0.39" fill="#a0a0a0" fill-opacity="0.33"/><circle cx="320.4" cy="410.0" r="0.44" fill="#a0a0a0" fill-opacity="0.29"/><circle cx="311.2" cy="398.4" r="0.38" fill="#a0a0a0" fill-opacity="0.52"/><circle cx="308.7" cy="406.4" r="0.42" fill="#a0a0a0" fill-opacity="0.54"/><circle cx="305.1" cy="425.0" r="0.42" fill="#a0a0a0" fill-opacity="0.63"/><circle cx="302.9" cy="390.4" r="0.39" fill="#a0a0a0" fill-opacity="0.33"/><circle cx="315.7" cy="404.2" r="0.36" fill="#a0a0a0" fill-opacity="0.50"/><circle cx="298.0" cy="427.8" r="0.40" fill="#a0a0a0" fill-opacity="0.30"/><circle cx="329.3" cy="414.1" r="0.37" fill="#a0a0a0" fill-opacity="0.34"/><circle cx="290.4" cy="395.2" r="0.51" fill="#a0a0a0" fill-opacity="0.33"/><circle cx="291.1" cy="413.7" r="0.48" fill="#a0a0a0" fill-opacity="0.67"/><circle cx="287.3" cy="404.2" r="0.48" fill="#a0a0a0" fill-opacity="0.70"/><circle cx="317.9" cy="394.4" r="0.46" fill="#a0a0a0" fill-opacity="0.45"/><circle cx="318.7" cy="400.7" r="0.54" fill="#a0a0a0" fill-opacity="0.59"/><circle cx="300.7" cy="425.3" r="0.45" fill="#a0a0a0" fill-opacity="0.62"/><circle cx="306.1" cy="405.3" r="0.44" fill="#a0a0a0" fill-opacity="0.50"/><circle cx="301.2" cy="395.8" r="0.49" fill="#a0a0a0" fill-opacity="0.28"/><circle cx="296.7" cy="406.2" r="0.52" fill="#a0a0a0" fill-opacity="0.51"/><circle cx="291.5" cy="392.2" r="0.43" fill="#a0a0a0" fill-opacity="0.56"/><circle cx="292.9" cy="409.2" r="0.37" fill="#a0a0a0" fill-opacity="0.41"/><circle cx="314.8" cy="427.3" r="0.36" fill="#a0a0a0" fill-opacity="0.68"/><circle cx="310.6" cy="416.9" r="0.38" fill="#a0a0a0" fill-opacity="0.65"/><circle cx="314.1" cy="421.4" r="0.47" fill="#a0a0a0" fill-opacity="0.31"/><circle cx="329.4" cy="403.6" r="0.44" fill="#a0a0a0" fill-opacity="0.68"/><circle cx="306.2" cy="416.2" r="0.43" fill="#a0a0a0" fill-opacity="0.36"/><circle cx="289.2" cy="410.7" r="0.46" fill="#a0a0a0" fill-opacity="0.50"/><circle cx="292.3" cy="395.0" r="0.55" fill="#a0a0a0" fill-opacity="0.60"/><circle cx="328.1" cy="406.7" r="0.42" fill="#a0a0a0" fill-opacity="0.43"/><circle cx="326.9" cy="407.9" r="0.49" fill="#a0a0a0" fill-opacity="0.61"/><circle cx="295.5" cy="412.6" r="0.47" fill="#a0a0a0" fill-opacity="0.49"/><circle cx="310.7" cy="425.2" r="0.44" fill="#a0a0a0" fill-opacity="0.61"/><circle cx="312.8" cy="392.1" r="0.36" fill="#a0a0a0" fill-opacity="0.47"/><circle cx="330.1" cy="417.8" r="0.44" fill="#a0a0a0" fill-opacity="0.30"/><circle cx="316.1" cy="412.8" r="0.36" fill="#a0a0a0" fill-opacity="0.39"/><circle cx="298.8" cy="407.1" r="0.46" fill="#a0a0a0" fill-opacity="0.61"/><circle cx="289.8" cy="426.0" r="0.40" fill="#a0a0a0" fill-opacity="0.39"/><circle cx="289.7" cy="409.9" r="0.45" fill="#a0a0a0" fill-opacity="0.51"/><circle cx="327.1" cy="399.9" r="0.42" fill="#a0a0a0" fill-opacity="0.60"/><circle cx="291.4" cy="396.1" r="0.42" fill="#a0a0a0" fill-opacity="0.46"/><circle cx="305.5" cy="390.8" r="0.42" fill="#a0a0a0" fill-opacity="0.47"/><circle cx="300.3" cy="409.9" r="0.51" fill="#a0a0a0" fill-opacity="0.35"/><circle cx="326.4" cy="394.9" r="0.44" fill="#a0a0a0" fill-opacity="0.39"/><circle cx="289.7" cy="402.4" r="0.47" fill="#a0a0a0" fill-opacity="0.38"/><circle cx="306.7" cy="400.5" r="0.48" fill="#a0a0a0" fill-opacity="0.41"/><circle cx="292.0" cy="408.3" r="0.43" fill="#a0a0a0" fill-opacity="0.63"/><circle cx="309.3" cy="418.3" r="0.42" fill="#a0a0a0" fill-opacity="0.47"/><circle cx="320.8" cy="432.0" r="0.51" fill="#a0a0a0" fill-opacity="0.68"/><circle cx="291.5" cy="430.9" r="0.36" fill="#a0a0a0" fill-opacity="0.56"/><circle cx="294.7" cy="417.4" r="0.53" fill="#a0a0a0" fill-opacity="0.57"/><circle cx="308.0" cy="394.6" r="0.45" fill="#a0a0a0" fill-opacity="0.46"/><circle cx="300.4" cy="428.1" r="0.45" fill="#a0a0a0" fill-opacity="0.59"/><circle cx="324.7" cy="402.3" r="0.41" fill="#a0a0a0" fill-opacity="0.47"/><circle cx="332.7" cy="407.9" r="0.37" fill="#a0a0a0" fill-opacity="0.61"/><circle cx="296.0" cy="406.9" r="0.55" fill="#a0a0a0" fill-opacity="0.47"/><circle cx="299.4" cy="390.7" r="0.50" fill="#a0a0a0" fill-opacity="0.61"/><circle cx="301.9" cy="426.8" r="0.42" fill="#a0a0a0" fill-opacity="0.64"/><circle cx="309.4" cy="390.1" r="0.45" fill="#a0a0a0" fill-opacity="0.36"/><circle cx="314.9" cy="419.0" r="0.46" fill="#a0a0a0" fill-opacity="0.55"/><circle cx="305.5" cy="421.5" r="0.54" fill="#a0a0a0" fill-opacity="0.50"/><circle cx="293.3" cy="390.9" r="0.43" fill="#a0a0a0" fill-opacity="0.57"/><circle cx="327.7" cy="411.7" r="0.45" fill="#a0a0a0" fill-opacity="0.56"/><circle cx="297.2" cy="396.6" r="0.50" fill="#a0a0a0" fill-opacity="0.51"/><circle cx="310.9" cy="393.9" r="0.43" fill="#a0a0a0" fill-opacity="0.59"/><circle cx="286.0" cy="407.3" r="0.37" fill="#a0a0a0" fill-opacity="0.41"/><circle cx="292.7" cy="407.2" r="0.42" fill="#a0a0a0" fill-opacity="0.52"/><circle cx="321.4" cy="428.0" r="0.40" fill="#a0a0a0" fill-opacity="0.56"/><circle cx="312.8" cy="398.6" r="0.36" fill="#a0a0a0" fill-opacity="0.66"/><circle cx="302.1" cy="432.0" r="0.51" fill="#a0a0a0" fill-opacity="0.37"/><circle cx="320.6" cy="403.1" r="0.41" fill="#a0a0a0" fill-opacity="0.66"/><circle cx="322.9" cy="390.0" r="0.45" fill="#a0a0a0" fill-opacity="0.68"/><circle cx="295.3" cy="407.0" r="0.49" fill="#a0a0a0" fill-opacity="0.56"/><circle cx="314.7" cy="391.2" r="0.41" fill="#a0a0a0" fill-opacity="0.40"/><circle cx="315.5" cy="405.4" r="0.50" fill="#a0a0a0" fill-opacity="0.44"/><circle cx="298.9" cy="398.6" r="0.41" fill="#a0a0a0" fill-opacity="0.55"/><circle cx="298.6" cy="400.0" r="0.39" fill="#a0a0a0" fill-opacity="0.47"/><circle cx="314.7" cy="393.4" r="0.43" fill="#a0a0a0" fill-opacity="0.54"/><circle cx="326.1" cy="402.0" r="0.45" fill="#a0a0a0" fill-opacity="0.33"/><circle cx="286.4" cy="430.6" r="0.38" fill="#a0a0a0" fill-opacity="0.30"/><circle cx="290.0" cy="419.7" r="0.38" fill="#a0a0a0" fill-opacity="0.56"/><circle cx="325.4" cy="399.1" r="0.40" fill="#a0a0a0" fill-opacity="0.29"/><circle cx="324.4" cy="392.4" r="0.54" fill="#a0a0a0" fill-opacity="0.42"/><circle cx="290.0" cy="427.0" r="0.47" fill="#a0a0a0" fill-opacity="0.30"/><circle cx="300.1" cy="392.4" r="0.45" fill="#a0a0a0" fill-opacity="0.59"/><circle cx="307.2" cy="408.7" r="0.51" fill="#a0a0a0" fill-opacity="0.63"/><circle cx="331.9" cy="393.9" r="0.49" fill="#a0a0a0" fill-opacity="0.41"/><circle cx="323.9" cy="409.3" r="0.52" fill="#a0a0a0" fill-opacity="0.41"/><circle cx="298.7" cy="393.5" r="0.37" fill="#a0a0a0" fill-opacity="0.68"/><circle cx="289.4" cy="431.4" r="0.37" fill="#a0a0a0" fill-opacity="0.45"/><circle cx="286.7" cy="390.8" r="0.54" fill="#a0a0a0" fill-opacity="0.65"/><circle cx="327.8" cy="415.2" r="0.55" fill="#a0a0a0" fill-opacity="0.44"/><circle cx="297.3" cy="419.2" r="0.38" fill="#a0a0a0" fill-opacity="0.44"/><circle cx="311.3" cy="422.7" r="0.38" fill="#a0a0a0" fill-opacity="0.67"/><circle cx="333.8" cy="390.5" r="0.38" fill="#a0a0a0" fill-opacity="0.60"/><circle cx="331.9" cy="399.4" r="0.39" fill="#a0a0a0" fill-opacity="0.59"/><circle cx="316.4" cy="390.5" r="0.47" fill="#a0a0a0" fill-opacity="0.70"/>
<g>
<path d="M289.00,413.00 C289.83,410.67 291.17,408.33 293.00,407.00 C294.83,405.67 297.83,404.83 300.00,405.00 C302.17,405.17 304.17,406.67 306.00,408.00 C307.83,409.33 309.00,411.92 311.00,413.00 C313.00,414.08 315.83,414.17 318.00,414.50 C320.17,414.83 322.17,414.08 324.00,415.00 C325.83,415.92 328.33,417.92 329.00,420.00 C329.67,422.08 329.50,425.83 328.00,427.50 C326.50,429.17 323.33,429.75 320.00,430.00 C316.67,430.25 311.67,429.00 308.00,429.00 C304.33,429.00 300.83,430.17 298.00,430.00 C295.17,429.83 292.67,429.50 291.00,428.00 C289.33,426.50 288.33,423.50 288.00,421.00 C287.67,418.50 288.17,415.33 289.00,413.00 Z" fill="#e4e4e4" filter="url(#b07)"/>
<path d="M290.50,415.00 C291.42,413.42 293.25,412.00 295.00,411.50 C296.75,411.00 299.33,411.25 301.00,412.00 C302.67,412.75 303.50,414.67 305.00,416.00 C306.50,417.33 308.33,419.58 310.00,420.00 C311.67,420.42 313.17,419.00 315.00,418.50 C316.83,418.00 319.08,416.83 321.00,417.00 C322.92,417.17 325.50,418.17 326.50,419.50 C327.50,420.83 327.75,423.50 327.00,425.00 C326.25,426.50 324.17,428.08 322.00,428.50 C319.83,428.92 316.83,427.67 314.00,427.50 C311.17,427.33 307.83,427.33 305.00,427.50 C302.17,427.67 299.33,428.67 297.00,428.50 C294.67,428.33 292.25,427.75 291.00,426.50 C289.75,425.25 289.58,422.92 289.50,421.00 C289.42,419.08 289.58,416.58 290.50,415.00 Z" fill="#cfcfcf" stroke="#9a9a9a" stroke-width="0.9" filter="url(#b07)"/>
<ellipse cx="297" cy="420.5" rx="5.5" ry="5.2" fill="#dedede" stroke="#b8b8b8" stroke-width="0.5"/>
<ellipse cx="296.8" cy="420.8" rx="2" ry="1.8" fill="#f8f8f8"/>
<ellipse cx="321" cy="423.2" rx="3.8" ry="3.5" fill="#dcdcdc" stroke="#b0b0b0" stroke-width="0.5"/>
<ellipse cx="321" cy="423.4" rx="1.5" ry="1.4" fill="#f8f8f8"/>
<path d="M311.5,414 Q313.0,406.0 317.0,402.5" fill="none" stroke="#9a9a9a" stroke-width="0.5"/>
<path d="M314.1,414 Q315.6,406.3 319.6,403.0" fill="none" stroke="#9a9a9a" stroke-width="0.5"/>
<path d="M316.7,414 Q318.2,406.6 322.2,403.5" fill="none" stroke="#9a9a9a" stroke-width="0.5"/>
<path d="M319.3,414 Q320.8,406.9 324.8,404.0" fill="none" stroke="#9a9a9a" stroke-width="0.5"/>
<path d="M321.9,414 Q323.4,407.2 327.4,404.5" fill="none" stroke="#9a9a9a" stroke-width="0.5"/>
<path d="M324.5,414 Q326.0,407.5 330.0,405.0" fill="none" stroke="#9a9a9a" stroke-width="0.5"/>
</g>
<rect x="226.5" y="392.5" width="24.5" height="21.6" fill="none" stroke="#333" stroke-width="0.85"/>
<rect x="304.4" y="392.5" width="24.4" height="21.6" fill="none" stroke="#333" stroke-width="0.85"/>
<text x="262.4" y="401.6" font-size="9.89" text-anchor="middle" textLength="12.5" lengthAdjust="spacingAndGlyphs" >CLP</text>
<text x="262.0" y="410.9" font-size="9.89" text-anchor="middle" textLength="11.5" lengthAdjust="spacingAndGlyphs" >11.7</text>
<text x="342.0" y="401.6" font-size="9.89" text-anchor="middle" textLength="12.5" lengthAdjust="spacingAndGlyphs" >CLP</text>
<text x="341.8" y="410.9" font-size="9.89" text-anchor="middle" textLength="11.8" lengthAdjust="spacingAndGlyphs" >12.9</text>
<text x="370" y="337.2" font-size="11.5" font-weight="bold" style="fill:#111;stroke:#111" >H</text>
<rect x="406.2" y="356.6" width="9.5" height="5.7" fill="#b8002c"/>
<rect x="406.2" y="366.2" width="9.5" height="5.8" fill="#2c4d8c"/>
<text x="418.2" y="361.8" font-size="8.6" textLength="10.5" lengthAdjust="spacingAndGlyphs" >WT</text>
<text x="418.2" y="371.6" font-size="8.8" textLength="21.4" lengthAdjust="spacingAndGlyphs" >SRC-3</text>
<text x="440.09999999999997" y="368.4" font-size="5.29" textLength="4.6" lengthAdjust="spacingAndGlyphs" >-/-</text>
<line x1="400.8" y1="356.8" x2="400.8" y2="435.2" stroke="#1a1a1a" stroke-width="1.3"/>
<line x1="397.2" y1="359.7" x2="400.8" y2="359.7" stroke="#1a1a1a" stroke-width="1.2"/>
<text x="395.4" y="362.7" font-size="8.8" text-anchor="end" textLength="11.5" lengthAdjust="spacingAndGlyphs" >0.8</text>
<line x1="397.2" y1="378.5" x2="400.8" y2="378.5" stroke="#1a1a1a" stroke-width="1.2"/>
<text x="395.4" y="381.5" font-size="8.8" text-anchor="end" textLength="11.5" lengthAdjust="spacingAndGlyphs" >0.6</text>
<line x1="397.2" y1="397.2" x2="400.8" y2="397.2" stroke="#1a1a1a" stroke-width="1.2"/>
<text x="395.4" y="400.2" font-size="8.8" text-anchor="end" textLength="11.5" lengthAdjust="spacingAndGlyphs" >0.4</text>
<line x1="397.2" y1="415.9" x2="400.8" y2="415.9" stroke="#1a1a1a" stroke-width="1.2"/>
<text x="395.4" y="418.9" font-size="8.8" text-anchor="end" textLength="11.5" lengthAdjust="spacingAndGlyphs" >0.2</text>
<line x1="397.2" y1="434.9" x2="400.8" y2="434.9" stroke="#1a1a1a" stroke-width="1.2"/>
<text x="395.4" y="437.9" font-size="8.8" text-anchor="end" textLength="11.5" lengthAdjust="spacingAndGlyphs" >0.0</text>
<line x1="400.2" y1="434.9" x2="508.8" y2="434.9" stroke="#1a1a1a" stroke-width="1.3"/>
<line x1="414.25" y1="434.9" x2="414.25" y2="438.3" stroke="#1a1a1a" stroke-width="1.2"/>
<line x1="441.1" y1="434.9" x2="441.1" y2="438.3" stroke="#1a1a1a" stroke-width="1.2"/>
<line x1="468.25" y1="434.9" x2="468.25" y2="438.3" stroke="#1a1a1a" stroke-width="1.2"/>
<line x1="495.2" y1="434.9" x2="495.2" y2="438.3" stroke="#1a1a1a" stroke-width="1.2"/>
<rect x="405.4" y="388.9" width="7.7" height="46.0" fill="#b8002c"/>
<line x1="409.25" y1="389.4" x2="409.25" y2="380.8" stroke="#1e1e1e" stroke-width="1.15"/>
<line x1="407.25" y1="380.8" x2="411.25" y2="380.8" stroke="#1e1e1e" stroke-width="1.4"/>
<rect x="415.1" y="381.2" width="8.0" height="53.7" fill="#2c4d8c"/>
<line x1="419.1" y1="381.7" x2="419.1" y2="376.6" stroke="#1e1e1e" stroke-width="1.15"/>
<line x1="417.1" y1="376.6" x2="421.1" y2="376.6" stroke="#1e1e1e" stroke-width="1.4"/>
<rect x="432.2" y="395.7" width="7.8" height="39.2" fill="#b8002c"/>
<line x1="436.1" y1="396.2" x2="436.1" y2="391.2" stroke="#1e1e1e" stroke-width="1.15"/>
<line x1="434.1" y1="391.2" x2="438.1" y2="391.2" stroke="#1e1e1e" stroke-width="1.4"/>
<rect x="442.5" y="410.3" width="7.5" height="24.6" fill="#2c4d8c"/>
<line x1="446.25" y1="410.8" x2="446.25" y2="406.8" stroke="#1e1e1e" stroke-width="1.15"/>
<line x1="444.25" y1="406.8" x2="448.25" y2="406.8" stroke="#1e1e1e" stroke-width="1.4"/>
<rect x="459.5" y="380.5" width="7.4" height="54.4" fill="#b8002c"/>
<line x1="463.2" y1="381.0" x2="463.2" y2="374.0" stroke="#1e1e1e" stroke-width="1.15"/>
<line x1="461.2" y1="374.0" x2="465.2" y2="374.0" stroke="#1e1e1e" stroke-width="1.4"/>
<rect x="469.2" y="374.0" width="7.8" height="60.9" fill="#2c4d8c"/>
<line x1="473.1" y1="374.5" x2="473.1" y2="366.4" stroke="#1e1e1e" stroke-width="1.15"/>
<line x1="471.1" y1="366.4" x2="475.1" y2="366.4" stroke="#1e1e1e" stroke-width="1.4"/>
<rect x="486.4" y="425.3" width="7.4" height="9.6" fill="#b8002c"/>
<line x1="490.1" y1="425.8" x2="490.1" y2="423.7" stroke="#1e1e1e" stroke-width="1.15"/>
<line x1="488.1" y1="423.7" x2="492.1" y2="423.7" stroke="#1e1e1e" stroke-width="1.4"/>
<rect x="496.2" y="423.4" width="7.8" height="11.5" fill="#2c4d8c"/>
<line x1="500.1" y1="423.9" x2="500.1" y2="420.8" stroke="#1e1e1e" stroke-width="1.15"/>
<line x1="498.1" y1="420.8" x2="502.1" y2="420.8" stroke="#1e1e1e" stroke-width="1.4"/>
<text x="446.2" y="406.70000000000005" font-size="8.4" font-weight="bold" text-anchor="middle" style="fill:#222;stroke:#222" >**</text>
<text x="414.2" y="447.7" font-size="9.1" text-anchor="middle" textLength="18" lengthAdjust="spacingAndGlyphs" >GMP</text>
<text x="441.3" y="447.7" font-size="9.1" text-anchor="middle" textLength="17" lengthAdjust="spacingAndGlyphs" >CMP</text>
<text x="468.4" y="447.7" font-size="9.1" text-anchor="middle" textLength="15.8" lengthAdjust="spacingAndGlyphs" >MEP</text>
<text x="495.2" y="447.7" font-size="9.1" text-anchor="middle" textLength="14" lengthAdjust="spacingAndGlyphs" >CLP</text>
<text x="0" y="0" transform="translate(378.1,395.8) rotate(-90)" font-size="9.43" text-anchor="middle" textLength="60.3" lengthAdjust="spacingAndGlyphs" >% within BM cells</text>
<rect x="0" y="0" width="520" height="1.5" fill="#000"/>
<rect x="0" y="0" width="1.5" height="462" fill="#000"/>
<rect x="518.9" y="0" width="1.1" height="462" fill="#000"/>
<rect x="0" y="460" width="520" height="2" fill="#000"/>
</svg></body></html>
